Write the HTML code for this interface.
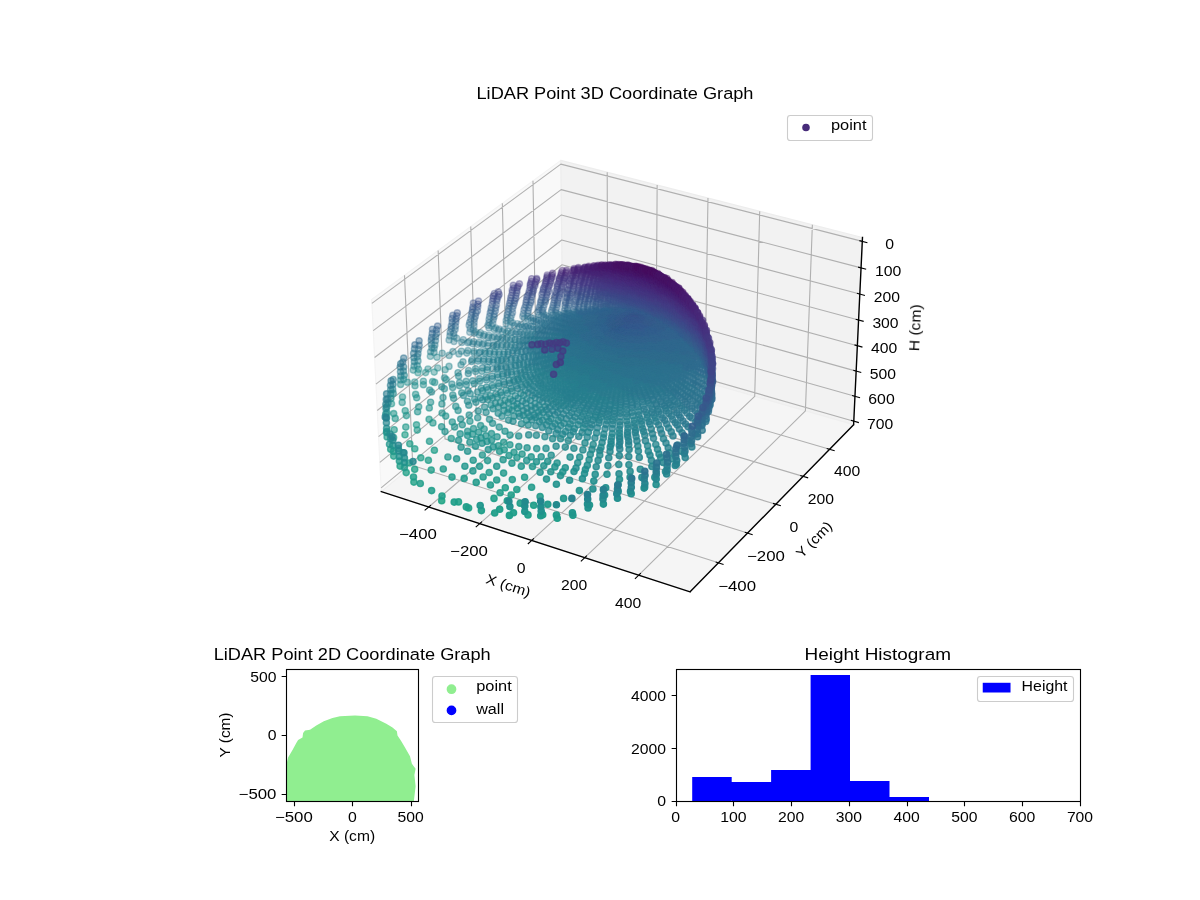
<!DOCTYPE html>
<html><head><meta charset="utf-8"><title>LiDAR Point Coordinate Graphs</title>
<style>html,body{margin:0;padding:0;background:#fff}svg{display:block}text{font-family:"Liberation Sans",sans-serif}</style></head>
<body>
<svg width="1200" height="900" viewBox="0 0 1200 900">
<rect width="1200" height="900" fill="#fff"/>
<g id="panes">
<polygon points="371.69,299.4 560.81,160.37 562.95,341.18 381.3,491.61" fill="#f9f9f9" stroke="#f4f4f4" stroke-width="1.2" stroke-linejoin="round"/>
<polygon points="560.81,160.37 862.49,237.5 853.61,424.77 562.95,341.18" fill="#f2f2f2" stroke="#ededed" stroke-width="1.2" stroke-linejoin="round"/>
<polygon points="381.3,491.61 690.11,591.86 853.61,424.77 562.95,341.18" fill="#f5f5f5" stroke="#efefef" stroke-width="1.2" stroke-linejoin="round"/>
</g>
<path d="M428.69 507L607.74 354.06L607.21 172.23M718.51 562.83L412.73 465.59L404.51 275.27M479.73 523.57L655.9 367.91L657.15 185M747.62 533.08L445 438.86L438.15 250.54M531.73 540.45L704.88 382L707.98 198M775.81 504.28L476.3 412.94L470.75 226.57M584.71 557.64L754.71 396.33L759.71 211.22M803.12 476.37L506.67 387.79L502.35 203.34M638.69 575.17L805.4 410.9L812.37 224.69M829.58 449.32L536.15 363.38L532.98 180.82M371.89 303.39L560.85 164.11L862.3 241.38M373.25 330.61L561.15 189.65L861.05 267.87M374.6 357.54L561.45 214.93L859.8 294.08M375.93 384.17L561.75 239.97L858.57 320.02M377.24 410.52L562.05 264.76L857.36 345.7M378.55 436.6L562.34 289.3L856.15 371.11M379.84 462.39L562.63 313.62L854.96 396.26M381.11 487.91L562.91 337.69L853.78 421.16" fill="none" stroke="#b0b0b0" stroke-width="1.11" stroke-linejoin="round"/>
<path d="M381.3 491.61L690.11 591.86M690.11 591.86L853.61 424.77M853.61 424.77L862.49 237.5" fill="none" stroke="#000" stroke-width="1.4" stroke-linecap="square"/>
<path d="M430.97 505.05L424.66 510.44M715.66 561.92L723.57 564.44M481.98 521.58L475.76 527.08M744.76 532.19L752.68 534.66M533.94 538.42L527.82 544.02M772.94 503.4L780.88 505.82M586.88 555.58L580.86 561.29M800.24 475.51L808.19 477.89M640.83 573.06L634.92 578.89M826.7 448.48L834.67 450.81M859.39 240.64L867.43 242.7M858.14 267.11L866.17 269.21M856.9 293.31L864.93 295.44M855.68 319.24L863.69 321.4M854.46 344.9L862.47 347.1M853.26 370.3L861.26 372.53M852.07 395.44L860.06 397.7M850.89 420.33L858.87 422.62" fill="none" stroke="#000" stroke-width="1.11"/>
<style>#sc circle{stroke-width:1.39px}.c2{fill:#470d60;stroke:#470d60}.c3{fill:#471365;stroke:#471365}.c4{fill:#48186a;stroke:#48186a}.c5{fill:#481d6f;stroke:#481d6f}.c6{fill:#482374;stroke:#482374}.c7{fill:#482878;stroke:#482878}.c8{fill:#472d7b;stroke:#472d7b}.c9{fill:#46327e;stroke:#46327e}.c10{fill:#453781;stroke:#453781}.c11{fill:#443b84;stroke:#443b84}.c12{fill:#424086;stroke:#424086}.c13{fill:#404588;stroke:#404588}.c14{fill:#3e4989;stroke:#3e4989}.c15{fill:#3d4e8a;stroke:#3d4e8a}.c16{fill:#3a538b;stroke:#3a538b}.c17{fill:#38588c;stroke:#38588c}.c18{fill:#365c8d;stroke:#365c8d}.c19{fill:#34608d;stroke:#34608d}.c20{fill:#32648e;stroke:#32648e}.c21{fill:#31688e;stroke:#31688e}.c22{fill:#2f6c8e;stroke:#2f6c8e}.c23{fill:#2d708e;stroke:#2d708e}.c24{fill:#2c738e;stroke:#2c738e}.c25{fill:#2a778e;stroke:#2a778e}.c26{fill:#297b8e;stroke:#297b8e}.c27{fill:#277f8e;stroke:#277f8e}.c28{fill:#26828e;stroke:#26828e}.c29{fill:#24868e;stroke:#24868e}.c30{fill:#238a8d;stroke:#238a8d}.c31{fill:#218e8d;stroke:#218e8d}.c32{fill:#20928c;stroke:#20928c}.c33{fill:#1f968b;stroke:#1f968b}.c34{fill:#1f9a8a;stroke:#1f9a8a}.c35{fill:#1f9e89;stroke:#1f9e89}.c36{fill:#1fa187;stroke:#1fa187}.c37{fill:#21a585;stroke:#21a585}.a0{fill-opacity:0.3;stroke-opacity:0.3}.a1{fill-opacity:0.33;stroke-opacity:0.33}.a2{fill-opacity:0.36;stroke-opacity:0.36}.a3{fill-opacity:0.39;stroke-opacity:0.39}.a4{fill-opacity:0.42;stroke-opacity:0.42}.a5{fill-opacity:0.45;stroke-opacity:0.45}.a6{fill-opacity:0.48;stroke-opacity:0.48}.a7{fill-opacity:0.51;stroke-opacity:0.51}.a8{fill-opacity:0.54;stroke-opacity:0.54}.a9{fill-opacity:0.57;stroke-opacity:0.57}.a10{fill-opacity:0.6;stroke-opacity:0.6}.a11{fill-opacity:0.63;stroke-opacity:0.63}.a12{fill-opacity:0.67;stroke-opacity:0.67}.a13{fill-opacity:0.7;stroke-opacity:0.7}.a14{fill-opacity:0.73;stroke-opacity:0.73}.a15{fill-opacity:0.76;stroke-opacity:0.76}.a16{fill-opacity:0.79;stroke-opacity:0.79}.a17{fill-opacity:0.82;stroke-opacity:0.82}.a18{fill-opacity:0.85;stroke-opacity:0.85}.a19{fill-opacity:0.88;stroke-opacity:0.88}.a20{fill-opacity:0.91;stroke-opacity:0.91}.a21{fill-opacity:0.94;stroke-opacity:0.94}.a22{fill-opacity:0.97;stroke-opacity:0.97}.a23{fill-opacity:1;stroke-opacity:1}</style>
<g id="sc">
<g class="a0">
<circle class="c22" cx="555.8" cy="312.5" r="3.1"/>
<circle class="c22" cx="551.5" cy="312.2" r="3.1"/>
<circle class="c23" cx="527.6" cy="316.2" r="3.1"/>
<circle class="c22" cx="563.9" cy="311.2" r="3.1"/>
<circle class="c22" cx="542.7" cy="312.1" r="3.1"/>
<circle class="c23" cx="543.5" cy="314.4" r="3.1"/>
<circle class="c23" cx="539.3" cy="314.8" r="3.1"/>
<circle class="c23" cx="522.8" cy="316.4" r="3.1"/>
<circle class="c23" cx="557.5" cy="313.7" r="3.1"/>
<circle class="c22" cx="537.7" cy="312.1" r="3.1"/>
<circle class="c22" cx="567.7" cy="310.3" r="3.1"/>
<circle class="c22" cx="551.7" cy="310.1" r="3.1"/>
<circle class="c23" cx="552.8" cy="314.8" r="3.1"/>
<circle class="c24" cx="524.4" cy="318.3" r="3.1"/>
<circle class="c21" cx="538.9" cy="309.8" r="3.1"/>
<circle class="c21" cx="555.8" cy="310" r="3.1"/>
<circle class="c21" cx="542.4" cy="310.1" r="3.1"/>
<circle class="c22" cx="564.3" cy="313.4" r="3.1"/>
<circle class="c23" cx="555.7" cy="315.4" r="3.1"/>
<circle class="c25" cx="506.1" cy="323.7" r="3.1"/>
<circle class="c22" cx="574.3" cy="311.7" r="3.1"/>
<circle class="c25" cx="510.6" cy="321.5" r="3.1"/>
<circle class="c23" cx="530.5" cy="317.5" r="3.1"/>
<circle class="c22" cx="527.9" cy="313" r="3.1"/>
<circle class="c21" cx="564.9" cy="308.2" r="3.1"/>
<circle class="c21" cx="567.7" cy="308.5" r="3.1"/>
<circle class="c21" cx="557.1" cy="307.4" r="3.1"/>
<circle class="c22" cx="523.4" cy="313.7" r="3.1"/>
<circle class="c22" cx="568" cy="312.9" r="3.1"/>
<circle class="c21" cx="552.8" cy="307.7" r="3.1"/>
<circle class="c21" cx="577.9" cy="309.7" r="3.1"/>
<circle class="c21" cx="573.9" cy="309.4" r="3.1"/>
<circle class="c23" cx="546.1" cy="315.4" r="3.1"/>
<circle class="c22" cx="565.8" cy="314.1" r="3.1"/>
<circle class="c23" cx="541.8" cy="315.8" r="3.1"/>
<circle class="c21" cx="528.2" cy="310.8" r="3.1"/>
<circle class="c20" cx="553.1" cy="305.4" r="3.1"/>
<circle class="c24" cx="510.6" cy="318.3" r="3.1"/>
<circle class="c21" cx="578.5" cy="310.9" r="3.1"/>
<circle class="c21" cx="543.4" cy="308" r="3.1"/>
<circle class="c23" cx="559.1" cy="314.9" r="3.1"/>
<circle class="c25" cx="512.6" cy="322.8" r="3.1"/>
<circle class="c24" cx="527.8" cy="319.3" r="3.1"/>
<circle class="c20" cx="539" cy="307.6" r="3.1"/>
<circle class="c22" cx="569.5" cy="313.1" r="3.1"/>
<circle class="c20" cx="557.1" cy="304.8" r="3.1"/>
<circle class="c24" cx="506.1" cy="320.6" r="3.1"/>
<circle class="c20" cx="574.8" cy="306.5" r="3.1"/>
<circle class="c20" cx="578.8" cy="307.4" r="3.1"/>
<circle class="c22" cx="583.6" cy="311.6" r="3.1"/>
<circle class="c22" cx="576.1" cy="312.6" r="3.1"/>
<circle class="c20" cx="544.1" cy="304.9" r="3.1"/>
<circle class="c23" cx="548.7" cy="316.5" r="3.1"/>
<circle class="c21" cx="523.9" cy="310.1" r="3.1"/>
<circle class="c20" cx="568.7" cy="305.3" r="3.1"/>
<circle class="c20" cx="564.9" cy="305.2" r="3.1"/>
<circle class="c23" cx="533.6" cy="318.2" r="3.1"/>
<circle class="c23" cx="543.8" cy="316.9" r="3.1"/>
<circle class="c21" cx="583.6" cy="308.7" r="3.1"/>
<circle class="c25" cx="510.1" cy="325.4" r="3.1"/>
<circle class="c20" cx="528.9" cy="307.7" r="3.1"/>
<circle class="c23" cx="507" cy="317.7" r="3.1"/>
<circle class="c23" cx="557.2" cy="316.5" r="3.1"/>
<circle class="c21" cx="587.6" cy="310.8" r="3.1"/>
<circle class="c22" cx="511.6" cy="315.3" r="3.1"/>
<circle class="c19" cx="565.7" cy="303.2" r="3.1"/>
<circle class="c22" cx="567.5" cy="314.2" r="3.1"/>
<circle class="c25" cx="517.3" cy="323.7" r="3.1"/>
<circle class="c20" cx="540.4" cy="305.1" r="3.1"/>
<circle class="c19" cx="575.2" cy="304.3" r="3.1"/>
<circle class="c20" cx="587.5" cy="308.5" r="3.1"/>
<circle class="c20" cx="529.6" cy="305.1" r="3.1"/>
<circle class="c21" cx="579.5" cy="311.9" r="3.1"/>
<circle class="c19" cx="557.7" cy="302.8" r="3.1"/>
<circle class="c25" cx="491.8" cy="326.1" r="3.1"/>
<circle class="c20" cx="524.7" cy="307.6" r="3.1"/>
<circle class="c19" cx="553.8" cy="303" r="3.1"/>
<circle class="c22" cx="562" cy="315.7" r="3.1"/>
<circle class="c19" cx="569.1" cy="303.1" r="3.1"/>
<circle class="c22" cx="572.1" cy="314" r="3.1"/>
<circle class="c24" cx="531.2" cy="320.7" r="3.1"/>
</g>
<g class="a1">
<circle class="c22" cx="577.2" cy="313.8" r="3.1"/>
<circle class="c20" cx="583.7" cy="306.3" r="3.1"/>
<circle class="c21" cx="512.5" cy="312.5" r="3.1"/>
<circle class="c22" cx="507.2" cy="314.8" r="3.1"/>
<circle class="c19" cx="545.3" cy="301.9" r="3.1"/>
<circle class="c19" cx="525.8" cy="305.1" r="3.1"/>
<circle class="c23" cx="546.1" cy="318.4" r="3.1"/>
<circle class="c26" cx="495.7" cy="328" r="3.1"/>
<circle class="c19" cx="540.6" cy="302.4" r="3.1"/>
<circle class="c19" cx="579.3" cy="304" r="3.1"/>
<circle class="c21" cx="584.4" cy="312.1" r="3.1"/>
<circle class="c21" cx="588.4" cy="311.4" r="3.1"/>
<circle class="c21" cx="592.3" cy="309.9" r="3.1"/>
<circle class="c18" cx="575.8" cy="302" r="3.1"/>
<circle class="c18" cx="557.9" cy="300.5" r="3.1"/>
<circle class="c21" cx="591.4" cy="309.5" r="3.1"/>
<circle class="c18" cx="569.3" cy="300.8" r="3.1"/>
<circle class="c21" cx="508.3" cy="311.8" r="3.1"/>
<circle class="c18" cx="565.5" cy="301.7" r="3.1"/>
<circle class="c20" cx="587.5" cy="306.8" r="3.1"/>
<circle class="c23" cx="550.7" cy="318" r="3.1"/>
<circle class="c18" cx="554.4" cy="300.3" r="3.1"/>
<circle class="c23" cx="536.1" cy="319.5" r="3.1"/>
<circle class="c25" cx="514.4" cy="325.7" r="3.1"/>
<circle class="c24" cx="492.8" cy="323.5" r="3.1"/>
<circle class="c22" cx="581.5" cy="313.4" r="3.1"/>
<circle class="c23" cx="548.8" cy="319.4" r="3.1"/>
<circle class="c19" cx="530.9" cy="302.6" r="3.1"/>
<circle class="c24" cx="521" cy="324.4" r="3.1"/>
<circle class="c23" cx="559.2" cy="317.4" r="3.1"/>
<circle class="c18" cx="545.4" cy="300.2" r="3.1"/>
<circle class="c20" cx="595.5" cy="308.4" r="3.1"/>
<circle class="c22" cx="569.8" cy="315.6" r="3.1"/>
<circle class="c17" cx="566.6" cy="298.1" r="3.1"/>
<circle class="c18" cx="541.1" cy="300.4" r="3.1"/>
<circle class="c22" cx="573" cy="314.5" r="3.1"/>
<circle class="c23" cx="538.6" cy="320.4" r="3.1"/>
<circle class="c19" cx="584.2" cy="304.2" r="3.1"/>
<circle class="c17" cx="559.5" cy="298.1" r="3.1"/>
<circle class="c24" cx="533.6" cy="321.1" r="3.1"/>
<circle class="c18" cx="579.4" cy="301.9" r="3.1"/>
<circle class="c22" cx="563.8" cy="316.9" r="3.1"/>
<circle class="c20" cx="599.4" cy="308.9" r="3.1"/>
<circle class="c21" cx="586.4" cy="312.8" r="3.1"/>
<circle class="c18" cx="575.8" cy="300.1" r="3.1"/>
<circle class="c20" cx="512.5" cy="308.8" r="3.1"/>
<circle class="c25" cx="489" cy="328" r="3.1"/>
<circle class="c25" cx="487.9" cy="325.3" r="3.1"/>
<circle class="c17" cx="569.8" cy="298.3" r="3.1"/>
<circle class="c23" cx="553.4" cy="319" r="3.1"/>
<circle class="c17" cx="554.3" cy="297.6" r="3.1"/>
<circle class="c21" cx="579" cy="313.6" r="3.1"/>
<circle class="c21" cx="596.1" cy="310.3" r="3.1"/>
<circle class="c21" cx="593.5" cy="310.9" r="3.1"/>
<circle class="c19" cx="587.4" cy="304.2" r="3.1"/>
<circle class="c19" cx="593.4" cy="306.1" r="3.1"/>
<circle class="c17" cx="546.1" cy="297.5" r="3.1"/>
<circle class="c19" cx="592.9" cy="303.6" r="3.1"/>
<circle class="c17" cx="542" cy="297.7" r="3.1"/>
<circle class="c18" cx="531.1" cy="300.6" r="3.1"/>
<circle class="c23" cx="493.3" cy="319.6" r="3.1"/>
<circle class="c20" cx="599.5" cy="310" r="3.1"/>
<circle class="c26" cx="494.2" cy="329.4" r="3.1"/>
<circle class="c16" cx="555" cy="295.6" r="3.1"/>
<circle class="c20" cx="603.6" cy="308.9" r="3.1"/>
<circle class="c18" cx="580.5" cy="300.3" r="3.1"/>
<circle class="c18" cx="585" cy="301.5" r="3.1"/>
<circle class="c23" cx="561.3" cy="318.2" r="3.1"/>
<circle class="c25" cx="518.8" cy="326.5" r="3.1"/>
<circle class="c18" cx="588.3" cy="301.2" r="3.1"/>
<circle class="c19" cx="513.3" cy="306" r="3.1"/>
<circle class="c22" cx="570.9" cy="316.2" r="3.1"/>
<circle class="c25" cx="499.1" cy="329" r="3.1"/>
<circle class="c24" cx="489" cy="322.7" r="3.1"/>
<circle class="c16" cx="559.3" cy="296" r="3.1"/>
<circle class="c19" cx="595.7" cy="306.2" r="3.1"/>
<circle class="c20" cx="508.4" cy="308.6" r="3.1"/>
<circle class="c18" cx="526" cy="302.3" r="3.1"/>
<circle class="c17" cx="570.7" cy="296.7" r="3.1"/>
<circle class="c25" cx="524.8" cy="325.9" r="3.1"/>
<circle class="c16" cx="567.1" cy="294.2" r="3.1"/>
<circle class="c17" cx="531.8" cy="296.9" r="3.1"/>
<circle class="c17" cx="526.6" cy="299.9" r="3.1"/>
<circle class="c22" cx="565.3" cy="317.5" r="3.1"/>
<circle class="c17" cx="580.7" cy="297.6" r="3.1"/>
<circle class="c17" cx="566.9" cy="296.8" r="3.1"/>
<circle class="c21" cx="586.9" cy="313.5" r="3.1"/>
<circle class="c19" cx="596.2" cy="304.1" r="3.1"/>
<circle class="c23" cx="536.3" cy="321.9" r="3.1"/>
<circle class="c21" cx="590" cy="312.5" r="3.1"/>
<circle class="c16" cx="547" cy="295.1" r="3.1"/>
<circle class="c22" cx="574.5" cy="315.8" r="3.1"/>
<circle class="c19" cx="600.3" cy="307.2" r="3.1"/>
<circle class="c19" cx="509.2" cy="305.8" r="3.1"/>
<circle class="c17" cx="577.2" cy="297.6" r="3.1"/>
<circle class="c21" cx="581.7" cy="313.6" r="3.1"/>
<circle class="c21" cx="593.3" cy="311.8" r="3.1"/>
<circle class="c17" cx="585.1" cy="299.2" r="3.1"/>
<circle class="c16" cx="541.9" cy="294.4" r="3.1"/>
<circle class="c23" cx="555.3" cy="319.7" r="3.1"/>
<circle class="c22" cx="563.6" cy="318.4" r="3.1"/>
<circle class="c20" cx="596.3" cy="311.2" r="3.1"/>
<circle class="c23" cx="551.6" cy="320.5" r="3.1"/>
<circle class="c17" cx="589.2" cy="299.5" r="3.1"/>
<circle class="c15" cx="556.2" cy="293.2" r="3.1"/>
<circle class="c23" cx="541.4" cy="322.1" r="3.1"/>
<circle class="c20" cx="599.7" cy="311.3" r="3.1"/>
<circle class="c25" cx="504.2" cy="329.5" r="3.1"/>
<circle class="c18" cx="514.2" cy="303.2" r="3.1"/>
<circle class="c19" cx="602.9" cy="306.6" r="3.1"/>
<circle class="c23" cx="489" cy="319.5" r="3.1"/>
<circle class="c21" cx="579.8" cy="314.9" r="3.1"/>
<circle class="c16" cx="560.2" cy="293.9" r="3.1"/>
<circle class="c16" cx="577.6" cy="295.5" r="3.1"/>
<circle class="c16" cx="570.4" cy="294.5" r="3.1"/>
<circle class="c20" cx="606.1" cy="309.4" r="3.1"/>
<circle class="c25" cx="522.3" cy="327.2" r="3.1"/>
<circle class="c16" cx="526.9" cy="297" r="3.1"/>
<circle class="c22" cx="494.1" cy="316.8" r="3.1"/>
<circle class="c22" cx="571.9" cy="317.7" r="3.1"/>
<circle class="c15" cx="547" cy="293.1" r="3.1"/>
<circle class="c24" cx="539.9" cy="323.4" r="3.1"/>
<circle class="c20" cx="603.4" cy="311.2" r="3.1"/>
<circle class="c15" cx="560.3" cy="291.8" r="3.1"/>
<circle class="c21" cx="583.6" cy="314.8" r="3.1"/>
<circle class="c21" cx="590.4" cy="313.6" r="3.1"/>
<circle class="c20" cx="596.6" cy="311.6" r="3.1"/>
<circle class="c18" cx="593.3" cy="301.7" r="3.1"/>
<circle class="c24" cx="544.3" cy="323.2" r="3.1"/>
<circle class="c23" cx="553.8" cy="320.8" r="3.1"/>
<circle class="c18" cx="596.4" cy="301.9" r="3.1"/>
<circle class="c16" cx="532.3" cy="294.5" r="3.1"/>
<circle class="c15" cx="555.3" cy="291.5" r="3.1"/>
<circle class="c25" cx="498.4" cy="330.3" r="3.1"/>
<circle class="c20" cx="609.8" cy="310.2" r="3.1"/>
<circle class="c21" cx="580.7" cy="315.7" r="3.1"/>
<circle class="c15" cx="542.9" cy="292.2" r="3.1"/>
<circle class="c15" cx="567" cy="292.4" r="3.1"/>
<circle class="c15" cx="572.1" cy="292.8" r="3.1"/>
<circle class="c22" cx="566.8" cy="318.4" r="3.1"/>
<circle class="c18" cx="600.3" cy="303.7" r="3.1"/>
<circle class="c16" cx="585.5" cy="297.3" r="3.1"/>
<circle class="c18" cx="509.7" cy="303.1" r="3.1"/>
<circle class="c19" cx="606.4" cy="306.9" r="3.1"/>
<circle class="c15" cx="548.4" cy="291.4" r="3.1"/>
<circle class="c16" cx="581.1" cy="296.2" r="3.1"/>
<circle class="c15" cx="577.3" cy="293.6" r="3.1"/>
<circle class="c20" cx="604" cy="311.7" r="3.1"/>
<circle class="c22" cx="576" cy="316.9" r="3.1"/>
<circle class="c24" cx="527.7" cy="326.1" r="3.1"/>
<circle class="c21" cx="595.3" cy="313" r="3.1"/>
<circle class="c23" cx="557.3" cy="321.2" r="3.1"/>
<circle class="c21" cx="588.6" cy="314.7" r="3.1"/>
<circle class="c22" cx="489.6" cy="316.4" r="3.1"/>
<circle class="c17" cx="593.1" cy="299.3" r="3.1"/>
<circle class="c16" cx="527.9" cy="295.5" r="3.1"/>
<circle class="c17" cx="589.2" cy="298.3" r="3.1"/>
<circle class="c15" cx="532.6" cy="292.3" r="3.1"/>
<circle class="c20" cx="606.4" cy="310.6" r="3.1"/>
<circle class="c21" cx="584.9" cy="316" r="3.1"/>
<circle class="c26" cx="508" cy="331.2" r="3.1"/>
<circle class="c17" cx="514.7" cy="300.7" r="3.1"/>
<circle class="c17" cx="597.6" cy="299.5" r="3.1"/>
<circle class="c16" cx="586.4" cy="294.8" r="3.1"/>
<circle class="c14" cx="543.3" cy="289.9" r="3.1"/>
<circle class="c16" cx="581.4" cy="294.3" r="3.1"/>
<circle class="c18" cx="603.4" cy="304.3" r="3.1"/>
<circle class="c15" cx="578.1" cy="292" r="3.1"/>
<circle class="c19" cx="606.4" cy="305.7" r="3.1"/>
<circle class="c21" cx="591.8" cy="314.6" r="3.1"/>
<circle class="c21" cx="494.2" cy="314.3" r="3.1"/>
<circle class="c16" cx="594.7" cy="297" r="3.1"/>
<circle class="c20" cx="600.7" cy="312.5" r="3.1"/>
<circle class="c19" cx="609.1" cy="308.1" r="3.1"/>
<circle class="c14" cx="567.7" cy="290.3" r="3.1"/>
<circle class="c14" cx="561.5" cy="289.6" r="3.1"/>
<circle class="c26" cx="502.3" cy="331.7" r="3.1"/>
<circle class="c18" cx="600.8" cy="302.1" r="3.1"/>
<circle class="c21" cx="589" cy="314.9" r="3.1"/>
<circle class="c20" cx="495.3" cy="311.1" r="3.1"/>
<circle class="c22" cx="568.7" cy="319.5" r="3.1"/>
<circle class="c23" cx="542.1" cy="323.6" r="3.1"/>
<circle class="c14" cx="548.2" cy="289.1" r="3.1"/>
<circle class="c21" cx="597.4" cy="313.4" r="3.1"/>
<circle class="c15" cx="572.9" cy="291" r="3.1"/>
<circle class="c14" cx="557.2" cy="289.2" r="3.1"/>
<circle class="c21" cx="595.5" cy="313.6" r="3.1"/>
<circle class="c22" cx="564.8" cy="319.9" r="3.1"/>
<circle class="c16" cx="589.6" cy="295.7" r="3.1"/>
<circle class="c23" cx="546.5" cy="323.3" r="3.1"/>
<circle class="c24" cx="525.9" cy="326.9" r="3.1"/>
<circle class="c15" cx="586.3" cy="294.2" r="3.1"/>
<circle class="c18" cx="603.8" cy="302.5" r="3.1"/>
<circle class="c19" cx="612.1" cy="309.4" r="3.1"/>
<circle class="c17" cx="510.6" cy="300.6" r="3.1"/>
<circle class="c23" cx="555.6" cy="321.3" r="3.1"/>
<circle class="c17" cx="600.3" cy="299.8" r="3.1"/>
<circle class="c14" cx="568.2" cy="289.3" r="3.1"/>
<circle class="c20" cx="611.8" cy="311" r="3.1"/>
<circle class="c22" cx="573.9" cy="318.1" r="3.1"/>
<circle class="c18" cx="609.9" cy="305.8" r="3.1"/>
<circle class="c15" cx="581.7" cy="292.3" r="3.1"/>
<circle class="c16" cx="515.8" cy="298.4" r="3.1"/>
<circle class="c15" cx="528.8" cy="293" r="3.1"/>
<circle class="c23" cx="559.2" cy="321" r="3.1"/>
<circle class="c25" cx="473.3" cy="329.7" r="3.1"/>
<circle class="c14" cx="543.5" cy="288.2" r="3.1"/>
<circle class="c13" cx="557.1" cy="286.8" r="3.1"/>
<circle class="c20" cx="615.6" cy="309.9" r="3.1"/>
<circle class="c24" cx="531.1" cy="326.5" r="3.1"/>
<circle class="c14" cx="533.5" cy="290.5" r="3.1"/>
<circle class="c26" cx="475.8" cy="332.1" r="3.1"/>
<circle class="c22" cx="578.2" cy="317.8" r="3.1"/>
<circle class="c20" cx="609.4" cy="310.4" r="3.1"/>
<circle class="c14" cx="582.2" cy="290.6" r="3.1"/>
<circle class="c14" cx="579.2" cy="290.4" r="3.1"/>
<circle class="c20" cx="606.6" cy="311.4" r="3.1"/>
<circle class="c20" cx="601.8" cy="312.9" r="3.1"/>
<circle class="c20" cx="604.3" cy="311.6" r="3.1"/>
<circle class="c16" cx="597" cy="298.2" r="3.1"/>
<circle class="c13" cx="548.8" cy="286.6" r="3.1"/>
<circle class="c13" cx="561.6" cy="287.4" r="3.1"/>
<circle class="c16" cx="595.1" cy="296.2" r="3.1"/>
<circle class="c20" cx="490.2" cy="312.9" r="3.1"/>
<circle class="c15" cx="590.3" cy="293.7" r="3.1"/>
<circle class="c19" cx="612.7" cy="307.3" r="3.1"/>
<circle class="c21" cx="598.9" cy="314.1" r="3.1"/>
<circle class="c16" cx="515.9" cy="295.6" r="3.1"/>
<circle class="c22" cx="576.7" cy="319" r="3.1"/>
<circle class="c21" cx="582.2" cy="317.3" r="3.1"/>
<circle class="c14" cx="529.4" cy="290.6" r="3.1"/>
<circle class="c18" cx="607.4" cy="303.2" r="3.1"/>
<circle class="c22" cx="566.8" cy="320.1" r="3.1"/>
<circle class="c26" cx="506.1" cy="333" r="3.1"/>
<circle class="c21" cx="585.2" cy="316.7" r="3.1"/>
<circle class="c16" cx="601" cy="297.6" r="3.1"/>
<circle class="c14" cx="586.9" cy="291.7" r="3.1"/>
<circle class="c25" cx="512.3" cy="331.9" r="3.1"/>
<circle class="c24" cx="544.9" cy="325.1" r="3.1"/>
<circle class="c13" cx="544.7" cy="286.4" r="3.1"/>
<circle class="c17" cx="603.9" cy="300.8" r="3.1"/>
<circle class="c19" cx="495.6" cy="307.9" r="3.1"/>
<circle class="c16" cx="510.7" cy="298.1" r="3.1"/>
<circle class="c22" cx="569.9" cy="320.3" r="3.1"/>
<circle class="c14" cx="533.3" cy="288.5" r="3.1"/>
<circle class="c21" cx="592.6" cy="315.6" r="3.1"/>
<circle class="c13" cx="573.5" cy="286.5" r="3.1"/>
<circle class="c21" cx="596.2" cy="314.8" r="3.1"/>
<circle class="c14" cx="572.9" cy="289" r="3.1"/>
<circle class="c22" cx="579.7" cy="318.6" r="3.1"/>
<circle class="c23" cx="548.8" cy="323.6" r="3.1"/>
<circle class="c13" cx="562.2" cy="285.7" r="3.1"/>
<circle class="c13" cx="557.5" cy="285.4" r="3.1"/>
<circle class="c23" cx="558.1" cy="322" r="3.1"/>
<circle class="c24" cx="533.8" cy="326.9" r="3.1"/>
<circle class="c13" cx="569.2" cy="286" r="3.1"/>
<circle class="c18" cx="609.6" cy="304.1" r="3.1"/>
<circle class="c22" cx="583.2" cy="318.1" r="3.1"/>
<circle class="c20" cx="491" cy="310.6" r="3.1"/>
<circle class="c19" cx="615.3" cy="307.5" r="3.1"/>
<circle class="c23" cx="561.5" cy="322.2" r="3.1"/>
<circle class="c24" cx="528.9" cy="328.3" r="3.1"/>
<circle class="c13" cx="530.1" cy="287.5" r="3.1"/>
<circle class="c14" cx="590.7" cy="292" r="3.1"/>
<circle class="c26" cx="480.5" cy="332.7" r="3.1"/>
<circle class="c13" cx="578.8" cy="288.5" r="3.1"/>
<circle class="c19" cx="615.1" cy="310.6" r="3.1"/>
<circle class="c21" cx="590" cy="316" r="3.1"/>
<circle class="c15" cx="511.5" cy="295.5" r="3.1"/>
<circle class="c15" cx="597.6" cy="295.8" r="3.1"/>
<circle class="c12" cx="569.2" cy="284.8" r="3.1"/>
<circle class="c20" cx="612.6" cy="311.3" r="3.1"/>
<circle class="c14" cx="587.5" cy="289.8" r="3.1"/>
<circle class="c20" cx="606.7" cy="312.3" r="3.1"/>
<circle class="c12" cx="549.6" cy="285" r="3.1"/>
<circle class="c25" cx="469.8" cy="332.2" r="3.1"/>
<circle class="c12" cx="545.2" cy="284.1" r="3.1"/>
<circle class="c25" cx="516.7" cy="332" r="3.1"/>
<circle class="c20" cx="609" cy="312" r="3.1"/>
<circle class="c26" cx="510.9" cy="333" r="3.1"/>
<circle class="c13" cx="534.9" cy="285.9" r="3.1"/>
<circle class="c19" cx="617.4" cy="310.2" r="3.1"/>
<circle class="c13" cx="583" cy="288.5" r="3.1"/>
<circle class="c21" cx="597.2" cy="315.8" r="3.1"/>
<circle class="c17" cx="607.8" cy="301.2" r="3.1"/>
<circle class="c20" cx="604.1" cy="312.9" r="3.1"/>
<circle class="c15" cx="598.1" cy="294.4" r="3.1"/>
<circle class="c12" cx="563.4" cy="283.3" r="3.1"/>
<circle class="c22" cx="577" cy="319.8" r="3.1"/>
<circle class="c18" cx="611.9" cy="304.8" r="3.1"/>
<circle class="c16" cx="603.9" cy="298.3" r="3.1"/>
<circle class="c26" cx="484.3" cy="334.5" r="3.1"/>
<circle class="c13" cx="579.2" cy="286.2" r="3.1"/>
<circle class="c15" cx="595" cy="293.9" r="3.1"/>
<circle class="c24" cx="547.3" cy="326.4" r="3.1"/>
<circle class="c19" cx="618" cy="308.6" r="3.1"/>
<circle class="c12" cx="557.8" cy="283.7" r="3.1"/>
<circle class="c18" cx="496.4" cy="305.1" r="3.1"/>
<circle class="c21" cx="587" cy="317.7" r="3.1"/>
<circle class="c21" cx="593" cy="315.9" r="3.1"/>
<circle class="c15" cx="516.7" cy="293.1" r="3.1"/>
<circle class="c20" cx="601.9" cy="313.7" r="3.1"/>
<circle class="c20" cx="599.4" cy="314.5" r="3.1"/>
<circle class="c17" cx="610.9" cy="301.9" r="3.1"/>
<circle class="c23" cx="474" cy="325.9" r="3.1"/>
<circle class="c22" cx="580.8" cy="319.4" r="3.1"/>
<circle class="c21" cx="590.8" cy="316.4" r="3.1"/>
<circle class="c13" cx="583.3" cy="286.9" r="3.1"/>
<circle class="c14" cx="595.2" cy="291.9" r="3.1"/>
<circle class="c16" cx="608.1" cy="298.7" r="3.1"/>
<circle class="c12" cx="530.2" cy="285.2" r="3.1"/>
<circle class="c19" cx="491.2" cy="307.8" r="3.1"/>
<circle class="c19" cx="620.2" cy="309.6" r="3.1"/>
<circle class="c12" cx="550.3" cy="282.7" r="3.1"/>
<circle class="c12" cx="573.5" cy="285.4" r="3.1"/>
<circle class="c25" cx="474.3" cy="333.3" r="3.1"/>
<circle class="c24" cx="532.6" cy="329.3" r="3.1"/>
<circle class="c22" cx="569" cy="321.1" r="3.1"/>
<circle class="c23" cx="563.2" cy="323.2" r="3.1"/>
<circle class="c18" cx="615.8" cy="305.2" r="3.1"/>
<circle class="c22" cx="572.3" cy="320.8" r="3.1"/>
<circle class="c19" cx="612.5" cy="311.3" r="3.1"/>
<circle class="c13" cx="587.2" cy="288.2" r="3.1"/>
<circle class="c14" cx="591" cy="291.4" r="3.1"/>
<circle class="c12" cx="534.8" cy="284.2" r="3.1"/>
<circle class="c12" cx="574.1" cy="283.5" r="3.1"/>
<circle class="c23" cx="560.2" cy="323" r="3.1"/>
<circle class="c23" cx="551.2" cy="324.8" r="3.1"/>
<circle class="c15" cx="601.4" cy="295.7" r="3.1"/>
<circle class="c17" cx="613.3" cy="301.9" r="3.1"/>
<circle class="c14" cx="516.9" cy="290.7" r="3.1"/>
<circle class="c24" cx="537.3" cy="328.7" r="3.1"/>
<circle class="c20" cx="602.9" cy="314.2" r="3.1"/>
<circle class="c20" cx="607.5" cy="312.8" r="3.1"/>
<circle class="c12" cx="570.6" cy="282.7" r="3.1"/>
<circle class="c12" cx="545.8" cy="282.6" r="3.1"/>
<circle class="c11" cx="559" cy="281.4" r="3.1"/>
<circle class="c21" cx="584.4" cy="318.3" r="3.1"/>
<circle class="c15" cx="601.4" cy="294.5" r="3.1"/>
<circle class="c12" cx="579.3" cy="284.8" r="3.1"/>
<circle class="c19" cx="617.3" cy="311.4" r="3.1"/>
<circle class="c14" cx="512.3" cy="292.4" r="3.1"/>
<circle class="c18" cx="617.8" cy="306.4" r="3.1"/>
<circle class="c22" cx="474.1" cy="322.5" r="3.1"/>
<circle class="c14" cx="599.2" cy="292.3" r="3.1"/>
<circle class="c16" cx="610.3" cy="300" r="3.1"/>
<circle class="c24" cx="470.2" cy="328.6" r="3.1"/>
<circle class="c11" cx="550.9" cy="281" r="3.1"/>
<circle class="c15" cx="604.5" cy="296.3" r="3.1"/>
<circle class="c25" cx="520.6" cy="332.2" r="3.1"/>
<circle class="c19" cx="620.4" cy="311.1" r="3.1"/>
<circle class="c14" cx="595.7" cy="290.5" r="3.1"/>
<circle class="c20" cx="604.8" cy="313.7" r="3.1"/>
<circle class="c11" cx="563.8" cy="281.7" r="3.1"/>
<circle class="c18" cx="621" cy="307.8" r="3.1"/>
<circle class="c17" cx="496.8" cy="301" r="3.1"/>
<circle class="c11" cx="569.8" cy="281" r="3.1"/>
<circle class="c21" cx="594.2" cy="316.7" r="3.1"/>
<circle class="c20" cx="599.2" cy="315.2" r="3.1"/>
<circle class="c11" cx="563.4" cy="280" r="3.1"/>
<circle class="c13" cx="591.3" cy="288.7" r="3.1"/>
<circle class="c19" cx="615" cy="311.3" r="3.1"/>
<circle class="c13" cx="587.6" cy="287.3" r="3.1"/>
<circle class="c15" cx="604.9" cy="294.9" r="3.1"/>
<circle class="c17" cx="616" cy="303.1" r="3.1"/>
<circle class="c12" cx="582.9" cy="284.6" r="3.1"/>
<circle class="c11" cx="574" cy="281.7" r="3.1"/>
<circle class="c26" cx="488.8" cy="335.4" r="3.1"/>
<circle class="c11" cx="535.6" cy="281.9" r="3.1"/>
<circle class="c22" cx="578.7" cy="320.1" r="3.1"/>
<circle class="c20" cx="609.5" cy="312.7" r="3.1"/>
<circle class="c25" cx="515.4" cy="333.8" r="3.1"/>
<circle class="c16" cx="613.5" cy="300.5" r="3.1"/>
<circle class="c12" cx="530.5" cy="283.6" r="3.1"/>
<circle class="c14" cx="601.9" cy="292.5" r="3.1"/>
<circle class="c16" cx="497.1" cy="298.9" r="3.1"/>
<circle class="c13" cx="512.2" cy="290.1" r="3.1"/>
<circle class="c23" cx="554.3" cy="325" r="3.1"/>
<circle class="c22" cx="570" cy="321.9" r="3.1"/>
<circle class="c19" cx="623.3" cy="308.6" r="3.1"/>
<circle class="c23" cx="469.1" cy="325.2" r="3.1"/>
<circle class="c23" cx="550.4" cy="326.4" r="3.1"/>
<circle class="c24" cx="536.2" cy="329.3" r="3.1"/>
<circle class="c17" cx="492.2" cy="304.4" r="3.1"/>
<circle class="c13" cx="592.1" cy="287.1" r="3.1"/>
<circle class="c18" cx="621.2" cy="305.3" r="3.1"/>
</g>
<g class="a2">
<circle class="c23" cx="562.1" cy="323.6" r="3.1"/>
<circle class="c19" cx="625.2" cy="309.9" r="3.1"/>
<circle class="c11" cx="559.3" cy="279.6" r="3.1"/>
<circle class="c13" cx="517.3" cy="287.9" r="3.1"/>
<circle class="c13" cx="598.8" cy="290.1" r="3.1"/>
<circle class="c10" cx="551.1" cy="278.8" r="3.1"/>
<circle class="c11" cx="546.1" cy="281" r="3.1"/>
<circle class="c15" cx="608.2" cy="297.3" r="3.1"/>
<circle class="c22" cx="573.9" cy="321.7" r="3.1"/>
<circle class="c20" cx="597.9" cy="315.8" r="3.1"/>
<circle class="c26" cx="479.4" cy="334.9" r="3.1"/>
<circle class="c24" cx="540.6" cy="328.5" r="3.1"/>
<circle class="c17" cx="618.8" cy="304.5" r="3.1"/>
<circle class="c16" cx="616.2" cy="301.2" r="3.1"/>
<circle class="c19" cx="622.2" cy="310.4" r="3.1"/>
<circle class="c11" cx="579.6" cy="282.6" r="3.1"/>
<circle class="c21" cx="588.1" cy="317.5" r="3.1"/>
<circle class="c20" cx="608.3" cy="314.4" r="3.1"/>
<circle class="c21" cx="474.4" cy="319.1" r="3.1"/>
<circle class="c13" cx="595.2" cy="288.7" r="3.1"/>
<circle class="c22" cx="582" cy="320" r="3.1"/>
<circle class="c21" cx="592.2" cy="318.1" r="3.1"/>
<circle class="c15" cx="608.4" cy="295.6" r="3.1"/>
<circle class="c16" cx="610.8" cy="298.2" r="3.1"/>
<circle class="c12" cx="518.1" cy="286.3" r="3.1"/>
<circle class="c20" cx="605.6" cy="314.6" r="3.1"/>
<circle class="c16" cx="492.6" cy="301.1" r="3.1"/>
<circle class="c26" cx="483.4" cy="336.1" r="3.1"/>
<circle class="c11" cx="531.3" cy="281.5" r="3.1"/>
<circle class="c19" cx="619.6" cy="311.1" r="3.1"/>
<circle class="c26" cx="494.2" cy="336.6" r="3.1"/>
<circle class="c21" cx="595.6" cy="317.8" r="3.1"/>
<circle class="c12" cx="588.7" cy="285.4" r="3.1"/>
<circle class="c11" cx="583.6" cy="283.3" r="3.1"/>
<circle class="c21" cx="585.2" cy="318.9" r="3.1"/>
<circle class="c20" cx="610.8" cy="312.9" r="3.1"/>
<circle class="c21" cx="589" cy="319.2" r="3.1"/>
<circle class="c19" cx="624.8" cy="311.3" r="3.1"/>
<circle class="c20" cx="612.5" cy="313" r="3.1"/>
<circle class="c17" cx="618.8" cy="302.1" r="3.1"/>
<circle class="c19" cx="614.7" cy="312.1" r="3.1"/>
<circle class="c10" cx="536.6" cy="279.7" r="3.1"/>
<circle class="c10" cx="564.2" cy="278.4" r="3.1"/>
<circle class="c15" cx="498.2" cy="296.6" r="3.1"/>
<circle class="c10" cx="546.6" cy="278.5" r="3.1"/>
<circle class="c12" cx="596.1" cy="286.6" r="3.1"/>
<circle class="c10" cx="552.1" cy="277.1" r="3.1"/>
<circle class="c22" cx="565.3" cy="323.3" r="3.1"/>
<circle class="c14" cx="605" cy="293.1" r="3.1"/>
<circle class="c23" cx="552.1" cy="326.7" r="3.1"/>
<circle class="c11" cx="574.6" cy="280.6" r="3.1"/>
<circle class="c10" cx="547.2" cy="276.8" r="3.1"/>
<circle class="c10" cx="570.5" cy="279" r="3.1"/>
<circle class="c11" cx="584.3" cy="282.3" r="3.1"/>
<circle class="c25" cx="524.6" cy="333.6" r="3.1"/>
<circle class="c20" cx="475.3" cy="316.4" r="3.1"/>
<circle class="c11" cx="581" cy="281.3" r="3.1"/>
<circle class="c14" cx="602.5" cy="291.3" r="3.1"/>
<circle class="c25" cx="519" cy="333.8" r="3.1"/>
<circle class="c22" cx="469.7" cy="322.3" r="3.1"/>
<circle class="c16" cx="613.8" cy="298.7" r="3.1"/>
<circle class="c13" cx="599.2" cy="289" r="3.1"/>
<circle class="c12" cx="591.9" cy="285.7" r="3.1"/>
<circle class="c13" cx="513.7" cy="288" r="3.1"/>
<circle class="c19" cx="617.4" cy="312.5" r="3.1"/>
<circle class="c22" cx="583.5" cy="321.3" r="3.1"/>
<circle class="c20" cx="603.1" cy="315.4" r="3.1"/>
<circle class="c20" cx="613.4" cy="313.6" r="3.1"/>
<circle class="c19" cx="622.7" cy="310.9" r="3.1"/>
<circle class="c22" cx="566.9" cy="323.4" r="3.1"/>
<circle class="c23" cx="556.7" cy="326.1" r="3.1"/>
<circle class="c10" cx="559.4" cy="278.2" r="3.1"/>
<circle class="c18" cx="623.9" cy="307" r="3.1"/>
<circle class="c23" cx="564.1" cy="324.5" r="3.1"/>
<circle class="c22" cx="572.1" cy="322.9" r="3.1"/>
<circle class="c20" cx="600.1" cy="316.4" r="3.1"/>
<circle class="c21" cx="587.1" cy="319.9" r="3.1"/>
<circle class="c15" cx="610.7" cy="295.8" r="3.1"/>
<circle class="c10" cx="571.2" cy="278.2" r="3.1"/>
<circle class="c22" cx="580.4" cy="321.4" r="3.1"/>
<circle class="c21" cx="592.7" cy="318.6" r="3.1"/>
<circle class="c13" cx="603.2" cy="289.1" r="3.1"/>
<circle class="c24" cx="542.7" cy="329.5" r="3.1"/>
<circle class="c12" cx="599.4" cy="287.5" r="3.1"/>
<circle class="c18" cx="625.9" cy="307.5" r="3.1"/>
<circle class="c11" cx="589.4" cy="283.6" r="3.1"/>
<circle class="c19" cx="615.2" cy="312.7" r="3.1"/>
<circle class="c10" cx="575.3" cy="278.2" r="3.1"/>
<circle class="c11" cx="519.4" cy="283.8" r="3.1"/>
<circle class="c22" cx="575.3" cy="321.9" r="3.1"/>
<circle class="c24" cx="538.7" cy="330.2" r="3.1"/>
<circle class="c15" cx="493.2" cy="298.6" r="3.1"/>
<circle class="c9" cx="560.4" cy="276.6" r="3.1"/>
<circle class="c20" cx="598.1" cy="317" r="3.1"/>
<circle class="c14" cx="608.5" cy="293.4" r="3.1"/>
<circle class="c26" cx="488.3" cy="337.4" r="3.1"/>
<circle class="c9" cx="572.2" cy="276.1" r="3.1"/>
<circle class="c26" cx="498.4" cy="337.3" r="3.1"/>
<circle class="c17" cx="621.5" cy="304.2" r="3.1"/>
<circle class="c10" cx="531.7" cy="278.7" r="3.1"/>
<circle class="c20" cx="607.4" cy="315.4" r="3.1"/>
<circle class="c20" cx="610.7" cy="313.7" r="3.1"/>
<circle class="c19" cx="622.5" cy="312.4" r="3.1"/>
<circle class="c12" cx="596.3" cy="285.9" r="3.1"/>
<circle class="c10" cx="581" cy="279.6" r="3.1"/>
<circle class="c18" cx="627.6" cy="309.7" r="3.1"/>
<circle class="c16" cx="616.4" cy="299.5" r="3.1"/>
<circle class="c10" cx="564.8" cy="277.6" r="3.1"/>
<circle class="c22" cx="581.1" cy="322.2" r="3.1"/>
<circle class="c9" cx="547.3" cy="275" r="3.1"/>
<circle class="c12" cx="513.3" cy="285.4" r="3.1"/>
<circle class="c14" cx="609" cy="291.9" r="3.1"/>
<circle class="c25" cx="527.6" cy="333.6" r="3.1"/>
<circle class="c19" cx="618.3" cy="312.7" r="3.1"/>
<circle class="c11" cx="593" cy="284" r="3.1"/>
<circle class="c21" cx="595.8" cy="318.9" r="3.1"/>
<circle class="c12" cx="599.4" cy="285.6" r="3.1"/>
<circle class="c20" cx="600.9" cy="316.9" r="3.1"/>
<circle class="c19" cx="629.4" cy="311.4" r="3.1"/>
<circle class="c10" cx="581.4" cy="277.9" r="3.1"/>
<circle class="c10" cx="536.7" cy="278.6" r="3.1"/>
<circle class="c10" cx="584.8" cy="280.3" r="3.1"/>
<circle class="c14" cx="499.1" cy="294.4" r="3.1"/>
<circle class="c20" cx="605.9" cy="314.6" r="3.1"/>
<circle class="c14" cx="605.8" cy="292.2" r="3.1"/>
<circle class="c15" cx="613.9" cy="296.7" r="3.1"/>
<circle class="c21" cx="589.9" cy="319.8" r="3.1"/>
<circle class="c23" cx="558.7" cy="326.7" r="3.1"/>
<circle class="c21" cx="588.3" cy="320.6" r="3.1"/>
<circle class="c19" cx="625" cy="312.3" r="3.1"/>
<circle class="c25" cx="523" cy="334.5" r="3.1"/>
<circle class="c24" cx="542.5" cy="330.2" r="3.1"/>
<circle class="c9" cx="551.9" cy="275.2" r="3.1"/>
<circle class="c16" cx="618.6" cy="300.7" r="3.1"/>
<circle class="c17" cx="625.7" cy="305.4" r="3.1"/>
<circle class="c9" cx="575.8" cy="276.1" r="3.1"/>
<circle class="c11" cx="596.3" cy="284.1" r="3.1"/>
<circle class="c19" cx="476" cy="313" r="3.1"/>
<circle class="c11" cx="593.1" cy="281.4" r="3.1"/>
<circle class="c8" cx="552.6" cy="273.4" r="3.1"/>
<circle class="c19" cx="620.7" cy="311.8" r="3.1"/>
<circle class="c21" cx="470.8" cy="318.9" r="3.1"/>
<circle class="c9" cx="561.1" cy="274.7" r="3.1"/>
<circle class="c9" cx="565.2" cy="275.5" r="3.1"/>
<circle class="c17" cx="623.7" cy="305.1" r="3.1"/>
<circle class="c14" cx="611.7" cy="294" r="3.1"/>
<circle class="c13" cx="605.3" cy="290.1" r="3.1"/>
<circle class="c12" cx="602.7" cy="287.8" r="3.1"/>
<circle class="c10" cx="585.4" cy="278.3" r="3.1"/>
<circle class="c22" cx="576.8" cy="323.2" r="3.1"/>
<circle class="c20" cx="603.4" cy="316.1" r="3.1"/>
<circle class="c22" cx="565.9" cy="324.7" r="3.1"/>
<circle class="c10" cx="589.5" cy="280.3" r="3.1"/>
<circle class="c16" cx="621.4" cy="301.3" r="3.1"/>
<circle class="c26" cx="492.1" cy="337.6" r="3.1"/>
<circle class="c22" cx="573.4" cy="323.4" r="3.1"/>
<circle class="c14" cx="611.8" cy="292.8" r="3.1"/>
<circle class="c15" cx="617" cy="297.3" r="3.1"/>
<circle class="c19" cx="616.2" cy="313.6" r="3.1"/>
<circle class="c11" cx="589" cy="282.3" r="3.1"/>
<circle class="c21" cx="593.9" cy="319.2" r="3.1"/>
<circle class="c23" cx="554.5" cy="327.9" r="3.1"/>
<circle class="c21" cx="585" cy="321.4" r="3.1"/>
<circle class="c20" cx="606.3" cy="315" r="3.1"/>
<circle class="c14" cx="614.6" cy="295" r="3.1"/>
<circle class="c19" cx="613" cy="314.2" r="3.1"/>
<circle class="c20" cx="610.3" cy="314.6" r="3.1"/>
<circle class="c22" cx="575.5" cy="324.2" r="3.1"/>
<circle class="c19" cx="627.4" cy="311.4" r="3.1"/>
<circle class="c8" cx="561.3" cy="272.8" r="3.1"/>
<circle class="c22" cx="582.7" cy="322.2" r="3.1"/>
<circle class="c11" cx="600.3" cy="284.5" r="3.1"/>
<circle class="c19" cx="477.4" cy="310.7" r="3.1"/>
<circle class="c20" cx="604.8" cy="316.7" r="3.1"/>
<circle class="c13" cx="498.3" cy="291.9" r="3.1"/>
<circle class="c9" cx="575.8" cy="274.9" r="3.1"/>
<circle class="c21" cx="598.5" cy="318.4" r="3.1"/>
<circle class="c12" cx="603.5" cy="286.6" r="3.1"/>
<circle class="c23" cx="569.3" cy="325.4" r="3.1"/>
<circle class="c14" cx="493.3" cy="296" r="3.1"/>
<circle class="c26" cx="502.4" cy="337.8" r="3.1"/>
<circle class="c20" cx="608.1" cy="315.7" r="3.1"/>
<circle class="c18" cx="627.9" cy="307.3" r="3.1"/>
<circle class="c8" cx="566" cy="273.2" r="3.1"/>
<circle class="c10" cx="593.6" cy="280.7" r="3.1"/>
<circle class="c23" cx="557" cy="327.7" r="3.1"/>
<circle class="c16" cx="623.9" cy="302.5" r="3.1"/>
<circle class="c9" cx="572.6" cy="275.3" r="3.1"/>
<circle class="c25" cx="527.3" cy="335.2" r="3.1"/>
<circle class="c24" cx="545.7" cy="329.5" r="3.1"/>
<circle class="c19" cx="617.2" cy="313.6" r="3.1"/>
<circle class="c9" cx="585.5" cy="276.9" r="3.1"/>
<circle class="c8" cx="573.5" cy="272.7" r="3.1"/>
<circle class="c14" cx="616.8" cy="295.3" r="3.1"/>
<circle class="c22" cx="578.2" cy="323" r="3.1"/>
<circle class="c26" cx="497.3" cy="338.8" r="3.1"/>
<circle class="c19" cx="619.2" cy="313.8" r="3.1"/>
<circle class="c21" cx="591.5" cy="319.9" r="3.1"/>
<circle class="c9" cx="581.7" cy="276.3" r="3.1"/>
<circle class="c15" cx="618.9" cy="296.8" r="3.1"/>
<circle class="c21" cx="596.3" cy="318.9" r="3.1"/>
<circle class="c15" cx="619.3" cy="298.9" r="3.1"/>
<circle class="c20" cx="471.5" cy="315.4" r="3.1"/>
<circle class="c12" cx="606.4" cy="287.8" r="3.1"/>
<circle class="c21" cx="594.4" cy="319.4" r="3.1"/>
<circle class="c18" cx="630.6" cy="309.1" r="3.1"/>
<circle class="c20" cx="609.9" cy="316.3" r="3.1"/>
<circle class="c25" cx="454" cy="336.5" r="3.1"/>
<circle class="c23" cx="560.4" cy="327.1" r="3.1"/>
<circle class="c8" cx="566.4" cy="272" r="3.1"/>
<circle class="c23" cx="567.2" cy="326.2" r="3.1"/>
<circle class="c15" cx="621.6" cy="299.2" r="3.1"/>
<circle class="c10" cx="590.1" cy="278.5" r="3.1"/>
<circle class="c24" cx="548.5" cy="330" r="3.1"/>
<circle class="c21" cx="585.7" cy="321.7" r="3.1"/>
<circle class="c19" cx="629.4" cy="312" r="3.1"/>
<circle class="c12" cx="606.6" cy="286.8" r="3.1"/>
<circle class="c8" cx="576.9" cy="273.7" r="3.1"/>
<circle class="c17" cx="626.4" cy="304.1" r="3.1"/>
<circle class="c14" cx="613.9" cy="293.3" r="3.1"/>
<circle class="c19" cx="626.9" cy="312.3" r="3.1"/>
<circle class="c24" cx="544.7" cy="330.9" r="3.1"/>
<circle class="c20" cx="599.4" cy="318.5" r="3.1"/>
<circle class="c13" cx="608.9" cy="290.2" r="3.1"/>
<circle class="c19" cx="621.8" cy="313.1" r="3.1"/>
<circle class="c13" cx="614.2" cy="291.4" r="3.1"/>
<circle class="c20" cx="601.4" cy="317.8" r="3.1"/>
<circle class="c25" cx="531.4" cy="334.3" r="3.1"/>
<circle class="c21" cx="590.1" cy="321.7" r="3.1"/>
<circle class="c12" cx="609.6" cy="288.9" r="3.1"/>
<circle class="c10" cx="593.7" cy="279.2" r="3.1"/>
<circle class="c9" cx="581.6" cy="275.4" r="3.1"/>
<circle class="c11" cx="598" cy="282.5" r="3.1"/>
<circle class="c13" cx="612" cy="291.4" r="3.1"/>
<circle class="c19" cx="624.4" cy="312.6" r="3.1"/>
<circle class="c26" cx="507.2" cy="337.7" r="3.1"/>
<circle class="c18" cx="629.5" cy="311.4" r="3.1"/>
<circle class="c19" cx="631.7" cy="311.7" r="3.1"/>
<circle class="c19" cx="615.5" cy="314.5" r="3.1"/>
<circle class="c19" cx="617.3" cy="314.3" r="3.1"/>
<circle class="c19" cx="613" cy="314.9" r="3.1"/>
<circle class="c22" cx="570.5" cy="324.8" r="3.1"/>
<circle class="c11" cx="600.6" cy="283.1" r="3.1"/>
<circle class="c14" cx="616.6" cy="293.8" r="3.1"/>
<circle class="c11" cx="603.7" cy="285.5" r="3.1"/>
<circle class="c23" cx="559.6" cy="328.7" r="3.1"/>
<circle class="c9" cx="590.8" cy="277.1" r="3.1"/>
<circle class="c22" cx="576.8" cy="324.8" r="3.1"/>
<circle class="c7" cx="562.3" cy="270.6" r="3.1"/>
<circle class="c26" cx="500.9" cy="339.3" r="3.1"/>
<circle class="c16" cx="623.8" cy="301" r="3.1"/>
<circle class="c9" cx="585.6" cy="275.9" r="3.1"/>
<circle class="c17" cx="477.7" cy="306.7" r="3.1"/>
<circle class="c17" cx="630.3" cy="306.5" r="3.1"/>
<circle class="c18" cx="632.1" cy="308.5" r="3.1"/>
<circle class="c14" cx="494.4" cy="293.5" r="3.1"/>
<circle class="c17" cx="628.5" cy="305.2" r="3.1"/>
<circle class="c21" cx="597.1" cy="319.3" r="3.1"/>
<circle class="c16" cx="626.4" cy="301.6" r="3.1"/>
<circle class="c20" cx="611" cy="315.5" r="3.1"/>
<circle class="c19" cx="619.7" cy="314" r="3.1"/>
<circle class="c10" cx="597" cy="281.4" r="3.1"/>
<circle class="c19" cx="622.5" cy="313.4" r="3.1"/>
<circle class="c7" cx="566.6" cy="270.4" r="3.1"/>
<circle class="c13" cx="617.6" cy="292.7" r="3.1"/>
<circle class="c20" cx="604.6" cy="316.8" r="3.1"/>
<circle class="c21" cx="584.1" cy="322.8" r="3.1"/>
<circle class="c22" cx="569.6" cy="326.3" r="3.1"/>
<circle class="c8" cx="586.7" cy="274.3" r="3.1"/>
<circle class="c13" cx="611.9" cy="289.9" r="3.1"/>
<circle class="c7" cx="572.9" cy="271.1" r="3.1"/>
<circle class="c21" cx="587.9" cy="322.7" r="3.1"/>
<circle class="c15" cx="621.3" cy="297.8" r="3.1"/>
<circle class="c19" cx="472" cy="312.2" r="3.1"/>
<circle class="c20" cx="602.3" cy="318.6" r="3.1"/>
<circle class="c15" cx="624.3" cy="299" r="3.1"/>
<circle class="c22" cx="580.6" cy="325" r="3.1"/>
<circle class="c16" cx="628.2" cy="303.2" r="3.1"/>
<circle class="c11" cx="606.6" cy="285.7" r="3.1"/>
<circle class="c10" cx="600.4" cy="281" r="3.1"/>
<circle class="c25" cx="530.4" cy="335.7" r="3.1"/>
<circle class="c21" cx="592.5" cy="321.2" r="3.1"/>
<circle class="c21" cx="590.8" cy="321.6" r="3.1"/>
<circle class="c14" cx="619.8" cy="295.4" r="3.1"/>
<circle class="c12" cx="610" cy="287.9" r="3.1"/>
<circle class="c18" cx="634.7" cy="310.1" r="3.1"/>
<circle class="c20" cx="600.4" cy="318.8" r="3.1"/>
<circle class="c26" cx="456.6" cy="338.2" r="3.1"/>
<circle class="c7" cx="574" cy="269.9" r="3.1"/>
<circle class="c9" cx="593.7" cy="278" r="3.1"/>
<circle class="c20" cx="606.4" cy="316.3" r="3.1"/>
<circle class="c19" cx="617.7" cy="314.8" r="3.1"/>
<circle class="c12" cx="614.1" cy="290.1" r="3.1"/>
<circle class="c23" cx="552" cy="330.1" r="3.1"/>
<circle class="c10" cx="598" cy="279.2" r="3.1"/>
<circle class="c8" cx="576.8" cy="272.5" r="3.1"/>
<circle class="c19" cx="631.8" cy="312.9" r="3.1"/>
<circle class="c8" cx="591.2" cy="274.6" r="3.1"/>
<circle class="c16" cx="630.7" cy="304.9" r="3.1"/>
<circle class="c25" cx="535" cy="334.3" r="3.1"/>
<circle class="c20" cx="611.6" cy="315.9" r="3.1"/>
<circle class="c22" cx="585.1" cy="323.4" r="3.1"/>
<circle class="c7" cx="577.9" cy="270.3" r="3.1"/>
<circle class="c11" cx="604.2" cy="283.1" r="3.1"/>
<circle class="c14" cx="622.2" cy="296.1" r="3.1"/>
<circle class="c7" cx="578.5" cy="270.5" r="3.1"/>
<circle class="c19" cx="626.5" cy="312.9" r="3.1"/>
<circle class="c23" cx="563" cy="327.5" r="3.1"/>
<circle class="c22" cx="571.9" cy="325.6" r="3.1"/>
<circle class="c9" cx="598.2" cy="278.8" r="3.1"/>
<circle class="c19" cx="615.7" cy="315" r="3.1"/>
<circle class="c19" cx="624.4" cy="313.1" r="3.1"/>
<circle class="c21" cx="596.1" cy="320" r="3.1"/>
<circle class="c11" cx="606.6" cy="283.3" r="3.1"/>
<circle class="c8" cx="582.8" cy="273.5" r="3.1"/>
<circle class="c20" cx="608.9" cy="316.8" r="3.1"/>
<circle class="c17" cx="634.4" cy="308.1" r="3.1"/>
<circle class="c17" cx="633.2" cy="306.2" r="3.1"/>
<circle class="c15" cx="626.2" cy="300" r="3.1"/>
<circle class="c23" cx="564.8" cy="328.7" r="3.1"/>
<circle class="c9" cx="594.2" cy="276" r="3.1"/>
<circle class="c7" cx="583.4" cy="271.6" r="3.1"/>
<circle class="c26" cx="511.8" cy="338.5" r="3.1"/>
<circle class="c13" cx="620" cy="294" r="3.1"/>
<circle class="c23" cx="547.4" cy="330.8" r="3.1"/>
<circle class="c8" cx="591.2" cy="275.6" r="3.1"/>
<circle class="c22" cx="579" cy="325.6" r="3.1"/>
<circle class="c15" cx="626.5" cy="298.4" r="3.1"/>
<circle class="c24" cx="453.7" cy="333.2" r="3.1"/>
<circle class="c26" cx="449.1" cy="340" r="3.1"/>
<circle class="c12" cx="613.2" cy="288" r="3.1"/>
<circle class="c18" cx="636.1" cy="310.4" r="3.1"/>
<circle class="c16" cx="477.8" cy="304.2" r="3.1"/>
<circle class="c7" cx="574.5" cy="270.4" r="3.1"/>
<circle class="c8" cx="583.5" cy="272.2" r="3.1"/>
<circle class="c24" cx="538.6" cy="334.2" r="3.1"/>
<circle class="c21" cx="598.1" cy="320.9" r="3.1"/>
<circle class="c26" cx="505.9" cy="339.6" r="3.1"/>
<circle class="c19" cx="613.6" cy="315.9" r="3.1"/>
<circle class="c19" cx="619.7" cy="314" r="3.1"/>
<circle class="c13" cx="617.1" cy="290.7" r="3.1"/>
<circle class="c21" cx="594" cy="321.1" r="3.1"/>
<circle class="c8" cx="587" cy="273.6" r="3.1"/>
<circle class="c10" cx="604.5" cy="281.5" r="3.1"/>
<circle class="c18" cx="628.4" cy="312.7" r="3.1"/>
<circle class="c14" cx="622.6" cy="294.9" r="3.1"/>
<circle class="c26" cx="463.3" cy="339.7" r="3.1"/>
<circle class="c22" cx="574.8" cy="325.6" r="3.1"/>
<circle class="c26" cx="469.2" cy="341.7" r="3.1"/>
<circle class="c20" cx="607.1" cy="317.1" r="3.1"/>
<circle class="c10" cx="607" cy="282.9" r="3.1"/>
<circle class="c22" cx="571.7" cy="326.6" r="3.1"/>
<circle class="c14" cx="624.4" cy="297.9" r="3.1"/>
<circle class="c22" cx="580.7" cy="325.2" r="3.1"/>
<circle class="c20" cx="604.8" cy="318.1" r="3.1"/>
<circle class="c11" cx="610.5" cy="285.8" r="3.1"/>
<circle class="c18" cx="632.5" cy="312.2" r="3.1"/>
<circle class="c19" cx="624" cy="313.8" r="3.1"/>
<circle class="c25" cx="534.3" cy="336" r="3.1"/>
<circle class="c18" cx="472.6" cy="309.3" r="3.1"/>
<circle class="c10" cx="601.4" cy="279.9" r="3.1"/>
<circle class="c6" cx="574.1" cy="268.6" r="3.1"/>
<circle class="c7" cx="587.5" cy="271.1" r="3.1"/>
<circle class="c20" cx="612" cy="316.8" r="3.1"/>
<circle class="c21" cx="587.6" cy="323.6" r="3.1"/>
<circle class="c11" cx="612.8" cy="286.6" r="3.1"/>
<circle class="c8" cx="594.5" cy="274.6" r="3.1"/>
<circle class="c19" cx="617.3" cy="315.2" r="3.1"/>
<circle class="c6" cx="578.3" cy="268.6" r="3.1"/>
<circle class="c18" cx="630.2" cy="312.6" r="3.1"/>
<circle class="c7" cx="583.7" cy="270.2" r="3.1"/>
<circle class="c21" cx="594.7" cy="321.9" r="3.1"/>
<circle class="c22" cx="579.9" cy="326.4" r="3.1"/>
<circle class="c21" cx="596.5" cy="320.7" r="3.1"/>
<circle class="c7" cx="578.2" cy="269.4" r="3.1"/>
<circle class="c23" cx="553.6" cy="331.3" r="3.1"/>
<circle class="c23" cx="455.1" cy="329.5" r="3.1"/>
<circle class="c14" cx="624.8" cy="296.1" r="3.1"/>
<circle class="c23" cx="561.6" cy="328.9" r="3.1"/>
<circle class="c21" cx="592.6" cy="321.9" r="3.1"/>
<circle class="c19" cx="615.5" cy="315.2" r="3.1"/>
<circle class="c7" cx="590.8" cy="272.5" r="3.1"/>
<circle class="c9" cx="598.8" cy="276.7" r="3.1"/>
<circle class="c20" cx="601.1" cy="320" r="3.1"/>
<circle class="c10" cx="604.6" cy="280.3" r="3.1"/>
<circle class="c23" cx="550.5" cy="331.5" r="3.1"/>
<circle class="c26" cx="515.4" cy="339.5" r="3.1"/>
<circle class="c22" cx="582.7" cy="325.2" r="3.1"/>
<circle class="c20" cx="609.4" cy="317" r="3.1"/>
<circle class="c26" cx="454" cy="341.5" r="3.1"/>
<circle class="c9" cx="601.6" cy="279" r="3.1"/>
<circle class="c12" cx="615" cy="288.6" r="3.1"/>
<circle class="c13" cx="620" cy="292" r="3.1"/>
<circle class="c11" cx="611" cy="284.3" r="3.1"/>
<circle class="c15" cx="478.5" cy="301.1" r="3.1"/>
<circle class="c15" cx="628.9" cy="301.6" r="3.1"/>
<circle class="c16" cx="630.4" cy="302.2" r="3.1"/>
<circle class="c21" cx="586.8" cy="324.1" r="3.1"/>
<circle class="c17" cx="636" cy="307.8" r="3.1"/>
<circle class="c20" cx="602.8" cy="319.5" r="3.1"/>
<circle class="c17" cx="634.4" cy="307" r="3.1"/>
<circle class="c19" cx="625.4" cy="313.8" r="3.1"/>
<circle class="c8" cx="598.5" cy="275.8" r="3.1"/>
<circle class="c20" cx="607.1" cy="318.2" r="3.1"/>
<circle class="c12" cx="615.8" cy="287.7" r="3.1"/>
<circle class="c19" cx="635.5" cy="313.5" r="3.1"/>
<circle class="c7" cx="587.3" cy="270.3" r="3.1"/>
<circle class="c22" cx="573.2" cy="327" r="3.1"/>
<circle class="c9" cx="601.1" cy="277.1" r="3.1"/>
<circle class="c26" cx="473.7" cy="341.7" r="3.1"/>
<circle class="c13" cx="622.5" cy="292.8" r="3.1"/>
<circle class="c18" cx="637.7" cy="312.6" r="3.1"/>
<circle class="c6" cx="584.5" cy="269.2" r="3.1"/>
<circle class="c8" cx="595.1" cy="273.7" r="3.1"/>
<circle class="c19" cx="627.9" cy="314" r="3.1"/>
<circle class="c22" cx="575.9" cy="326.9" r="3.1"/>
<circle class="c12" cx="617.9" cy="289.9" r="3.1"/>
<circle class="c23" cx="563.2" cy="329.6" r="3.1"/>
<circle class="c16" cx="633" cy="304.2" r="3.1"/>
<circle class="c21" cx="589.3" cy="323.9" r="3.1"/>
<circle class="c10" cx="607.4" cy="281.4" r="3.1"/>
<circle class="c19" cx="621.1" cy="314.4" r="3.1"/>
<circle class="c15" cx="628.9" cy="299.9" r="3.1"/>
<circle class="c23" cx="566.5" cy="328.6" r="3.1"/>
<circle class="c26" cx="510" cy="340.3" r="3.1"/>
<circle class="c19" cx="619.3" cy="315.4" r="3.1"/>
<circle class="c24" cx="541.1" cy="334.6" r="3.1"/>
<circle class="c17" cx="638.3" cy="309.7" r="3.1"/>
<circle class="c7" cx="588" cy="270" r="3.1"/>
<circle class="c11" cx="616.4" cy="286" r="3.1"/>
<circle class="c19" cx="632.7" cy="313.6" r="3.1"/>
<circle class="c11" cx="612.9" cy="286.2" r="3.1"/>
<circle class="c24" cx="553.4" cy="332.5" r="3.1"/>
<circle class="c19" cx="613.9" cy="315.8" r="3.1"/>
<circle class="c26" cx="479.1" cy="342.4" r="3.1"/>
<circle class="c19" cx="623.9" cy="314.1" r="3.1"/>
<circle class="c21" cx="596.6" cy="321.3" r="3.1"/>
<circle class="c20" cx="605.8" cy="318.6" r="3.1"/>
<circle class="c17" cx="472.9" cy="307" r="3.1"/>
<circle class="c23" cx="566" cy="329.9" r="3.1"/>
<circle class="c6" cx="583.7" cy="269.4" r="3.1"/>
<circle class="c22" cx="574.4" cy="328.4" r="3.1"/>
<circle class="c15" cx="631.6" cy="301.5" r="3.1"/>
<circle class="c20" cx="599.6" cy="320.5" r="3.1"/>
<circle class="c12" cx="622.5" cy="291.4" r="3.1"/>
<circle class="c12" cx="617.5" cy="288.2" r="3.1"/>
<circle class="c19" cx="616.4" cy="316.2" r="3.1"/>
<circle class="c6" cx="578.4" cy="267.5" r="3.1"/>
<circle class="c25" cx="449.9" cy="335.9" r="3.1"/>
<circle class="c6" cx="587.8" cy="269.3" r="3.1"/>
<circle class="c18" cx="630.2" cy="313.2" r="3.1"/>
<circle class="c8" cx="602.2" cy="276.4" r="3.1"/>
<circle class="c18" cx="640.2" cy="312.4" r="3.1"/>
<circle class="c10" cx="610.6" cy="281.7" r="3.1"/>
<circle class="c16" cx="473.4" cy="303.1" r="3.1"/>
<circle class="c21" cx="592.4" cy="322.8" r="3.1"/>
<circle class="c12" cx="620.6" cy="289.7" r="3.1"/>
<circle class="c10" cx="610.9" cy="283.9" r="3.1"/>
<circle class="c14" cx="626.9" cy="296.5" r="3.1"/>
<circle class="c12" cx="620" cy="290.5" r="3.1"/>
<circle class="c23" cx="568.6" cy="329.2" r="3.1"/>
<circle class="c18" cx="634.2" cy="313.7" r="3.1"/>
<circle class="c7" cx="595.7" cy="272.6" r="3.1"/>
<circle class="c9" cx="605.2" cy="279.3" r="3.1"/>
<circle class="c20" cx="603.8" cy="319.7" r="3.1"/>
<circle class="c9" cx="605.9" cy="278.8" r="3.1"/>
<circle class="c7" cx="592.6" cy="271.5" r="3.1"/>
<circle class="c7" cx="591.9" cy="270.9" r="3.1"/>
<circle class="c23" cx="556.4" cy="331.9" r="3.1"/>
<circle class="c10" cx="613.9" cy="283.7" r="3.1"/>
<circle class="c7" cx="592.3" cy="271.6" r="3.1"/>
<circle class="c17" cx="636.5" cy="306.7" r="3.1"/>
<circle class="c20" cx="608.2" cy="319.5" r="3.1"/>
<circle class="c9" cx="608.2" cy="280" r="3.1"/>
<circle class="c24" cx="536.9" cy="335.6" r="3.1"/>
<circle class="c16" cx="635" cy="304.5" r="3.1"/>
<circle class="c15" cx="632.6" cy="302.6" r="3.1"/>
<circle class="c21" cx="595.1" cy="322" r="3.1"/>
<circle class="c22" cx="581.3" cy="325.6" r="3.1"/>
<circle class="c20" cx="602.1" cy="320.4" r="3.1"/>
<circle class="c6" cx="583.5" cy="268.5" r="3.1"/>
<circle class="c7" cx="593.2" cy="270.3" r="3.1"/>
<circle class="c8" cx="599.5" cy="274.2" r="3.1"/>
<circle class="c17" cx="641.1" cy="310.3" r="3.1"/>
<circle class="c26" cx="514.8" cy="340" r="3.1"/>
<circle class="c6" cx="585" cy="267.5" r="3.1"/>
<circle class="c17" cx="638.1" cy="308.4" r="3.1"/>
<circle class="c19" cx="627.8" cy="314.2" r="3.1"/>
<circle class="c19" cx="617.2" cy="316.3" r="3.1"/>
<circle class="c26" cx="461.8" cy="342.4" r="3.1"/>
<circle class="c6" cx="588.4" cy="269.2" r="3.1"/>
<circle class="c11" cx="617.6" cy="286.4" r="3.1"/>
<circle class="c14" cx="628.5" cy="297.8" r="3.1"/>
<circle class="c15" cx="631.4" cy="299.7" r="3.1"/>
<circle class="c21" cx="587.8" cy="324.5" r="3.1"/>
<circle class="c25" cx="519.7" cy="339.3" r="3.1"/>
<circle class="c19" cx="625.5" cy="314.8" r="3.1"/>
<circle class="c22" cx="455.4" cy="326.2" r="3.1"/>
<circle class="c7" cx="594.6" cy="272" r="3.1"/>
<circle class="c13" cx="624.8" cy="294.1" r="3.1"/>
<circle class="c19" cx="611.9" cy="317.8" r="3.1"/>
<circle class="c20" cx="607.2" cy="319.3" r="3.1"/>
<circle class="c19" cx="613.5" cy="317.3" r="3.1"/>
<circle class="c18" cx="637" cy="313.9" r="3.1"/>
<circle class="c22" cx="584" cy="325.3" r="3.1"/>
<circle class="c22" cx="577.5" cy="327.5" r="3.1"/>
<circle class="c9" cx="610.8" cy="280.9" r="3.1"/>
<circle class="c13" cx="626.9" cy="295" r="3.1"/>
<circle class="c10" cx="616.6" cy="284" r="3.1"/>
<circle class="c6" cx="584.8" cy="267.3" r="3.1"/>
<circle class="c12" cx="622.6" cy="289.8" r="3.1"/>
<circle class="c8" cx="603" cy="274.6" r="3.1"/>
<circle class="c12" cx="625.3" cy="292.1" r="3.1"/>
<circle class="c24" cx="544.7" cy="335.1" r="3.1"/>
<circle class="c21" cx="590.7" cy="323.7" r="3.1"/>
<circle class="c18" cx="629.7" cy="314.2" r="3.1"/>
<circle class="c20" cx="599.9" cy="321" r="3.1"/>
<circle class="c11" cx="620.5" cy="288.1" r="3.1"/>
<circle class="c20" cx="598.9" cy="321.3" r="3.1"/>
<circle class="c23" cx="558.8" cy="331.9" r="3.1"/>
<circle class="c10" cx="613.1" cy="282.8" r="3.1"/>
<circle class="c26" cx="483.9" cy="343.5" r="3.1"/>
<circle class="c20" cx="604.3" cy="319.6" r="3.1"/>
<circle class="c7" cx="595.9" cy="271.4" r="3.1"/>
<circle class="c14" cx="629" cy="296.4" r="3.1"/>
<circle class="c21" cx="593.5" cy="323.7" r="3.1"/>
<circle class="c6" cx="588" cy="267.5" r="3.1"/>
<circle class="c26" cx="468" cy="342.8" r="3.1"/>
<circle class="c19" cx="610.1" cy="317.4" r="3.1"/>
<circle class="c18" cx="631.7" cy="314.2" r="3.1"/>
<circle class="c19" cx="619.6" cy="315.3" r="3.1"/>
<circle class="c24" cx="540.2" cy="335.8" r="3.1"/>
<circle class="c8" cx="605.6" cy="276.7" r="3.1"/>
<circle class="c19" cx="621.1" cy="315.1" r="3.1"/>
<circle class="c23" cx="450.2" cy="332.2" r="3.1"/>
<circle class="c18" cx="641.2" cy="314.1" r="3.1"/>
<circle class="c22" cx="583.1" cy="325.9" r="3.1"/>
<circle class="c26" cx="519.2" cy="341.1" r="3.1"/>
<circle class="c7" cx="598.8" cy="272.8" r="3.1"/>
<circle class="c7" cx="599.1" cy="273" r="3.1"/>
<circle class="c6" cx="588.5" cy="267.4" r="3.1"/>
<circle class="c23" cx="555.5" cy="332.3" r="3.1"/>
<circle class="c7" cx="596.4" cy="270.9" r="3.1"/>
<circle class="c6" cx="592.8" cy="268.7" r="3.1"/>
<circle class="c6" cx="593.3" cy="268.8" r="3.1"/>
<circle class="c19" cx="625.9" cy="314.7" r="3.1"/>
<circle class="c6" cx="588.2" cy="268.1" r="3.1"/>
<circle class="c23" cx="570.4" cy="330.1" r="3.1"/>
<circle class="c18" cx="641.7" cy="312.8" r="3.1"/>
<circle class="c19" cx="620.8" cy="314.7" r="3.1"/>
<circle class="c10" cx="616.4" cy="283.8" r="3.1"/>
<circle class="c7" cx="599.9" cy="271.7" r="3.1"/>
<circle class="c20" cx="607" cy="320.1" r="3.1"/>
<circle class="c18" cx="638.9" cy="314.4" r="3.1"/>
<circle class="c10" cx="618" cy="285.1" r="3.1"/>
<circle class="c23" cx="567.9" cy="330.1" r="3.1"/>
<circle class="c19" cx="623.3" cy="314.8" r="3.1"/>
<circle class="c6" cx="596.3" cy="269.9" r="3.1"/>
<circle class="c23" cx="560.8" cy="332.4" r="3.1"/>
<circle class="c6" cx="596.6" cy="269.8" r="3.1"/>
<circle class="c19" cx="611.7" cy="318.4" r="3.1"/>
<circle class="c19" cx="619.8" cy="316.4" r="3.1"/>
<circle class="c7" cx="602.4" cy="273.7" r="3.1"/>
<circle class="c15" cx="632.7" cy="300.6" r="3.1"/>
<circle class="c15" cx="634.7" cy="302.4" r="3.1"/>
<circle class="c14" cx="631.2" cy="297.8" r="3.1"/>
<circle class="c13" cx="627" cy="293.4" r="3.1"/>
<circle class="c17" cx="640.5" cy="309.6" r="3.1"/>
<circle class="c19" cx="614" cy="317" r="3.1"/>
<circle class="c6" cx="593.5" cy="268.1" r="3.1"/>
<circle class="c20" cx="602.8" cy="320.8" r="3.1"/>
<circle class="c26" cx="472.9" cy="343.8" r="3.1"/>
<circle class="c23" cx="557.6" cy="333" r="3.1"/>
<circle class="c25" cx="523.2" cy="339.8" r="3.1"/>
<circle class="c21" cx="589.6" cy="324.6" r="3.1"/>
<circle class="c22" cx="585.1" cy="326.4" r="3.1"/>
<circle class="c8" cx="608.4" cy="277.5" r="3.1"/>
<circle class="c8" cx="606.1" cy="275.3" r="3.1"/>
<circle class="c5" cx="588.7" cy="266.3" r="3.1"/>
<circle class="c22" cx="577.4" cy="327.7" r="3.1"/>
<circle class="c16" cx="637.3" cy="304.2" r="3.1"/>
<circle class="c20" cx="608.7" cy="319.4" r="3.1"/>
<circle class="c16" cx="638.8" cy="306.1" r="3.1"/>
<circle class="c18" cx="627.5" cy="314.4" r="3.1"/>
<circle class="c26" cx="488.1" cy="343" r="3.1"/>
<circle class="c22" cx="451.2" cy="328.8" r="3.1"/>
<circle class="c18" cx="636.1" cy="313.5" r="3.1"/>
<circle class="c19" cx="610" cy="318.6" r="3.1"/>
<circle class="c7" cx="602.8" cy="272.2" r="3.1"/>
<circle class="c22" cx="579.3" cy="328.1" r="3.1"/>
<circle class="c6" cx="593.9" cy="267.8" r="3.1"/>
<circle class="c19" cx="615.8" cy="316.7" r="3.1"/>
<circle class="c20" cx="455.8" cy="322.3" r="3.1"/>
<circle class="c9" cx="613.9" cy="280.4" r="3.1"/>
<circle class="c24" cx="543.4" cy="336" r="3.1"/>
<circle class="c18" cx="643.6" cy="313.5" r="3.1"/>
<circle class="c15" cx="635.2" cy="300.7" r="3.1"/>
<circle class="c19" cx="614" cy="318.2" r="3.1"/>
<circle class="c17" cx="642.5" cy="311" r="3.1"/>
<circle class="c21" cx="599.3" cy="322.6" r="3.1"/>
<circle class="c18" cx="633.8" cy="313.5" r="3.1"/>
<circle class="c9" cx="608.1" cy="278.9" r="3.1"/>
<circle class="c24" cx="546.8" cy="335.2" r="3.1"/>
<circle class="c9" cx="611" cy="278.8" r="3.1"/>
<circle class="c12" cx="627.5" cy="291.5" r="3.1"/>
<circle class="c13" cx="629.6" cy="295.2" r="3.1"/>
<circle class="c12" cx="625" cy="291.4" r="3.1"/>
<circle class="c19" cx="617.5" cy="316.4" r="3.1"/>
<circle class="c18" cx="632.9" cy="314.8" r="3.1"/>
<circle class="c7" cx="603.7" cy="272.4" r="3.1"/>
<circle class="c21" cx="596.4" cy="323.4" r="3.1"/>
<circle class="c19" cx="623.2" cy="315.9" r="3.1"/>
<circle class="c8" cx="609" cy="276.2" r="3.1"/>
<circle class="c7" cx="600.4" cy="271.7" r="3.1"/>
<circle class="c9" cx="613.4" cy="281.4" r="3.1"/>
<circle class="c6" cx="596.1" cy="268.5" r="3.1"/>
<circle class="c13" cx="631.1" cy="295.9" r="3.1"/>
<circle class="c21" cx="591.4" cy="325" r="3.1"/>
<circle class="c6" cx="600.3" cy="269.8" r="3.1"/>
<circle class="c11" cx="623.7" cy="287.9" r="3.1"/>
<circle class="c15" cx="637.4" cy="302.3" r="3.1"/>
<circle class="c11" cx="623.5" cy="287" r="3.1"/>
<circle class="c10" cx="618.9" cy="284.8" r="3.1"/>
<circle class="c14" cx="633.2" cy="299.7" r="3.1"/>
<circle class="c25" cx="526.8" cy="340.1" r="3.1"/>
<circle class="c23" cx="572.6" cy="330.8" r="3.1"/>
<circle class="c26" cx="493.8" cy="344.8" r="3.1"/>
<circle class="c19" cx="617.8" cy="317.1" r="3.1"/>
<circle class="c9" cx="611.6" cy="278.7" r="3.1"/>
<circle class="c7" cx="603.4" cy="271.9" r="3.1"/>
<circle class="c20" cx="600.2" cy="321" r="3.1"/>
<circle class="c12" cx="625.6" cy="289.7" r="3.1"/>
<circle class="c5" cx="593.3" cy="267.3" r="3.1"/>
<circle class="c18" cx="640.7" cy="313.8" r="3.1"/>
<circle class="c14" cx="633.5" cy="297.4" r="3.1"/>
<circle class="c8" cx="609.2" cy="275.1" r="3.1"/>
<circle class="c18" cx="631.4" cy="314.3" r="3.1"/>
<circle class="c20" cx="602.9" cy="321.2" r="3.1"/>
<circle class="c6" cx="600.9" cy="269.4" r="3.1"/>
<circle class="c5" cx="594.2" cy="266.5" r="3.1"/>
<circle class="c22" cx="578.3" cy="328.6" r="3.1"/>
<circle class="c22" cx="584.8" cy="327.2" r="3.1"/>
<circle class="c20" cx="604.6" cy="320.6" r="3.1"/>
<circle class="c11" cx="621.2" cy="286.2" r="3.1"/>
<circle class="c19" cx="612.3" cy="318.5" r="3.1"/>
<circle class="c6" cx="596.6" cy="267.9" r="3.1"/>
<circle class="c22" cx="581" cy="327.9" r="3.1"/>
<circle class="c15" cx="638.7" cy="304.3" r="3.1"/>
<circle class="c23" cx="569.4" cy="331.1" r="3.1"/>
<circle class="c12" cx="629.9" cy="293.2" r="3.1"/>
<circle class="c26" cx="477.6" cy="344.3" r="3.1"/>
<circle class="c25" cx="522.6" cy="340.7" r="3.1"/>
<circle class="c16" cx="640.7" cy="306.7" r="3.1"/>
<circle class="c18" cx="629.1" cy="314.9" r="3.1"/>
<circle class="c24" cx="546.5" cy="336.3" r="3.1"/>
<circle class="c6" cx="600.1" cy="270.8" r="3.1"/>
</g>
<g class="a3">
<circle class="c21" cx="594.8" cy="323.7" r="3.1"/>
<circle class="c21" cx="601.1" cy="323.1" r="3.1"/>
<circle class="c5" cx="597.2" cy="266.7" r="3.1"/>
<circle class="c23" cx="560.4" cy="332.9" r="3.1"/>
<circle class="c23" cx="563.1" cy="333.1" r="3.1"/>
<circle class="c8" cx="611.4" cy="276.4" r="3.1"/>
<circle class="c7" cx="606.3" cy="274.1" r="3.1"/>
<circle class="c21" cx="597.5" cy="323.7" r="3.1"/>
<circle class="c21" cx="590.2" cy="326.2" r="3.1"/>
<circle class="c5" cx="597.2" cy="267.5" r="3.1"/>
<circle class="c18" cx="637.5" cy="315" r="3.1"/>
<circle class="c18" cx="624.5" cy="315" r="3.1"/>
<circle class="c6" cx="600.9" cy="269.3" r="3.1"/>
<circle class="c7" cx="605.7" cy="273.7" r="3.1"/>
<circle class="c7" cx="606.7" cy="273.3" r="3.1"/>
<circle class="c10" cx="618.8" cy="283" r="3.1"/>
<circle class="c10" cx="621.4" cy="285" r="3.1"/>
<circle class="c19" cx="608.2" cy="319.4" r="3.1"/>
<circle class="c19" cx="610.8" cy="319.3" r="3.1"/>
<circle class="c9" cx="616.3" cy="282.1" r="3.1"/>
<circle class="c19" cx="615.6" cy="318" r="3.1"/>
<circle class="c19" cx="456" cy="319.2" r="3.1"/>
<circle class="c18" cx="635.5" cy="314.7" r="3.1"/>
<circle class="c11" cx="625.3" cy="288.1" r="3.1"/>
<circle class="c5" cx="597.1" cy="266.8" r="3.1"/>
<circle class="c21" cx="586.9" cy="326.4" r="3.1"/>
<circle class="c18" cx="630.9" cy="314.8" r="3.1"/>
<circle class="c9" cx="616.9" cy="280.8" r="3.1"/>
<circle class="c17" cx="642.1" cy="308.7" r="3.1"/>
<circle class="c26" cx="482.3" cy="344.5" r="3.1"/>
<circle class="c17" cx="644.5" cy="310.9" r="3.1"/>
<circle class="c18" cx="640.3" cy="314.6" r="3.1"/>
<circle class="c25" cx="530.8" cy="339.9" r="3.1"/>
<circle class="c6" cx="603.7" cy="271.5" r="3.1"/>
<circle class="c24" cx="549.3" cy="336.4" r="3.1"/>
<circle class="c10" cx="621" cy="283.4" r="3.1"/>
<circle class="c12" cx="629.4" cy="291.5" r="3.1"/>
<circle class="c9" cx="614.7" cy="279.4" r="3.1"/>
<circle class="c14" cx="635.8" cy="298.6" r="3.1"/>
<circle class="c7" cx="607.2" cy="271.9" r="3.1"/>
<circle class="c19" cx="619.1" cy="316.8" r="3.1"/>
<circle class="c20" cx="601.2" cy="322.7" r="3.1"/>
<circle class="c20" cx="607.2" cy="320" r="3.1"/>
<circle class="c18" cx="627.1" cy="315" r="3.1"/>
<circle class="c21" cx="585.7" cy="327.1" r="3.1"/>
<circle class="c5" cx="593.8" cy="265.7" r="3.1"/>
<circle class="c23" cx="565.3" cy="333.5" r="3.1"/>
<circle class="c22" cx="579.2" cy="329.3" r="3.1"/>
<circle class="c26" cx="497.3" cy="344.8" r="3.1"/>
<circle class="c21" cx="592.5" cy="325.9" r="3.1"/>
<circle class="c20" cx="604.3" cy="321.8" r="3.1"/>
<circle class="c12" cx="627.3" cy="291" r="3.1"/>
<circle class="c12" cx="632" cy="293.2" r="3.1"/>
<circle class="c13" cx="631.6" cy="294.9" r="3.1"/>
<circle class="c10" cx="624.3" cy="286" r="3.1"/>
<circle class="c8" cx="614.8" cy="278.4" r="3.1"/>
<circle class="c22" cx="574" cy="330.8" r="3.1"/>
<circle class="c6" cx="603.2" cy="271.2" r="3.1"/>
<circle class="c25" cx="526.3" cy="340.8" r="3.1"/>
<circle class="c9" cx="619.9" cy="281.9" r="3.1"/>
<circle class="c7" cx="609.9" cy="274.2" r="3.1"/>
<circle class="c7" cx="606.9" cy="272.8" r="3.1"/>
<circle class="c8" cx="612.3" cy="275.8" r="3.1"/>
<circle class="c5" cx="601.6" cy="268" r="3.1"/>
<circle class="c21" cx="596.2" cy="325" r="3.1"/>
<circle class="c19" cx="623" cy="316.2" r="3.1"/>
<circle class="c19" cx="620.9" cy="316.2" r="3.1"/>
<circle class="c24" cx="549.2" cy="337" r="3.1"/>
<circle class="c17" cx="646.2" cy="311.8" r="3.1"/>
<circle class="c18" cx="643.2" cy="314.9" r="3.1"/>
<circle class="c23" cx="571.6" cy="331.1" r="3.1"/>
<circle class="c17" cx="644.9" cy="309.5" r="3.1"/>
<circle class="c22" cx="582.2" cy="328.6" r="3.1"/>
<circle class="c19" cx="624.3" cy="316.7" r="3.1"/>
<circle class="c23" cx="561.8" cy="334" r="3.1"/>
<circle class="c15" cx="641.2" cy="304.4" r="3.1"/>
<circle class="c18" cx="632.9" cy="314.9" r="3.1"/>
<circle class="c15" cx="638.9" cy="302.5" r="3.1"/>
<circle class="c19" cx="617.7" cy="317.7" r="3.1"/>
<circle class="c7" cx="609.5" cy="274.1" r="3.1"/>
<circle class="c8" cx="617.3" cy="279.2" r="3.1"/>
<circle class="c19" cx="616.1" cy="317.9" r="3.1"/>
<circle class="c5" cx="597.3" cy="266" r="3.1"/>
<circle class="c14" cx="637.5" cy="300.9" r="3.1"/>
<circle class="c13" cx="633.4" cy="295.8" r="3.1"/>
<circle class="c6" cx="603.6" cy="270.6" r="3.1"/>
<circle class="c20" cx="605.5" cy="321.6" r="3.1"/>
<circle class="c6" cx="604" cy="269.7" r="3.1"/>
<circle class="c12" cx="629.7" cy="290.7" r="3.1"/>
<circle class="c13" cx="635.5" cy="297.1" r="3.1"/>
<circle class="c21" cx="588.4" cy="327.1" r="3.1"/>
<circle class="c19" cx="619.4" cy="317.3" r="3.1"/>
<circle class="c24" cx="552.2" cy="336" r="3.1"/>
<circle class="c18" cx="637.5" cy="314.9" r="3.1"/>
<circle class="c18" cx="648.6" cy="314.7" r="3.1"/>
<circle class="c9" cx="621.7" cy="282.1" r="3.1"/>
<circle class="c5" cx="601.1" cy="267.5" r="3.1"/>
<circle class="c19" cx="611.2" cy="319.1" r="3.1"/>
<circle class="c21" cx="592" cy="325.7" r="3.1"/>
<circle class="c6" cx="607.2" cy="271" r="3.1"/>
<circle class="c26" cx="487.9" cy="345.9" r="3.1"/>
<circle class="c18" cx="628.6" cy="315.9" r="3.1"/>
<circle class="c24" cx="554.9" cy="335.9" r="3.1"/>
<circle class="c19" cx="614.6" cy="318.6" r="3.1"/>
<circle class="c21" cx="587.3" cy="327.4" r="3.1"/>
<circle class="c10" cx="622.9" cy="285.4" r="3.1"/>
<circle class="c16" cx="642.3" cy="306" r="3.1"/>
<circle class="c20" cx="607.2" cy="321.2" r="3.1"/>
<circle class="c18" cx="626.8" cy="315.9" r="3.1"/>
<circle class="c14" cx="637.7" cy="298.7" r="3.1"/>
<circle class="c18" cx="630.5" cy="314.9" r="3.1"/>
<circle class="c5" cx="600.4" cy="267.7" r="3.1"/>
<circle class="c21" cx="451.3" cy="326.1" r="3.1"/>
<circle class="c18" cx="647.6" cy="315.4" r="3.1"/>
<circle class="c14" cx="639.1" cy="301.3" r="3.1"/>
<circle class="c21" cx="598" cy="324.4" r="3.1"/>
<circle class="c23" cx="566.8" cy="333.6" r="3.1"/>
<circle class="c18" cx="634.8" cy="315.7" r="3.1"/>
<circle class="c26" cx="502.2" cy="344.9" r="3.1"/>
<circle class="c22" cx="583.7" cy="329" r="3.1"/>
<circle class="c18" cx="644.2" cy="315.5" r="3.1"/>
<circle class="c18" cx="641.6" cy="315.4" r="3.1"/>
<circle class="c21" cx="596.9" cy="324.7" r="3.1"/>
<circle class="c8" cx="614.8" cy="276.2" r="3.1"/>
<circle class="c19" cx="621.1" cy="317.4" r="3.1"/>
<circle class="c7" cx="609.3" cy="273.1" r="3.1"/>
<circle class="c20" cx="609.1" cy="320.5" r="3.1"/>
<circle class="c18" cx="628" cy="316.6" r="3.1"/>
<circle class="c11" cx="627.9" cy="289.6" r="3.1"/>
<circle class="c7" cx="612" cy="274.5" r="3.1"/>
<circle class="c23" cx="564.4" cy="333.7" r="3.1"/>
<circle class="c18" cx="636.3" cy="314.7" r="3.1"/>
<circle class="c12" cx="633.9" cy="294.2" r="3.1"/>
<circle class="c12" cx="632.4" cy="291" r="3.1"/>
<circle class="c20" cx="606.2" cy="322" r="3.1"/>
<circle class="c5" cx="604.1" cy="268.6" r="3.1"/>
<circle class="c10" cx="625.9" cy="286.9" r="3.1"/>
<circle class="c23" cx="573.3" cy="331.9" r="3.1"/>
<circle class="c16" cx="644.7" cy="307.5" r="3.1"/>
<circle class="c11" cx="627.1" cy="288.4" r="3.1"/>
<circle class="c20" cx="602.5" cy="322.1" r="3.1"/>
<circle class="c5" cx="598.2" cy="265.2" r="3.1"/>
<circle class="c22" cx="576.7" cy="331" r="3.1"/>
<circle class="c19" cx="612.2" cy="318.6" r="3.1"/>
<circle class="c5" cx="601.4" cy="266.9" r="3.1"/>
<circle class="c7" cx="613" cy="274" r="3.1"/>
<circle class="c19" cx="623.2" cy="317.1" r="3.1"/>
<circle class="c18" cx="639.1" cy="315.3" r="3.1"/>
<circle class="c6" cx="607.1" cy="271.1" r="3.1"/>
<circle class="c20" cx="605" cy="322.4" r="3.1"/>
<circle class="c8" cx="617.9" cy="278.5" r="3.1"/>
<circle class="c6" cx="607.2" cy="269.9" r="3.1"/>
<circle class="c6" cx="603.4" cy="269.4" r="3.1"/>
<circle class="c25" cx="529.8" cy="340.5" r="3.1"/>
<circle class="c7" cx="612.8" cy="273.6" r="3.1"/>
<circle class="c10" cx="625.8" cy="285.3" r="3.1"/>
<circle class="c7" cx="615" cy="275.7" r="3.1"/>
<circle class="c18" cx="456.7" cy="315.9" r="3.1"/>
<circle class="c9" cx="619.4" cy="280.4" r="3.1"/>
<circle class="c15" cx="643" cy="305.3" r="3.1"/>
<circle class="c19" cx="616.2" cy="318.9" r="3.1"/>
<circle class="c19" cx="614.3" cy="319.5" r="3.1"/>
<circle class="c9" cx="624.1" cy="283.3" r="3.1"/>
<circle class="c20" cx="601" cy="323.7" r="3.1"/>
<circle class="c18" cx="629.8" cy="315.7" r="3.1"/>
<circle class="c18" cx="640.6" cy="315.5" r="3.1"/>
<circle class="c18" cx="624.2" cy="316.7" r="3.1"/>
<circle class="c13" cx="635.1" cy="295.7" r="3.1"/>
<circle class="c25" cx="534.2" cy="339.7" r="3.1"/>
<circle class="c7" cx="610.2" cy="272.8" r="3.1"/>
<circle class="c22" cx="581.2" cy="330" r="3.1"/>
<circle class="c18" cx="646.1" cy="316.1" r="3.1"/>
<circle class="c21" cx="589.8" cy="326.7" r="3.1"/>
<circle class="c22" cx="577.4" cy="331.2" r="3.1"/>
<circle class="c23" cx="568.9" cy="333.3" r="3.1"/>
<circle class="c21" cx="594.1" cy="325" r="3.1"/>
<circle class="c18" cx="632.1" cy="315.5" r="3.1"/>
<circle class="c26" cx="496.6" cy="346.4" r="3.1"/>
<circle class="c5" cx="601.3" cy="266.5" r="3.1"/>
<circle class="c17" cx="646.7" cy="309.9" r="3.1"/>
<circle class="c6" cx="610.1" cy="271.3" r="3.1"/>
<circle class="c15" cx="640.7" cy="303.6" r="3.1"/>
<circle class="c18" cx="643.1" cy="315.4" r="3.1"/>
<circle class="c5" cx="604.6" cy="268" r="3.1"/>
<circle class="c8" cx="619.9" cy="279.4" r="3.1"/>
<circle class="c21" cx="593.2" cy="327.2" r="3.1"/>
<circle class="c26" cx="493.1" cy="345.9" r="3.1"/>
<circle class="c17" cx="647.9" cy="312" r="3.1"/>
<circle class="c19" cx="612.9" cy="319.4" r="3.1"/>
<circle class="c9" cx="621.7" cy="281.5" r="3.1"/>
<circle class="c9" cx="624.1" cy="282.7" r="3.1"/>
<circle class="c24" cx="551.6" cy="336.8" r="3.1"/>
<circle class="c4" cx="601.7" cy="265.4" r="3.1"/>
<circle class="c10" cx="627.5" cy="287.4" r="3.1"/>
<circle class="c20" cx="608.1" cy="321.3" r="3.1"/>
<circle class="c6" cx="608.1" cy="270.3" r="3.1"/>
<circle class="c7" cx="615.7" cy="275" r="3.1"/>
<circle class="c19" cx="618" cy="318.4" r="3.1"/>
<circle class="c6" cx="609.9" cy="272.1" r="3.1"/>
<circle class="c18" cx="645.1" cy="316.9" r="3.1"/>
<circle class="c25" cx="533.8" cy="341.1" r="3.1"/>
<circle class="c14" cx="640.2" cy="299.6" r="3.1"/>
<circle class="c5" cx="603.9" cy="267.3" r="3.1"/>
<circle class="c20" cx="599.6" cy="324.5" r="3.1"/>
<circle class="c20" cx="452.1" cy="322.2" r="3.1"/>
<circle class="c28" cx="434.1" cy="352.5" r="3.1"/>
<circle class="c19" cx="610.1" cy="320.3" r="3.1"/>
<circle class="c5" cx="604.8" cy="266.6" r="3.1"/>
<circle class="c22" cx="582.9" cy="330" r="3.1"/>
<circle class="c23" cx="566.5" cy="334.2" r="3.1"/>
<circle class="c4" cx="601.7" cy="265" r="3.1"/>
<circle class="c13" cx="638.1" cy="298.1" r="3.1"/>
<circle class="c19" cx="611.8" cy="319.9" r="3.1"/>
<circle class="c20" cx="603.6" cy="323.1" r="3.1"/>
<circle class="c11" cx="630" cy="289.2" r="3.1"/>
<circle class="c8" cx="622.2" cy="280.1" r="3.1"/>
<circle class="c8" cx="617.3" cy="277.3" r="3.1"/>
<circle class="c12" cx="634" cy="292.9" r="3.1"/>
<circle class="c21" cx="594.3" cy="327" r="3.1"/>
<circle class="c19" cx="619.8" cy="318" r="3.1"/>
<circle class="c5" cx="604.9" cy="267" r="3.1"/>
<circle class="c26" cx="506.9" cy="344.7" r="3.1"/>
<circle class="c5" cx="608" cy="267.9" r="3.1"/>
<circle class="c22" cx="574.5" cy="332.1" r="3.1"/>
<circle class="c18" cx="629.4" cy="316" r="3.1"/>
<circle class="c18" cx="633.8" cy="315.8" r="3.1"/>
<circle class="c22" cx="588.3" cy="328.6" r="3.1"/>
<circle class="c14" cx="640.9" cy="300.9" r="3.1"/>
<circle class="c18" cx="624.5" cy="316.5" r="3.1"/>
<circle class="c6" cx="607.5" cy="269.6" r="3.1"/>
<circle class="c10" cx="627" cy="284.5" r="3.1"/>
<circle class="c11" cx="629.4" cy="288.1" r="3.1"/>
<circle class="c11" cx="631.6" cy="290.4" r="3.1"/>
<circle class="c21" cx="598.4" cy="325.1" r="3.1"/>
<circle class="c18" cx="638.1" cy="315.2" r="3.1"/>
<circle class="c28" cx="442.2" cy="353.2" r="3.1"/>
<circle class="c7" cx="618" cy="276.1" r="3.1"/>
<circle class="c6" cx="610.2" cy="270.2" r="3.1"/>
<circle class="c6" cx="613" cy="273.1" r="3.1"/>
<circle class="c12" cx="635.9" cy="294.7" r="3.1"/>
<circle class="c5" cx="607.5" cy="268.9" r="3.1"/>
<circle class="c15" cx="643.2" cy="303.7" r="3.1"/>
<circle class="c17" cx="457.3" cy="312.9" r="3.1"/>
<circle class="c18" cx="622.8" cy="317.5" r="3.1"/>
<circle class="c18" cx="620.9" cy="316.9" r="3.1"/>
<circle class="c22" cx="579.2" cy="331.3" r="3.1"/>
<circle class="c19" cx="616.3" cy="319.7" r="3.1"/>
<circle class="c21" cx="595.1" cy="326.3" r="3.1"/>
<circle class="c22" cx="585.6" cy="329.5" r="3.1"/>
<circle class="c24" cx="554.6" cy="337.3" r="3.1"/>
<circle class="c18" cx="648.2" cy="316.5" r="3.1"/>
<circle class="c18" cx="628" cy="316.8" r="3.1"/>
<circle class="c20" cx="602.3" cy="324.1" r="3.1"/>
<circle class="c6" cx="613.7" cy="272" r="3.1"/>
<circle class="c18" cx="626.3" cy="316.9" r="3.1"/>
<circle class="c6" cx="613.3" cy="270.7" r="3.1"/>
<circle class="c13" cx="639.4" cy="297.9" r="3.1"/>
<circle class="c10" cx="628.3" cy="285.8" r="3.1"/>
<circle class="c18" cx="631.7" cy="316.4" r="3.1"/>
<circle class="c8" cx="620.4" cy="277.9" r="3.1"/>
<circle class="c20" cx="606.5" cy="322.3" r="3.1"/>
<circle class="c25" cx="540.6" cy="340.2" r="3.1"/>
<circle class="c17" cx="649.7" cy="313.5" r="3.1"/>
<circle class="c11" cx="633.9" cy="291.9" r="3.1"/>
<circle class="c5" cx="608" cy="267.8" r="3.1"/>
<circle class="c7" cx="615" cy="274.6" r="3.1"/>
<circle class="c21" cx="590.7" cy="327.9" r="3.1"/>
<circle class="c18" cx="633.8" cy="316.3" r="3.1"/>
<circle class="c19" cx="614.9" cy="319.8" r="3.1"/>
<circle class="c11" cx="631.7" cy="288.7" r="3.1"/>
<circle class="c6" cx="613.2" cy="272" r="3.1"/>
<circle class="c24" cx="557.3" cy="336.6" r="3.1"/>
<circle class="c25" cx="538.1" cy="340.2" r="3.1"/>
<circle class="c18" cx="651.7" cy="316.1" r="3.1"/>
<circle class="c13" cx="637.3" cy="295.9" r="3.1"/>
<circle class="c26" cx="501.3" cy="346.3" r="3.1"/>
<circle class="c20" cx="606.1" cy="322.2" r="3.1"/>
<circle class="c10" cx="628.6" cy="284.8" r="3.1"/>
<circle class="c20" cx="601.1" cy="325" r="3.1"/>
<circle class="c18" cx="651.2" cy="317" r="3.1"/>
<circle class="c16" cx="646.9" cy="308.1" r="3.1"/>
<circle class="c9" cx="625" cy="281.1" r="3.1"/>
<circle class="c24" cx="556.1" cy="338" r="3.1"/>
<circle class="c19" cx="612.6" cy="321" r="3.1"/>
<circle class="c5" cx="604.2" cy="266.4" r="3.1"/>
<circle class="c22" cx="584.5" cy="330.7" r="3.1"/>
<circle class="c5" cx="610.6" cy="269.6" r="3.1"/>
<circle class="c6" cx="615.4" cy="272.9" r="3.1"/>
<circle class="c23" cx="571" cy="334.6" r="3.1"/>
<circle class="c5" cx="610.2" cy="268.8" r="3.1"/>
<circle class="c6" cx="612.6" cy="271.3" r="3.1"/>
<circle class="c19" cx="452.1" cy="318.6" r="3.1"/>
<circle class="c8" cx="622.4" cy="279" r="3.1"/>
<circle class="c18" cx="642.4" cy="316.7" r="3.1"/>
<circle class="c9" cx="626.8" cy="283.4" r="3.1"/>
<circle class="c15" cx="645.3" cy="305.7" r="3.1"/>
<circle class="c4" cx="605" cy="265.3" r="3.1"/>
<circle class="c21" cx="596.4" cy="325.9" r="3.1"/>
<circle class="c7" cx="617.5" cy="276.3" r="3.1"/>
<circle class="c7" cx="617.8" cy="275.3" r="3.1"/>
<circle class="c6" cx="616.1" cy="272.4" r="3.1"/>
<circle class="c22" cx="577" cy="332.8" r="3.1"/>
<circle class="c18" cx="639.8" cy="315.9" r="3.1"/>
<circle class="c12" cx="635.9" cy="293.3" r="3.1"/>
<circle class="c25" cx="537" cy="340.8" r="3.1"/>
<circle class="c19" cx="621.3" cy="318.1" r="3.1"/>
<circle class="c18" cx="626.2" cy="316.6" r="3.1"/>
<circle class="c16" cx="649.1" cy="309.8" r="3.1"/>
<circle class="c20" cx="608.6" cy="321.9" r="3.1"/>
<circle class="c18" cx="631.2" cy="316.3" r="3.1"/>
<circle class="c10" cx="629.9" cy="286" r="3.1"/>
<circle class="c10" cx="630.3" cy="286.8" r="3.1"/>
<circle class="c8" cx="622.4" cy="278.1" r="3.1"/>
<circle class="c13" cx="640.4" cy="296.5" r="3.1"/>
<circle class="c26" cx="511.4" cy="344.8" r="3.1"/>
<circle class="c19" cx="619.7" cy="318.4" r="3.1"/>
<circle class="c15" cx="647.4" cy="306.1" r="3.1"/>
<circle class="c21" cx="599.9" cy="325.6" r="3.1"/>
<circle class="c24" cx="559.4" cy="336.9" r="3.1"/>
<circle class="c18" cx="635.7" cy="315.8" r="3.1"/>
<circle class="c5" cx="611.5" cy="268.6" r="3.1"/>
<circle class="c8" cx="625.2" cy="279.5" r="3.1"/>
<circle class="c18" cx="649.9" cy="317.7" r="3.1"/>
<circle class="c9" cx="626.8" cy="282.8" r="3.1"/>
<circle class="c6" cx="615.2" cy="273.4" r="3.1"/>
<circle class="c23" cx="578.2" cy="333" r="3.1"/>
<circle class="c18" cx="637.2" cy="316.5" r="3.1"/>
<circle class="c18" cx="627.3" cy="317" r="3.1"/>
<circle class="c18" cx="634.8" cy="316.4" r="3.1"/>
<circle class="c6" cx="611" cy="270.7" r="3.1"/>
<circle class="c21" cx="589.9" cy="328.8" r="3.1"/>
<circle class="c23" cx="567.9" cy="334.5" r="3.1"/>
<circle class="c7" cx="619.7" cy="277.2" r="3.1"/>
<circle class="c7" cx="618.5" cy="274.2" r="3.1"/>
<circle class="c22" cx="587.4" cy="330.1" r="3.1"/>
<circle class="c20" cx="607.3" cy="322.5" r="3.1"/>
<circle class="c19" cx="610.3" cy="321.8" r="3.1"/>
<circle class="c20" cx="604.2" cy="324.3" r="3.1"/>
<circle class="c18" cx="622.3" cy="318.2" r="3.1"/>
<circle class="c20" cx="602.8" cy="324" r="3.1"/>
<circle class="c6" cx="614.3" cy="271.1" r="3.1"/>
<circle class="c5" cx="608.7" cy="266.9" r="3.1"/>
<circle class="c6" cx="615.2" cy="273.1" r="3.1"/>
<circle class="c21" cx="595" cy="326.9" r="3.1"/>
<circle class="c4" cx="605.4" cy="265.3" r="3.1"/>
<circle class="c13" cx="641.6" cy="299.1" r="3.1"/>
<circle class="c5" cx="608.3" cy="266.7" r="3.1"/>
<circle class="c18" cx="647.1" cy="316.8" r="3.1"/>
<circle class="c18" cx="644" cy="316.8" r="3.1"/>
<circle class="c6" cx="615.4" cy="271.8" r="3.1"/>
<circle class="c12" cx="638.3" cy="294.2" r="3.1"/>
<circle class="c21" cx="591.7" cy="329.4" r="3.1"/>
<circle class="c20" cx="606" cy="322.8" r="3.1"/>
<circle class="c24" cx="544" cy="340.3" r="3.1"/>
<circle class="c19" cx="617.8" cy="319" r="3.1"/>
<circle class="c9" cx="625.8" cy="281.6" r="3.1"/>
<circle class="c4" cx="608.3" cy="266" r="3.1"/>
<circle class="c11" cx="634.5" cy="290.4" r="3.1"/>
<circle class="c6" cx="618.2" cy="273.9" r="3.1"/>
<circle class="c24" cx="559" cy="337.7" r="3.1"/>
<circle class="c17" cx="650.8" cy="311.7" r="3.1"/>
<circle class="c21" cx="592.1" cy="327.9" r="3.1"/>
<circle class="c18" cx="652.2" cy="318.4" r="3.1"/>
<circle class="c19" cx="613.5" cy="320.6" r="3.1"/>
<circle class="c5" cx="611" cy="268.1" r="3.1"/>
<circle class="c19" cx="616.3" cy="319.5" r="3.1"/>
<circle class="c17" cx="651.5" cy="314.8" r="3.1"/>
<circle class="c18" cx="641.3" cy="316.2" r="3.1"/>
<circle class="c21" cx="601.2" cy="326" r="3.1"/>
<circle class="c7" cx="619.9" cy="276.3" r="3.1"/>
<circle class="c5" cx="611.3" cy="267.7" r="3.1"/>
<circle class="c12" cx="638.8" cy="293.1" r="3.1"/>
<circle class="c10" cx="632.6" cy="287.3" r="3.1"/>
<circle class="c22" cx="581" cy="332.5" r="3.1"/>
<circle class="c13" cx="641.9" cy="297.7" r="3.1"/>
<circle class="c18" cx="452.8" cy="315.3" r="3.1"/>
<circle class="c23" cx="572.7" cy="333.9" r="3.1"/>
<circle class="c19" cx="611.2" cy="322" r="3.1"/>
<circle class="c18" cx="623.4" cy="317.2" r="3.1"/>
<circle class="c19" cx="617.8" cy="319.3" r="3.1"/>
<circle class="c16" cx="647.7" cy="308.9" r="3.1"/>
<circle class="c23" cx="570.8" cy="334.5" r="3.1"/>
<circle class="c26" cx="434.1" cy="348.2" r="3.1"/>
<circle class="c6" cx="616.1" cy="271" r="3.1"/>
<circle class="c11" cx="634.2" cy="289.2" r="3.1"/>
<circle class="c14" cx="643.7" cy="302.1" r="3.1"/>
<circle class="c7" cx="617.8" cy="274.8" r="3.1"/>
<circle class="c5" cx="614" cy="270" r="3.1"/>
<circle class="c4" cx="608.4" cy="266" r="3.1"/>
<circle class="c15" cx="645" cy="304" r="3.1"/>
<circle class="c9" cx="628.7" cy="283.2" r="3.1"/>
<circle class="c23" cx="561.8" cy="336.6" r="3.1"/>
<circle class="c6" cx="618.6" cy="272.6" r="3.1"/>
<circle class="c21" cx="598.2" cy="326.5" r="3.1"/>
<circle class="c25" cx="539.8" cy="341.1" r="3.1"/>
<circle class="c12" cx="640.1" cy="295.8" r="3.1"/>
<circle class="c22" cx="583.3" cy="332.7" r="3.1"/>
<circle class="c5" cx="614" cy="269.8" r="3.1"/>
<circle class="c6" cx="620.5" cy="274.4" r="3.1"/>
<circle class="c15" cx="648.8" cy="306.9" r="3.1"/>
<circle class="c5" cx="616.4" cy="270.5" r="3.1"/>
<circle class="c26" cx="506.3" cy="346.4" r="3.1"/>
<circle class="c19" cx="612.4" cy="321.1" r="3.1"/>
<circle class="c18" cx="638.3" cy="316.3" r="3.1"/>
<circle class="c18" cx="628.2" cy="317" r="3.1"/>
<circle class="c8" cx="625.3" cy="278.4" r="3.1"/>
<circle class="c24" cx="546.9" cy="340.4" r="3.1"/>
<circle class="c26" cx="515.6" cy="345.1" r="3.1"/>
<circle class="c18" cx="645.7" cy="317.6" r="3.1"/>
<circle class="c7" cx="620.7" cy="275.4" r="3.1"/>
<circle class="c23" cx="564.7" cy="337.1" r="3.1"/>
<circle class="c11" cx="637" cy="290.3" r="3.1"/>
<circle class="c7" cx="620.4" cy="275.4" r="3.1"/>
<circle class="c11" cx="636.5" cy="291.4" r="3.1"/>
<circle class="c20" cx="603.8" cy="325" r="3.1"/>
<circle class="c5" cx="614.3" cy="268.3" r="3.1"/>
<circle class="c7" cx="622.9" cy="276.4" r="3.1"/>
<circle class="c14" cx="643.2" cy="300.8" r="3.1"/>
<circle class="c19" cx="615" cy="320" r="3.1"/>
<circle class="c4" cx="608.3" cy="265.5" r="3.1"/>
<circle class="c14" cx="644.8" cy="302.4" r="3.1"/>
<circle class="c24" cx="561.1" cy="337.7" r="3.1"/>
<circle class="c22" cx="586.7" cy="331" r="3.1"/>
<circle class="c18" cx="632.6" cy="316.5" r="3.1"/>
<circle class="c7" cx="623.4" cy="276.5" r="3.1"/>
<circle class="c4" cx="611.2" cy="265.5" r="3.1"/>
<circle class="c18" cx="654.1" cy="315.4" r="3.1"/>
<circle class="c18" cx="625.3" cy="316.9" r="3.1"/>
<circle class="c9" cx="630.8" cy="284.3" r="3.1"/>
<circle class="c20" cx="604.7" cy="324.1" r="3.1"/>
<circle class="c26" cx="520.1" cy="345" r="3.1"/>
<circle class="c4" cx="609.2" cy="264.7" r="3.1"/>
<circle class="c15" cx="647.2" cy="304.4" r="3.1"/>
<circle class="c5" cx="613.8" cy="269.1" r="3.1"/>
<circle class="c29" cx="430.4" cy="356.3" r="3.1"/>
<circle class="c6" cx="618.8" cy="273" r="3.1"/>
<circle class="c5" cx="611.1" cy="267.5" r="3.1"/>
<circle class="c20" cx="607.9" cy="323.2" r="3.1"/>
<circle class="c18" cx="636.1" cy="316.1" r="3.1"/>
<circle class="c19" cx="609.6" cy="322.5" r="3.1"/>
<circle class="c26" cx="434.9" cy="345.1" r="3.1"/>
<circle class="c9" cx="632.9" cy="285.7" r="3.1"/>
<circle class="c25" cx="543.6" cy="341.8" r="3.1"/>
<circle class="c10" cx="631.8" cy="286.2" r="3.1"/>
<circle class="c27" cx="452.9" cy="351.6" r="3.1"/>
<circle class="c18" cx="651.3" cy="318.6" r="3.1"/>
<circle class="c4" cx="611.5" cy="265.8" r="3.1"/>
<circle class="c22" cx="588.5" cy="330.2" r="3.1"/>
<circle class="c21" cx="590.2" cy="329.7" r="3.1"/>
<circle class="c16" cx="650.7" cy="309.1" r="3.1"/>
<circle class="c18" cx="626.8" cy="316.7" r="3.1"/>
<circle class="c6" cx="618.9" cy="272.5" r="3.1"/>
<circle class="c17" cx="651.7" cy="312.9" r="3.1"/>
<circle class="c26" cx="510.5" cy="347.3" r="3.1"/>
<circle class="c5" cx="616.5" cy="269.8" r="3.1"/>
<circle class="c5" cx="618.7" cy="271" r="3.1"/>
<circle class="c8" cx="626.9" cy="280.2" r="3.1"/>
<circle class="c19" cx="619.3" cy="319.3" r="3.1"/>
<circle class="c8" cx="628.8" cy="281.9" r="3.1"/>
<circle class="c24" cx="563.2" cy="338" r="3.1"/>
<circle class="c23" cx="572" cy="334.9" r="3.1"/>
<circle class="c20" cx="600.3" cy="326" r="3.1"/>
<circle class="c18" cx="621.4" cy="318.8" r="3.1"/>
<circle class="c22" cx="581" cy="332.7" r="3.1"/>
<circle class="c4" cx="614.4" cy="267" r="3.1"/>
<circle class="c13" cx="642" cy="297.2" r="3.1"/>
<circle class="c21" cx="592.7" cy="330.1" r="3.1"/>
<circle class="c11" cx="637.6" cy="290" r="3.1"/>
<circle class="c11" cx="640.1" cy="293.4" r="3.1"/>
<circle class="c4" cx="611.8" cy="266.1" r="3.1"/>
<circle class="c18" cx="648.3" cy="318.1" r="3.1"/>
<circle class="c21" cx="596.8" cy="327.8" r="3.1"/>
<circle class="c7" cx="622.4" cy="275.6" r="3.1"/>
<circle class="c6" cx="620.7" cy="273.2" r="3.1"/>
<circle class="c21" cx="593.4" cy="328.2" r="3.1"/>
<circle class="c23" cx="575.2" cy="334.9" r="3.1"/>
<circle class="c7" cx="623" cy="275.9" r="3.1"/>
<circle class="c18" cx="653.6" cy="318.8" r="3.1"/>
<circle class="c18" cx="630.7" cy="316.6" r="3.1"/>
<circle class="c13" cx="643.4" cy="299.3" r="3.1"/>
<circle class="c18" cx="623.7" cy="318.4" r="3.1"/>
<circle class="c6" cx="621" cy="274.2" r="3.1"/>
<circle class="c22" cx="582.1" cy="333.4" r="3.1"/>
<circle class="c8" cx="627.5" cy="279.5" r="3.1"/>
<circle class="c14" cx="647.6" cy="302.6" r="3.1"/>
<circle class="c10" cx="634.2" cy="288.5" r="3.1"/>
<circle class="c11" cx="638.5" cy="292" r="3.1"/>
<circle class="c19" cx="617" cy="320.2" r="3.1"/>
<circle class="c7" cx="625.2" cy="278.1" r="3.1"/>
<circle class="c18" cx="625.5" cy="318.1" r="3.1"/>
<circle class="c29" cx="437" cy="357.2" r="3.1"/>
<circle class="c18" cx="643.2" cy="316.2" r="3.1"/>
<circle class="c7" cx="625.5" cy="278.5" r="3.1"/>
<circle class="c18" cx="647.1" cy="318.3" r="3.1"/>
<circle class="c22" cx="587.3" cy="330.7" r="3.1"/>
<circle class="c19" cx="618.2" cy="319.6" r="3.1"/>
<circle class="c26" cx="514.8" cy="347.4" r="3.1"/>
<circle class="c19" cx="613" cy="321.3" r="3.1"/>
<circle class="c22" cx="584.9" cy="333.1" r="3.1"/>
<circle class="c5" cx="616.4" cy="269.4" r="3.1"/>
<circle class="c23" cx="566" cy="337.6" r="3.1"/>
<circle class="c18" cx="621.9" cy="317.8" r="3.1"/>
<circle class="c5" cx="616.9" cy="268.4" r="3.1"/>
<circle class="c18" cx="639.8" cy="317.2" r="3.1"/>
<circle class="c27" cx="430.6" cy="351.8" r="3.1"/>
<circle class="c13" cx="644.9" cy="300.6" r="3.1"/>
<circle class="c18" cx="619.1" cy="318.9" r="3.1"/>
<circle class="c5" cx="617.4" cy="269.8" r="3.1"/>
<circle class="c22" cx="588.6" cy="331.6" r="3.1"/>
<circle class="c18" cx="638.4" cy="316.2" r="3.1"/>
<circle class="c18" cx="655.2" cy="316.7" r="3.1"/>
<circle class="c20" cx="598.1" cy="326.6" r="3.1"/>
<circle class="c15" cx="649.4" cy="305.3" r="3.1"/>
<circle class="c24" cx="549.1" cy="340.4" r="3.1"/>
<circle class="c20" cx="606.5" cy="324.2" r="3.1"/>
<circle class="c21" cx="595" cy="329.1" r="3.1"/>
<circle class="c19" cx="612" cy="322.1" r="3.1"/>
<circle class="c4" cx="611.7" cy="265.1" r="3.1"/>
<circle class="c24" cx="546" cy="341.5" r="3.1"/>
<circle class="c23" cx="573.8" cy="334.9" r="3.1"/>
<circle class="c5" cx="618.7" cy="270.6" r="3.1"/>
<circle class="c11" cx="638.7" cy="291" r="3.1"/>
<circle class="c9" cx="632.7" cy="284.9" r="3.1"/>
<circle class="c18" cx="634" cy="316.3" r="3.1"/>
<circle class="c6" cx="621.3" cy="273.1" r="3.1"/>
<circle class="c6" cx="623.7" cy="275" r="3.1"/>
<circle class="c9" cx="630.6" cy="283.1" r="3.1"/>
<circle class="c20" cx="604.6" cy="325.1" r="3.1"/>
<circle class="c7" cx="627.5" cy="277.6" r="3.1"/>
<circle class="c19" cx="608.5" cy="323" r="3.1"/>
<circle class="c16" cx="651.9" cy="310.8" r="3.1"/>
<circle class="c6" cx="621.4" cy="272.5" r="3.1"/>
<circle class="c21" cx="597.7" cy="328.1" r="3.1"/>
<circle class="c18" cx="621.9" cy="318.3" r="3.1"/>
<circle class="c8" cx="629" cy="279.9" r="3.1"/>
<circle class="c18" cx="629.8" cy="317.1" r="3.1"/>
<circle class="c4" cx="614.7" cy="267.3" r="3.1"/>
<circle class="c4" cx="611.9" cy="265.5" r="3.1"/>
<circle class="c21" cx="594.4" cy="329.2" r="3.1"/>
<circle class="c6" cx="619.3" cy="272.1" r="3.1"/>
<circle class="c4" cx="614.5" cy="266.8" r="3.1"/>
<circle class="c19" cx="613.9" cy="320.7" r="3.1"/>
<circle class="c20" cx="605.5" cy="324.6" r="3.1"/>
<circle class="c19" cx="609.9" cy="322.8" r="3.1"/>
<circle class="c20" cx="601.6" cy="326.9" r="3.1"/>
<circle class="c9" cx="634.7" cy="285.8" r="3.1"/>
<circle class="c18" cx="628.9" cy="317.3" r="3.1"/>
<circle class="c6" cx="623.6" cy="274.9" r="3.1"/>
<circle class="c7" cx="625.5" cy="276.5" r="3.1"/>
<circle class="c22" cx="584" cy="332.7" r="3.1"/>
<circle class="c8" cx="630.7" cy="282.4" r="3.1"/>
<circle class="c7" cx="625.5" cy="276.4" r="3.1"/>
<circle class="c20" cx="602.7" cy="324.8" r="3.1"/>
<circle class="c17" cx="635.9" cy="315.8" r="3.1"/>
<circle class="c18" cx="650" cy="318.4" r="3.1"/>
<circle class="c19" cx="615.3" cy="321.4" r="3.1"/>
<circle class="c12" cx="641.8" cy="294.7" r="3.1"/>
<circle class="c17" cx="654.1" cy="313.7" r="3.1"/>
<circle class="c18" cx="626.7" cy="317" r="3.1"/>
<circle class="c6" cx="621.1" cy="272.5" r="3.1"/>
<circle class="c15" cx="649.9" cy="308.2" r="3.1"/>
<circle class="c18" cx="620.7" cy="319.1" r="3.1"/>
<circle class="c5" cx="616.9" cy="269.1" r="3.1"/>
<circle class="c8" cx="629.4" cy="280.6" r="3.1"/>
<circle class="c13" cx="645.3" cy="299.1" r="3.1"/>
<circle class="c18" cx="624.2" cy="317.9" r="3.1"/>
<circle class="c11" cx="640.5" cy="292" r="3.1"/>
<circle class="c18" cx="633.8" cy="316.7" r="3.1"/>
<circle class="c18" cx="652.3" cy="319.1" r="3.1"/>
<circle class="c18" cx="646.1" cy="318.8" r="3.1"/>
<circle class="c24" cx="552.3" cy="341.4" r="3.1"/>
<circle class="c5" cx="621.8" cy="271.2" r="3.1"/>
<circle class="c4" cx="615" cy="266.9" r="3.1"/>
<circle class="c27" cx="461.4" cy="351.2" r="3.1"/>
<circle class="c4" cx="616.8" cy="268" r="3.1"/>
<circle class="c25" cx="524.8" cy="345.6" r="3.1"/>
<circle class="c20" cx="608.2" cy="324.3" r="3.1"/>
<circle class="c13" cx="647" cy="300.7" r="3.1"/>
<circle class="c19" cx="612.9" cy="322.3" r="3.1"/>
<circle class="c19" cx="616.8" cy="320.7" r="3.1"/>
<circle class="c18" cx="637.8" cy="316.7" r="3.1"/>
<circle class="c22" cx="576.4" cy="334" r="3.1"/>
<circle class="c23" cx="576.7" cy="335.6" r="3.1"/>
<circle class="c4" cx="615" cy="266.2" r="3.1"/>
<circle class="c22" cx="586" cy="332.5" r="3.1"/>
<circle class="c24" cx="549.3" cy="341.1" r="3.1"/>
<circle class="c18" cx="644.3" cy="318.2" r="3.1"/>
<circle class="c15" cx="652.2" cy="308.3" r="3.1"/>
<circle class="c5" cx="619.1" cy="269.8" r="3.1"/>
<circle class="c6" cx="625.8" cy="275.4" r="3.1"/>
<circle class="c17" cx="656" cy="315.4" r="3.1"/>
<circle class="c19" cx="611.7" cy="322.6" r="3.1"/>
<circle class="c6" cx="623.9" cy="274" r="3.1"/>
<circle class="c6" cx="623.9" cy="272.8" r="3.1"/>
<circle class="c10" cx="636.4" cy="288.4" r="3.1"/>
<circle class="c24" cx="435.5" cy="340.8" r="3.1"/>
<circle class="c6" cx="625.8" cy="275.3" r="3.1"/>
<circle class="c18" cx="648.3" cy="318.3" r="3.1"/>
<circle class="c19" cx="615.4" cy="321.6" r="3.1"/>
<circle class="c18" cx="657.9" cy="318.4" r="3.1"/>
<circle class="c18" cx="655.9" cy="320" r="3.1"/>
<circle class="c23" cx="565.8" cy="338" r="3.1"/>
<circle class="c12" cx="643.4" cy="297.4" r="3.1"/>
<circle class="c4" cx="615.1" cy="264.8" r="3.1"/>
<circle class="c18" cx="642.6" cy="316.5" r="3.1"/>
<circle class="c5" cx="619" cy="269.9" r="3.1"/>
<circle class="c18" cx="639.6" cy="316.6" r="3.1"/>
<circle class="c4" cx="615" cy="266.1" r="3.1"/>
<circle class="c21" cx="596.3" cy="329.1" r="3.1"/>
<circle class="c27" cx="467.9" cy="350.6" r="3.1"/>
<circle class="c19" cx="618.1" cy="320.4" r="3.1"/>
<circle class="c24" cx="551.2" cy="341.3" r="3.1"/>
<circle class="c13" cx="645.4" cy="298.2" r="3.1"/>
<circle class="c21" cx="590.9" cy="331.1" r="3.1"/>
<circle class="c4" cx="617.1" cy="267.4" r="3.1"/>
<circle class="c21" cx="591.3" cy="330.6" r="3.1"/>
<circle class="c11" cx="642.1" cy="293.7" r="3.1"/>
<circle class="c7" cx="630" cy="278.3" r="3.1"/>
<circle class="c24" cx="554.2" cy="340.5" r="3.1"/>
<circle class="c18" cx="631.6" cy="317.6" r="3.1"/>
<circle class="c20" cx="603" cy="325.5" r="3.1"/>
<circle class="c18" cx="621.5" cy="319.5" r="3.1"/>
<circle class="c18" cx="638.4" cy="317.3" r="3.1"/>
<circle class="c21" cx="595.8" cy="329.5" r="3.1"/>
<circle class="c10" cx="638.3" cy="289.8" r="3.1"/>
<circle class="c23" cx="568.5" cy="337.9" r="3.1"/>
<circle class="c4" cx="617.3" cy="266.5" r="3.1"/>
<circle class="c18" cx="626.8" cy="318.7" r="3.1"/>
<circle class="c9" cx="634.8" cy="285.5" r="3.1"/>
<circle class="c16" cx="653.9" cy="312.1" r="3.1"/>
<circle class="c21" cx="599.5" cy="327.7" r="3.1"/>
<circle class="c6" cx="627.6" cy="275.9" r="3.1"/>
<circle class="c6" cx="623.8" cy="272.4" r="3.1"/>
<circle class="c11" cx="639.9" cy="291.6" r="3.1"/>
<circle class="c8" cx="632.7" cy="282.8" r="3.1"/>
<circle class="c6" cx="623.6" cy="273.4" r="3.1"/>
<circle class="c5" cx="619.3" cy="269.3" r="3.1"/>
<circle class="c19" cx="610.6" cy="323.4" r="3.1"/>
<circle class="c7" cx="627.6" cy="277.7" r="3.1"/>
<circle class="c4" cx="619.4" cy="268.5" r="3.1"/>
<circle class="c18" cx="640" cy="318.3" r="3.1"/>
<circle class="c9" cx="635.8" cy="286.8" r="3.1"/>
<circle class="c19" cx="613.8" cy="321.1" r="3.1"/>
<circle class="c18" cx="619.7" cy="320.1" r="3.1"/>
<circle class="c5" cx="621.5" cy="271.3" r="3.1"/>
<circle class="c9" cx="635.2" cy="284.3" r="3.1"/>
<circle class="c14" cx="649.2" cy="303.6" r="3.1"/>
<circle class="c7" cx="627.4" cy="277.2" r="3.1"/>
<circle class="c19" cx="613.9" cy="323.1" r="3.1"/>
<circle class="c18" cx="651.2" cy="319.7" r="3.1"/>
<circle class="c22" cx="578.2" cy="334.6" r="3.1"/>
<circle class="c15" cx="650.5" cy="305.9" r="3.1"/>
<circle class="c18" cx="627.6" cy="318.2" r="3.1"/>
<circle class="c7" cx="631.9" cy="279.3" r="3.1"/>
<circle class="c18" cx="618" cy="320.4" r="3.1"/>
<circle class="c18" cx="634.9" cy="317.1" r="3.1"/>
<circle class="c25" cx="522.9" cy="346.3" r="3.1"/>
<circle class="c25" cx="528.1" cy="344.7" r="3.1"/>
<circle class="c20" cx="605.5" cy="325.6" r="3.1"/>
<circle class="c25" cx="519" cy="346.3" r="3.1"/>
<circle class="c8" cx="631.3" cy="281.1" r="3.1"/>
<circle class="c17" cx="658.4" cy="316.4" r="3.1"/>
<circle class="c7" cx="629.1" cy="277.7" r="3.1"/>
<circle class="c22" cx="580.5" cy="335.1" r="3.1"/>
<circle class="c8" cx="633.2" cy="282.5" r="3.1"/>
<circle class="c28" cx="449.1" cy="355.4" r="3.1"/>
<circle class="c4" cx="617.6" cy="266.7" r="3.1"/>
<circle class="c11" cx="642.4" cy="293.1" r="3.1"/>
<circle class="c18" cx="629.8" cy="317.6" r="3.1"/>
<circle class="c6" cx="625.6" cy="274.5" r="3.1"/>
<circle class="c4" cx="620.3" cy="267.9" r="3.1"/>
<circle class="c20" cx="606.3" cy="324.9" r="3.1"/>
<circle class="c4" cx="617.1" cy="266" r="3.1"/>
<circle class="c7" cx="629.9" cy="278" r="3.1"/>
<circle class="c21" cx="599" cy="328" r="3.1"/>
<circle class="c18" cx="654.5" cy="320.4" r="3.1"/>
<circle class="c7" cx="627.8" cy="276.5" r="3.1"/>
<circle class="c19" cx="615.6" cy="322.1" r="3.1"/>
<circle class="c18" cx="643.3" cy="318.2" r="3.1"/>
<circle class="c5" cx="622" cy="269.7" r="3.1"/>
<circle class="c6" cx="626.1" cy="273.5" r="3.1"/>
<circle class="c12" cx="643.6" cy="295.3" r="3.1"/>
<circle class="c10" cx="638.5" cy="288.6" r="3.1"/>
<circle class="c18" cx="624.9" cy="318.3" r="3.1"/>
<circle class="c23" cx="578.2" cy="336.3" r="3.1"/>
<circle class="c5" cx="622.2" cy="270" r="3.1"/>
<circle class="c18" cx="630.6" cy="317.3" r="3.1"/>
<circle class="c13" cx="647.7" cy="299.4" r="3.1"/>
<circle class="c18" cx="660.4" cy="320.1" r="3.1"/>
<circle class="c18" cx="624.4" cy="318.9" r="3.1"/>
<circle class="c25" cx="532.2" cy="345.3" r="3.1"/>
<circle class="c27" cx="474" cy="351.3" r="3.1"/>
<circle class="c18" cx="621.7" cy="319.7" r="3.1"/>
<circle class="c7" cx="630.3" cy="277.1" r="3.1"/>
<circle class="c20" cx="603" cy="326.5" r="3.1"/>
<circle class="c4" cx="620.1" cy="268.7" r="3.1"/>
<circle class="c5" cx="624.2" cy="271.1" r="3.1"/>
<circle class="c5" cx="624.3" cy="272.1" r="3.1"/>
<circle class="c8" cx="635.2" cy="283.2" r="3.1"/>
<circle class="c20" cx="608.3" cy="324.9" r="3.1"/>
<circle class="c17" cx="632.5" cy="316.5" r="3.1"/>
<circle class="c18" cx="636.4" cy="317.4" r="3.1"/>
<circle class="c24" cx="554.6" cy="341.8" r="3.1"/>
<circle class="c18" cx="647" cy="319.3" r="3.1"/>
<circle class="c4" cx="621.8" cy="268.8" r="3.1"/>
<circle class="c5" cx="622.3" cy="270.7" r="3.1"/>
<circle class="c14" cx="650.5" cy="304.3" r="3.1"/>
<circle class="c19" cx="609.6" cy="324.2" r="3.1"/>
<circle class="c12" cx="645.6" cy="296" r="3.1"/>
<circle class="c6" cx="626.5" cy="274.1" r="3.1"/>
<circle class="c13" cx="649.3" cy="302" r="3.1"/>
<circle class="c26" cx="431.9" cy="347.9" r="3.1"/>
<circle class="c18" cx="621" cy="320.3" r="3.1"/>
<circle class="c6" cx="628" cy="275.7" r="3.1"/>
<circle class="c23" cx="568.1" cy="339" r="3.1"/>
<circle class="c22" cx="585.1" cy="333.5" r="3.1"/>
<circle class="c3" cx="615.7" cy="264.2" r="3.1"/>
<circle class="c21" cx="593.1" cy="330.7" r="3.1"/>
<circle class="c7" cx="631.5" cy="278.6" r="3.1"/>
<circle class="c22" cx="587.9" cy="332.7" r="3.1"/>
<circle class="c20" cx="604.2" cy="326.4" r="3.1"/>
<circle class="c21" cx="592.4" cy="331.1" r="3.1"/>
<circle class="c19" cx="657.7" cy="321" r="3.1"/>
<circle class="c7" cx="631.8" cy="278.5" r="3.1"/>
<circle class="c6" cx="626.4" cy="272.9" r="3.1"/>
<circle class="c24" cx="556.9" cy="340.8" r="3.1"/>
<circle class="c19" cx="610.4" cy="324.5" r="3.1"/>
<circle class="c18" cx="628.2" cy="317.8" r="3.1"/>
<circle class="c18" cx="642.6" cy="317.9" r="3.1"/>
<circle class="c18" cx="644.8" cy="318.5" r="3.1"/>
<circle class="c18" cx="619" cy="320.8" r="3.1"/>
<circle class="c23" cx="582.1" cy="335.7" r="3.1"/>
<circle class="c7" cx="629.9" cy="276.6" r="3.1"/>
<circle class="c19" cx="617.8" cy="321.4" r="3.1"/>
<circle class="c15" cx="654.1" cy="309.7" r="3.1"/>
<circle class="c10" cx="640.4" cy="290.7" r="3.1"/>
<circle class="c20" cx="607.1" cy="324.9" r="3.1"/>
<circle class="c20" cx="602.4" cy="326.1" r="3.1"/>
<circle class="c23" cx="570.8" cy="337.4" r="3.1"/>
<circle class="c16" cx="655.8" cy="313.4" r="3.1"/>
<circle class="c23" cx="570.3" cy="338.6" r="3.1"/>
<circle class="c19" cx="656" cy="321.2" r="3.1"/>
<circle class="c11" cx="644.6" cy="292.7" r="3.1"/>
<circle class="c19" cx="612.7" cy="323.2" r="3.1"/>
<circle class="c3" cx="617.1" cy="265.3" r="3.1"/>
<circle class="c25" cx="527.5" cy="346.1" r="3.1"/>
<circle class="c21" cx="597.7" cy="329.2" r="3.1"/>
<circle class="c18" cx="639.5" cy="317.9" r="3.1"/>
<circle class="c8" cx="633.6" cy="280.9" r="3.1"/>
<circle class="c18" cx="625.3" cy="318.8" r="3.1"/>
<circle class="c4" cx="621" cy="266.8" r="3.1"/>
<circle class="c18" cx="633.8" cy="317.8" r="3.1"/>
<circle class="c9" cx="637.2" cy="285.5" r="3.1"/>
<circle class="c20" cx="599.6" cy="327.7" r="3.1"/>
<circle class="c21" cx="594.7" cy="331.2" r="3.1"/>
<circle class="c5" cx="623.8" cy="270.5" r="3.1"/>
<circle class="c15" cx="653.1" cy="307.3" r="3.1"/>
<circle class="c18" cx="660.1" cy="317.7" r="3.1"/>
<circle class="c9" cx="639.1" cy="287.1" r="3.1"/>
<circle class="c19" cx="614.7" cy="322.6" r="3.1"/>
<circle class="c11" cx="643.7" cy="294.9" r="3.1"/>
<circle class="c18" cx="649.8" cy="319.9" r="3.1"/>
<circle class="c21" cx="596.9" cy="329.6" r="3.1"/>
<circle class="c12" cx="647.5" cy="297.8" r="3.1"/>
<circle class="c23" cx="575" cy="337.4" r="3.1"/>
<circle class="c6" cx="630.3" cy="276.7" r="3.1"/>
<circle class="c23" cx="572.9" cy="338.1" r="3.1"/>
<circle class="c23" cx="435.7" cy="336.8" r="3.1"/>
<circle class="c24" cx="559.1" cy="341.5" r="3.1"/>
<circle class="c5" cx="625.8" cy="272.5" r="3.1"/>
<circle class="c27" cx="480.4" cy="351.7" r="3.1"/>
<circle class="c10" cx="642.2" cy="291.4" r="3.1"/>
<circle class="c25" cx="535.3" cy="344.6" r="3.1"/>
<circle class="c18" cx="626.5" cy="318.2" r="3.1"/>
<circle class="c5" cx="626.2" cy="272.1" r="3.1"/>
<circle class="c20" cx="606.4" cy="326.3" r="3.1"/>
<circle class="c3" cx="618.7" cy="264.5" r="3.1"/>
<circle class="c22" cx="584.3" cy="334.6" r="3.1"/>
<circle class="c20" cx="601" cy="327.8" r="3.1"/>
<circle class="c24" cx="556.6" cy="341.6" r="3.1"/>
<circle class="c6" cx="628.1" cy="274.2" r="3.1"/>
<circle class="c22" cx="580.1" cy="335.6" r="3.1"/>
<circle class="c21" cx="599.1" cy="328.9" r="3.1"/>
<circle class="c19" cx="611.4" cy="324" r="3.1"/>
<circle class="c9" cx="637.1" cy="285" r="3.1"/>
<circle class="c22" cx="589.3" cy="332.9" r="3.1"/>
<circle class="c18" cx="627.1" cy="318.9" r="3.1"/>
<circle class="c20" cx="601.8" cy="328" r="3.1"/>
<circle class="c22" cx="587.1" cy="333.5" r="3.1"/>
<circle class="c5" cx="624.4" cy="271.3" r="3.1"/>
<circle class="c3" cx="617.5" cy="265" r="3.1"/>
<circle class="c27" cx="458.9" cy="354" r="3.1"/>
<circle class="c3" cx="619.8" cy="265.6" r="3.1"/>
<circle class="c16" cx="655.6" cy="311.3" r="3.1"/>
<circle class="c8" cx="635.4" cy="282.9" r="3.1"/>
<circle class="c18" cx="628.6" cy="318" r="3.1"/>
<circle class="c5" cx="626.5" cy="271.1" r="3.1"/>
<circle class="c10" cx="641" cy="288.5" r="3.1"/>
<circle class="c24" cx="562.1" cy="341.5" r="3.1"/>
<circle class="c6" cx="629.7" cy="275.7" r="3.1"/>
<circle class="c6" cx="630" cy="275.2" r="3.1"/>
<circle class="c23" cx="573.1" cy="338.1" r="3.1"/>
<circle class="c19" cx="660.1" cy="322.6" r="3.1"/>
<circle class="c18" cx="637.2" cy="318.2" r="3.1"/>
<circle class="c18" cx="622.4" cy="319.4" r="3.1"/>
<circle class="c16" cx="658.4" cy="314" r="3.1"/>
<circle class="c19" cx="609.1" cy="324.9" r="3.1"/>
<circle class="c6" cx="628.7" cy="273.9" r="3.1"/>
<circle class="c5" cx="624.2" cy="271.4" r="3.1"/>
<circle class="c5" cx="625.9" cy="272.2" r="3.1"/>
<circle class="c20" cx="604.1" cy="326.9" r="3.1"/>
<circle class="c18" cx="652.8" cy="321" r="3.1"/>
<circle class="c4" cx="622.4" cy="268.2" r="3.1"/>
<circle class="c13" cx="649.1" cy="299.9" r="3.1"/>
<circle class="c4" cx="622.7" cy="267.6" r="3.1"/>
<circle class="c5" cx="628.4" cy="273.2" r="3.1"/>
<circle class="c11" cx="645.7" cy="295" r="3.1"/>
<circle class="c25" cx="538.2" cy="344" r="3.1"/>
<circle class="c17" cx="635.1" cy="317.5" r="3.1"/>
<circle class="c4" cx="620.3" cy="266.5" r="3.1"/>
<circle class="c18" cx="646" cy="319.3" r="3.1"/>
<circle class="c4" cx="620.1" cy="267.5" r="3.1"/>
<circle class="c18" cx="624.3" cy="319.8" r="3.1"/>
<circle class="c6" cx="628.3" cy="275.7" r="3.1"/>
<circle class="c7" cx="636" cy="280.7" r="3.1"/>
<circle class="c5" cx="626.2" cy="271.1" r="3.1"/>
<circle class="c7" cx="631.5" cy="278.1" r="3.1"/>
<circle class="c18" cx="641.3" cy="318.1" r="3.1"/>
<circle class="c18" cx="650.8" cy="320.9" r="3.1"/>
<circle class="c3" cx="620.8" cy="265.6" r="3.1"/>
<circle class="c25" cx="531.7" cy="346.3" r="3.1"/>
<circle class="c4" cx="621.8" cy="269" r="3.1"/>
<circle class="c15" cx="654.9" cy="308.4" r="3.1"/>
<circle class="c7" cx="634.4" cy="279.6" r="3.1"/>
<circle class="c17" cx="631.5" cy="317" r="3.1"/>
<circle class="c18" cx="617.8" cy="321.4" r="3.1"/>
<circle class="c19" cx="614.7" cy="323.2" r="3.1"/>
<circle class="c4" cx="624.3" cy="269.7" r="3.1"/>
<circle class="c19" cx="612.6" cy="324.2" r="3.1"/>
<circle class="c27" cx="485" cy="351.5" r="3.1"/>
<circle class="c18" cx="648.1" cy="319.8" r="3.1"/>
<circle class="c20" cx="605.6" cy="327" r="3.1"/>
<circle class="c3" cx="620.3" cy="265.1" r="3.1"/>
<circle class="c19" cx="618.4" cy="321.7" r="3.1"/>
<circle class="c8" cx="637.7" cy="283.3" r="3.1"/>
<circle class="c7" cx="633.5" cy="279" r="3.1"/>
<circle class="c25" cx="431.4" cy="344.4" r="3.1"/>
<circle class="c18" cx="644.8" cy="319.7" r="3.1"/>
<circle class="c6" cx="630.7" cy="274.8" r="3.1"/>
<circle class="c18" cx="647.8" cy="320.7" r="3.1"/>
<circle class="c6" cx="632" cy="277" r="3.1"/>
<circle class="c19" cx="613.3" cy="322.6" r="3.1"/>
<circle class="c9" cx="641.1" cy="287.2" r="3.1"/>
<circle class="c7" cx="633.3" cy="280.3" r="3.1"/>
<circle class="c7" cx="633.8" cy="278.3" r="3.1"/>
<circle class="c22" cx="588.5" cy="333.5" r="3.1"/>
<circle class="c21" cx="593.4" cy="331.9" r="3.1"/>
<circle class="c10" cx="642.7" cy="290" r="3.1"/>
<circle class="c13" cx="650.9" cy="302.5" r="3.1"/>
<circle class="c14" cx="652.4" cy="305.4" r="3.1"/>
<circle class="c24" cx="559.5" cy="341.6" r="3.1"/>
<circle class="c18" cx="661.7" cy="320" r="3.1"/>
<circle class="c19" cx="607.5" cy="325.2" r="3.1"/>
<circle class="c11" cx="647.7" cy="295.5" r="3.1"/>
<circle class="c4" cx="622.8" cy="267.3" r="3.1"/>
<circle class="c19" cx="615.8" cy="322.3" r="3.1"/>
<circle class="c27" cx="489.9" cy="351.5" r="3.1"/>
<circle class="c17" cx="638.5" cy="317.6" r="3.1"/>
<circle class="c20" cx="601.6" cy="328.2" r="3.1"/>
<circle class="c19" cx="610.7" cy="324.7" r="3.1"/>
<circle class="c21" cx="598.3" cy="330.1" r="3.1"/>
<circle class="c22" cx="583.8" cy="335.6" r="3.1"/>
<circle class="c12" cx="649.5" cy="299.2" r="3.1"/>
<circle class="c19" cx="612.6" cy="323.8" r="3.1"/>
<circle class="c22" cx="581.8" cy="335.4" r="3.1"/>
<circle class="c8" cx="639.4" cy="284.7" r="3.1"/>
<circle class="c18" cx="630.2" cy="318.3" r="3.1"/>
<circle class="c18" cx="628.5" cy="318.3" r="3.1"/>
<circle class="c5" cx="628.3" cy="272.6" r="3.1"/>
<circle class="c17" cx="631.2" cy="318" r="3.1"/>
<circle class="c21" cx="594.8" cy="331.6" r="3.1"/>
<circle class="c18" cx="643.8" cy="318.5" r="3.1"/>
<circle class="c18" cx="619.4" cy="320.9" r="3.1"/>
<circle class="c12" cx="647.1" cy="297.1" r="3.1"/>
<circle class="c25" cx="534.4" cy="345.8" r="3.1"/>
<circle class="c20" cx="606.3" cy="326.9" r="3.1"/>
<circle class="c11" cx="645.8" cy="293.4" r="3.1"/>
<circle class="c4" cx="622.4" cy="267.4" r="3.1"/>
<circle class="c10" cx="644" cy="292" r="3.1"/>
<circle class="c8" cx="637.8" cy="281.9" r="3.1"/>
<circle class="c17" cx="659.7" cy="316.1" r="3.1"/>
<circle class="c6" cx="630.1" cy="274" r="3.1"/>
<circle class="c18" cx="624.3" cy="319.3" r="3.1"/>
<circle class="c9" cx="639.1" cy="286.2" r="3.1"/>
<circle class="c20" cx="602.7" cy="328" r="3.1"/>
<circle class="c22" cx="590.6" cy="333.1" r="3.1"/>
<circle class="c23" cx="573.3" cy="338.3" r="3.1"/>
<circle class="c22" cx="586" cy="334.6" r="3.1"/>
<circle class="c6" cx="630.6" cy="274.8" r="3.1"/>
<circle class="c5" cx="628.6" cy="272.7" r="3.1"/>
<circle class="c18" cx="624.4" cy="319.3" r="3.1"/>
<circle class="c21" cx="600.1" cy="329.6" r="3.1"/>
<circle class="c25" cx="537.5" cy="345.7" r="3.1"/>
<circle class="c7" cx="633.5" cy="277.9" r="3.1"/>
<circle class="c5" cx="630.3" cy="273.5" r="3.1"/>
<circle class="c21" cx="594.9" cy="330.8" r="3.1"/>
<circle class="c16" cx="658.1" cy="312.6" r="3.1"/>
<circle class="c18" cx="621.2" cy="320.6" r="3.1"/>
<circle class="c18" cx="653.9" cy="322" r="3.1"/>
<circle class="c18" cx="619.8" cy="321.9" r="3.1"/>
<circle class="c20" cx="607.1" cy="326.3" r="3.1"/>
<circle class="c27" cx="466.8" cy="353.1" r="3.1"/>
<circle class="c5" cx="630.9" cy="273" r="3.1"/>
<circle class="c17" cx="633.2" cy="317.5" r="3.1"/>
<circle class="c6" cx="631.9" cy="276.9" r="3.1"/>
<circle class="c18" cx="626" cy="319.5" r="3.1"/>
<circle class="c19" cx="617.5" cy="322.4" r="3.1"/>
<circle class="c3" cx="622.5" cy="266.4" r="3.1"/>
<circle class="c3" cx="621" cy="264.7" r="3.1"/>
<circle class="c13" cx="651" cy="301.7" r="3.1"/>
<circle class="c5" cx="626.9" cy="270.7" r="3.1"/>
<circle class="c11" cx="648.5" cy="294.3" r="3.1"/>
<circle class="c4" cx="624.4" cy="268.7" r="3.1"/>
<circle class="c18" cx="650.7" cy="320.8" r="3.1"/>
<circle class="c24" cx="564.7" cy="340.8" r="3.1"/>
<circle class="c24" cx="561.3" cy="342.3" r="3.1"/>
<circle class="c9" cx="642.4" cy="287.2" r="3.1"/>
<circle class="c15" cx="656.4" cy="309.9" r="3.1"/>
<circle class="c19" cx="659.1" cy="323" r="3.1"/>
<circle class="c4" cx="627.5" cy="269.7" r="3.1"/>
<circle class="c14" cx="654.9" cy="307" r="3.1"/>
<circle class="c21" cx="592.2" cy="333" r="3.1"/>
<circle class="c17" cx="632.4" cy="317.8" r="3.1"/>
<circle class="c14" cx="652.6" cy="303.9" r="3.1"/>
<circle class="c22" cx="436.5" cy="333.4" r="3.1"/>
<circle class="c8" cx="639.3" cy="284.2" r="3.1"/>
<circle class="c19" cx="656.9" cy="322.8" r="3.1"/>
<circle class="c19" cx="608.8" cy="325.8" r="3.1"/>
<circle class="c23" cx="576.1" cy="338.4" r="3.1"/>
<circle class="c6" cx="632.1" cy="277.1" r="3.1"/>
<circle class="c18" cx="627" cy="319" r="3.1"/>
<circle class="c20" cx="610.3" cy="326.1" r="3.1"/>
<circle class="c20" cx="602.4" cy="329.2" r="3.1"/>
<circle class="c18" cx="622.3" cy="320" r="3.1"/>
<circle class="c18" cx="642.8" cy="319.5" r="3.1"/>
<circle class="c9" cx="640.5" cy="286.8" r="3.1"/>
<circle class="c27" cx="494.7" cy="352.1" r="3.1"/>
<circle class="c10" cx="642.3" cy="289.4" r="3.1"/>
<circle class="c5" cx="627.2" cy="270.5" r="3.1"/>
<circle class="c7" cx="634.3" cy="278.5" r="3.1"/>
<circle class="c18" cx="629" cy="318.6" r="3.1"/>
<circle class="c8" cx="637.5" cy="281.9" r="3.1"/>
<circle class="c5" cx="629" cy="272.5" r="3.1"/>
<circle class="c17" cx="640.5" cy="318.6" r="3.1"/>
<circle class="c18" cx="621.5" cy="321" r="3.1"/>
<circle class="c23" cx="577" cy="337.7" r="3.1"/>
<circle class="c18" cx="623.9" cy="320.1" r="3.1"/>
<circle class="c3" cx="622.4" cy="265.1" r="3.1"/>
<circle class="c19" cx="613.2" cy="324" r="3.1"/>
<circle class="c18" cx="653.3" cy="321.8" r="3.1"/>
<circle class="c4" cx="624.6" cy="268.2" r="3.1"/>
<circle class="c19" cx="616.6" cy="323.2" r="3.1"/>
<circle class="c7" cx="635.9" cy="279.4" r="3.1"/>
<circle class="c19" cx="612.8" cy="324.1" r="3.1"/>
<circle class="c25" cx="542.1" cy="344.9" r="3.1"/>
<circle class="c19" cx="655.9" cy="322.7" r="3.1"/>
<circle class="c24" cx="567" cy="340.8" r="3.1"/>
<circle class="c10" cx="646.2" cy="292.2" r="3.1"/>
<circle class="c18" cx="663.5" cy="322" r="3.1"/>
<circle class="c20" cx="607.4" cy="326.5" r="3.1"/>
<circle class="c6" cx="632.3" cy="276.4" r="3.1"/>
<circle class="c27" cx="474" cy="353.1" r="3.1"/>
<circle class="c4" cx="626.7" cy="269.6" r="3.1"/>
<circle class="c4" cx="624.8" cy="267.9" r="3.1"/>
<circle class="c3" cx="622.9" cy="266.4" r="3.1"/>
<circle class="c23" cx="578.7" cy="337.8" r="3.1"/>
<circle class="c21" cx="597.1" cy="330.7" r="3.1"/>
<circle class="c25" cx="541.3" cy="346.3" r="3.1"/>
<circle class="c19" cx="662" cy="324" r="3.1"/>
<circle class="c5" cx="628" cy="271.9" r="3.1"/>
<circle class="c25" cx="544.2" cy="345.1" r="3.1"/>
<circle class="c17" cx="637.9" cy="318.5" r="3.1"/>
<circle class="c18" cx="618.9" cy="322" r="3.1"/>
<circle class="c22" cx="590.1" cy="334.2" r="3.1"/>
<circle class="c27" cx="498.9" cy="352.3" r="3.1"/>
<circle class="c20" cx="607.3" cy="327" r="3.1"/>
<circle class="c8" cx="641.5" cy="285.4" r="3.1"/>
<circle class="c4" cx="627.4" cy="268.9" r="3.1"/>
<circle class="c19" cx="615.8" cy="323.6" r="3.1"/>
<circle class="c7" cx="635.9" cy="280" r="3.1"/>
<circle class="c24" cx="563.5" cy="341.6" r="3.1"/>
<circle class="c12" cx="651.3" cy="299.7" r="3.1"/>
<circle class="c7" cx="636" cy="278.9" r="3.1"/>
<circle class="c19" cx="616.3" cy="323.4" r="3.1"/>
<circle class="c5" cx="629.3" cy="271.2" r="3.1"/>
<circle class="c3" cx="622.6" cy="266" r="3.1"/>
<circle class="c6" cx="634.5" cy="277" r="3.1"/>
<circle class="c18" cx="648.7" cy="321.3" r="3.1"/>
<circle class="c6" cx="632.5" cy="275.3" r="3.1"/>
<circle class="c12" cx="649.5" cy="297.9" r="3.1"/>
<circle class="c7" cx="637.5" cy="281.1" r="3.1"/>
<circle class="c10" cx="644.4" cy="289.5" r="3.1"/>
<circle class="c10" cx="644.8" cy="290.5" r="3.1"/>
<circle class="c6" cx="632.2" cy="276.2" r="3.1"/>
<circle class="c18" cx="626.1" cy="319.5" r="3.1"/>
<circle class="c4" cx="627.6" cy="268.3" r="3.1"/>
<circle class="c5" cx="629.3" cy="271" r="3.1"/>
<circle class="c19" cx="659.2" cy="324.3" r="3.1"/>
<circle class="c22" cx="587.3" cy="335.1" r="3.1"/>
<circle class="c20" cx="604.3" cy="328.7" r="3.1"/>
<circle class="c18" cx="625.5" cy="319.6" r="3.1"/>
<circle class="c16" cx="659.8" cy="314.5" r="3.1"/>
<circle class="c23" cx="578.3" cy="338.3" r="3.1"/>
<circle class="c19" cx="610.6" cy="325.7" r="3.1"/>
<circle class="c6" cx="634.9" cy="276.9" r="3.1"/>
<circle class="c18" cx="641.5" cy="319.5" r="3.1"/>
<circle class="c24" cx="546.9" cy="344.7" r="3.1"/>
<circle class="c23" cx="580.4" cy="338" r="3.1"/>
<circle class="c17" cx="636.1" cy="317.8" r="3.1"/>
<circle class="c27" cx="504.4" cy="352.2" r="3.1"/>
<circle class="c6" cx="631.8" cy="275.3" r="3.1"/>
</g>
<g class="a4">
<circle class="c19" cx="611.2" cy="325.4" r="3.1"/>
<circle class="c3" cx="625" cy="266.8" r="3.1"/>
<circle class="c6" cx="634.8" cy="276.6" r="3.1"/>
<circle class="c24" cx="566.5" cy="341.4" r="3.1"/>
<circle class="c6" cx="636.4" cy="278.1" r="3.1"/>
<circle class="c19" cx="614.5" cy="324.1" r="3.1"/>
<circle class="c18" cx="643.7" cy="319.7" r="3.1"/>
<circle class="c23" cx="431.3" cy="340.3" r="3.1"/>
<circle class="c3" cx="625.4" cy="266.6" r="3.1"/>
<circle class="c18" cx="622.6" cy="320.9" r="3.1"/>
<circle class="c20" cx="604.9" cy="327.3" r="3.1"/>
<circle class="c13" cx="652.7" cy="302.4" r="3.1"/>
<circle class="c20" cx="436.5" cy="329.8" r="3.1"/>
<circle class="c7" cx="636.2" cy="278.5" r="3.1"/>
<circle class="c9" cx="642.8" cy="287.1" r="3.1"/>
<circle class="c20" cx="603.4" cy="328.8" r="3.1"/>
<circle class="c11" cx="649.7" cy="296.6" r="3.1"/>
<circle class="c5" cx="630.8" cy="273.2" r="3.1"/>
<circle class="c4" cx="628.9" cy="270.3" r="3.1"/>
<circle class="c19" cx="617.7" cy="323" r="3.1"/>
<circle class="c22" cx="585.7" cy="336.4" r="3.1"/>
<circle class="c8" cx="639.2" cy="283.1" r="3.1"/>
<circle class="c3" cx="622.9" cy="264.7" r="3.1"/>
<circle class="c5" cx="632.8" cy="274.3" r="3.1"/>
<circle class="c21" cx="596.6" cy="331.1" r="3.1"/>
<circle class="c22" cx="592.1" cy="333.9" r="3.1"/>
<circle class="c18" cx="651.2" cy="321.8" r="3.1"/>
<circle class="c5" cx="632.5" cy="273.4" r="3.1"/>
<circle class="c17" cx="630.8" cy="318.4" r="3.1"/>
<circle class="c18" cx="619.4" cy="322.6" r="3.1"/>
<circle class="c4" cx="629" cy="270" r="3.1"/>
<circle class="c21" cx="599.1" cy="330.9" r="3.1"/>
<circle class="c19" cx="615.7" cy="323.8" r="3.1"/>
<circle class="c17" cx="636.7" cy="318.1" r="3.1"/>
<circle class="c6" cx="634.5" cy="275.6" r="3.1"/>
<circle class="c21" cx="600.5" cy="330.5" r="3.1"/>
<circle class="c7" cx="637.6" cy="279.6" r="3.1"/>
<circle class="c19" cx="658.5" cy="324.4" r="3.1"/>
<circle class="c17" cx="662" cy="318.1" r="3.1"/>
<circle class="c21" cx="598.5" cy="331.5" r="3.1"/>
<circle class="c14" cx="655.5" cy="307.9" r="3.1"/>
<circle class="c18" cx="621.6" cy="322.2" r="3.1"/>
<circle class="c6" cx="633.9" cy="275.7" r="3.1"/>
<circle class="c8" cx="641.1" cy="284.6" r="3.1"/>
<circle class="c9" cx="645" cy="288.6" r="3.1"/>
<circle class="c25" cx="552.7" cy="345.2" r="3.1"/>
<circle class="c15" cx="657.6" cy="310.9" r="3.1"/>
<circle class="c21" cx="593.7" cy="333" r="3.1"/>
<circle class="c12" cx="650.4" cy="298.7" r="3.1"/>
<circle class="c17" cx="627.7" cy="318.7" r="3.1"/>
<circle class="c17" cx="639" cy="318.4" r="3.1"/>
<circle class="c24" cx="550.8" cy="344.5" r="3.1"/>
<circle class="c5" cx="631.1" cy="272.3" r="3.1"/>
<circle class="c20" cx="601.3" cy="329.9" r="3.1"/>
<circle class="c23" cx="568.7" cy="341.3" r="3.1"/>
<circle class="c4" cx="626.9" cy="268.1" r="3.1"/>
<circle class="c19" cx="614.2" cy="324.7" r="3.1"/>
<circle class="c18" cx="645.8" cy="320.4" r="3.1"/>
<circle class="c4" cx="629.5" cy="269.3" r="3.1"/>
<circle class="c18" cx="640.4" cy="319.4" r="3.1"/>
<circle class="c10" cx="646.4" cy="291" r="3.1"/>
<circle class="c19" cx="608.2" cy="326.5" r="3.1"/>
<circle class="c18" cx="619.7" cy="322.2" r="3.1"/>
<circle class="c4" cx="625" cy="267.5" r="3.1"/>
<circle class="c17" cx="635.2" cy="318.2" r="3.1"/>
<circle class="c14" cx="654.5" cy="305.8" r="3.1"/>
<circle class="c27" cx="485.1" cy="353.2" r="3.1"/>
<circle class="c26" cx="508.2" cy="352" r="3.1"/>
<circle class="c22" cx="586.6" cy="335.6" r="3.1"/>
<circle class="c19" cx="611.4" cy="326.2" r="3.1"/>
<circle class="c4" cx="627.5" cy="267.8" r="3.1"/>
<circle class="c20" cx="607.1" cy="327.7" r="3.1"/>
<circle class="c23" cx="570.7" cy="340.7" r="3.1"/>
<circle class="c19" cx="666.2" cy="324.5" r="3.1"/>
<circle class="c13" cx="655.4" cy="303.4" r="3.1"/>
<circle class="c7" cx="638" cy="279.4" r="3.1"/>
<circle class="c19" cx="437.6" cy="326.1" r="3.1"/>
<circle class="c21" cx="593.5" cy="333.2" r="3.1"/>
<circle class="c19" cx="613" cy="325" r="3.1"/>
<circle class="c8" cx="643.5" cy="285.8" r="3.1"/>
<circle class="c18" cx="653.3" cy="322.6" r="3.1"/>
<circle class="c20" cx="605.2" cy="328.8" r="3.1"/>
<circle class="c6" cx="636.6" cy="277.2" r="3.1"/>
<circle class="c3" cx="625.7" cy="266" r="3.1"/>
<circle class="c17" cx="631.3" cy="318.1" r="3.1"/>
<circle class="c27" cx="489.4" cy="353.6" r="3.1"/>
<circle class="c27" cx="494.2" cy="354.1" r="3.1"/>
<circle class="c5" cx="632.5" cy="273.3" r="3.1"/>
<circle class="c20" cx="605.9" cy="328" r="3.1"/>
<circle class="c13" cx="653.2" cy="301.3" r="3.1"/>
<circle class="c18" cx="663.7" cy="320.3" r="3.1"/>
<circle class="c21" cx="597.9" cy="331.3" r="3.1"/>
<circle class="c18" cx="645.5" cy="320.5" r="3.1"/>
<circle class="c25" cx="544.5" cy="345.9" r="3.1"/>
<circle class="c23" cx="579.9" cy="338.7" r="3.1"/>
<circle class="c18" cx="649.6" cy="321.6" r="3.1"/>
<circle class="c19" cx="656" cy="324.2" r="3.1"/>
<circle class="c17" cx="630" cy="318.6" r="3.1"/>
<circle class="c7" cx="639.8" cy="282" r="3.1"/>
<circle class="c18" cx="621" cy="321" r="3.1"/>
<circle class="c6" cx="635.6" cy="276.9" r="3.1"/>
<circle class="c7" cx="638" cy="279.4" r="3.1"/>
<circle class="c18" cx="623.8" cy="321" r="3.1"/>
<circle class="c15" cx="657.7" cy="309.7" r="3.1"/>
<circle class="c8" cx="641.6" cy="283.8" r="3.1"/>
<circle class="c17" cx="629.1" cy="318.9" r="3.1"/>
<circle class="c5" cx="634.9" cy="274.1" r="3.1"/>
<circle class="c6" cx="636.6" cy="277" r="3.1"/>
<circle class="c3" cx="627.5" cy="267.4" r="3.1"/>
<circle class="c5" cx="634.9" cy="274.6" r="3.1"/>
<circle class="c5" cx="631.2" cy="271.6" r="3.1"/>
<circle class="c26" cx="479.4" cy="352.8" r="3.1"/>
<circle class="c24" cx="568.1" cy="342.5" r="3.1"/>
<circle class="c18" cx="647.7" cy="321.1" r="3.1"/>
<circle class="c17" cx="661.8" cy="316.1" r="3.1"/>
<circle class="c19" cx="611.8" cy="325.9" r="3.1"/>
<circle class="c5" cx="631" cy="272" r="3.1"/>
<circle class="c9" cx="646.7" cy="289.8" r="3.1"/>
<circle class="c17" cx="628.4" cy="319.4" r="3.1"/>
<circle class="c11" cx="649.4" cy="294.9" r="3.1"/>
<circle class="c19" cx="609.5" cy="326.9" r="3.1"/>
<circle class="c4" cx="629.7" cy="268.8" r="3.1"/>
<circle class="c7" cx="638.3" cy="279.4" r="3.1"/>
<circle class="c22" cx="584.4" cy="337.9" r="3.1"/>
<circle class="c20" cx="602.5" cy="330.5" r="3.1"/>
<circle class="c20" cx="607.7" cy="327.2" r="3.1"/>
<circle class="c4" cx="631" cy="270" r="3.1"/>
<circle class="c18" cx="624.6" cy="320" r="3.1"/>
<circle class="c22" cx="588.5" cy="335.4" r="3.1"/>
<circle class="c14" cx="656.4" cy="306.1" r="3.1"/>
<circle class="c23" cx="573.3" cy="340.8" r="3.1"/>
<circle class="c9" cx="644.2" cy="287.4" r="3.1"/>
<circle class="c18" cx="665.9" cy="322.6" r="3.1"/>
<circle class="c18" cx="642.5" cy="319.7" r="3.1"/>
<circle class="c16" cx="659.6" cy="312.7" r="3.1"/>
<circle class="c13" cx="655.1" cy="302.4" r="3.1"/>
<circle class="c21" cx="599.4" cy="331.3" r="3.1"/>
<circle class="c19" cx="667.6" cy="327.1" r="3.1"/>
<circle class="c21" cx="595" cy="333.6" r="3.1"/>
<circle class="c27" cx="499.2" cy="354.4" r="3.1"/>
<circle class="c19" cx="614.2" cy="324.3" r="3.1"/>
<circle class="c8" cx="643.6" cy="285.3" r="3.1"/>
<circle class="c3" cx="625.3" cy="265.7" r="3.1"/>
<circle class="c22" cx="582.5" cy="337.3" r="3.1"/>
<circle class="c3" cx="627.8" cy="266.4" r="3.1"/>
<circle class="c22" cx="431.6" cy="337.4" r="3.1"/>
<circle class="c4" cx="629.3" cy="269.6" r="3.1"/>
<circle class="c17" cx="633.7" cy="318.2" r="3.1"/>
<circle class="c17" cx="628.4" cy="319.1" r="3.1"/>
<circle class="c5" cx="632.8" cy="272.5" r="3.1"/>
<circle class="c18" cx="621.1" cy="322.6" r="3.1"/>
<circle class="c18" cx="616.8" cy="323.2" r="3.1"/>
<circle class="c5" cx="634.5" cy="274.8" r="3.1"/>
<circle class="c4" cx="631" cy="270.6" r="3.1"/>
<circle class="c17" cx="639.4" cy="318.8" r="3.1"/>
<circle class="c4" cx="629.7" cy="268.1" r="3.1"/>
<circle class="c19" cx="662.7" cy="324.7" r="3.1"/>
<circle class="c7" cx="639.6" cy="281.4" r="3.1"/>
<circle class="c22" cx="590.1" cy="335.5" r="3.1"/>
<circle class="c18" cx="618.6" cy="322.9" r="3.1"/>
<circle class="c11" cx="650.8" cy="297.4" r="3.1"/>
<circle class="c22" cx="589" cy="336.1" r="3.1"/>
<circle class="c20" cx="605.9" cy="329.2" r="3.1"/>
<circle class="c17" cx="633.1" cy="317.9" r="3.1"/>
<circle class="c3" cx="625.7" cy="265.2" r="3.1"/>
<circle class="c21" cx="595.1" cy="332.3" r="3.1"/>
<circle class="c24" cx="554.9" cy="345.7" r="3.1"/>
<circle class="c19" cx="615.3" cy="323.8" r="3.1"/>
<circle class="c10" cx="648.4" cy="291.9" r="3.1"/>
<circle class="c20" cx="601.4" cy="330.5" r="3.1"/>
<circle class="c18" cx="623" cy="321.5" r="3.1"/>
<circle class="c10" cx="648.2" cy="293" r="3.1"/>
<circle class="c20" cx="604.1" cy="329.5" r="3.1"/>
<circle class="c22" cx="590.2" cy="335.1" r="3.1"/>
<circle class="c5" cx="632.7" cy="272.9" r="3.1"/>
<circle class="c3" cx="627.6" cy="266.9" r="3.1"/>
<circle class="c26" cx="517.4" cy="350.9" r="3.1"/>
<circle class="c25" cx="546.7" cy="346" r="3.1"/>
<circle class="c12" cx="653.1" cy="300" r="3.1"/>
<circle class="c25" cx="549.4" cy="346.2" r="3.1"/>
<circle class="c19" cx="610.4" cy="327.1" r="3.1"/>
<circle class="c10" cx="649.6" cy="293.9" r="3.1"/>
<circle class="c3" cx="629" cy="268.1" r="3.1"/>
<circle class="c19" cx="611.4" cy="326.3" r="3.1"/>
<circle class="c22" cx="582.3" cy="338" r="3.1"/>
<circle class="c19" cx="615.2" cy="324.5" r="3.1"/>
<circle class="c27" cx="503.6" cy="354.2" r="3.1"/>
<circle class="c18" cx="648.5" cy="321.9" r="3.1"/>
<circle class="c16" cx="662.4" cy="315.2" r="3.1"/>
<circle class="c6" cx="636.2" cy="277" r="3.1"/>
<circle class="c6" cx="638.5" cy="278.4" r="3.1"/>
<circle class="c19" cx="655.4" cy="323.9" r="3.1"/>
<circle class="c18" cx="645.7" cy="321.3" r="3.1"/>
<circle class="c27" cx="507.9" cy="354.4" r="3.1"/>
<circle class="c19" cx="614.3" cy="325.3" r="3.1"/>
<circle class="c19" cx="612.7" cy="325.3" r="3.1"/>
<circle class="c6" cx="638.4" cy="277.8" r="3.1"/>
<circle class="c4" cx="631.8" cy="269.8" r="3.1"/>
<circle class="c7" cx="639.8" cy="280.8" r="3.1"/>
<circle class="c6" cx="636.2" cy="275.9" r="3.1"/>
<circle class="c6" cx="640.2" cy="279.2" r="3.1"/>
<circle class="c5" cx="633.1" cy="272.1" r="3.1"/>
<circle class="c17" cx="625.6" cy="320.1" r="3.1"/>
<circle class="c24" cx="551.9" cy="345.3" r="3.1"/>
<circle class="c7" cx="641.6" cy="282.2" r="3.1"/>
<circle class="c18" cx="623.6" cy="320.9" r="3.1"/>
<circle class="c19" cx="614.4" cy="325.4" r="3.1"/>
<circle class="c17" cx="643.8" cy="319.9" r="3.1"/>
<circle class="c18" cx="653.3" cy="323.5" r="3.1"/>
<circle class="c7" cx="639.9" cy="280.2" r="3.1"/>
<circle class="c21" cx="599.6" cy="332" r="3.1"/>
<circle class="c4" cx="632.3" cy="270" r="3.1"/>
<circle class="c18" cx="619.8" cy="322.7" r="3.1"/>
<circle class="c19" cx="661.4" cy="325.4" r="3.1"/>
<circle class="c3" cx="629.7" cy="267.7" r="3.1"/>
<circle class="c6" cx="638.3" cy="276.9" r="3.1"/>
<circle class="c17" cx="633.6" cy="318.4" r="3.1"/>
<circle class="c19" cx="614.3" cy="325.8" r="3.1"/>
<circle class="c17" cx="627.3" cy="319.9" r="3.1"/>
<circle class="c20" cx="608.3" cy="328.2" r="3.1"/>
<circle class="c17" cx="631.4" cy="318.3" r="3.1"/>
<circle class="c5" cx="635.3" cy="273.7" r="3.1"/>
<circle class="c3" cx="627.3" cy="265.7" r="3.1"/>
<circle class="c22" cx="584" cy="337.9" r="3.1"/>
<circle class="c18" cx="617.1" cy="323.6" r="3.1"/>
<circle class="c14" cx="658.4" cy="308.2" r="3.1"/>
<circle class="c17" cx="664.1" cy="318" r="3.1"/>
<circle class="c17" cx="637.1" cy="318.6" r="3.1"/>
<circle class="c18" cx="617.9" cy="322.8" r="3.1"/>
<circle class="c23" cx="570.5" cy="341.8" r="3.1"/>
<circle class="c26" cx="513.1" cy="350.8" r="3.1"/>
<circle class="c21" cx="595.7" cy="334.1" r="3.1"/>
<circle class="c17" cx="638.3" cy="318.5" r="3.1"/>
<circle class="c20" cx="603.9" cy="330.5" r="3.1"/>
<circle class="c23" cx="572.1" cy="341.4" r="3.1"/>
<circle class="c18" cx="626.2" cy="320.7" r="3.1"/>
<circle class="c11" cx="651.5" cy="296" r="3.1"/>
<circle class="c19" cx="616.1" cy="324.9" r="3.1"/>
<circle class="c4" cx="631.4" cy="268.9" r="3.1"/>
<circle class="c17" cx="632.1" cy="318.3" r="3.1"/>
<circle class="c8" cx="643.3" cy="283.8" r="3.1"/>
<circle class="c3" cx="628" cy="265.4" r="3.1"/>
<circle class="c13" cx="657.1" cy="304.4" r="3.1"/>
<circle class="c17" cx="641.6" cy="319.1" r="3.1"/>
<circle class="c24" cx="557.4" cy="344.9" r="3.1"/>
<circle class="c24" cx="560.4" cy="345.1" r="3.1"/>
<circle class="c21" cx="600.6" cy="332.4" r="3.1"/>
<circle class="c4" cx="633.1" cy="271.6" r="3.1"/>
<circle class="c9" cx="646" cy="288.8" r="3.1"/>
<circle class="c21" cx="600.1" cy="331.9" r="3.1"/>
<circle class="c8" cx="645.2" cy="285.2" r="3.1"/>
<circle class="c17" cx="636.3" cy="318.3" r="3.1"/>
<circle class="c19" cx="659.5" cy="324.9" r="3.1"/>
<circle class="c18" cx="650.9" cy="323" r="3.1"/>
<circle class="c22" cx="585.9" cy="338.1" r="3.1"/>
<circle class="c15" cx="660" cy="310.8" r="3.1"/>
<circle class="c19" cx="609" cy="327.7" r="3.1"/>
<circle class="c5" cx="634.9" cy="273.9" r="3.1"/>
<circle class="c12" cx="654.9" cy="301.1" r="3.1"/>
<circle class="c18" cx="626.5" cy="320.5" r="3.1"/>
<circle class="c3" cx="629.5" cy="267" r="3.1"/>
<circle class="c23" cx="576.4" cy="341" r="3.1"/>
<circle class="c4" cx="633.6" cy="270.6" r="3.1"/>
<circle class="c7" cx="641.8" cy="282.1" r="3.1"/>
<circle class="c6" cx="640.7" cy="278.8" r="3.1"/>
<circle class="c11" cx="653.1" cy="298.1" r="3.1"/>
<circle class="c4" cx="633.2" cy="271.2" r="3.1"/>
<circle class="c17" cx="630.2" cy="318.8" r="3.1"/>
<circle class="c5" cx="637" cy="275" r="3.1"/>
<circle class="c20" cx="603" cy="330.4" r="3.1"/>
<circle class="c21" cx="596.7" cy="333.5" r="3.1"/>
<circle class="c4" cx="631.8" cy="269.4" r="3.1"/>
<circle class="c19" cx="665.1" cy="327.1" r="3.1"/>
<circle class="c10" cx="648.7" cy="291.4" r="3.1"/>
<circle class="c7" cx="642" cy="280.3" r="3.1"/>
<circle class="c5" cx="637" cy="275.5" r="3.1"/>
<circle class="c20" cx="605.3" cy="329.3" r="3.1"/>
<circle class="c19" cx="653.7" cy="324.5" r="3.1"/>
<circle class="c9" cx="646.9" cy="287.8" r="3.1"/>
<circle class="c18" cx="618.1" cy="323.7" r="3.1"/>
<circle class="c23" cx="575.1" cy="340.4" r="3.1"/>
<circle class="c3" cx="630.1" cy="266.9" r="3.1"/>
<circle class="c9" cx="648.4" cy="289.5" r="3.1"/>
<circle class="c5" cx="634.8" cy="273" r="3.1"/>
<circle class="c18" cx="616.5" cy="324" r="3.1"/>
<circle class="c6" cx="638.6" cy="276.9" r="3.1"/>
<circle class="c5" cx="635.3" cy="273.2" r="3.1"/>
<circle class="c18" cx="624" cy="321.1" r="3.1"/>
<circle class="c16" cx="663.9" cy="316.5" r="3.1"/>
<circle class="c9" cx="646.6" cy="287.6" r="3.1"/>
<circle class="c10" cx="650" cy="292.8" r="3.1"/>
<circle class="c17" cx="642.1" cy="320.1" r="3.1"/>
<circle class="c18" cx="621.4" cy="322.7" r="3.1"/>
<circle class="c8" cx="645.1" cy="286.4" r="3.1"/>
<circle class="c18" cx="624" cy="321.2" r="3.1"/>
<circle class="c19" cx="657.5" cy="325.4" r="3.1"/>
<circle class="c24" cx="557.5" cy="345.5" r="3.1"/>
<circle class="c18" cx="620" cy="323.4" r="3.1"/>
<circle class="c20" cx="606.9" cy="329.2" r="3.1"/>
<circle class="c3" cx="631.5" cy="267.7" r="3.1"/>
<circle class="c21" cx="594.1" cy="335" r="3.1"/>
<circle class="c18" cx="646.8" cy="322.9" r="3.1"/>
<circle class="c21" cx="598" cy="334" r="3.1"/>
<circle class="c6" cx="638.8" cy="276.6" r="3.1"/>
<circle class="c4" cx="634.1" cy="270" r="3.1"/>
<circle class="c7" cx="643.6" cy="283.2" r="3.1"/>
<circle class="c21" cx="592.5" cy="335" r="3.1"/>
<circle class="c24" cx="555.1" cy="345.8" r="3.1"/>
<circle class="c19" cx="663.4" cy="326.9" r="3.1"/>
<circle class="c21" cx="432.2" cy="333.4" r="3.1"/>
<circle class="c3" cx="630.3" cy="266.3" r="3.1"/>
<circle class="c19" cx="611.3" cy="326.9" r="3.1"/>
<circle class="c7" cx="642.2" cy="280.4" r="3.1"/>
<circle class="c5" cx="637.6" cy="274" r="3.1"/>
<circle class="c23" cx="578.9" cy="340.3" r="3.1"/>
<circle class="c24" cx="562.9" cy="345.2" r="3.1"/>
<circle class="c18" cx="622.9" cy="321.4" r="3.1"/>
<circle class="c6" cx="640" cy="278.1" r="3.1"/>
<circle class="c18" cx="622.6" cy="322.4" r="3.1"/>
<circle class="c20" cx="609.3" cy="328.5" r="3.1"/>
<circle class="c8" cx="645" cy="284.3" r="3.1"/>
<circle class="c19" cx="615.3" cy="325.3" r="3.1"/>
<circle class="c19" cx="668.1" cy="325" r="3.1"/>
<circle class="c18" cx="622.3" cy="322.7" r="3.1"/>
<circle class="c17" cx="628.6" cy="319.5" r="3.1"/>
<circle class="c19" cx="610.5" cy="327" r="3.1"/>
<circle class="c3" cx="628.1" cy="265.3" r="3.1"/>
<circle class="c18" cx="649.4" cy="323.6" r="3.1"/>
<circle class="c17" cx="630.8" cy="318.6" r="3.1"/>
<circle class="c17" cx="629.5" cy="319.7" r="3.1"/>
<circle class="c5" cx="638.8" cy="276.1" r="3.1"/>
<circle class="c21" cx="597.1" cy="333.8" r="3.1"/>
<circle class="c13" cx="657.1" cy="303.1" r="3.1"/>
<circle class="c3" cx="631.1" cy="266.2" r="3.1"/>
<circle class="c23" cx="575.1" cy="340.9" r="3.1"/>
<circle class="c10" cx="651" cy="291.5" r="3.1"/>
<circle class="c5" cx="636.9" cy="274.3" r="3.1"/>
<circle class="c17" cx="635.1" cy="318.7" r="3.1"/>
<circle class="c20" cx="604.1" cy="330.3" r="3.1"/>
<circle class="c14" cx="660.1" cy="309.3" r="3.1"/>
<circle class="c12" cx="655.9" cy="299.6" r="3.1"/>
<circle class="c20" cx="605.3" cy="330.3" r="3.1"/>
<circle class="c17" cx="640.1" cy="319.5" r="3.1"/>
<circle class="c17" cx="625.4" cy="320.7" r="3.1"/>
<circle class="c12" cx="656.8" cy="302" r="3.1"/>
<circle class="c19" cx="611.9" cy="327.6" r="3.1"/>
<circle class="c22" cx="587.5" cy="337.7" r="3.1"/>
<circle class="c4" cx="635.8" cy="272.2" r="3.1"/>
<circle class="c19" cx="656.1" cy="326.2" r="3.1"/>
<circle class="c11" cx="653.4" cy="296.9" r="3.1"/>
<circle class="c26" cx="522.3" cy="351.5" r="3.1"/>
<circle class="c10" cx="652" cy="294.9" r="3.1"/>
<circle class="c22" cx="592" cy="335.9" r="3.1"/>
<circle class="c18" cx="617.9" cy="323" r="3.1"/>
<circle class="c22" cx="585.8" cy="338.6" r="3.1"/>
<circle class="c24" cx="566.9" cy="344.6" r="3.1"/>
<circle class="c20" cx="609.1" cy="328.5" r="3.1"/>
<circle class="c23" cx="577.5" cy="341.4" r="3.1"/>
<circle class="c19" cx="617.2" cy="324.6" r="3.1"/>
<circle class="c6" cx="640.2" cy="276.9" r="3.1"/>
<circle class="c18" cx="652.2" cy="324.2" r="3.1"/>
<circle class="c18" cx="645.5" cy="321.9" r="3.1"/>
<circle class="c31" cx="418.6" cy="369.2" r="3.1"/>
<circle class="c6" cx="640.4" cy="278.6" r="3.1"/>
<circle class="c22" cx="589.4" cy="337.3" r="3.1"/>
<circle class="c20" cx="606.3" cy="329.6" r="3.1"/>
<circle class="c10" cx="651.8" cy="293.7" r="3.1"/>
<circle class="c14" cx="659.3" cy="306.2" r="3.1"/>
<circle class="c20" cx="602" cy="331.8" r="3.1"/>
<circle class="c19" cx="613.2" cy="326.8" r="3.1"/>
<circle class="c18" cx="644.6" cy="321.7" r="3.1"/>
<circle class="c23" cx="580.8" cy="340.2" r="3.1"/>
<circle class="c19" cx="610.9" cy="327.9" r="3.1"/>
<circle class="c21" cx="601" cy="332.2" r="3.1"/>
<circle class="c8" cx="647" cy="286.4" r="3.1"/>
<circle class="c17" cx="628" cy="320.4" r="3.1"/>
<circle class="c7" cx="642" cy="280.3" r="3.1"/>
<circle class="c25" cx="526.4" cy="350.5" r="3.1"/>
<circle class="c17" cx="666.1" cy="320.9" r="3.1"/>
<circle class="c3" cx="634" cy="269" r="3.1"/>
<circle class="c18" cx="643.7" cy="321.1" r="3.1"/>
<circle class="c19" cx="660.3" cy="326.1" r="3.1"/>
<circle class="c6" cx="640.2" cy="277.6" r="3.1"/>
<circle class="c4" cx="635.5" cy="271.9" r="3.1"/>
<circle class="c19" cx="662" cy="327.1" r="3.1"/>
<circle class="c22" cx="588" cy="337.4" r="3.1"/>
<circle class="c4" cx="635.4" cy="271.1" r="3.1"/>
<circle class="c15" cx="662.7" cy="313" r="3.1"/>
<circle class="c5" cx="638.9" cy="275.1" r="3.1"/>
<circle class="c19" cx="617.2" cy="325.3" r="3.1"/>
<circle class="c3" cx="631.7" cy="267" r="3.1"/>
<circle class="c17" cx="631.8" cy="318.7" r="3.1"/>
<circle class="c20" cx="604" cy="330.5" r="3.1"/>
<circle class="c18" cx="623.3" cy="321.8" r="3.1"/>
<circle class="c26" cx="512.5" cy="353.4" r="3.1"/>
<circle class="c20" cx="607.9" cy="329.6" r="3.1"/>
<circle class="c9" cx="648.3" cy="288.5" r="3.1"/>
<circle class="c17" cx="633.1" cy="318.4" r="3.1"/>
<circle class="c3" cx="632.4" cy="267.6" r="3.1"/>
<circle class="c18" cx="648.5" cy="323.5" r="3.1"/>
<circle class="c5" cx="638.9" cy="275.4" r="3.1"/>
<circle class="c24" cx="560" cy="345.3" r="3.1"/>
<circle class="c18" cx="624.9" cy="321.8" r="3.1"/>
<circle class="c21" cx="598.9" cy="332.5" r="3.1"/>
<circle class="c19" cx="614.7" cy="326.4" r="3.1"/>
<circle class="c5" cx="638.4" cy="274.8" r="3.1"/>
<circle class="c23" cx="579.3" cy="341.1" r="3.1"/>
<circle class="c4" cx="637.3" cy="272.9" r="3.1"/>
<circle class="c18" cx="618.7" cy="324" r="3.1"/>
<circle class="c17" cx="634.1" cy="318.4" r="3.1"/>
<circle class="c22" cx="589.3" cy="337.9" r="3.1"/>
<circle class="c18" cx="619.8" cy="324" r="3.1"/>
<circle class="c12" cx="656.9" cy="299.8" r="3.1"/>
<circle class="c18" cx="622" cy="323.2" r="3.1"/>
<circle class="c17" cx="641.2" cy="320.1" r="3.1"/>
<circle class="c21" cx="594" cy="335.1" r="3.1"/>
<circle class="c7" cx="643.8" cy="281.3" r="3.1"/>
<circle class="c26" cx="517.2" cy="352.8" r="3.1"/>
<circle class="c17" cx="636.3" cy="319.1" r="3.1"/>
<circle class="c17" cx="627" cy="321" r="3.1"/>
<circle class="c24" cx="562.3" cy="345.8" r="3.1"/>
<circle class="c19" cx="616.2" cy="325.7" r="3.1"/>
<circle class="c6" cx="640.5" cy="277.1" r="3.1"/>
<circle class="c24" cx="569.3" cy="344.6" r="3.1"/>
<circle class="c3" cx="632.7" cy="267.2" r="3.1"/>
<circle class="c3" cx="631.7" cy="267" r="3.1"/>
<circle class="c19" cx="615.7" cy="325.9" r="3.1"/>
<circle class="c9" cx="649.6" cy="290.3" r="3.1"/>
<circle class="c3" cx="629.8" cy="266" r="3.1"/>
<circle class="c19" cx="609.9" cy="328.4" r="3.1"/>
<circle class="c18" cx="622.7" cy="323.1" r="3.1"/>
<circle class="c19" cx="654.5" cy="325.5" r="3.1"/>
<circle class="c19" cx="613.1" cy="327.1" r="3.1"/>
<circle class="c19" cx="612.7" cy="327.9" r="3.1"/>
<circle class="c8" cx="646.9" cy="285.1" r="3.1"/>
<circle class="c21" cx="595.2" cy="334.6" r="3.1"/>
<circle class="c20" cx="605.1" cy="331.2" r="3.1"/>
<circle class="c4" cx="633.7" cy="269.6" r="3.1"/>
<circle class="c17" cx="626.4" cy="321.3" r="3.1"/>
<circle class="c17" cx="638.4" cy="319.2" r="3.1"/>
<circle class="c25" cx="530.3" cy="350.2" r="3.1"/>
<circle class="c4" cx="635.5" cy="271.5" r="3.1"/>
<circle class="c3" cx="634.4" cy="268.2" r="3.1"/>
<circle class="c7" cx="644" cy="280.8" r="3.1"/>
<circle class="c19" cx="613" cy="327.3" r="3.1"/>
<circle class="c4" cx="632.6" cy="269.9" r="3.1"/>
<circle class="c11" cx="653.5" cy="296.1" r="3.1"/>
<circle class="c17" cx="629.7" cy="319.3" r="3.1"/>
<circle class="c17" cx="666.2" cy="319" r="3.1"/>
<circle class="c19" cx="666.7" cy="327.9" r="3.1"/>
<circle class="c3" cx="634.5" cy="268.2" r="3.1"/>
<circle class="c19" cx="670.1" cy="328.1" r="3.1"/>
<circle class="c4" cx="637" cy="273" r="3.1"/>
<circle class="c4" cx="635.7" cy="270.6" r="3.1"/>
<circle class="c11" cx="654.9" cy="298.3" r="3.1"/>
<circle class="c7" cx="643.4" cy="281.5" r="3.1"/>
<circle class="c20" cx="608" cy="329.5" r="3.1"/>
<circle class="c19" cx="617.9" cy="325.4" r="3.1"/>
<circle class="c15" cx="662.4" cy="310.9" r="3.1"/>
<circle class="c13" cx="659.6" cy="305.1" r="3.1"/>
<circle class="c19" cx="617.1" cy="325.7" r="3.1"/>
<circle class="c21" cx="599.6" cy="333.4" r="3.1"/>
<circle class="c18" cx="620.2" cy="323.7" r="3.1"/>
<circle class="c6" cx="642.1" cy="280" r="3.1"/>
<circle class="c18" cx="619" cy="325.2" r="3.1"/>
<circle class="c18" cx="624.8" cy="322.2" r="3.1"/>
<circle class="c19" cx="658.9" cy="327.2" r="3.1"/>
<circle class="c20" cx="603" cy="331.7" r="3.1"/>
<circle class="c4" cx="635.8" cy="270" r="3.1"/>
<circle class="c17" cx="628.4" cy="319.9" r="3.1"/>
<circle class="c14" cx="660.7" cy="307.5" r="3.1"/>
<circle class="c21" cx="595.9" cy="334.7" r="3.1"/>
<circle class="c17" cx="639.5" cy="319.4" r="3.1"/>
<circle class="c24" cx="564.6" cy="344.3" r="3.1"/>
<circle class="c19" cx="613.7" cy="326.8" r="3.1"/>
<circle class="c19" cx="612.1" cy="327.9" r="3.1"/>
<circle class="c19" cx="614.2" cy="327.6" r="3.1"/>
<circle class="c20" cx="608.8" cy="329.6" r="3.1"/>
<circle class="c17" cx="630.2" cy="319" r="3.1"/>
<circle class="c8" cx="649.5" cy="287.4" r="3.1"/>
<circle class="c18" cx="644.3" cy="322.1" r="3.1"/>
<circle class="c11" cx="656" cy="296.5" r="3.1"/>
<circle class="c5" cx="640.8" cy="276.3" r="3.1"/>
<circle class="c18" cx="620.3" cy="324.1" r="3.1"/>
<circle class="c18" cx="650.6" cy="324.2" r="3.1"/>
<circle class="c21" cx="596.9" cy="334.8" r="3.1"/>
<circle class="c4" cx="637.3" cy="272.4" r="3.1"/>
<circle class="c3" cx="632.6" cy="267" r="3.1"/>
<circle class="c7" cx="644.9" cy="281.7" r="3.1"/>
<circle class="c18" cx="667.8" cy="323.2" r="3.1"/>
<circle class="c26" cx="521" cy="352.2" r="3.1"/>
<circle class="c18" cx="623.4" cy="322.6" r="3.1"/>
<circle class="c17" cx="632.5" cy="318.5" r="3.1"/>
<circle class="c6" cx="640.7" cy="277.2" r="3.1"/>
<circle class="c25" cx="533.4" cy="349.1" r="3.1"/>
<circle class="c19" cx="616.1" cy="326.7" r="3.1"/>
<circle class="c21" cx="599.9" cy="333.3" r="3.1"/>
<circle class="c17" cx="631.6" cy="318.7" r="3.1"/>
<circle class="c20" cx="432.5" cy="329.2" r="3.1"/>
<circle class="c17" cx="633.2" cy="318.8" r="3.1"/>
<circle class="c5" cx="639.5" cy="273.6" r="3.1"/>
<circle class="c25" cx="525.8" cy="351.3" r="3.1"/>
<circle class="c3" cx="632.5" cy="266.6" r="3.1"/>
<circle class="c25" cx="540.4" cy="349.4" r="3.1"/>
<circle class="c20" cx="608.3" cy="330.1" r="3.1"/>
<circle class="c5" cx="639.6" cy="274.9" r="3.1"/>
<circle class="c19" cx="664.9" cy="327.5" r="3.1"/>
<circle class="c17" cx="626.3" cy="321.6" r="3.1"/>
<circle class="c3" cx="634.6" cy="267.9" r="3.1"/>
<circle class="c17" cx="636.7" cy="318.6" r="3.1"/>
<circle class="c6" cx="642.4" cy="278.1" r="3.1"/>
<circle class="c18" cx="647.1" cy="323.3" r="3.1"/>
<circle class="c10" cx="652" cy="292.5" r="3.1"/>
<circle class="c5" cx="640.9" cy="276" r="3.1"/>
<circle class="c19" cx="670.1" cy="326.3" r="3.1"/>
<circle class="c24" cx="564.9" cy="345.6" r="3.1"/>
<circle class="c22" cx="585" cy="339.5" r="3.1"/>
<circle class="c18" cx="621.3" cy="323.7" r="3.1"/>
<circle class="c7" cx="643.8" cy="281.3" r="3.1"/>
<circle class="c19" cx="615.2" cy="327" r="3.1"/>
<circle class="c6" cx="642.2" cy="279.1" r="3.1"/>
<circle class="c4" cx="639.5" cy="273.3" r="3.1"/>
<circle class="c24" cx="567" cy="345.5" r="3.1"/>
<circle class="c4" cx="637.7" cy="271.2" r="3.1"/>
<circle class="c23" cx="580.3" cy="340.7" r="3.1"/>
<circle class="c21" cx="600" cy="333.3" r="3.1"/>
<circle class="c19" cx="616.3" cy="326.7" r="3.1"/>
<circle class="c12" cx="658.4" cy="302.9" r="3.1"/>
<circle class="c18" cx="620" cy="325" r="3.1"/>
<circle class="c22" cx="583" cy="340.2" r="3.1"/>
<circle class="c10" cx="653.2" cy="294.7" r="3.1"/>
<circle class="c17" cx="640.3" cy="320.6" r="3.1"/>
<circle class="c7" cx="645.6" cy="282.4" r="3.1"/>
<circle class="c30" cx="428" cy="369" r="3.1"/>
<circle class="c7" cx="645" cy="283.5" r="3.1"/>
<circle class="c22" cx="582.8" cy="340.1" r="3.1"/>
<circle class="c19" cx="656.8" cy="327" r="3.1"/>
<circle class="c22" cx="591.2" cy="337.6" r="3.1"/>
<circle class="c17" cx="631.7" cy="318.9" r="3.1"/>
<circle class="c15" cx="664.6" cy="313.3" r="3.1"/>
<circle class="c20" cx="605.2" cy="332" r="3.1"/>
<circle class="c17" cx="642.7" cy="321.2" r="3.1"/>
<circle class="c5" cx="641.9" cy="277.2" r="3.1"/>
<circle class="c5" cx="642.5" cy="276.5" r="3.1"/>
<circle class="c20" cx="606.1" cy="331.3" r="3.1"/>
<circle class="c18" cx="622.3" cy="323.2" r="3.1"/>
<circle class="c14" cx="661.9" cy="309" r="3.1"/>
<circle class="c19" cx="614.9" cy="327.3" r="3.1"/>
<circle class="c4" cx="637.7" cy="271.9" r="3.1"/>
<circle class="c20" cx="603.6" cy="332.3" r="3.1"/>
<circle class="c24" cx="569" cy="344.6" r="3.1"/>
<circle class="c9" cx="650.7" cy="288.5" r="3.1"/>
<circle class="c11" cx="657.6" cy="298.6" r="3.1"/>
<circle class="c18" cx="643.6" cy="322.6" r="3.1"/>
<circle class="c20" cx="607.2" cy="330.4" r="3.1"/>
<circle class="c19" cx="611.2" cy="328.7" r="3.1"/>
<circle class="c30" cx="437.7" cy="368" r="3.1"/>
<circle class="c16" cx="664.8" cy="314.7" r="3.1"/>
<circle class="c21" cx="597.9" cy="335.1" r="3.1"/>
<circle class="c3" cx="635.1" cy="266.4" r="3.1"/>
<circle class="c23" cx="572.2" cy="344.2" r="3.1"/>
<circle class="c20" cx="604.3" cy="332.3" r="3.1"/>
<circle class="c18" cx="622.3" cy="323.4" r="3.1"/>
<circle class="c20" cx="604.7" cy="331.7" r="3.1"/>
<circle class="c17" cx="625.7" cy="321.5" r="3.1"/>
<circle class="c6" cx="642.4" cy="277.6" r="3.1"/>
<circle class="c19" cx="618" cy="326.4" r="3.1"/>
<circle class="c17" cx="637" cy="319.3" r="3.1"/>
<circle class="c22" cx="592.9" cy="337.2" r="3.1"/>
<circle class="c17" cx="628.3" cy="320" r="3.1"/>
<circle class="c4" cx="638.2" cy="270.7" r="3.1"/>
<circle class="c3" cx="634.6" cy="266.9" r="3.1"/>
<circle class="c3" cx="634.2" cy="267.3" r="3.1"/>
<circle class="c21" cx="596.8" cy="334.9" r="3.1"/>
<circle class="c22" cx="594.8" cy="337.1" r="3.1"/>
<circle class="c25" cx="536.9" cy="349.9" r="3.1"/>
<circle class="c16" cx="666" cy="317.5" r="3.1"/>
<circle class="c20" cx="601.4" cy="333" r="3.1"/>
<circle class="c22" cx="592.8" cy="337.8" r="3.1"/>
<circle class="c18" cx="624.2" cy="323.4" r="3.1"/>
<circle class="c17" cx="626.5" cy="321.8" r="3.1"/>
<circle class="c8" cx="651.2" cy="288.2" r="3.1"/>
<circle class="c8" cx="648.7" cy="285.5" r="3.1"/>
<circle class="c5" cx="642.6" cy="276.2" r="3.1"/>
<circle class="c19" cx="616.6" cy="327.4" r="3.1"/>
<circle class="c18" cx="622.1" cy="323.4" r="3.1"/>
<circle class="c22" cx="590.4" cy="338.3" r="3.1"/>
<circle class="c7" cx="647" cy="283.1" r="3.1"/>
<circle class="c9" cx="651.7" cy="290.9" r="3.1"/>
<circle class="c3" cx="635.9" cy="269.2" r="3.1"/>
<circle class="c7" cx="647.9" cy="283.7" r="3.1"/>
<circle class="c5" cx="643" cy="277" r="3.1"/>
<circle class="c8" cx="649.2" cy="286.8" r="3.1"/>
<circle class="c18" cx="653.7" cy="324.6" r="3.1"/>
<circle class="c3" cx="636" cy="269.2" r="3.1"/>
<circle class="c19" cx="613.5" cy="328.4" r="3.1"/>
<circle class="c18" cx="647.9" cy="324.4" r="3.1"/>
<circle class="c5" cx="640.8" cy="275.2" r="3.1"/>
<circle class="c25" cx="529.7" cy="351.3" r="3.1"/>
<circle class="c9" cx="651.9" cy="290.4" r="3.1"/>
<circle class="c17" cx="624.8" cy="321.7" r="3.1"/>
<circle class="c4" cx="639.9" cy="273.3" r="3.1"/>
<circle class="c17" cx="635.1" cy="318.9" r="3.1"/>
<circle class="c13" cx="659.9" cy="306.7" r="3.1"/>
<circle class="c6" cx="643.6" cy="280.3" r="3.1"/>
<circle class="c10" cx="655.7" cy="295.7" r="3.1"/>
<circle class="c19" cx="616.9" cy="326.5" r="3.1"/>
<circle class="c5" cx="641.3" cy="275.1" r="3.1"/>
<circle class="c18" cx="620.5" cy="325.2" r="3.1"/>
<circle class="c3" cx="634.2" cy="267.2" r="3.1"/>
<circle class="c5" cx="641.7" cy="274.4" r="3.1"/>
<circle class="c6" cx="644.1" cy="277.8" r="3.1"/>
<circle class="c22" cx="585.1" cy="340.2" r="3.1"/>
<circle class="c17" cx="638.3" cy="320.1" r="3.1"/>
<circle class="c25" cx="545.9" cy="349.7" r="3.1"/>
<circle class="c25" cx="542.9" cy="349.6" r="3.1"/>
<circle class="c18" cx="649" cy="324" r="3.1"/>
<circle class="c19" cx="669.9" cy="329.5" r="3.1"/>
<circle class="c17" cx="668.3" cy="321" r="3.1"/>
<circle class="c6" cx="644.5" cy="278.9" r="3.1"/>
<circle class="c19" cx="613.8" cy="328.4" r="3.1"/>
<circle class="c6" cx="644.3" cy="279.2" r="3.1"/>
<circle class="c17" cx="628.9" cy="320.6" r="3.1"/>
<circle class="c23" cx="574.1" cy="343.5" r="3.1"/>
<circle class="c19" cx="618.1" cy="326" r="3.1"/>
<circle class="c25" cx="548.2" cy="349.1" r="3.1"/>
<circle class="c19" cx="660.8" cy="327.6" r="3.1"/>
<circle class="c18" cx="619.1" cy="325.4" r="3.1"/>
<circle class="c21" cx="601.7" cy="333.7" r="3.1"/>
<circle class="c18" cx="652.1" cy="325.5" r="3.1"/>
<circle class="c25" cx="533.1" cy="350.9" r="3.1"/>
<circle class="c19" cx="656.1" cy="326.9" r="3.1"/>
<circle class="c17" cx="641.4" cy="321.2" r="3.1"/>
<circle class="c6" cx="644.3" cy="279.6" r="3.1"/>
<circle class="c25" cx="554.2" cy="348.6" r="3.1"/>
<circle class="c3" cx="638.1" cy="270" r="3.1"/>
<circle class="c17" cx="630.6" cy="319.9" r="3.1"/>
<circle class="c17" cx="626.6" cy="321.5" r="3.1"/>
<circle class="c6" cx="644.2" cy="278" r="3.1"/>
<circle class="c18" cx="622.9" cy="324.3" r="3.1"/>
<circle class="c4" cx="639.4" cy="271.5" r="3.1"/>
<circle class="c22" cx="587.1" cy="339.3" r="3.1"/>
<circle class="c17" cx="639.3" cy="320.7" r="3.1"/>
<circle class="c7" cx="647.8" cy="282.9" r="3.1"/>
<circle class="c21" cx="599.8" cy="335.4" r="3.1"/>
<circle class="c18" cx="621.4" cy="324.6" r="3.1"/>
<circle class="c20" cx="609.7" cy="330.4" r="3.1"/>
<circle class="c4" cx="639.1" cy="272.8" r="3.1"/>
<circle class="c19" cx="663.8" cy="327.8" r="3.1"/>
<circle class="c29" cx="417.2" cy="365.6" r="3.1"/>
<circle class="c18" cx="650.1" cy="325.6" r="3.1"/>
<circle class="c21" cx="597.1" cy="336.2" r="3.1"/>
<circle class="c19" cx="615.9" cy="327.5" r="3.1"/>
<circle class="c20" cx="607.7" cy="330.7" r="3.1"/>
<circle class="c19" cx="609.9" cy="329.5" r="3.1"/>
<circle class="c20" cx="607.1" cy="331.1" r="3.1"/>
<circle class="c13" cx="660.4" cy="304.3" r="3.1"/>
<circle class="c19" cx="615.5" cy="327.7" r="3.1"/>
<circle class="c19" cx="615" cy="328" r="3.1"/>
<circle class="c20" cx="603.4" cy="333.4" r="3.1"/>
<circle class="c3" cx="638.1" cy="269.9" r="3.1"/>
<circle class="c19" cx="611.9" cy="329.5" r="3.1"/>
<circle class="c23" cx="573.8" cy="344.5" r="3.1"/>
<circle class="c18" cx="645.6" cy="322.9" r="3.1"/>
<circle class="c18" cx="619.5" cy="325.5" r="3.1"/>
<circle class="c19" cx="671.7" cy="329.8" r="3.1"/>
<circle class="c22" cx="589" cy="339.6" r="3.1"/>
<circle class="c7" cx="645.7" cy="281.6" r="3.1"/>
<circle class="c29" cx="449" cy="366.4" r="3.1"/>
<circle class="c3" cx="636.2" cy="267.3" r="3.1"/>
<circle class="c4" cx="639.3" cy="272.3" r="3.1"/>
<circle class="c19" cx="661" cy="327.5" r="3.1"/>
<circle class="c17" cx="628.2" cy="321.2" r="3.1"/>
<circle class="c12" cx="659" cy="302" r="3.1"/>
<circle class="c6" cx="646.1" cy="280.5" r="3.1"/>
<circle class="c19" cx="610.7" cy="329" r="3.1"/>
<circle class="c17" cx="637.3" cy="319.6" r="3.1"/>
<circle class="c19" cx="654.4" cy="326.9" r="3.1"/>
<circle class="c19" cx="658.7" cy="327.7" r="3.1"/>
<circle class="c5" cx="644" cy="276.9" r="3.1"/>
<circle class="c19" cx="672.1" cy="328.5" r="3.1"/>
<circle class="c18" cx="625.1" cy="322.9" r="3.1"/>
<circle class="c23" cx="571.5" cy="344.4" r="3.1"/>
<circle class="c11" cx="657.6" cy="298.1" r="3.1"/>
<circle class="c20" cx="606.9" cy="332" r="3.1"/>
<circle class="c16" cx="634.6" cy="318.5" r="3.1"/>
<circle class="c23" cx="576.2" cy="343.8" r="3.1"/>
<circle class="c22" cx="586.5" cy="339.7" r="3.1"/>
<circle class="c18" cx="646.2" cy="324.3" r="3.1"/>
<circle class="c18" cx="644.1" cy="323.5" r="3.1"/>
<circle class="c19" cx="614.2" cy="328.7" r="3.1"/>
<circle class="c19" cx="612.1" cy="329.7" r="3.1"/>
<circle class="c4" cx="641.4" cy="273.4" r="3.1"/>
<circle class="c18" cx="622.2" cy="324.3" r="3.1"/>
<circle class="c3" cx="636.2" cy="267" r="3.1"/>
<circle class="c17" cx="626.9" cy="322.2" r="3.1"/>
<circle class="c18" cx="642.2" cy="322.8" r="3.1"/>
<circle class="c25" cx="542.9" cy="350.6" r="3.1"/>
<circle class="c8" cx="652.1" cy="289" r="3.1"/>
<circle class="c10" cx="653.8" cy="293.7" r="3.1"/>
<circle class="c25" cx="540.5" cy="350.9" r="3.1"/>
<circle class="c23" cx="579.2" cy="342.7" r="3.1"/>
<circle class="c14" cx="662.4" cy="308" r="3.1"/>
<circle class="c4" cx="640.3" cy="272" r="3.1"/>
<circle class="c25" cx="536.6" cy="350.9" r="3.1"/>
<circle class="c20" cx="602.6" cy="333.4" r="3.1"/>
<circle class="c20" cx="608.6" cy="330.8" r="3.1"/>
<circle class="c6" cx="645.9" cy="279.8" r="3.1"/>
<circle class="c8" cx="650.8" cy="287.7" r="3.1"/>
<circle class="c20" cx="667.3" cy="330.3" r="3.1"/>
<circle class="c10" cx="657.8" cy="296.3" r="3.1"/>
<circle class="c18" cx="623.6" cy="323.9" r="3.1"/>
<circle class="c6" cx="647.5" cy="281.6" r="3.1"/>
<circle class="c17" cx="626.2" cy="322.4" r="3.1"/>
<circle class="c17" cx="633.2" cy="319.3" r="3.1"/>
<circle class="c19" cx="617.8" cy="326.7" r="3.1"/>
<circle class="c21" cx="598.5" cy="335.4" r="3.1"/>
<circle class="c4" cx="641" cy="273.8" r="3.1"/>
<circle class="c17" cx="628" cy="320.9" r="3.1"/>
<circle class="c19" cx="652" cy="326.7" r="3.1"/>
<circle class="c17" cx="625.8" cy="322.4" r="3.1"/>
<circle class="c4" cx="641.7" cy="274.3" r="3.1"/>
<circle class="c18" cx="619.9" cy="325" r="3.1"/>
<circle class="c22" cx="592.4" cy="338.9" r="3.1"/>
<circle class="c3" cx="636.5" cy="268.4" r="3.1"/>
<circle class="c7" cx="649.4" cy="285.1" r="3.1"/>
<circle class="c18" cx="622.6" cy="323.4" r="3.1"/>
<circle class="c20" cx="606.7" cy="332.1" r="3.1"/>
<circle class="c21" cx="594.1" cy="337.2" r="3.1"/>
<circle class="c17" cx="631.3" cy="319.1" r="3.1"/>
<circle class="c3" cx="638.3" cy="270.2" r="3.1"/>
<circle class="c21" cx="601.3" cy="335.4" r="3.1"/>
<circle class="c22" cx="589.7" cy="339.1" r="3.1"/>
<circle class="c21" cx="595.7" cy="337.6" r="3.1"/>
<circle class="c22" cx="588.5" cy="340.1" r="3.1"/>
<circle class="c5" cx="643" cy="275.5" r="3.1"/>
<circle class="c10" cx="656.1" cy="294.6" r="3.1"/>
<circle class="c17" cx="630.6" cy="320.4" r="3.1"/>
<circle class="c6" cx="648.2" cy="281.9" r="3.1"/>
<circle class="c4" cx="640.8" cy="273.1" r="3.1"/>
<circle class="c18" cx="622.4" cy="325" r="3.1"/>
<circle class="c5" cx="644.8" cy="276.8" r="3.1"/>
<circle class="c25" cx="545.5" cy="350.9" r="3.1"/>
<circle class="c4" cx="639.6" cy="271.4" r="3.1"/>
<circle class="c17" cx="629.7" cy="320.2" r="3.1"/>
<circle class="c20" cx="609.3" cy="331.3" r="3.1"/>
<circle class="c9" cx="653.5" cy="291.9" r="3.1"/>
<circle class="c3" cx="637.7" cy="269.2" r="3.1"/>
<circle class="c18" cx="649" cy="325.2" r="3.1"/>
<circle class="c17" cx="632" cy="319.6" r="3.1"/>
<circle class="c17" cx="668.6" cy="319.1" r="3.1"/>
<circle class="c6" cx="645.7" cy="280.3" r="3.1"/>
<circle class="c16" cx="632.6" cy="318.8" r="3.1"/>
<circle class="c20" cx="605.4" cy="332.6" r="3.1"/>
<circle class="c19" cx="665.4" cy="329.6" r="3.1"/>
<circle class="c14" cx="664.7" cy="311.3" r="3.1"/>
<circle class="c18" cx="670.1" cy="324" r="3.1"/>
<circle class="c11" cx="659.7" cy="300" r="3.1"/>
<circle class="c17" cx="627.2" cy="322.2" r="3.1"/>
<circle class="c19" cx="614.4" cy="328.6" r="3.1"/>
<circle class="c19" cx="610.9" cy="330.1" r="3.1"/>
<circle class="c20" cx="611.4" cy="330.4" r="3.1"/>
<circle class="c24" cx="551.7" cy="348.6" r="3.1"/>
<circle class="c7" cx="648.8" cy="283.3" r="3.1"/>
<circle class="c23" cx="576.2" cy="344.3" r="3.1"/>
<circle class="c25" cx="559" cy="349" r="3.1"/>
<circle class="c18" cx="622.1" cy="325.3" r="3.1"/>
<circle class="c12" cx="660.8" cy="303.1" r="3.1"/>
<circle class="c17" cx="628.4" cy="321.4" r="3.1"/>
<circle class="c18" cx="645.3" cy="324.7" r="3.1"/>
<circle class="c19" cx="616.2" cy="327.7" r="3.1"/>
<circle class="c4" cx="642.9" cy="274.1" r="3.1"/>
<circle class="c20" cx="605" cy="333.3" r="3.1"/>
<circle class="c21" cx="599.7" cy="334.9" r="3.1"/>
<circle class="c12" cx="657.9" cy="301" r="3.1"/>
<circle class="c18" cx="620.1" cy="325.4" r="3.1"/>
<circle class="c3" cx="638.7" cy="268.6" r="3.1"/>
<circle class="c4" cx="641.8" cy="272.4" r="3.1"/>
<circle class="c4" cx="642.9" cy="274.3" r="3.1"/>
<circle class="c23" cx="579.7" cy="343" r="3.1"/>
<circle class="c19" cx="662.2" cy="329.7" r="3.1"/>
<circle class="c19" cx="611.2" cy="330.4" r="3.1"/>
<circle class="c5" cx="643.1" cy="275.3" r="3.1"/>
<circle class="c19" cx="613.5" cy="329.5" r="3.1"/>
<circle class="c18" cx="672.5" cy="326.5" r="3.1"/>
<circle class="c25" cx="550.8" cy="350" r="3.1"/>
<circle class="c23" cx="583.3" cy="342.9" r="3.1"/>
<circle class="c19" cx="664.3" cy="329.2" r="3.1"/>
<circle class="c18" cx="622.7" cy="325.3" r="3.1"/>
<circle class="c17" cx="637.7" cy="320.5" r="3.1"/>
<circle class="c13" cx="662.3" cy="306.6" r="3.1"/>
<circle class="c8" cx="651.3" cy="286.3" r="3.1"/>
<circle class="c6" cx="647.6" cy="280.2" r="3.1"/>
<circle class="c14" cx="664.3" cy="310.2" r="3.1"/>
<circle class="c20" cx="611.7" cy="330.4" r="3.1"/>
<circle class="c3" cx="639.3" cy="270" r="3.1"/>
<circle class="c3" cx="638.2" cy="269.2" r="3.1"/>
<circle class="c17" cx="632.9" cy="320.1" r="3.1"/>
<circle class="c17" cx="636.1" cy="319.6" r="3.1"/>
<circle class="c19" cx="661" cy="330" r="3.1"/>
<circle class="c15" cx="666.8" cy="314.8" r="3.1"/>
<circle class="c7" cx="649.6" cy="283.3" r="3.1"/>
<circle class="c19" cx="656.9" cy="327.4" r="3.1"/>
<circle class="c6" cx="645.8" cy="278.7" r="3.1"/>
<circle class="c19" cx="615.9" cy="328.3" r="3.1"/>
<circle class="c22" cx="589.6" cy="339.8" r="3.1"/>
<circle class="c18" cx="643.1" cy="323.4" r="3.1"/>
<circle class="c18" cx="646.1" cy="325.1" r="3.1"/>
<circle class="c16" cx="634.7" cy="319.2" r="3.1"/>
<circle class="c21" cx="597.4" cy="336.4" r="3.1"/>
<circle class="c19" cx="614.4" cy="329.4" r="3.1"/>
<circle class="c18" cx="620.8" cy="325.4" r="3.1"/>
<circle class="c3" cx="639.7" cy="270.4" r="3.1"/>
<circle class="c19" cx="655.3" cy="327.8" r="3.1"/>
<circle class="c18" cx="624.7" cy="323.8" r="3.1"/>
<circle class="c6" cx="647.1" cy="279.1" r="3.1"/>
<circle class="c17" cx="640.8" cy="322.9" r="3.1"/>
<circle class="c21" cx="602.9" cy="334.9" r="3.1"/>
<circle class="c2" cx="636.8" cy="266.6" r="3.1"/>
<circle class="c19" cx="617.7" cy="327.4" r="3.1"/>
<circle class="c28" cx="418" cy="360.9" r="3.1"/>
<circle class="c20" cx="608.1" cy="331.8" r="3.1"/>
<circle class="c19" cx="615.4" cy="328" r="3.1"/>
<circle class="c25" cx="548.9" cy="350.6" r="3.1"/>
<circle class="c18" cx="647.8" cy="325.1" r="3.1"/>
<circle class="c21" cx="600.9" cy="335.1" r="3.1"/>
<circle class="c23" cx="578.7" cy="344.5" r="3.1"/>
<circle class="c7" cx="649.2" cy="283.9" r="3.1"/>
<circle class="c3" cx="638.3" cy="268.1" r="3.1"/>
<circle class="c23" cx="582.6" cy="342.6" r="3.1"/>
<circle class="c24" cx="556.4" cy="348.7" r="3.1"/>
<circle class="c17" cx="639.1" cy="321.1" r="3.1"/>
<circle class="c17" cx="670.6" cy="322.5" r="3.1"/>
<circle class="c19" cx="613" cy="329.9" r="3.1"/>
<circle class="c25" cx="554" cy="349.7" r="3.1"/>
<circle class="c10" cx="657.7" cy="295" r="3.1"/>
<circle class="c19" cx="653.7" cy="328" r="3.1"/>
<circle class="c17" cx="642" cy="322.7" r="3.1"/>
<circle class="c20" cx="606" cy="332.9" r="3.1"/>
<circle class="c4" cx="643.3" cy="273.9" r="3.1"/>
<circle class="c20" cx="607.4" cy="331.8" r="3.1"/>
<circle class="c23" cx="580.9" cy="342.1" r="3.1"/>
<circle class="c18" cx="618.1" cy="326.6" r="3.1"/>
<circle class="c18" cx="619.2" cy="326.2" r="3.1"/>
<circle class="c10" cx="655.5" cy="293.8" r="3.1"/>
<circle class="c5" cx="645.1" cy="276.3" r="3.1"/>
<circle class="c4" cx="643.1" cy="273.3" r="3.1"/>
<circle class="c24" cx="561.6" cy="348.7" r="3.1"/>
<circle class="c18" cx="619.9" cy="326.5" r="3.1"/>
<circle class="c5" cx="644.7" cy="276.8" r="3.1"/>
<circle class="c18" cx="643.5" cy="324" r="3.1"/>
<circle class="c6" cx="648.3" cy="280.8" r="3.1"/>
<circle class="c5" cx="646.1" cy="277.7" r="3.1"/>
<circle class="c21" cx="597.5" cy="336.9" r="3.1"/>
<circle class="c17" cx="627.8" cy="322.4" r="3.1"/>
<circle class="c5" cx="646.1" cy="278.1" r="3.1"/>
<circle class="c22" cx="593.6" cy="338.5" r="3.1"/>
<circle class="c6" cx="647.6" cy="279.6" r="3.1"/>
<circle class="c18" cx="651" cy="326.4" r="3.1"/>
<circle class="c19" cx="615.4" cy="328.8" r="3.1"/>
<circle class="c17" cx="626.4" cy="323.2" r="3.1"/>
<circle class="c17" cx="637.1" cy="320.9" r="3.1"/>
<circle class="c8" cx="653" cy="288" r="3.1"/>
<circle class="c7" cx="651.1" cy="285.5" r="3.1"/>
<circle class="c18" cx="624" cy="324.6" r="3.1"/>
<circle class="c31" cx="434.2" cy="372.1" r="3.1"/>
<circle class="c17" cx="639.6" cy="322.3" r="3.1"/>
<circle class="c12" cx="660.7" cy="301.4" r="3.1"/>
<circle class="c19" cx="617.3" cy="327.9" r="3.1"/>
<circle class="c6" cx="648.1" cy="280.3" r="3.1"/>
<circle class="c20" cx="610.9" cy="331.2" r="3.1"/>
<circle class="c3" cx="640.8" cy="269.6" r="3.1"/>
<circle class="c18" cx="621.8" cy="325.8" r="3.1"/>
<circle class="c9" cx="653.6" cy="291.4" r="3.1"/>
<circle class="c18" cx="624.3" cy="324.7" r="3.1"/>
<circle class="c17" cx="631.9" cy="320.7" r="3.1"/>
<circle class="c20" cx="610.2" cy="331.2" r="3.1"/>
<circle class="c20" cx="602.5" cy="334.4" r="3.1"/>
<circle class="c18" cx="624.1" cy="324.7" r="3.1"/>
<circle class="c17" cx="625" cy="323.4" r="3.1"/>
<circle class="c17" cx="634" cy="319.9" r="3.1"/>
<circle class="c17" cx="631.2" cy="320.4" r="3.1"/>
<circle class="c16" cx="668.9" cy="317.3" r="3.1"/>
<circle class="c20" cx="671.5" cy="331.8" r="3.1"/>
<circle class="c18" cx="642.6" cy="324.3" r="3.1"/>
<circle class="c15" cx="667.2" cy="313.7" r="3.1"/>
<circle class="c12" cx="661.5" cy="301.9" r="3.1"/>
<circle class="c3" cx="639.7" cy="270.3" r="3.1"/>
<circle class="c20" cx="609.3" cy="332" r="3.1"/>
<circle class="c20" cx="674.1" cy="332.3" r="3.1"/>
<circle class="c20" cx="609.9" cy="331.6" r="3.1"/>
<circle class="c19" cx="617.6" cy="328" r="3.1"/>
<circle class="c18" cx="620.7" cy="326" r="3.1"/>
<circle class="c19" cx="616.2" cy="328.5" r="3.1"/>
<circle class="c17" cx="625" cy="323.3" r="3.1"/>
<circle class="c18" cx="622" cy="325.3" r="3.1"/>
<circle class="c2" cx="636.6" cy="267.3" r="3.1"/>
<circle class="c17" cx="638" cy="321.7" r="3.1"/>
<circle class="c21" cx="598.8" cy="336.5" r="3.1"/>
<circle class="c25" cx="559.1" cy="349.7" r="3.1"/>
<circle class="c8" cx="653.9" cy="289.4" r="3.1"/>
<circle class="c24" cx="563.7" cy="348.4" r="3.1"/>
<circle class="c22" cx="591.8" cy="339" r="3.1"/>
<circle class="c20" cx="609" cy="332.5" r="3.1"/>
<circle class="c17" cx="640.7" cy="322.2" r="3.1"/>
<circle class="c5" cx="646" cy="277.6" r="3.1"/>
<circle class="c16" cx="635.2" cy="319.4" r="3.1"/>
<circle class="c17" cx="629.4" cy="320.9" r="3.1"/>
<circle class="c4" cx="643.5" cy="273.6" r="3.1"/>
<circle class="c9" cx="655.9" cy="291.9" r="3.1"/>
<circle class="c24" cx="566.7" cy="348.2" r="3.1"/>
<circle class="c21" cx="599.3" cy="336.1" r="3.1"/>
<circle class="c20" cx="607.2" cy="333.4" r="3.1"/>
<circle class="c5" cx="644.8" cy="276.3" r="3.1"/>
<circle class="c22" cx="593.4" cy="338.7" r="3.1"/>
<circle class="c18" cx="620" cy="326.2" r="3.1"/>
<circle class="c20" cx="603.9" cy="334" r="3.1"/>
<circle class="c31" cx="425.6" cy="372.6" r="3.1"/>
<circle class="c5" cx="644.9" cy="275.5" r="3.1"/>
<circle class="c18" cx="621" cy="327.2" r="3.1"/>
<circle class="c20" cx="610.6" cy="331.3" r="3.1"/>
<circle class="c4" cx="641.3" cy="272.3" r="3.1"/>
<circle class="c8" cx="653.3" cy="286.6" r="3.1"/>
<circle class="c25" cx="556" cy="349.9" r="3.1"/>
<circle class="c17" cx="630.4" cy="321" r="3.1"/>
<circle class="c11" cx="659.1" cy="298.5" r="3.1"/>
<circle class="c31" cx="418" cy="372.7" r="3.1"/>
<circle class="c18" cx="624.3" cy="325.5" r="3.1"/>
<circle class="c19" cx="614.5" cy="330" r="3.1"/>
<circle class="c19" cx="670.6" cy="331" r="3.1"/>
<circle class="c19" cx="615.8" cy="329.6" r="3.1"/>
<circle class="c7" cx="651" cy="283.6" r="3.1"/>
<circle class="c19" cx="613.3" cy="330.3" r="3.1"/>
<circle class="c19" cx="613.3" cy="330.1" r="3.1"/>
<circle class="c18" cx="625.1" cy="324.3" r="3.1"/>
<circle class="c18" cx="623" cy="325.5" r="3.1"/>
<circle class="c2" cx="638.5" cy="267.3" r="3.1"/>
<circle class="c12" cx="662" cy="304.4" r="3.1"/>
<circle class="c18" cx="644.5" cy="325.1" r="3.1"/>
<circle class="c6" cx="649" cy="281.6" r="3.1"/>
<circle class="c7" cx="651.2" cy="284.8" r="3.1"/>
<circle class="c4" cx="644.7" cy="274.5" r="3.1"/>
<circle class="c17" cx="639.1" cy="322.9" r="3.1"/>
<circle class="c20" cx="668.4" cy="331.3" r="3.1"/>
<circle class="c6" cx="648.1" cy="280.4" r="3.1"/>
<circle class="c20" cx="604.7" cy="334.5" r="3.1"/>
<circle class="c3" cx="640.2" cy="269.7" r="3.1"/>
<circle class="c21" cx="600.5" cy="335.8" r="3.1"/>
<circle class="c20" cx="607.3" cy="333.7" r="3.1"/>
<circle class="c17" cx="628.5" cy="322.3" r="3.1"/>
<circle class="c21" cx="594.9" cy="338.4" r="3.1"/>
<circle class="c18" cx="620" cy="327.1" r="3.1"/>
<circle class="c8" cx="654.6" cy="290" r="3.1"/>
<circle class="c18" cx="618.2" cy="327.1" r="3.1"/>
<circle class="c15" cx="668.6" cy="316.1" r="3.1"/>
<circle class="c17" cx="633.8" cy="320.2" r="3.1"/>
<circle class="c19" cx="618.1" cy="327.8" r="3.1"/>
<circle class="c23" cx="581.9" cy="343.5" r="3.1"/>
<circle class="c21" cx="595.3" cy="337.9" r="3.1"/>
<circle class="c20" cx="609.9" cy="333" r="3.1"/>
<circle class="c3" cx="640.1" cy="268.2" r="3.1"/>
<circle class="c17" cx="627.6" cy="322.6" r="3.1"/>
<circle class="c20" cx="605.2" cy="334.5" r="3.1"/>
<circle class="c28" cx="463" cy="361.8" r="3.1"/>
<circle class="c5" cx="645.7" cy="276.6" r="3.1"/>
<circle class="c2" cx="638.6" cy="267" r="3.1"/>
<circle class="c13" cx="665.3" cy="308.4" r="3.1"/>
<circle class="c18" cx="648.7" cy="326.2" r="3.1"/>
<circle class="c20" cx="610" cy="332.5" r="3.1"/>
<circle class="c19" cx="615.9" cy="328.8" r="3.1"/>
<circle class="c19" cx="617.5" cy="328.4" r="3.1"/>
<circle class="c19" cx="674.8" cy="329.8" r="3.1"/>
<circle class="c4" cx="642.6" cy="274" r="3.1"/>
<circle class="c20" cx="612" cy="331.6" r="3.1"/>
<circle class="c20" cx="666.7" cy="331.3" r="3.1"/>
<circle class="c21" cx="600.6" cy="336.2" r="3.1"/>
<circle class="c19" cx="657.2" cy="328.8" r="3.1"/>
<circle class="c18" cx="649.7" cy="326.5" r="3.1"/>
<circle class="c23" cx="584" cy="342.5" r="3.1"/>
<circle class="c22" cx="585.8" cy="341.9" r="3.1"/>
<circle class="c21" cx="596.8" cy="337.5" r="3.1"/>
<circle class="c17" cx="631.7" cy="321.4" r="3.1"/>
<circle class="c18" cx="623.3" cy="325.5" r="3.1"/>
<circle class="c19" cx="619.2" cy="327.7" r="3.1"/>
<circle class="c3" cx="641.7" cy="271.5" r="3.1"/>
<circle class="c18" cx="620.7" cy="325.8" r="3.1"/>
<circle class="c3" cx="642.2" cy="270.2" r="3.1"/>
<circle class="c17" cx="670.5" cy="320.3" r="3.1"/>
<circle class="c6" cx="649.1" cy="281.9" r="3.1"/>
<circle class="c8" cx="652.7" cy="288.1" r="3.1"/>
<circle class="c21" cx="603.2" cy="335.3" r="3.1"/>
<circle class="c19" cx="658.6" cy="329.3" r="3.1"/>
<circle class="c20" cx="605.5" cy="334" r="3.1"/>
<circle class="c17" cx="635.3" cy="321.2" r="3.1"/>
<circle class="c24" cx="562" cy="349.6" r="3.1"/>
<circle class="c24" cx="564.1" cy="349.1" r="3.1"/>
<circle class="c17" cx="627" cy="323.6" r="3.1"/>
<circle class="c17" cx="636.8" cy="321.3" r="3.1"/>
<circle class="c19" cx="613.6" cy="331.1" r="3.1"/>
<circle class="c6" cx="649.9" cy="281.1" r="3.1"/>
<circle class="c3" cx="640.4" cy="269.2" r="3.1"/>
<circle class="c18" cx="622.7" cy="326" r="3.1"/>
<circle class="c19" cx="615.7" cy="329.4" r="3.1"/>
<circle class="c19" cx="655.6" cy="329.3" r="3.1"/>
<circle class="c19" cx="618.4" cy="328" r="3.1"/>
<circle class="c19" cx="615.2" cy="330.1" r="3.1"/>
<circle class="c21" cx="602" cy="336" r="3.1"/>
<circle class="c6" cx="648.2" cy="279.6" r="3.1"/>
<circle class="c4" cx="644.7" cy="274.6" r="3.1"/>
<circle class="c17" cx="634.6" cy="321.2" r="3.1"/>
<circle class="c20" cx="610.1" cy="332.8" r="3.1"/>
<circle class="c19" cx="617.1" cy="329.2" r="3.1"/>
<circle class="c2" cx="640.4" cy="268.2" r="3.1"/>
<circle class="c6" cx="649" cy="282" r="3.1"/>
<circle class="c18" cx="622.2" cy="326.8" r="3.1"/>
<circle class="c17" cx="629.5" cy="322.5" r="3.1"/>
<circle class="c3" cx="642.2" cy="270.6" r="3.1"/>
<circle class="c9" cx="656.2" cy="291.8" r="3.1"/>
<circle class="c18" cx="650.4" cy="327.6" r="3.1"/>
<circle class="c24" cx="569" cy="347.3" r="3.1"/>
<circle class="c10" cx="658" cy="294.4" r="3.1"/>
<circle class="c22" cx="585.2" cy="342.4" r="3.1"/>
<circle class="c7" cx="651.3" cy="283.2" r="3.1"/>
<circle class="c19" cx="619.4" cy="328.2" r="3.1"/>
<circle class="c22" cx="589.6" cy="341.6" r="3.1"/>
<circle class="c17" cx="629.4" cy="323.4" r="3.1"/>
<circle class="c21" cx="601.4" cy="335.8" r="3.1"/>
<circle class="c22" cx="591.7" cy="341.6" r="3.1"/>
<circle class="c23" cx="577.8" cy="345.6" r="3.1"/>
<circle class="c26" cx="417.4" cy="356.7" r="3.1"/>
<circle class="c18" cx="641.7" cy="324.3" r="3.1"/>
<circle class="c5" cx="646.8" cy="276.3" r="3.1"/>
<circle class="c3" cx="641.8" cy="269.7" r="3.1"/>
<circle class="c19" cx="651.5" cy="327.9" r="3.1"/>
<circle class="c18" cx="623.4" cy="325.6" r="3.1"/>
<circle class="c6" cx="650" cy="281.6" r="3.1"/>
<circle class="c19" cx="652.5" cy="329.1" r="3.1"/>
<circle class="c17" cx="636" cy="321.6" r="3.1"/>
<circle class="c4" cx="643.5" cy="272.1" r="3.1"/>
<circle class="c18" cx="646.8" cy="325.6" r="3.1"/>
<circle class="c23" cx="575.8" cy="346.3" r="3.1"/>
<circle class="c19" cx="616.3" cy="329.8" r="3.1"/>
<circle class="c18" cx="625.6" cy="324.7" r="3.1"/>
<circle class="c6" cx="649.2" cy="280.2" r="3.1"/>
<circle class="c18" cx="672.7" cy="325.5" r="3.1"/>
<circle class="c14" cx="666.8" cy="312" r="3.1"/>
<circle class="c19" cx="616.5" cy="329.6" r="3.1"/>
<circle class="c5" cx="648.8" cy="278.6" r="3.1"/>
<circle class="c24" cx="569" cy="348.3" r="3.1"/>
<circle class="c3" cx="643.1" cy="272.1" r="3.1"/>
<circle class="c20" cx="676.5" cy="334" r="3.1"/>
<circle class="c13" cx="665.7" cy="307.5" r="3.1"/>
<circle class="c17" cx="637.4" cy="322.4" r="3.1"/>
<circle class="c30" cx="413.2" cy="370.1" r="3.1"/>
<circle class="c18" cx="644" cy="324.9" r="3.1"/>
<circle class="c24" cx="573.1" cy="347.1" r="3.1"/>
<circle class="c20" cx="611.9" cy="332" r="3.1"/>
<circle class="c22" cx="587.7" cy="341" r="3.1"/>
<circle class="c22" cx="589.5" cy="341.3" r="3.1"/>
<circle class="c20" cx="607.9" cy="333" r="3.1"/>
<circle class="c18" cx="626.2" cy="324.4" r="3.1"/>
<circle class="c17" cx="637" cy="321.6" r="3.1"/>
<circle class="c22" cx="587.8" cy="341.7" r="3.1"/>
<circle class="c4" cx="645.1" cy="273.5" r="3.1"/>
<circle class="c17" cx="638.6" cy="323.5" r="3.1"/>
<circle class="c21" cx="598.7" cy="338" r="3.1"/>
<circle class="c17" cx="634.2" cy="321.8" r="3.1"/>
<circle class="c18" cx="642.7" cy="324.8" r="3.1"/>
<circle class="c4" cx="644.9" cy="273.9" r="3.1"/>
<circle class="c20" cx="608.3" cy="333.6" r="3.1"/>
<circle class="c19" cx="620" cy="328" r="3.1"/>
<circle class="c4" cx="646.2" cy="274.8" r="3.1"/>
<circle class="c24" cx="570.7" cy="347.2" r="3.1"/>
<circle class="c5" cx="646.5" cy="276" r="3.1"/>
<circle class="c17" cx="630.7" cy="322.4" r="3.1"/>
<circle class="c5" cx="647.6" cy="278" r="3.1"/>
<circle class="c3" cx="643.8" cy="272.1" r="3.1"/>
<circle class="c4" cx="645.2" cy="273.6" r="3.1"/>
<circle class="c10" cx="659.2" cy="296.7" r="3.1"/>
<circle class="c17" cx="639.4" cy="323.5" r="3.1"/>
<circle class="c19" cx="664.2" cy="331.3" r="3.1"/>
<circle class="c30" cx="445.1" cy="369.7" r="3.1"/>
<circle class="c5" cx="646.6" cy="276.6" r="3.1"/>
<circle class="c19" cx="614.5" cy="330.7" r="3.1"/>
<circle class="c24" cx="566.6" cy="348.9" r="3.1"/>
<circle class="c12" cx="663" cy="303.3" r="3.1"/>
<circle class="c17" cx="626.5" cy="324.1" r="3.1"/>
<circle class="c19" cx="614.7" cy="330.1" r="3.1"/>
<circle class="c3" cx="641.9" cy="269.8" r="3.1"/>
<circle class="c5" cx="648.7" cy="277.2" r="3.1"/>
<circle class="c17" cx="640.3" cy="324.3" r="3.1"/>
<circle class="c17" cx="633.5" cy="320.8" r="3.1"/>
<circle class="c19" cx="662.4" cy="331.5" r="3.1"/>
<circle class="c18" cx="624" cy="325.7" r="3.1"/>
<circle class="c7" cx="650.4" cy="283.4" r="3.1"/>
<circle class="c19" cx="661.6" cy="331.6" r="3.1"/>
<circle class="c21" cx="597.2" cy="339.1" r="3.1"/>
<circle class="c7" cx="653.5" cy="284.9" r="3.1"/>
<circle class="c18" cx="623.2" cy="326.6" r="3.1"/>
<circle class="c2" cx="640.9" cy="267.2" r="3.1"/>
<circle class="c17" cx="632" cy="321" r="3.1"/>
<circle class="c8" cx="654.5" cy="287.8" r="3.1"/>
<circle class="c18" cx="620.7" cy="327.7" r="3.1"/>
<circle class="c15" cx="668.8" cy="314.5" r="3.1"/>
<circle class="c17" cx="630.6" cy="322.1" r="3.1"/>
<circle class="c17" cx="630" cy="323.2" r="3.1"/>
<circle class="c19" cx="655" cy="328.2" r="3.1"/>
<circle class="c14" cx="666.8" cy="310.3" r="3.1"/>
<circle class="c17" cx="626.5" cy="323.9" r="3.1"/>
<circle class="c4" cx="644.9" cy="273" r="3.1"/>
<circle class="c18" cx="625.6" cy="325.8" r="3.1"/>
<circle class="c18" cx="618.6" cy="327.9" r="3.1"/>
<circle class="c6" cx="650.1" cy="280.2" r="3.1"/>
<circle class="c20" cx="611.3" cy="332.7" r="3.1"/>
<circle class="c3" cx="642.5" cy="268.9" r="3.1"/>
<circle class="c6" cx="651.9" cy="282.5" r="3.1"/>
<circle class="c18" cx="648.7" cy="326.9" r="3.1"/>
<circle class="c17" cx="628.8" cy="323.4" r="3.1"/>
<circle class="c4" cx="646.5" cy="274.7" r="3.1"/>
<circle class="c27" cx="488.9" cy="359.3" r="3.1"/>
<circle class="c19" cx="613.1" cy="331.6" r="3.1"/>
<circle class="c17" cx="630.8" cy="322.8" r="3.1"/>
<circle class="c20" cx="605.9" cy="334.9" r="3.1"/>
<circle class="c18" cx="620.6" cy="327.6" r="3.1"/>
<circle class="c27" cx="478.3" cy="358.9" r="3.1"/>
<circle class="c21" cx="598.6" cy="337.7" r="3.1"/>
<circle class="c27" cx="483.8" cy="359.2" r="3.1"/>
<circle class="c18" cx="625" cy="326" r="3.1"/>
<circle class="c19" cx="658.2" cy="330.3" r="3.1"/>
<circle class="c27" cx="493.4" cy="360" r="3.1"/>
<circle class="c12" cx="662.7" cy="302.5" r="3.1"/>
<circle class="c7" cx="653.2" cy="285" r="3.1"/>
<circle class="c9" cx="658" cy="293.3" r="3.1"/>
<circle class="c7" cx="652.4" cy="285.1" r="3.1"/>
<circle class="c17" cx="631.6" cy="322.5" r="3.1"/>
<circle class="c19" cx="620.4" cy="328.4" r="3.1"/>
<circle class="c17" cx="635.4" cy="321.9" r="3.1"/>
<circle class="c19" cx="675.2" cy="328.5" r="3.1"/>
<circle class="c5" cx="648.4" cy="276.9" r="3.1"/>
<circle class="c17" cx="637.6" cy="322.3" r="3.1"/>
<circle class="c11" cx="661.5" cy="298.9" r="3.1"/>
<circle class="c24" cx="571.1" cy="347.6" r="3.1"/>
<circle class="c27" cx="498" cy="359.8" r="3.1"/>
<circle class="c18" cx="621.8" cy="326.8" r="3.1"/>
<circle class="c17" cx="633.6" cy="322.4" r="3.1"/>
<circle class="c20" cx="666.1" cy="332.9" r="3.1"/>
<circle class="c21" cx="603.2" cy="336.1" r="3.1"/>
<circle class="c17" cx="672.3" cy="323" r="3.1"/>
<circle class="c22" cx="593.5" cy="341.1" r="3.1"/>
<circle class="c3" cx="643.4" cy="270.9" r="3.1"/>
<circle class="c19" cx="618.5" cy="328.8" r="3.1"/>
<circle class="c6" cx="652.9" cy="283.2" r="3.1"/>
<circle class="c18" cx="620.8" cy="328" r="3.1"/>
<circle class="c19" cx="618.1" cy="328.8" r="3.1"/>
<circle class="c18" cx="624.6" cy="325.7" r="3.1"/>
<circle class="c19" cx="612.8" cy="331.8" r="3.1"/>
<circle class="c19" cx="617.2" cy="329.7" r="3.1"/>
<circle class="c18" cx="626.4" cy="325.7" r="3.1"/>
<circle class="c20" cx="609.5" cy="333.2" r="3.1"/>
<circle class="c13" cx="667.4" cy="308.5" r="3.1"/>
<circle class="c18" cx="623.3" cy="327" r="3.1"/>
<circle class="c8" cx="656.3" cy="290.6" r="3.1"/>
<circle class="c27" cx="472" cy="359.7" r="3.1"/>
<circle class="c18" cx="644.3" cy="326.6" r="3.1"/>
<circle class="c27" cx="502" cy="359.5" r="3.1"/>
<circle class="c2" cx="642.2" cy="268.5" r="3.1"/>
<circle class="c18" cx="627.1" cy="325.3" r="3.1"/>
<circle class="c19" cx="615.5" cy="330.4" r="3.1"/>
<circle class="c23" cx="579.7" cy="345.5" r="3.1"/>
<circle class="c22" cx="591.9" cy="341.1" r="3.1"/>
<circle class="c19" cx="651.1" cy="328.8" r="3.1"/>
<circle class="c5" cx="648.1" cy="278.4" r="3.1"/>
<circle class="c3" cx="644" cy="270.6" r="3.1"/>
<circle class="c18" cx="641.5" cy="325.1" r="3.1"/>
<circle class="c19" cx="613.7" cy="331.1" r="3.1"/>
<circle class="c18" cx="645.8" cy="326.3" r="3.1"/>
<circle class="c20" cx="674.7" cy="333.2" r="3.1"/>
<circle class="c18" cx="621.7" cy="327.2" r="3.1"/>
<circle class="c22" cx="594.4" cy="340.4" r="3.1"/>
<circle class="c9" cx="658.4" cy="291.8" r="3.1"/>
<circle class="c2" cx="643.1" cy="268.2" r="3.1"/>
<circle class="c7" cx="654.3" cy="286.2" r="3.1"/>
<circle class="c19" cx="615" cy="330.9" r="3.1"/>
<circle class="c17" cx="629" cy="324.3" r="3.1"/>
<circle class="c3" cx="642" cy="269.3" r="3.1"/>
<circle class="c6" cx="652.1" cy="281.5" r="3.1"/>
<circle class="c19" cx="660.1" cy="330.4" r="3.1"/>
<circle class="c24" cx="573.1" cy="348.2" r="3.1"/>
<circle class="c20" cx="669" cy="333.5" r="3.1"/>
<circle class="c5" cx="648.3" cy="276.7" r="3.1"/>
<circle class="c18" cx="623.6" cy="326.4" r="3.1"/>
<circle class="c17" cx="632.9" cy="322" r="3.1"/>
<circle class="c10" cx="659.4" cy="295.8" r="3.1"/>
<circle class="c23" cx="579.8" cy="345.8" r="3.1"/>
<circle class="c6" cx="651.4" cy="281.8" r="3.1"/>
<circle class="c18" cx="642.8" cy="326.5" r="3.1"/>
<circle class="c17" cx="630.6" cy="323" r="3.1"/>
<circle class="c17" cx="631.5" cy="323.1" r="3.1"/>
<circle class="c27" cx="506.2" cy="359.3" r="3.1"/>
<circle class="c20" cx="606.8" cy="335.2" r="3.1"/>
<circle class="c20" cx="604.7" cy="335.4" r="3.1"/>
<circle class="c18" cx="622.2" cy="327.1" r="3.1"/>
<circle class="c20" cx="667.8" cy="333" r="3.1"/>
<circle class="c4" cx="645.3" cy="272.8" r="3.1"/>
<circle class="c17" cx="628.4" cy="323.9" r="3.1"/>
<circle class="c5" cx="650" cy="278" r="3.1"/>
<circle class="c12" cx="665" cy="305.6" r="3.1"/>
<circle class="c18" cx="624.7" cy="326.6" r="3.1"/>
<circle class="c18" cx="624.2" cy="326.7" r="3.1"/>
<circle class="c20" cx="607.6" cy="334.3" r="3.1"/>
<circle class="c20" cx="606.6" cy="334.2" r="3.1"/>
<circle class="c20" cx="612.5" cy="332.4" r="3.1"/>
<circle class="c20" cx="611.1" cy="333.4" r="3.1"/>
<circle class="c23" cx="583.7" cy="344.4" r="3.1"/>
<circle class="c17" cx="632.8" cy="323.4" r="3.1"/>
<circle class="c21" cx="601.4" cy="337.6" r="3.1"/>
<circle class="c18" cx="622.6" cy="327.2" r="3.1"/>
<circle class="c7" cx="654.5" cy="287" r="3.1"/>
<circle class="c18" cx="625.1" cy="326.7" r="3.1"/>
<circle class="c20" cx="611" cy="333.2" r="3.1"/>
<circle class="c19" cx="615.9" cy="331" r="3.1"/>
<circle class="c18" cx="620.8" cy="328.5" r="3.1"/>
<circle class="c6" cx="651.7" cy="281.3" r="3.1"/>
<circle class="c19" cx="617.6" cy="329.3" r="3.1"/>
<circle class="c26" cx="515.3" cy="358" r="3.1"/>
<circle class="c17" cx="636.9" cy="323.2" r="3.1"/>
<circle class="c17" cx="633.6" cy="322.8" r="3.1"/>
<circle class="c17" cx="631.8" cy="323.2" r="3.1"/>
<circle class="c20" cx="672.7" cy="334.1" r="3.1"/>
<circle class="c23" cx="578.1" cy="346.7" r="3.1"/>
<circle class="c8" cx="656.3" cy="288.4" r="3.1"/>
<circle class="c20" cx="605.9" cy="335.2" r="3.1"/>
<circle class="c23" cx="581.1" cy="344.8" r="3.1"/>
<circle class="c19" cx="656.7" cy="330.4" r="3.1"/>
<circle class="c18" cx="648" cy="328.2" r="3.1"/>
<circle class="c21" cx="600.6" cy="337.8" r="3.1"/>
<circle class="c18" cx="649.6" cy="328" r="3.1"/>
<circle class="c5" cx="649.9" cy="279.1" r="3.1"/>
<circle class="c16" cx="671" cy="318.6" r="3.1"/>
<circle class="c18" cx="648.2" cy="327.4" r="3.1"/>
<circle class="c14" cx="669.6" cy="312.7" r="3.1"/>
<circle class="c19" cx="613.8" cy="331.9" r="3.1"/>
<circle class="c15" cx="670.8" cy="317.2" r="3.1"/>
<circle class="c19" cx="614.9" cy="331.4" r="3.1"/>
<circle class="c18" cx="626.6" cy="326.1" r="3.1"/>
<circle class="c18" cx="622.4" cy="328" r="3.1"/>
<circle class="c4" cx="646.8" cy="274.7" r="3.1"/>
<circle class="c10" cx="660.8" cy="298.6" r="3.1"/>
<circle class="c23" cx="575.5" cy="347" r="3.1"/>
<circle class="c19" cx="618.7" cy="328.9" r="3.1"/>
<circle class="c11" cx="663.8" cy="301.3" r="3.1"/>
<circle class="c17" cx="638.4" cy="324.4" r="3.1"/>
<circle class="c22" cx="593.1" cy="341.5" r="3.1"/>
<circle class="c21" cx="602.2" cy="337.6" r="3.1"/>
<circle class="c17" cx="629.6" cy="324.8" r="3.1"/>
<circle class="c3" cx="644.1" cy="269.9" r="3.1"/>
<circle class="c18" cx="621.8" cy="328.3" r="3.1"/>
<circle class="c18" cx="646.5" cy="327.4" r="3.1"/>
<circle class="c19" cx="618.9" cy="329.5" r="3.1"/>
<circle class="c5" cx="650" cy="278.9" r="3.1"/>
<circle class="c19" cx="611.7" cy="332.1" r="3.1"/>
<circle class="c18" cx="622.9" cy="328.1" r="3.1"/>
<circle class="c3" cx="645.3" cy="270.8" r="3.1"/>
<circle class="c26" cx="520.8" cy="357.5" r="3.1"/>
<circle class="c22" cx="595" cy="341.2" r="3.1"/>
<circle class="c3" cx="645.7" cy="271.4" r="3.1"/>
<circle class="c19" cx="617" cy="329.8" r="3.1"/>
<circle class="c22" cx="596.4" cy="340" r="3.1"/>
<circle class="c17" cx="635.6" cy="323.5" r="3.1"/>
<circle class="c18" cx="628.7" cy="325.2" r="3.1"/>
<circle class="c6" cx="651" cy="281.2" r="3.1"/>
<circle class="c26" cx="511.4" cy="358.5" r="3.1"/>
<circle class="c18" cx="619.6" cy="328.6" r="3.1"/>
<circle class="c21" cx="600.3" cy="337.7" r="3.1"/>
<circle class="c5" cx="648.8" cy="276.9" r="3.1"/>
<circle class="c19" cx="620.2" cy="329" r="3.1"/>
<circle class="c19" cx="616.9" cy="330.5" r="3.1"/>
<circle class="c2" cx="644.7" cy="269.3" r="3.1"/>
<circle class="c19" cx="616.9" cy="330.6" r="3.1"/>
<circle class="c3" cx="645.4" cy="272.1" r="3.1"/>
<circle class="c8" cx="655.7" cy="288.8" r="3.1"/>
<circle class="c17" cx="631.2" cy="324.3" r="3.1"/>
<circle class="c19" cx="654.6" cy="329.9" r="3.1"/>
<circle class="c18" cx="622.9" cy="327.5" r="3.1"/>
<circle class="c4" cx="647.6" cy="273.7" r="3.1"/>
<circle class="c19" cx="617.7" cy="330.3" r="3.1"/>
<circle class="c12" cx="665.7" cy="305" r="3.1"/>
<circle class="c19" cx="677.5" cy="331.5" r="3.1"/>
<circle class="c20" cx="606.7" cy="335.1" r="3.1"/>
<circle class="c18" cx="641.3" cy="326.4" r="3.1"/>
<circle class="c25" cx="542.2" cy="354.3" r="3.1"/>
<circle class="c19" cx="620.9" cy="329" r="3.1"/>
<circle class="c20" cx="612.3" cy="333.1" r="3.1"/>
<circle class="c18" cx="626.1" cy="326.7" r="3.1"/>
<circle class="c20" cx="671.6" cy="333.8" r="3.1"/>
<circle class="c17" cx="631.3" cy="324.7" r="3.1"/>
<circle class="c19" cx="618.5" cy="329.8" r="3.1"/>
<circle class="c18" cx="639.5" cy="325.4" r="3.1"/>
<circle class="c20" cx="614.3" cy="332.7" r="3.1"/>
<circle class="c17" cx="636.1" cy="322.5" r="3.1"/>
<circle class="c19" cx="650.2" cy="329.3" r="3.1"/>
<circle class="c2" cx="643.8" cy="269.4" r="3.1"/>
<circle class="c5" cx="651.2" cy="280.4" r="3.1"/>
<circle class="c19" cx="615.4" cy="331.9" r="3.1"/>
<circle class="c19" cx="619.9" cy="329.2" r="3.1"/>
<circle class="c23" cx="581.5" cy="345.4" r="3.1"/>
<circle class="c20" cx="610.7" cy="333.6" r="3.1"/>
<circle class="c21" cx="602.4" cy="336.9" r="3.1"/>
<circle class="c17" cx="639.2" cy="324.4" r="3.1"/>
<circle class="c3" cx="646.6" cy="273.1" r="3.1"/>
<circle class="c4" cx="646.6" cy="274.2" r="3.1"/>
<circle class="c9" cx="660.5" cy="295.4" r="3.1"/>
<circle class="c19" cx="615.3" cy="332" r="3.1"/>
<circle class="c17" cx="633.7" cy="323.9" r="3.1"/>
<circle class="c20" cx="610.7" cy="333.8" r="3.1"/>
<circle class="c26" cx="528.4" cy="355.9" r="3.1"/>
<circle class="c17" cx="634.3" cy="324" r="3.1"/>
<circle class="c21" cx="599.4" cy="338.6" r="3.1"/>
<circle class="c20" cx="663.7" cy="333" r="3.1"/>
<circle class="c28" cx="414" cy="366.1" r="3.1"/>
<circle class="c18" cx="627.9" cy="325.6" r="3.1"/>
<circle class="c17" cx="631.9" cy="323.6" r="3.1"/>
<circle class="c20" cx="609.1" cy="333.9" r="3.1"/>
<circle class="c19" cx="618.8" cy="330.3" r="3.1"/>
<circle class="c6" cx="652.9" cy="283" r="3.1"/>
<circle class="c11" cx="663.7" cy="299.6" r="3.1"/>
<circle class="c28" cx="461" cy="364.8" r="3.1"/>
<circle class="c6" cx="654.6" cy="284.2" r="3.1"/>
<circle class="c19" cx="620.7" cy="329.4" r="3.1"/>
<circle class="c6" cx="653.9" cy="284.1" r="3.1"/>
<circle class="c19" cx="621.5" cy="329.2" r="3.1"/>
<circle class="c3" cx="645.4" cy="271.1" r="3.1"/>
<circle class="c17" cx="632.8" cy="323.7" r="3.1"/>
<circle class="c19" cx="653.2" cy="330" r="3.1"/>
<circle class="c5" cx="650.5" cy="277.7" r="3.1"/>
<circle class="c8" cx="657.7" cy="290.6" r="3.1"/>
<circle class="c17" cx="629.9" cy="325" r="3.1"/>
<circle class="c19" cx="662.4" cy="332.6" r="3.1"/>
<circle class="c22" cx="589.6" cy="343" r="3.1"/>
<circle class="c19" cx="617.8" cy="330.6" r="3.1"/>
<circle class="c20" cx="606.9" cy="335.4" r="3.1"/>
<circle class="c2" cx="644.6" cy="269" r="3.1"/>
<circle class="c22" cx="597" cy="340.2" r="3.1"/>
<circle class="c18" cx="640.1" cy="326.2" r="3.1"/>
<circle class="c23" cx="585.3" cy="344" r="3.1"/>
<circle class="c19" cx="619.4" cy="330" r="3.1"/>
<circle class="c3" cx="643.9" cy="270.4" r="3.1"/>
<circle class="c18" cx="675.3" cy="326.8" r="3.1"/>
<circle class="c18" cx="625.4" cy="327.2" r="3.1"/>
<circle class="c19" cx="615.7" cy="331.5" r="3.1"/>
<circle class="c26" cx="532.9" cy="355.4" r="3.1"/>
<circle class="c20" cx="608.6" cy="334.7" r="3.1"/>
<circle class="c22" cx="591.4" cy="342.5" r="3.1"/>
<circle class="c18" cx="623.6" cy="327.6" r="3.1"/>
<circle class="c18" cx="643.7" cy="326.7" r="3.1"/>
<circle class="c19" cx="614.1" cy="332.6" r="3.1"/>
<circle class="c18" cx="625.1" cy="326.5" r="3.1"/>
<circle class="c8" cx="658" cy="291.4" r="3.1"/>
<circle class="c4" cx="648.8" cy="275.7" r="3.1"/>
<circle class="c17" cx="628.6" cy="325.1" r="3.1"/>
<circle class="c21" cx="604.4" cy="336.9" r="3.1"/>
<circle class="c17" cx="636.9" cy="324.3" r="3.1"/>
<circle class="c16" cx="673.3" cy="321.2" r="3.1"/>
<circle class="c7" cx="654.7" cy="284.9" r="3.1"/>
<circle class="c6" cx="653.3" cy="282.8" r="3.1"/>
<circle class="c18" cx="646" cy="329.1" r="3.1"/>
<circle class="c13" cx="667.2" cy="308.1" r="3.1"/>
<circle class="c22" cx="587.5" cy="343.7" r="3.1"/>
<circle class="c4" cx="648.7" cy="274.6" r="3.1"/>
<circle class="c20" cx="605.7" cy="336.3" r="3.1"/>
<circle class="c17" cx="635.8" cy="324.6" r="3.1"/>
<circle class="c17" cx="632.7" cy="324.3" r="3.1"/>
<circle class="c3" cx="646.1" cy="270.3" r="3.1"/>
<circle class="c18" cx="621.6" cy="329.1" r="3.1"/>
<circle class="c21" cx="598.5" cy="339.9" r="3.1"/>
<circle class="c5" cx="650.5" cy="277.8" r="3.1"/>
<circle class="c18" cx="645.3" cy="327.4" r="3.1"/>
<circle class="c26" cx="524.3" cy="357.1" r="3.1"/>
<circle class="c19" cx="613.6" cy="332.5" r="3.1"/>
<circle class="c19" cx="619.3" cy="329.6" r="3.1"/>
<circle class="c25" cx="418" cy="353.8" r="3.1"/>
<circle class="c9" cx="659.3" cy="294.1" r="3.1"/>
<circle class="c23" cx="583.9" cy="345" r="3.1"/>
<circle class="c25" cx="536.3" cy="355" r="3.1"/>
<circle class="c10" cx="662.1" cy="297.1" r="3.1"/>
<circle class="c18" cx="629.3" cy="325.7" r="3.1"/>
<circle class="c19" cx="660.3" cy="332.1" r="3.1"/>
<circle class="c23" cx="587.4" cy="345.1" r="3.1"/>
<circle class="c6" cx="654.3" cy="284.3" r="3.1"/>
<circle class="c6" cx="653.6" cy="282.3" r="3.1"/>
<circle class="c19" cx="618.9" cy="329.8" r="3.1"/>
<circle class="c18" cx="627.4" cy="325.9" r="3.1"/>
<circle class="c21" cx="601.2" cy="338.5" r="3.1"/>
<circle class="c18" cx="627.9" cy="326.7" r="3.1"/>
<circle class="c21" cx="601.3" cy="339.1" r="3.1"/>
<circle class="c4" cx="649" cy="274.6" r="3.1"/>
<circle class="c22" cx="589.8" cy="343.9" r="3.1"/>
<circle class="c5" cx="652.3" cy="280.2" r="3.1"/>
<circle class="c23" cx="585.4" cy="344.5" r="3.1"/>
<circle class="c17" cx="638.8" cy="324.8" r="3.1"/>
<circle class="c3" cx="647.4" cy="272" r="3.1"/>
<circle class="c17" cx="630.3" cy="324.7" r="3.1"/>
<circle class="c19" cx="616.9" cy="331.5" r="3.1"/>
<circle class="c17" cx="634.8" cy="323.3" r="3.1"/>
<circle class="c18" cx="642.4" cy="327.9" r="3.1"/>
<circle class="c18" cx="627.5" cy="326.6" r="3.1"/>
<circle class="c19" cx="616.6" cy="330.6" r="3.1"/>
<circle class="c19" cx="621" cy="329.5" r="3.1"/>
<circle class="c5" cx="650" cy="277.4" r="3.1"/>
<circle class="c27" cx="497.7" cy="360.9" r="3.1"/>
<circle class="c20" cx="605.4" cy="336.4" r="3.1"/>
<circle class="c18" cx="639.5" cy="326" r="3.1"/>
<circle class="c21" cx="604.6" cy="336.9" r="3.1"/>
<circle class="c20" cx="612.1" cy="333.8" r="3.1"/>
<circle class="c17" cx="630.3" cy="325.4" r="3.1"/>
<circle class="c20" cx="610.8" cy="334.3" r="3.1"/>
<circle class="c7" cx="654.4" cy="285.8" r="3.1"/>
<circle class="c18" cx="625.1" cy="327.9" r="3.1"/>
<circle class="c18" cx="644.1" cy="328.1" r="3.1"/>
<circle class="c20" cx="607.2" cy="335.9" r="3.1"/>
<circle class="c19" cx="619.3" cy="330.4" r="3.1"/>
<circle class="c19" cx="618" cy="331.4" r="3.1"/>
<circle class="c20" cx="610.6" cy="335" r="3.1"/>
<circle class="c10" cx="661.5" cy="296.1" r="3.1"/>
<circle class="c18" cx="622.4" cy="328.8" r="3.1"/>
<circle class="c21" cx="598.3" cy="340.2" r="3.1"/>
<circle class="c4" cx="649" cy="275" r="3.1"/>
<circle class="c3" cx="647.1" cy="272.2" r="3.1"/>
<circle class="c18" cx="625.5" cy="327.7" r="3.1"/>
<circle class="c18" cx="623.5" cy="328.4" r="3.1"/>
<circle class="c3" cx="647" cy="272.6" r="3.1"/>
<circle class="c17" cx="629.1" cy="325.6" r="3.1"/>
<circle class="c19" cx="614.7" cy="332.6" r="3.1"/>
<circle class="c20" cx="611.8" cy="334.1" r="3.1"/>
<circle class="c5" cx="651.1" cy="279.5" r="3.1"/>
<circle class="c18" cx="624.6" cy="327.7" r="3.1"/>
<circle class="c17" cx="632.8" cy="325.6" r="3.1"/>
<circle class="c17" cx="631.5" cy="324.6" r="3.1"/>
<circle class="c18" cx="628.8" cy="326.7" r="3.1"/>
<circle class="c17" cx="632" cy="325.3" r="3.1"/>
<circle class="c24" cx="418.5" cy="349.5" r="3.1"/>
<circle class="c17" cx="633.4" cy="325.4" r="3.1"/>
<circle class="c18" cx="633.2" cy="326.6" r="3.1"/>
<circle class="c18" cx="626.8" cy="326.8" r="3.1"/>
<circle class="c19" cx="618.2" cy="331.1" r="3.1"/>
<circle class="c20" cx="611.8" cy="334.5" r="3.1"/>
<circle class="c19" cx="651.2" cy="329.6" r="3.1"/>
<circle class="c27" cx="501.7" cy="361.1" r="3.1"/>
<circle class="c19" cx="621.7" cy="329.7" r="3.1"/>
<circle class="c19" cx="611.8" cy="333.1" r="3.1"/>
<circle class="c19" cx="658" cy="332.2" r="3.1"/>
<circle class="c18" cx="641.7" cy="327.5" r="3.1"/>
<circle class="c19" cx="614.3" cy="332.6" r="3.1"/>
<circle class="c21" cx="602.9" cy="337.6" r="3.1"/>
<circle class="c18" cx="630" cy="326.4" r="3.1"/>
<circle class="c21" cx="605.5" cy="337.6" r="3.1"/>
<circle class="c18" cx="630.8" cy="326.1" r="3.1"/>
<circle class="c27" cx="478" cy="361.1" r="3.1"/>
<circle class="c19" cx="618.8" cy="330.7" r="3.1"/>
<circle class="c20" cx="613.7" cy="333.5" r="3.1"/>
<circle class="c22" cx="591.7" cy="343.5" r="3.1"/>
<circle class="c10" cx="663.3" cy="298.6" r="3.1"/>
<circle class="c8" cx="659.8" cy="292" r="3.1"/>
<circle class="c11" cx="665.1" cy="303" r="3.1"/>
<circle class="c3" cx="646.2" cy="270.2" r="3.1"/>
<circle class="c25" cx="545.8" cy="354.2" r="3.1"/>
<circle class="c12" cx="667.3" cy="306.3" r="3.1"/>
<circle class="c19" cx="648.6" cy="329.8" r="3.1"/>
<circle class="c14" cx="669.7" cy="311.9" r="3.1"/>
<circle class="c19" cx="614.7" cy="332.9" r="3.1"/>
<circle class="c7" cx="654.8" cy="285.4" r="3.1"/>
<circle class="c27" cx="493" cy="362.1" r="3.1"/>
<circle class="c19" cx="617.3" cy="331.6" r="3.1"/>
<circle class="c18" cx="625.3" cy="327.7" r="3.1"/>
<circle class="c18" cx="622.9" cy="329.1" r="3.1"/>
<circle class="c2" cx="645.9" cy="269" r="3.1"/>
<circle class="c18" cx="628.8" cy="326.2" r="3.1"/>
<circle class="c19" cx="619.8" cy="330.6" r="3.1"/>
<circle class="c18" cx="640.7" cy="327.1" r="3.1"/>
<circle class="c20" cx="612.8" cy="334.3" r="3.1"/>
<circle class="c27" cx="506.2" cy="361" r="3.1"/>
<circle class="c16" cx="673.7" cy="318.7" r="3.1"/>
<circle class="c17" cx="636.3" cy="325.4" r="3.1"/>
<circle class="c20" cx="613.1" cy="333.8" r="3.1"/>
<circle class="c20" cx="667.8" cy="334.5" r="3.1"/>
<circle class="c20" cx="608.7" cy="335.5" r="3.1"/>
<circle class="c19" cx="617.9" cy="331.2" r="3.1"/>
<circle class="c19" cx="621.1" cy="330.1" r="3.1"/>
<circle class="c19" cx="657.3" cy="331.7" r="3.1"/>
<circle class="c18" cx="627.4" cy="326.9" r="3.1"/>
<circle class="c3" cx="647.8" cy="271.6" r="3.1"/>
<circle class="c21" cx="604.6" cy="338.1" r="3.1"/>
<circle class="c27" cx="511" cy="360.2" r="3.1"/>
<circle class="c5" cx="651.8" cy="279.2" r="3.1"/>
<circle class="c18" cx="622.1" cy="329" r="3.1"/>
<circle class="c13" cx="669.1" cy="309.9" r="3.1"/>
</g>
<g class="a5">
<circle class="c3" cx="648" cy="271.3" r="3.1"/>
<circle class="c22" cx="593.3" cy="342.1" r="3.1"/>
<circle class="c7" cx="656.7" cy="285.6" r="3.1"/>
<circle class="c25" cx="556.2" cy="352.3" r="3.1"/>
<circle class="c18" cx="625.6" cy="327.3" r="3.1"/>
<circle class="c5" cx="651.7" cy="278.7" r="3.1"/>
<circle class="c20" cx="679.6" cy="335.5" r="3.1"/>
<circle class="c27" cx="515.6" cy="359.9" r="3.1"/>
<circle class="c18" cx="645.3" cy="328.1" r="3.1"/>
<circle class="c19" cx="620.9" cy="330.2" r="3.1"/>
<circle class="c17" cx="630.9" cy="325.5" r="3.1"/>
<circle class="c19" cx="617.6" cy="331.3" r="3.1"/>
<circle class="c18" cx="624.6" cy="328.6" r="3.1"/>
<circle class="c7" cx="656.8" cy="285.9" r="3.1"/>
<circle class="c15" cx="671.6" cy="315.1" r="3.1"/>
<circle class="c19" cx="615.4" cy="332.8" r="3.1"/>
<circle class="c3" cx="648.3" cy="271.1" r="3.1"/>
<circle class="c20" cx="666.2" cy="334.1" r="3.1"/>
<circle class="c7" cx="656.3" cy="286.7" r="3.1"/>
<circle class="c21" cx="599.5" cy="339" r="3.1"/>
<circle class="c19" cx="652.1" cy="331.3" r="3.1"/>
<circle class="c7" cx="656.9" cy="287.1" r="3.1"/>
<circle class="c18" cx="625.6" cy="327.7" r="3.1"/>
<circle class="c20" cx="669.7" cy="334.7" r="3.1"/>
<circle class="c4" cx="650.6" cy="276.8" r="3.1"/>
<circle class="c25" cx="547.7" cy="354.3" r="3.1"/>
<circle class="c20" cx="675.2" cy="335.3" r="3.1"/>
<circle class="c22" cx="594.7" cy="341.7" r="3.1"/>
<circle class="c27" cx="489" cy="361.5" r="3.1"/>
<circle class="c19" cx="654.6" cy="332" r="3.1"/>
<circle class="c20" cx="607.6" cy="336.4" r="3.1"/>
<circle class="c21" cx="603" cy="338.9" r="3.1"/>
<circle class="c25" cx="554.1" cy="353.9" r="3.1"/>
<circle class="c24" cx="578.2" cy="348.8" r="3.1"/>
<circle class="c3" cx="648.2" cy="270.7" r="3.1"/>
<circle class="c27" cx="483.4" cy="361.1" r="3.1"/>
<circle class="c4" cx="649" cy="274.2" r="3.1"/>
<circle class="c18" cx="638.3" cy="327" r="3.1"/>
<circle class="c19" cx="620.4" cy="330" r="3.1"/>
<circle class="c19" cx="615.6" cy="332.7" r="3.1"/>
<circle class="c18" cx="643.6" cy="329.7" r="3.1"/>
<circle class="c18" cx="631.3" cy="326.2" r="3.1"/>
<circle class="c25" cx="539.6" cy="355.1" r="3.1"/>
<circle class="c4" cx="650.3" cy="276.5" r="3.1"/>
<circle class="c20" cx="661" cy="333.7" r="3.1"/>
<circle class="c20" cx="610.9" cy="335.4" r="3.1"/>
<circle class="c3" cx="648.8" cy="274" r="3.1"/>
<circle class="c20" cx="608.2" cy="335.8" r="3.1"/>
<circle class="c2" cx="645.8" cy="270.2" r="3.1"/>
<circle class="c27" cx="414.3" cy="361.7" r="3.1"/>
<circle class="c25" cx="559.6" cy="352.7" r="3.1"/>
<circle class="c18" cx="646" cy="329.5" r="3.1"/>
<circle class="c25" cx="551.1" cy="353.5" r="3.1"/>
<circle class="c6" cx="655.2" cy="283.4" r="3.1"/>
<circle class="c17" cx="675.6" cy="324.4" r="3.1"/>
<circle class="c20" cx="673.9" cy="335.2" r="3.1"/>
<circle class="c19" cx="617" cy="332.7" r="3.1"/>
<circle class="c19" cx="620.1" cy="330.7" r="3.1"/>
<circle class="c17" cx="636.2" cy="325.7" r="3.1"/>
<circle class="c27" cx="471.6" cy="361.5" r="3.1"/>
<circle class="c19" cx="614.2" cy="333.2" r="3.1"/>
<circle class="c18" cx="623.9" cy="329.2" r="3.1"/>
<circle class="c8" cx="660.1" cy="291.6" r="3.1"/>
<circle class="c20" cx="671.8" cy="334.9" r="3.1"/>
<circle class="c18" cx="637.6" cy="327.2" r="3.1"/>
<circle class="c11" cx="664.9" cy="301.3" r="3.1"/>
<circle class="c26" cx="519.9" cy="359.2" r="3.1"/>
<circle class="c3" cx="649.1" cy="272.7" r="3.1"/>
<circle class="c5" cx="653.4" cy="280.7" r="3.1"/>
<circle class="c4" cx="651.2" cy="276.2" r="3.1"/>
<circle class="c25" cx="561.6" cy="352.6" r="3.1"/>
<circle class="c18" cx="626.9" cy="327.7" r="3.1"/>
<circle class="c21" cx="597.9" cy="340.6" r="3.1"/>
<circle class="c18" cx="633.7" cy="326.2" r="3.1"/>
<circle class="c22" cx="595.7" cy="341.4" r="3.1"/>
<circle class="c24" cx="570.6" cy="350.1" r="3.1"/>
<circle class="c18" cx="627.5" cy="327.6" r="3.1"/>
<circle class="c9" cx="661.6" cy="294.7" r="3.1"/>
<circle class="c18" cx="624.6" cy="329.4" r="3.1"/>
<circle class="c5" cx="653.8" cy="281" r="3.1"/>
<circle class="c19" cx="650.7" cy="330.9" r="3.1"/>
<circle class="c20" cx="677.9" cy="335.8" r="3.1"/>
<circle class="c7" cx="658.1" cy="288.3" r="3.1"/>
<circle class="c19" cx="615.6" cy="332.7" r="3.1"/>
<circle class="c8" cx="658.2" cy="289.2" r="3.1"/>
<circle class="c19" cx="620.1" cy="330.6" r="3.1"/>
<circle class="c24" cx="566.5" cy="351.1" r="3.1"/>
<circle class="c19" cx="621.4" cy="330" r="3.1"/>
<circle class="c18" cx="647.5" cy="329.5" r="3.1"/>
<circle class="c18" cx="643" cy="329.2" r="3.1"/>
<circle class="c7" cx="656.7" cy="286.6" r="3.1"/>
<circle class="c18" cx="623.7" cy="329.1" r="3.1"/>
<circle class="c18" cx="630.1" cy="327.6" r="3.1"/>
<circle class="c20" cx="679.5" cy="333.9" r="3.1"/>
<circle class="c4" cx="651" cy="275.3" r="3.1"/>
<circle class="c19" cx="649.4" cy="330.5" r="3.1"/>
<circle class="c25" cx="563.7" cy="352.3" r="3.1"/>
<circle class="c26" cx="536.1" cy="356.8" r="3.1"/>
<circle class="c20" cx="609.9" cy="335.2" r="3.1"/>
<circle class="c3" cx="648.8" cy="273.4" r="3.1"/>
<circle class="c18" cx="626.6" cy="327.4" r="3.1"/>
<circle class="c19" cx="618.7" cy="331.7" r="3.1"/>
<circle class="c18" cx="634.2" cy="326.5" r="3.1"/>
<circle class="c24" cx="573.5" cy="350.5" r="3.1"/>
<circle class="c17" cx="638.1" cy="326" r="3.1"/>
<circle class="c19" cx="621" cy="330.1" r="3.1"/>
<circle class="c19" cx="616.2" cy="332.5" r="3.1"/>
<circle class="c4" cx="652" cy="277" r="3.1"/>
<circle class="c19" cx="653.8" cy="331.5" r="3.1"/>
<circle class="c18" cx="624.7" cy="329.7" r="3.1"/>
<circle class="c18" cx="622.8" cy="329.3" r="3.1"/>
<circle class="c19" cx="614.3" cy="333.6" r="3.1"/>
<circle class="c21" cx="603.7" cy="338.3" r="3.1"/>
<circle class="c21" cx="600" cy="340.5" r="3.1"/>
<circle class="c18" cx="637.2" cy="327" r="3.1"/>
<circle class="c19" cx="677.1" cy="330.1" r="3.1"/>
<circle class="c21" cx="598.1" cy="340.5" r="3.1"/>
<circle class="c20" cx="607" cy="336.9" r="3.1"/>
<circle class="c26" cx="524.5" cy="357.4" r="3.1"/>
<circle class="c6" cx="655" cy="283.8" r="3.1"/>
<circle class="c18" cx="623.7" cy="329.2" r="3.1"/>
<circle class="c14" cx="670.5" cy="313.8" r="3.1"/>
<circle class="c24" cx="569" cy="350.4" r="3.1"/>
<circle class="c18" cx="622.1" cy="329.8" r="3.1"/>
<circle class="c26" cx="532.8" cy="357.1" r="3.1"/>
<circle class="c18" cx="629" cy="327" r="3.1"/>
<circle class="c18" cx="627.1" cy="328.8" r="3.1"/>
<circle class="c20" cx="664" cy="334.8" r="3.1"/>
<circle class="c18" cx="626.5" cy="328.4" r="3.1"/>
<circle class="c17" cx="630.4" cy="326.2" r="3.1"/>
<circle class="c10" cx="663.9" cy="297.5" r="3.1"/>
<circle class="c15" cx="673.6" cy="317.6" r="3.1"/>
<circle class="c18" cx="627.8" cy="328" r="3.1"/>
<circle class="c20" cx="606.9" cy="337.3" r="3.1"/>
<circle class="c19" cx="647.7" cy="330.3" r="3.1"/>
<circle class="c18" cx="623.4" cy="329.8" r="3.1"/>
<circle class="c20" cx="608.3" cy="336.8" r="3.1"/>
<circle class="c19" cx="621.4" cy="330.8" r="3.1"/>
<circle class="c26" cx="528.7" cy="357.6" r="3.1"/>
<circle class="c20" cx="661.7" cy="334.3" r="3.1"/>
<circle class="c20" cx="608.4" cy="336.4" r="3.1"/>
<circle class="c25" cx="557.8" cy="353.2" r="3.1"/>
<circle class="c8" cx="659.6" cy="290.6" r="3.1"/>
<circle class="c19" cx="618.8" cy="332.1" r="3.1"/>
<circle class="c18" cx="632.2" cy="326.9" r="3.1"/>
<circle class="c16" cx="674.9" cy="322.4" r="3.1"/>
<circle class="c18" cx="640" cy="326.6" r="3.1"/>
<circle class="c18" cx="626.1" cy="328.4" r="3.1"/>
<circle class="c24" cx="573" cy="349" r="3.1"/>
<circle class="c18" cx="635.8" cy="326.7" r="3.1"/>
<circle class="c3" cx="649.1" cy="272" r="3.1"/>
<circle class="c25" cx="538.9" cy="356" r="3.1"/>
<circle class="c18" cx="632.2" cy="327.1" r="3.1"/>
<circle class="c5" cx="652.2" cy="278.2" r="3.1"/>
<circle class="c18" cx="641" cy="328.1" r="3.1"/>
<circle class="c18" cx="627.5" cy="328.3" r="3.1"/>
<circle class="c18" cx="628.2" cy="328.2" r="3.1"/>
<circle class="c18" cx="624.6" cy="329.8" r="3.1"/>
<circle class="c20" cx="609.9" cy="336.4" r="3.1"/>
<circle class="c3" cx="649.2" cy="272.5" r="3.1"/>
<circle class="c21" cx="600.8" cy="340.2" r="3.1"/>
<circle class="c6" cx="655" cy="282" r="3.1"/>
<circle class="c19" cx="655.7" cy="332.8" r="3.1"/>
<circle class="c25" cx="548" cy="355" r="3.1"/>
<circle class="c19" cx="658.8" cy="333.5" r="3.1"/>
<circle class="c17" cx="631.8" cy="326.4" r="3.1"/>
<circle class="c20" cx="614.1" cy="334.1" r="3.1"/>
<circle class="c19" cx="616.7" cy="332.8" r="3.1"/>
<circle class="c18" cx="634.4" cy="327.5" r="3.1"/>
<circle class="c22" cx="596.6" cy="342.3" r="3.1"/>
<circle class="c4" cx="651.9" cy="277.5" r="3.1"/>
<circle class="c25" cx="550.8" cy="354.7" r="3.1"/>
<circle class="c18" cx="640.2" cy="328.4" r="3.1"/>
<circle class="c23" cx="584.3" cy="346.8" r="3.1"/>
<circle class="c19" cx="620.7" cy="331.4" r="3.1"/>
<circle class="c23" cx="588.1" cy="345.3" r="3.1"/>
<circle class="c18" cx="623" cy="329.4" r="3.1"/>
<circle class="c19" cx="614.9" cy="333.2" r="3.1"/>
<circle class="c4" cx="650.9" cy="274.9" r="3.1"/>
<circle class="c18" cx="639.8" cy="328.9" r="3.1"/>
<circle class="c4" cx="651.2" cy="274.9" r="3.1"/>
<circle class="c19" cx="619.7" cy="331.6" r="3.1"/>
<circle class="c24" cx="568.5" cy="351.4" r="3.1"/>
<circle class="c21" cx="599.6" cy="340.5" r="3.1"/>
<circle class="c22" cx="593.6" cy="342.7" r="3.1"/>
<circle class="c25" cx="541.4" cy="355.6" r="3.1"/>
<circle class="c25" cx="545.1" cy="354.7" r="3.1"/>
<circle class="c18" cx="622.4" cy="330.2" r="3.1"/>
<circle class="c7" cx="658.8" cy="287.8" r="3.1"/>
<circle class="c18" cx="629.8" cy="328.1" r="3.1"/>
<circle class="c23" cx="582.3" cy="347.7" r="3.1"/>
<circle class="c9" cx="661.9" cy="294.3" r="3.1"/>
<circle class="c3" cx="650.5" cy="273.7" r="3.1"/>
<circle class="c18" cx="622.7" cy="329.8" r="3.1"/>
<circle class="c19" cx="614.1" cy="334" r="3.1"/>
<circle class="c23" cx="581.6" cy="348.4" r="3.1"/>
<circle class="c24" cx="567.3" cy="352.3" r="3.1"/>
<circle class="c18" cx="625.8" cy="329.2" r="3.1"/>
<circle class="c19" cx="618" cy="332.1" r="3.1"/>
<circle class="c4" cx="652.4" cy="276.4" r="3.1"/>
<circle class="c18" cx="630.5" cy="328.1" r="3.1"/>
<circle class="c13" cx="669.4" cy="308.5" r="3.1"/>
<circle class="c21" cx="601.2" cy="340.3" r="3.1"/>
<circle class="c25" cx="556.1" cy="352.9" r="3.1"/>
<circle class="c18" cx="635.3" cy="327.6" r="3.1"/>
<circle class="c5" cx="653.2" cy="280.2" r="3.1"/>
<circle class="c18" cx="639" cy="328.2" r="3.1"/>
<circle class="c20" cx="612.4" cy="335.3" r="3.1"/>
<circle class="c6" cx="655.6" cy="283" r="3.1"/>
<circle class="c19" cx="617.8" cy="332.1" r="3.1"/>
<circle class="c21" cx="605.9" cy="339" r="3.1"/>
<circle class="c19" cx="616.8" cy="333.3" r="3.1"/>
<circle class="c23" cx="588.9" cy="345.8" r="3.1"/>
<circle class="c18" cx="642.2" cy="328.7" r="3.1"/>
<circle class="c21" cx="604.2" cy="340" r="3.1"/>
<circle class="c7" cx="658.9" cy="287.1" r="3.1"/>
<circle class="c23" cx="585.7" cy="346.7" r="3.1"/>
<circle class="c18" cx="631.2" cy="327.4" r="3.1"/>
<circle class="c19" cx="618" cy="333.1" r="3.1"/>
<circle class="c19" cx="616.1" cy="333.9" r="3.1"/>
<circle class="c23" cx="579.8" cy="347.9" r="3.1"/>
<circle class="c20" cx="612.7" cy="334.9" r="3.1"/>
<circle class="c10" cx="665.5" cy="300.2" r="3.1"/>
<circle class="c19" cx="620.6" cy="331.5" r="3.1"/>
<circle class="c21" cx="605.7" cy="338.6" r="3.1"/>
<circle class="c18" cx="644.9" cy="330.4" r="3.1"/>
<circle class="c19" cx="613.1" cy="334.1" r="3.1"/>
<circle class="c7" cx="659.9" cy="289.2" r="3.1"/>
<circle class="c19" cx="657.3" cy="333.3" r="3.1"/>
<circle class="c7" cx="659" cy="287.3" r="3.1"/>
<circle class="c23" cx="587.9" cy="346.6" r="3.1"/>
<circle class="c18" cx="626.5" cy="329.2" r="3.1"/>
<circle class="c6" cx="657.1" cy="285.2" r="3.1"/>
<circle class="c19" cx="622.4" cy="330.9" r="3.1"/>
<circle class="c19" cx="623.8" cy="330.6" r="3.1"/>
<circle class="c14" cx="670.7" cy="312.4" r="3.1"/>
<circle class="c22" cx="594.3" cy="342.6" r="3.1"/>
<circle class="c25" cx="561.8" cy="353" r="3.1"/>
<circle class="c19" cx="619.5" cy="331.5" r="3.1"/>
<circle class="c18" cx="629.4" cy="328.8" r="3.1"/>
<circle class="c19" cx="623.7" cy="330.6" r="3.1"/>
<circle class="c20" cx="611.1" cy="335.8" r="3.1"/>
<circle class="c20" cx="611.6" cy="336" r="3.1"/>
<circle class="c18" cx="627.1" cy="328.9" r="3.1"/>
<circle class="c24" cx="563.9" cy="352" r="3.1"/>
<circle class="c24" cx="577.2" cy="349.4" r="3.1"/>
<circle class="c23" cx="575.4" cy="349" r="3.1"/>
<circle class="c9" cx="663.9" cy="296.3" r="3.1"/>
<circle class="c19" cx="614.5" cy="333.8" r="3.1"/>
<circle class="c18" cx="636.1" cy="327.1" r="3.1"/>
<circle class="c19" cx="616.1" cy="333.5" r="3.1"/>
<circle class="c5" cx="653.7" cy="278.9" r="3.1"/>
<circle class="c12" cx="667.8" cy="305.1" r="3.1"/>
<circle class="c19" cx="623.6" cy="330.6" r="3.1"/>
<circle class="c18" cx="633.4" cy="327.9" r="3.1"/>
<circle class="c21" cx="603.4" cy="340.3" r="3.1"/>
<circle class="c11" cx="667.4" cy="304.1" r="3.1"/>
<circle class="c20" cx="609.9" cy="336.5" r="3.1"/>
<circle class="c10" cx="665.7" cy="299.4" r="3.1"/>
<circle class="c18" cx="638.2" cy="327.8" r="3.1"/>
<circle class="c19" cx="621.8" cy="331.1" r="3.1"/>
<circle class="c19" cx="649.4" cy="332.3" r="3.1"/>
<circle class="c22" cx="596.3" cy="343" r="3.1"/>
<circle class="c4" cx="652.2" cy="276.4" r="3.1"/>
<circle class="c19" cx="617.6" cy="333.3" r="3.1"/>
<circle class="c18" cx="629.3" cy="328.6" r="3.1"/>
<circle class="c18" cx="642.4" cy="330.3" r="3.1"/>
<circle class="c20" cx="611.9" cy="335.6" r="3.1"/>
<circle class="c18" cx="678" cy="327.7" r="3.1"/>
<circle class="c25" cx="552.9" cy="354" r="3.1"/>
<circle class="c18" cx="632.8" cy="328.2" r="3.1"/>
<circle class="c18" cx="624.9" cy="330.3" r="3.1"/>
<circle class="c19" cx="619.3" cy="332.1" r="3.1"/>
<circle class="c24" cx="575.9" cy="349.7" r="3.1"/>
<circle class="c23" cx="579.7" cy="348.8" r="3.1"/>
<circle class="c6" cx="656.8" cy="284.9" r="3.1"/>
<circle class="c18" cx="627.2" cy="329.7" r="3.1"/>
<circle class="c18" cx="636.4" cy="328.2" r="3.1"/>
<circle class="c23" cx="586" cy="346.8" r="3.1"/>
<circle class="c18" cx="643.8" cy="330.1" r="3.1"/>
<circle class="c3" cx="648.9" cy="271.2" r="3.1"/>
<circle class="c18" cx="639.4" cy="328.6" r="3.1"/>
<circle class="c21" cx="602.9" cy="339.9" r="3.1"/>
<circle class="c19" cx="617.8" cy="333.3" r="3.1"/>
<circle class="c19" cx="648.4" cy="332.2" r="3.1"/>
<circle class="c19" cx="619.6" cy="332.8" r="3.1"/>
<circle class="c19" cx="619.9" cy="332.4" r="3.1"/>
<circle class="c18" cx="625.6" cy="330.1" r="3.1"/>
<circle class="c20" cx="614.1" cy="335.6" r="3.1"/>
<circle class="c19" cx="620.6" cy="331.5" r="3.1"/>
<circle class="c20" cx="611.6" cy="336" r="3.1"/>
<circle class="c6" cx="657.3" cy="284.8" r="3.1"/>
<circle class="c22" cx="592.8" cy="344.4" r="3.1"/>
<circle class="c18" cx="637.9" cy="329" r="3.1"/>
<circle class="c18" cx="645.9" cy="330.4" r="3.1"/>
<circle class="c20" cx="658.6" cy="334.9" r="3.1"/>
<circle class="c2" cx="650.1" cy="270.7" r="3.1"/>
<circle class="c20" cx="613.1" cy="334.7" r="3.1"/>
<circle class="c19" cx="615.3" cy="334.4" r="3.1"/>
<circle class="c18" cx="640.9" cy="330.3" r="3.1"/>
<circle class="c19" cx="621.6" cy="331.5" r="3.1"/>
<circle class="c18" cx="635.8" cy="329.3" r="3.1"/>
<circle class="c3" cx="650.7" cy="274.3" r="3.1"/>
<circle class="c20" cx="612.7" cy="336.2" r="3.1"/>
<circle class="c3" cx="649.3" cy="271.7" r="3.1"/>
<circle class="c19" cx="653.8" cy="333.2" r="3.1"/>
<circle class="c21" cx="604.3" cy="339.3" r="3.1"/>
<circle class="c19" cx="645.8" cy="331.1" r="3.1"/>
<circle class="c20" cx="608.2" cy="337.8" r="3.1"/>
<circle class="c20" cx="613.9" cy="335.1" r="3.1"/>
<circle class="c2" cx="647.7" cy="269.6" r="3.1"/>
<circle class="c19" cx="622.1" cy="331.6" r="3.1"/>
<circle class="c18" cx="624.5" cy="330.8" r="3.1"/>
<circle class="c4" cx="653.9" cy="278.6" r="3.1"/>
<circle class="c4" cx="652" cy="276" r="3.1"/>
<circle class="c18" cx="625.2" cy="330.6" r="3.1"/>
<circle class="c19" cx="619.6" cy="332.3" r="3.1"/>
<circle class="c15" cx="673.3" cy="316.2" r="3.1"/>
<circle class="c18" cx="628.3" cy="329.6" r="3.1"/>
<circle class="c22" cx="591" cy="345.4" r="3.1"/>
<circle class="c19" cx="621.7" cy="331.7" r="3.1"/>
<circle class="c26" cx="413.9" cy="357.8" r="3.1"/>
<circle class="c19" cx="651.5" cy="331.8" r="3.1"/>
<circle class="c19" cx="622.6" cy="331" r="3.1"/>
<circle class="c20" cx="668.3" cy="336.2" r="3.1"/>
<circle class="c20" cx="609.6" cy="337.6" r="3.1"/>
<circle class="c21" cx="607.3" cy="339" r="3.1"/>
<circle class="c20" cx="609.5" cy="337.1" r="3.1"/>
<circle class="c18" cx="630.1" cy="328.5" r="3.1"/>
<circle class="c16" cx="675.3" cy="321.5" r="3.1"/>
<circle class="c18" cx="635.9" cy="329.1" r="3.1"/>
<circle class="c19" cx="622" cy="331.4" r="3.1"/>
<circle class="c18" cx="625.7" cy="329.6" r="3.1"/>
<circle class="c5" cx="655.3" cy="280.6" r="3.1"/>
<circle class="c21" cx="607.2" cy="338.4" r="3.1"/>
<circle class="c23" cx="584.2" cy="347.1" r="3.1"/>
<circle class="c5" cx="655.6" cy="281.4" r="3.1"/>
<circle class="c20" cx="671.9" cy="337.3" r="3.1"/>
<circle class="c2" cx="647.9" cy="271.1" r="3.1"/>
<circle class="c20" cx="613.4" cy="335.7" r="3.1"/>
<circle class="c5" cx="653.6" cy="279.2" r="3.1"/>
<circle class="c6" cx="657.3" cy="284" r="3.1"/>
<circle class="c22" cx="419.2" cy="345.3" r="3.1"/>
<circle class="c19" cx="616.2" cy="334.4" r="3.1"/>
<circle class="c19" cx="618.1" cy="333.8" r="3.1"/>
<circle class="c5" cx="654.5" cy="278.9" r="3.1"/>
<circle class="c19" cx="619.3" cy="332.9" r="3.1"/>
<circle class="c20" cx="660.7" cy="335.3" r="3.1"/>
<circle class="c9" cx="664.1" cy="295.2" r="3.1"/>
<circle class="c19" cx="618.4" cy="333.4" r="3.1"/>
<circle class="c20" cx="615.1" cy="335.2" r="3.1"/>
<circle class="c7" cx="660" cy="288.6" r="3.1"/>
<circle class="c18" cx="636.8" cy="329.4" r="3.1"/>
<circle class="c24" cx="571.9" cy="351" r="3.1"/>
<circle class="c22" cx="591.7" cy="344.2" r="3.1"/>
<circle class="c21" cx="601.3" cy="341.2" r="3.1"/>
<circle class="c19" cx="652.5" cy="332.3" r="3.1"/>
<circle class="c5" cx="655.6" cy="281.4" r="3.1"/>
<circle class="c18" cx="633.1" cy="329.1" r="3.1"/>
<circle class="c20" cx="609.3" cy="337.6" r="3.1"/>
<circle class="c20" cx="663.8" cy="336" r="3.1"/>
<circle class="c20" cx="676.3" cy="336.8" r="3.1"/>
<circle class="c18" cx="634.9" cy="329.4" r="3.1"/>
<circle class="c19" cx="646.4" cy="331.3" r="3.1"/>
<circle class="c3" cx="652.6" cy="274.7" r="3.1"/>
<circle class="c2" cx="649.4" cy="270.6" r="3.1"/>
<circle class="c22" cx="589.3" cy="345.5" r="3.1"/>
<circle class="c19" cx="619.7" cy="332.7" r="3.1"/>
<circle class="c7" cx="660" cy="287.8" r="3.1"/>
<circle class="c22" cx="598.4" cy="342.3" r="3.1"/>
<circle class="c18" cx="630.1" cy="329.1" r="3.1"/>
<circle class="c20" cx="662.8" cy="336" r="3.1"/>
<circle class="c18" cx="625.7" cy="330.5" r="3.1"/>
<circle class="c20" cx="665.9" cy="336.1" r="3.1"/>
<circle class="c20" cx="611" cy="337.3" r="3.1"/>
<circle class="c19" cx="617.1" cy="334.6" r="3.1"/>
<circle class="c19" cx="621.8" cy="331.2" r="3.1"/>
<circle class="c3" cx="651.1" cy="274" r="3.1"/>
<circle class="c20" cx="612.7" cy="336.2" r="3.1"/>
<circle class="c19" cx="620.6" cy="331.5" r="3.1"/>
<circle class="c22" cx="594.3" cy="343.2" r="3.1"/>
<circle class="c18" cx="624.5" cy="329.9" r="3.1"/>
<circle class="c18" cx="625.5" cy="330.6" r="3.1"/>
<circle class="c21" cx="603.4" cy="340.5" r="3.1"/>
<circle class="c3" cx="651.3" cy="272.6" r="3.1"/>
<circle class="c21" cx="601.4" cy="341" r="3.1"/>
<circle class="c5" cx="655.8" cy="280.9" r="3.1"/>
<circle class="c18" cx="630.7" cy="328.8" r="3.1"/>
<circle class="c6" cx="658.4" cy="285.1" r="3.1"/>
<circle class="c20" cx="610.2" cy="338.1" r="3.1"/>
<circle class="c20" cx="670.1" cy="336.6" r="3.1"/>
<circle class="c21" cx="605.7" cy="339.4" r="3.1"/>
<circle class="c13" cx="671.1" cy="310.6" r="3.1"/>
<circle class="c17" cx="676.9" cy="325.8" r="3.1"/>
<circle class="c12" cx="669" cy="307.2" r="3.1"/>
<circle class="c20" cx="678.2" cy="337.7" r="3.1"/>
<circle class="c20" cx="614.5" cy="335.6" r="3.1"/>
<circle class="c19" cx="623.8" cy="331.2" r="3.1"/>
<circle class="c8" cx="661.7" cy="292.1" r="3.1"/>
<circle class="c18" cx="626.3" cy="330.4" r="3.1"/>
<circle class="c12" cx="669.7" cy="305.3" r="3.1"/>
<circle class="c19" cx="624.1" cy="331.6" r="3.1"/>
<circle class="c18" cx="627.1" cy="329.6" r="3.1"/>
<circle class="c19" cx="620.2" cy="332.8" r="3.1"/>
<circle class="c19" cx="619" cy="334" r="3.1"/>
<circle class="c19" cx="620" cy="332.7" r="3.1"/>
<circle class="c20" cx="617.1" cy="335" r="3.1"/>
<circle class="c7" cx="660.7" cy="288" r="3.1"/>
<circle class="c20" cx="609.3" cy="337.6" r="3.1"/>
<circle class="c8" cx="661.7" cy="291.8" r="3.1"/>
<circle class="c18" cx="637.8" cy="329" r="3.1"/>
<circle class="c19" cx="623.9" cy="331.3" r="3.1"/>
<circle class="c19" cx="620.8" cy="332.2" r="3.1"/>
<circle class="c15" cx="675.6" cy="319.2" r="3.1"/>
<circle class="c18" cx="633.9" cy="329" r="3.1"/>
<circle class="c20" cx="614.8" cy="335.6" r="3.1"/>
<circle class="c19" cx="621.9" cy="332.2" r="3.1"/>
<circle class="c21" cx="604.1" cy="340.1" r="3.1"/>
<circle class="c19" cx="657.7" cy="334.3" r="3.1"/>
<circle class="c21" cx="606.3" cy="340" r="3.1"/>
<circle class="c11" cx="667.7" cy="303.1" r="3.1"/>
<circle class="c19" cx="623.5" cy="331.2" r="3.1"/>
<circle class="c5" cx="656.8" cy="281.4" r="3.1"/>
<circle class="c8" cx="662" cy="293.1" r="3.1"/>
<circle class="c19" cx="622.2" cy="331.8" r="3.1"/>
<circle class="c19" cx="618.8" cy="333.5" r="3.1"/>
<circle class="c22" cx="593.4" cy="344.4" r="3.1"/>
<circle class="c18" cx="634.5" cy="329.2" r="3.1"/>
<circle class="c19" cx="614.6" cy="334.9" r="3.1"/>
<circle class="c18" cx="630.7" cy="329.2" r="3.1"/>
<circle class="c10" cx="665.5" cy="298" r="3.1"/>
<circle class="c19" cx="619" cy="333.9" r="3.1"/>
<circle class="c20" cx="679.8" cy="338.1" r="3.1"/>
<circle class="c9" cx="663.9" cy="294.2" r="3.1"/>
<circle class="c21" cx="599.8" cy="341.6" r="3.1"/>
<circle class="c18" cx="638.4" cy="329.3" r="3.1"/>
<circle class="c19" cx="624" cy="331.2" r="3.1"/>
<circle class="c20" cx="674.5" cy="336.6" r="3.1"/>
<circle class="c19" cx="654.8" cy="334.2" r="3.1"/>
<circle class="c2" cx="650" cy="270.8" r="3.1"/>
<circle class="c19" cx="619.9" cy="333" r="3.1"/>
<circle class="c21" cx="602.7" cy="341.4" r="3.1"/>
<circle class="c5" cx="656.1" cy="280.2" r="3.1"/>
<circle class="c20" cx="611.2" cy="337.3" r="3.1"/>
<circle class="c19" cx="621.5" cy="332.2" r="3.1"/>
<circle class="c20" cx="608.1" cy="338.4" r="3.1"/>
<circle class="c20" cx="614.4" cy="336.5" r="3.1"/>
<circle class="c6" cx="658.6" cy="285.9" r="3.1"/>
<circle class="c19" cx="643.3" cy="331.6" r="3.1"/>
<circle class="c18" cx="631" cy="328.7" r="3.1"/>
<circle class="c18" cx="630.4" cy="329.3" r="3.1"/>
<circle class="c6" cx="658.8" cy="286.3" r="3.1"/>
<circle class="c22" cx="597.8" cy="343.2" r="3.1"/>
<circle class="c19" cx="621" cy="332.2" r="3.1"/>
<circle class="c22" cx="596.7" cy="343.8" r="3.1"/>
<circle class="c18" cx="625.7" cy="331" r="3.1"/>
<circle class="c18" cx="635.9" cy="330.2" r="3.1"/>
<circle class="c18" cx="643" cy="330.2" r="3.1"/>
<circle class="c18" cx="639.7" cy="329.9" r="3.1"/>
<circle class="c19" cx="652.7" cy="333.2" r="3.1"/>
<circle class="c20" cx="615.1" cy="336.1" r="3.1"/>
<circle class="c19" cx="624.5" cy="331.7" r="3.1"/>
<circle class="c4" cx="654.5" cy="278" r="3.1"/>
<circle class="c18" cx="628.1" cy="330.5" r="3.1"/>
<circle class="c20" cx="615.2" cy="336" r="3.1"/>
<circle class="c18" cx="629.5" cy="328.8" r="3.1"/>
<circle class="c21" cx="599.8" cy="342.2" r="3.1"/>
<circle class="c22" cx="594.8" cy="344" r="3.1"/>
<circle class="c19" cx="655.1" cy="334.3" r="3.1"/>
<circle class="c3" cx="651.4" cy="272.3" r="3.1"/>
<circle class="c18" cx="630.3" cy="330.3" r="3.1"/>
<circle class="c21" cx="604.4" cy="340.4" r="3.1"/>
<circle class="c3" cx="652.5" cy="275.4" r="3.1"/>
<circle class="c4" cx="654.9" cy="278.1" r="3.1"/>
<circle class="c19" cx="646.4" cy="332.9" r="3.1"/>
<circle class="c18" cx="629.5" cy="329.8" r="3.1"/>
<circle class="c6" cx="658.5" cy="284.6" r="3.1"/>
<circle class="c20" cx="681.3" cy="337.8" r="3.1"/>
<circle class="c18" cx="625.2" cy="331.4" r="3.1"/>
<circle class="c20" cx="607.6" cy="338.8" r="3.1"/>
<circle class="c19" cx="617.8" cy="334.7" r="3.1"/>
<circle class="c18" cx="623.8" cy="331.1" r="3.1"/>
<circle class="c19" cx="620.4" cy="333.3" r="3.1"/>
<circle class="c20" cx="614.4" cy="335.8" r="3.1"/>
<circle class="c3" cx="653" cy="274" r="3.1"/>
<circle class="c4" cx="654.1" cy="276.4" r="3.1"/>
<circle class="c5" cx="657.4" cy="281.5" r="3.1"/>
<circle class="c21" cx="608.8" cy="339" r="3.1"/>
<circle class="c3" cx="652.3" cy="275.2" r="3.1"/>
<circle class="c18" cx="626.7" cy="330.9" r="3.1"/>
<circle class="c14" cx="673.6" cy="315.4" r="3.1"/>
<circle class="c18" cx="634.3" cy="330.2" r="3.1"/>
<circle class="c18" cx="627.2" cy="330.7" r="3.1"/>
<circle class="c5" cx="656.9" cy="280.7" r="3.1"/>
<circle class="c3" cx="651" cy="273.1" r="3.1"/>
<circle class="c19" cx="621.8" cy="332.5" r="3.1"/>
<circle class="c19" cx="651.4" cy="333.9" r="3.1"/>
<circle class="c20" cx="611.9" cy="336.9" r="3.1"/>
<circle class="c9" cx="665.2" cy="297.5" r="3.1"/>
<circle class="c19" cx="620.2" cy="333.2" r="3.1"/>
<circle class="c19" cx="620.1" cy="334.1" r="3.1"/>
<circle class="c18" cx="632.9" cy="330.4" r="3.1"/>
<circle class="c19" cx="649.4" cy="333.6" r="3.1"/>
<circle class="c18" cx="639.6" cy="330.4" r="3.1"/>
<circle class="c19" cx="644.8" cy="331.7" r="3.1"/>
<circle class="c10" cx="667.5" cy="301.1" r="3.1"/>
<circle class="c4" cx="653.9" cy="276.5" r="3.1"/>
<circle class="c20" cx="657.3" cy="335.5" r="3.1"/>
<circle class="c19" cx="679.9" cy="331.8" r="3.1"/>
<circle class="c3" cx="651.4" cy="272.1" r="3.1"/>
<circle class="c20" cx="612" cy="337.7" r="3.1"/>
<circle class="c5" cx="655.7" cy="280" r="3.1"/>
<circle class="c21" cx="419.1" cy="340.8" r="3.1"/>
<circle class="c21" cx="604" cy="342" r="3.1"/>
<circle class="c7" cx="659.9" cy="286.9" r="3.1"/>
<circle class="c22" cx="595.4" cy="345.1" r="3.1"/>
<circle class="c19" cx="625.8" cy="331.6" r="3.1"/>
<circle class="c2" cx="651.9" cy="270.6" r="3.1"/>
<circle class="c19" cx="642.1" cy="332.1" r="3.1"/>
<circle class="c19" cx="621.4" cy="332.9" r="3.1"/>
<circle class="c19" cx="644.3" cy="331.9" r="3.1"/>
<circle class="c20" cx="613.7" cy="336.9" r="3.1"/>
<circle class="c19" cx="621.6" cy="332.7" r="3.1"/>
<circle class="c19" cx="618.7" cy="334.1" r="3.1"/>
<circle class="c17" cx="677.5" cy="324.3" r="3.1"/>
<circle class="c5" cx="656.1" cy="279.9" r="3.1"/>
<circle class="c19" cx="620.3" cy="333.9" r="3.1"/>
<circle class="c5" cx="657.7" cy="283.2" r="3.1"/>
<circle class="c20" cx="613.8" cy="336.7" r="3.1"/>
<circle class="c3" cx="653.1" cy="274.7" r="3.1"/>
<circle class="c8" cx="664" cy="293.9" r="3.1"/>
<circle class="c18" cx="679.7" cy="329.4" r="3.1"/>
<circle class="c20" cx="652.8" cy="335.5" r="3.1"/>
<circle class="c19" cx="622.4" cy="332.5" r="3.1"/>
<circle class="c3" cx="653" cy="273.5" r="3.1"/>
<circle class="c19" cx="621.9" cy="332.4" r="3.1"/>
<circle class="c6" cx="658.7" cy="284.6" r="3.1"/>
<circle class="c19" cx="648.9" cy="333" r="3.1"/>
<circle class="c20" cx="613.2" cy="337.5" r="3.1"/>
<circle class="c6" cx="659.5" cy="284.3" r="3.1"/>
<circle class="c19" cx="617.4" cy="335.1" r="3.1"/>
<circle class="c18" cx="631.3" cy="330.3" r="3.1"/>
<circle class="c19" cx="649.5" cy="334.1" r="3.1"/>
<circle class="c4" cx="656" cy="278.4" r="3.1"/>
<circle class="c19" cx="624.5" cy="332.7" r="3.1"/>
<circle class="c18" cx="629.7" cy="330.6" r="3.1"/>
<circle class="c4" cx="654.9" cy="276.4" r="3.1"/>
<circle class="c3" cx="652.9" cy="272.4" r="3.1"/>
<circle class="c18" cx="625.7" cy="331.3" r="3.1"/>
<circle class="c18" cx="629.2" cy="330.7" r="3.1"/>
<circle class="c18" cx="630.4" cy="330.9" r="3.1"/>
<circle class="c22" cx="599.1" cy="343.9" r="3.1"/>
<circle class="c18" cx="631.3" cy="330.7" r="3.1"/>
<circle class="c23" cx="584.2" cy="348.9" r="3.1"/>
<circle class="c18" cx="634.4" cy="330.2" r="3.1"/>
<circle class="c19" cx="621.6" cy="332.6" r="3.1"/>
<circle class="c20" cx="610.1" cy="338.7" r="3.1"/>
<circle class="c21" cx="604.8" cy="341.5" r="3.1"/>
<circle class="c18" cx="632.8" cy="331.3" r="3.1"/>
<circle class="c19" cx="622.8" cy="332.7" r="3.1"/>
<circle class="c18" cx="636.3" cy="331" r="3.1"/>
<circle class="c19" cx="623" cy="332.4" r="3.1"/>
<circle class="c18" cx="636.8" cy="330.2" r="3.1"/>
<circle class="c18" cx="630.1" cy="331.3" r="3.1"/>
<circle class="c18" cx="635.7" cy="330.9" r="3.1"/>
<circle class="c19" cx="618.2" cy="335.1" r="3.1"/>
<circle class="c14" cx="673.3" cy="313.2" r="3.1"/>
<circle class="c23" cx="588.1" cy="347.1" r="3.1"/>
<circle class="c19" cx="623.4" cy="332.5" r="3.1"/>
<circle class="c19" cx="623.3" cy="332" r="3.1"/>
<circle class="c4" cx="655.8" cy="279.2" r="3.1"/>
<circle class="c19" cx="622.2" cy="332.1" r="3.1"/>
<circle class="c22" cx="592.9" cy="346.2" r="3.1"/>
<circle class="c18" cx="627.8" cy="331.5" r="3.1"/>
<circle class="c19" cx="621.5" cy="333.3" r="3.1"/>
<circle class="c12" cx="671.4" cy="309.4" r="3.1"/>
<circle class="c19" cx="621.4" cy="333.2" r="3.1"/>
<circle class="c18" cx="633.6" cy="330.6" r="3.1"/>
<circle class="c19" cx="624" cy="332.7" r="3.1"/>
<circle class="c4" cx="654.4" cy="276.1" r="3.1"/>
<circle class="c22" cx="596.8" cy="343.7" r="3.1"/>
<circle class="c23" cx="590" cy="347.4" r="3.1"/>
<circle class="c18" cx="635.7" cy="331.1" r="3.1"/>
<circle class="c24" cx="569.6" cy="353.6" r="3.1"/>
<circle class="c18" cx="641" cy="331.5" r="3.1"/>
<circle class="c6" cx="660.6" cy="286.8" r="3.1"/>
<circle class="c3" cx="652.9" cy="272.9" r="3.1"/>
<circle class="c3" cx="654.5" cy="274.8" r="3.1"/>
<circle class="c18" cx="640.3" cy="331.6" r="3.1"/>
<circle class="c18" cx="641" cy="330.3" r="3.1"/>
<circle class="c20" cx="612.8" cy="337.1" r="3.1"/>
<circle class="c20" cx="611.5" cy="338.5" r="3.1"/>
<circle class="c8" cx="664.5" cy="293.1" r="3.1"/>
<circle class="c20" cx="665.9" cy="337.7" r="3.1"/>
<circle class="c21" cx="604.5" cy="341.2" r="3.1"/>
<circle class="c19" cx="618.9" cy="335.2" r="3.1"/>
<circle class="c18" cx="632.7" cy="331.6" r="3.1"/>
<circle class="c18" cx="629.4" cy="330.7" r="3.1"/>
<circle class="c20" cx="661.2" cy="336.5" r="3.1"/>
<circle class="c5" cx="657.6" cy="280.7" r="3.1"/>
<circle class="c23" cx="580.9" cy="350.2" r="3.1"/>
<circle class="c15" cx="675.3" cy="317.9" r="3.1"/>
<circle class="c23" cx="586.4" cy="349" r="3.1"/>
<circle class="c20" cx="611.7" cy="338.3" r="3.1"/>
<circle class="c20" cx="673.9" cy="339.3" r="3.1"/>
<circle class="c18" cx="626.7" cy="331.8" r="3.1"/>
<circle class="c21" cx="602.1" cy="342.6" r="3.1"/>
<circle class="c22" cx="597.7" cy="343.4" r="3.1"/>
<circle class="c19" cx="620.5" cy="334.4" r="3.1"/>
<circle class="c19" cx="622.3" cy="332.9" r="3.1"/>
<circle class="c19" cx="622.5" cy="333.5" r="3.1"/>
<circle class="c6" cx="661" cy="284.6" r="3.1"/>
<circle class="c19" cx="616.8" cy="335.2" r="3.1"/>
<circle class="c19" cx="622.7" cy="333.3" r="3.1"/>
<circle class="c20" cx="659.4" cy="336.8" r="3.1"/>
<circle class="c3" cx="654.5" cy="274.8" r="3.1"/>
<circle class="c19" cx="622" cy="333.8" r="3.1"/>
<circle class="c21" cx="606.1" cy="340.6" r="3.1"/>
<circle class="c18" cx="627.9" cy="331.2" r="3.1"/>
<circle class="c19" cx="617.5" cy="334.8" r="3.1"/>
<circle class="c19" cx="625.3" cy="332.7" r="3.1"/>
<circle class="c20" cx="610" cy="338.9" r="3.1"/>
<circle class="c22" cx="591.7" cy="346.4" r="3.1"/>
<circle class="c6" cx="661.4" cy="286.3" r="3.1"/>
<circle class="c21" cx="601.7" cy="342.8" r="3.1"/>
<circle class="c2" cx="651.5" cy="271.9" r="3.1"/>
<circle class="c11" cx="670" cy="305.5" r="3.1"/>
<circle class="c12" cx="671.4" cy="308.4" r="3.1"/>
<circle class="c7" cx="661.6" cy="290.2" r="3.1"/>
<circle class="c19" cx="682.4" cy="335.3" r="3.1"/>
<circle class="c20" cx="657.9" cy="335.9" r="3.1"/>
<circle class="c20" cx="617" cy="336.2" r="3.1"/>
<circle class="c20" cx="612" cy="338.7" r="3.1"/>
<circle class="c25" cx="566.7" cy="354.4" r="3.1"/>
<circle class="c22" cx="600" cy="344.3" r="3.1"/>
<circle class="c3" cx="655" cy="275.6" r="3.1"/>
<circle class="c7" cx="662.3" cy="289.8" r="3.1"/>
<circle class="c19" cx="652" cy="334.3" r="3.1"/>
<circle class="c18" cx="628.3" cy="331.6" r="3.1"/>
<circle class="c6" cx="658.3" cy="284" r="3.1"/>
<circle class="c19" cx="641.6" cy="332.5" r="3.1"/>
<circle class="c18" cx="636.7" cy="331.4" r="3.1"/>
<circle class="c19" cx="622.4" cy="333.3" r="3.1"/>
<circle class="c4" cx="655.9" cy="278" r="3.1"/>
<circle class="c10" cx="667.7" cy="300.3" r="3.1"/>
<circle class="c19" cx="627.1" cy="332.3" r="3.1"/>
<circle class="c24" cx="575.5" cy="352.6" r="3.1"/>
<circle class="c24" cx="578.3" cy="351.7" r="3.1"/>
<circle class="c20" cx="613.6" cy="337.1" r="3.1"/>
<circle class="c5" cx="657.4" cy="281.2" r="3.1"/>
<circle class="c19" cx="645.9" cy="333.7" r="3.1"/>
<circle class="c19" cx="623" cy="332.9" r="3.1"/>
<circle class="c19" cx="618" cy="335.6" r="3.1"/>
<circle class="c21" cx="606.2" cy="340.7" r="3.1"/>
<circle class="c22" cx="597.1" cy="344.2" r="3.1"/>
<circle class="c18" cx="629.4" cy="331.8" r="3.1"/>
<circle class="c19" cx="617.9" cy="335.3" r="3.1"/>
<circle class="c21" cx="607.2" cy="339.8" r="3.1"/>
<circle class="c4" cx="658.4" cy="279.8" r="3.1"/>
<circle class="c21" cx="608.4" cy="339.7" r="3.1"/>
<circle class="c18" cx="638.7" cy="331.9" r="3.1"/>
<circle class="c20" cx="668.3" cy="337.8" r="3.1"/>
<circle class="c19" cx="630.3" cy="332.1" r="3.1"/>
<circle class="c19" cx="624.4" cy="333.7" r="3.1"/>
<circle class="c20" cx="654.2" cy="336.1" r="3.1"/>
<circle class="c20" cx="613.2" cy="337.7" r="3.1"/>
<circle class="c19" cx="621.1" cy="333.8" r="3.1"/>
<circle class="c22" cx="594.7" cy="345.7" r="3.1"/>
<circle class="c4" cx="656.3" cy="277.3" r="3.1"/>
<circle class="c21" cx="603.4" cy="342.2" r="3.1"/>
<circle class="c20" cx="615.6" cy="336.2" r="3.1"/>
<circle class="c19" cx="623.8" cy="333.2" r="3.1"/>
<circle class="c19" cx="623.8" cy="333.5" r="3.1"/>
<circle class="c22" cx="600.3" cy="343.5" r="3.1"/>
<circle class="c21" cx="609.2" cy="340.3" r="3.1"/>
<circle class="c23" cx="582.8" cy="350" r="3.1"/>
<circle class="c4" cx="656.2" cy="277.5" r="3.1"/>
<circle class="c20" cx="617.1" cy="336" r="3.1"/>
<circle class="c13" cx="673.6" cy="312.1" r="3.1"/>
<circle class="c19" cx="626.7" cy="332.8" r="3.1"/>
<circle class="c20" cx="613.8" cy="337.7" r="3.1"/>
<circle class="c19" cx="620.5" cy="334.5" r="3.1"/>
<circle class="c19" cx="625.4" cy="333.6" r="3.1"/>
<circle class="c19" cx="643.3" cy="332.7" r="3.1"/>
<circle class="c19" cx="629.4" cy="332.3" r="3.1"/>
<circle class="c22" cx="593.3" cy="346" r="3.1"/>
<circle class="c19" cx="632.1" cy="332.2" r="3.1"/>
<circle class="c18" cx="632.1" cy="331.7" r="3.1"/>
<circle class="c19" cx="623.7" cy="333.7" r="3.1"/>
<circle class="c19" cx="639.7" cy="332.5" r="3.1"/>
<circle class="c20" cx="612.3" cy="339" r="3.1"/>
<circle class="c20" cx="664.9" cy="337.9" r="3.1"/>
<circle class="c6" cx="661.3" cy="285.3" r="3.1"/>
<circle class="c19" cx="646.2" cy="334.2" r="3.1"/>
<circle class="c2" cx="653.8" cy="272.4" r="3.1"/>
<circle class="c20" cx="617.5" cy="336.7" r="3.1"/>
<circle class="c24" cx="571.8" cy="352.5" r="3.1"/>
<circle class="c23" cx="582.6" cy="350.3" r="3.1"/>
<circle class="c21" cx="611.1" cy="339.8" r="3.1"/>
<circle class="c7" cx="661.9" cy="289.4" r="3.1"/>
<circle class="c19" cx="626.1" cy="333.5" r="3.1"/>
<circle class="c19" cx="620" cy="335.2" r="3.1"/>
<circle class="c16" cx="678.3" cy="323.4" r="3.1"/>
<circle class="c21" cx="607.4" cy="340.5" r="3.1"/>
<circle class="c19" cx="621.1" cy="334.3" r="3.1"/>
<circle class="c19" cx="626.8" cy="332.6" r="3.1"/>
<circle class="c19" cx="620.3" cy="334.1" r="3.1"/>
<circle class="c19" cx="625.1" cy="333.1" r="3.1"/>
<circle class="c19" cx="618.8" cy="336" r="3.1"/>
<circle class="c19" cx="625.8" cy="333.7" r="3.1"/>
<circle class="c18" cx="637.6" cy="332.2" r="3.1"/>
<circle class="c18" cx="635.9" cy="331.9" r="3.1"/>
<circle class="c18" cx="631.7" cy="331.5" r="3.1"/>
<circle class="c19" cx="623" cy="334.2" r="3.1"/>
<circle class="c20" cx="615.6" cy="337.5" r="3.1"/>
<circle class="c19" cx="640.4" cy="333.4" r="3.1"/>
<circle class="c20" cx="670.3" cy="338.6" r="3.1"/>
<circle class="c20" cx="663.2" cy="337.2" r="3.1"/>
<circle class="c19" cx="648.3" cy="334" r="3.1"/>
<circle class="c9" cx="666" cy="295.8" r="3.1"/>
<circle class="c24" cx="413.6" cy="353.4" r="3.1"/>
<circle class="c11" cx="669.8" cy="303.2" r="3.1"/>
<circle class="c25" cx="559.3" cy="355.8" r="3.1"/>
<circle class="c3" cx="654.8" cy="274.2" r="3.1"/>
<circle class="c20" cx="615.9" cy="336.5" r="3.1"/>
<circle class="c9" cx="665.8" cy="295.1" r="3.1"/>
<circle class="c19" cx="628" cy="333" r="3.1"/>
<circle class="c23" cx="586.3" cy="348.7" r="3.1"/>
<circle class="c19" cx="629.1" cy="333.6" r="3.1"/>
<circle class="c20" cx="611.2" cy="339.3" r="3.1"/>
<circle class="c20" cx="613.4" cy="339" r="3.1"/>
<circle class="c20" cx="672.3" cy="339.1" r="3.1"/>
<circle class="c25" cx="561.6" cy="356.1" r="3.1"/>
<circle class="c19" cx="634" cy="332.7" r="3.1"/>
<circle class="c19" cx="621" cy="334.2" r="3.1"/>
<circle class="c19" cx="631.8" cy="332.6" r="3.1"/>
<circle class="c20" cx="608.5" cy="339.8" r="3.1"/>
<circle class="c10" cx="670" cy="301.8" r="3.1"/>
<circle class="c5" cx="659.9" cy="283.1" r="3.1"/>
<circle class="c19" cx="619.8" cy="335" r="3.1"/>
<circle class="c19" cx="622.6" cy="334.2" r="3.1"/>
<circle class="c19" cx="637.1" cy="332.6" r="3.1"/>
<circle class="c2" cx="653.1" cy="271.9" r="3.1"/>
<circle class="c19" cx="653" cy="335.9" r="3.1"/>
<circle class="c3" cx="655.5" cy="273.7" r="3.1"/>
<circle class="c3" cx="654.6" cy="273.7" r="3.1"/>
<circle class="c23" cx="588" cy="348.6" r="3.1"/>
<circle class="c19" cx="621" cy="334.5" r="3.1"/>
<circle class="c19" cx="621.7" cy="334.4" r="3.1"/>
<circle class="c20" cx="617.1" cy="337.1" r="3.1"/>
<circle class="c20" cx="618.6" cy="336.4" r="3.1"/>
<circle class="c18" cx="633.7" cy="331.9" r="3.1"/>
<circle class="c23" cx="579.8" cy="350.9" r="3.1"/>
<circle class="c19" cx="622.8" cy="334.7" r="3.1"/>
<circle class="c3" cx="655.1" cy="273.4" r="3.1"/>
<circle class="c5" cx="659.4" cy="281.5" r="3.1"/>
<circle class="c23" cx="590" cy="348.1" r="3.1"/>
<circle class="c18" cx="636.9" cy="332.1" r="3.1"/>
<circle class="c24" cx="572.9" cy="353.5" r="3.1"/>
<circle class="c5" cx="659.5" cy="282.9" r="3.1"/>
<circle class="c19" cx="634.9" cy="332.7" r="3.1"/>
<circle class="c19" cx="643.6" cy="333.1" r="3.1"/>
<circle class="c20" cx="651.7" cy="336.9" r="3.1"/>
<circle class="c19" cx="624.5" cy="334.3" r="3.1"/>
<circle class="c7" cx="662.4" cy="288.5" r="3.1"/>
<circle class="c21" cx="606.2" cy="341.1" r="3.1"/>
<circle class="c19" cx="620.3" cy="335.9" r="3.1"/>
<circle class="c5" cx="659.1" cy="282.4" r="3.1"/>
<circle class="c7" cx="662.5" cy="288.8" r="3.1"/>
<circle class="c20" cx="614.2" cy="338.2" r="3.1"/>
<circle class="c20" cx="615.9" cy="337.4" r="3.1"/>
<circle class="c19" cx="626.3" cy="333.7" r="3.1"/>
<circle class="c19" cx="625.4" cy="334.1" r="3.1"/>
<circle class="c20" cx="678.7" cy="339.3" r="3.1"/>
<circle class="c4" cx="658.2" cy="280.1" r="3.1"/>
<circle class="c20" cx="676.5" cy="339.3" r="3.1"/>
<circle class="c25" cx="551.2" cy="357.6" r="3.1"/>
<circle class="c19" cx="622.1" cy="335" r="3.1"/>
<circle class="c3" cx="656.6" cy="276.6" r="3.1"/>
<circle class="c19" cx="618.5" cy="335.9" r="3.1"/>
<circle class="c24" cx="571.8" cy="353.8" r="3.1"/>
<circle class="c9" cx="668.1" cy="298.6" r="3.1"/>
<circle class="c21" cx="606.4" cy="341.2" r="3.1"/>
<circle class="c23" cx="584.4" cy="349.2" r="3.1"/>
<circle class="c19" cx="622.2" cy="334" r="3.1"/>
<circle class="c19" cx="626" cy="334" r="3.1"/>
<circle class="c19" cx="640.6" cy="334.4" r="3.1"/>
<circle class="c19" cx="645.6" cy="334.3" r="3.1"/>
<circle class="c6" cx="661.2" cy="286.2" r="3.1"/>
<circle class="c25" cx="564" cy="355" r="3.1"/>
<circle class="c14" cx="675.4" cy="316.7" r="3.1"/>
<circle class="c19" cx="625.5" cy="334.5" r="3.1"/>
<circle class="c4" cx="657.6" cy="279.4" r="3.1"/>
<circle class="c20" cx="616.7" cy="337.4" r="3.1"/>
<circle class="c21" cx="608.3" cy="341.3" r="3.1"/>
<circle class="c18" cx="627.6" cy="332.6" r="3.1"/>
<circle class="c21" cx="604.3" cy="343.1" r="3.1"/>
<circle class="c21" cx="602" cy="343.3" r="3.1"/>
<circle class="c6" cx="662.4" cy="287.8" r="3.1"/>
<circle class="c22" cx="591.8" cy="347.4" r="3.1"/>
<circle class="c19" cx="636.2" cy="333.3" r="3.1"/>
<circle class="c19" cx="621.1" cy="336.1" r="3.1"/>
<circle class="c20" cx="614.7" cy="338.1" r="3.1"/>
<circle class="c20" cx="618.3" cy="336.9" r="3.1"/>
<circle class="c19" cx="643.8" cy="334" r="3.1"/>
<circle class="c19" cx="646.4" cy="335.4" r="3.1"/>
<circle class="c19" cx="682.5" cy="334" r="3.1"/>
<circle class="c19" cx="631.7" cy="332.8" r="3.1"/>
<circle class="c19" cx="648.9" cy="335.8" r="3.1"/>
<circle class="c20" cx="618.1" cy="337.2" r="3.1"/>
<circle class="c19" cx="621.9" cy="335.6" r="3.1"/>
<circle class="c18" cx="630" cy="332.7" r="3.1"/>
<circle class="c19" cx="649.9" cy="336.1" r="3.1"/>
<circle class="c6" cx="662.3" cy="288" r="3.1"/>
<circle class="c20" cx="616.9" cy="337.4" r="3.1"/>
<circle class="c19" cx="626.5" cy="333.8" r="3.1"/>
<circle class="c19" cx="642.6" cy="333.7" r="3.1"/>
<circle class="c12" cx="671.7" cy="306.9" r="3.1"/>
<circle class="c20" cx="619.7" cy="336.5" r="3.1"/>
<circle class="c25" cx="556.4" cy="356.3" r="3.1"/>
<circle class="c21" cx="605.1" cy="341.9" r="3.1"/>
<circle class="c22" cx="601.2" cy="344.3" r="3.1"/>
<circle class="c7" cx="664.4" cy="291" r="3.1"/>
<circle class="c6" cx="662.9" cy="286.6" r="3.1"/>
<circle class="c19" cx="621.9" cy="335.5" r="3.1"/>
<circle class="c4" cx="658" cy="278.2" r="3.1"/>
<circle class="c25" cx="566.5" cy="355.6" r="3.1"/>
<circle class="c21" cx="607.4" cy="341.7" r="3.1"/>
<circle class="c19" cx="625.1" cy="334.8" r="3.1"/>
<circle class="c21" cx="605.2" cy="342.3" r="3.1"/>
<circle class="c19" cx="629.1" cy="332.9" r="3.1"/>
<circle class="c19" cx="638.2" cy="333.8" r="3.1"/>
<circle class="c24" cx="578.3" cy="352.3" r="3.1"/>
<circle class="c19" cx="624" cy="335.2" r="3.1"/>
<circle class="c20" cx="610.7" cy="340" r="3.1"/>
<circle class="c5" cx="661.1" cy="284" r="3.1"/>
<circle class="c19" cx="639" cy="332.8" r="3.1"/>
<circle class="c19" cx="620.8" cy="335.6" r="3.1"/>
<circle class="c21" cx="608.4" cy="341.6" r="3.1"/>
<circle class="c5" cx="661.6" cy="284.2" r="3.1"/>
<circle class="c3" cx="656.5" cy="276.9" r="3.1"/>
<circle class="c20" cx="663.5" cy="339.6" r="3.1"/>
<circle class="c20" cx="615.5" cy="338" r="3.1"/>
<circle class="c8" cx="666.9" cy="293.8" r="3.1"/>
<circle class="c17" cx="680.2" cy="328.1" r="3.1"/>
<circle class="c20" cx="661.4" cy="338.9" r="3.1"/>
<circle class="c19" cx="620" cy="336.6" r="3.1"/>
<circle class="c9" cx="668.1" cy="298.3" r="3.1"/>
<circle class="c20" cx="612.1" cy="339.3" r="3.1"/>
<circle class="c19" cx="634.2" cy="333.1" r="3.1"/>
<circle class="c26" cx="535.5" cy="361.2" r="3.1"/>
<circle class="c19" cx="621.7" cy="336.1" r="3.1"/>
<circle class="c22" cx="598.9" cy="344.8" r="3.1"/>
<circle class="c23" cx="414.5" cy="348.8" r="3.1"/>
<circle class="c19" cx="624.3" cy="335.5" r="3.1"/>
<circle class="c20" cx="650.2" cy="336.7" r="3.1"/>
<circle class="c19" cx="636.1" cy="333.7" r="3.1"/>
<circle class="c7" cx="663.7" cy="290.8" r="3.1"/>
<circle class="c20" cx="618.5" cy="337.1" r="3.1"/>
<circle class="c18" cx="634.4" cy="332.6" r="3.1"/>
<circle class="c21" cx="608.9" cy="342" r="3.1"/>
<circle class="c20" cx="615.2" cy="338.4" r="3.1"/>
<circle class="c3" cx="656" cy="276.3" r="3.1"/>
<circle class="c24" cx="569.6" cy="354.6" r="3.1"/>
<circle class="c20" cx="617.3" cy="337.4" r="3.1"/>
<circle class="c19" cx="621.9" cy="335.7" r="3.1"/>
<circle class="c20" cx="666.5" cy="339.7" r="3.1"/>
<circle class="c20" cx="665.4" cy="339.9" r="3.1"/>
<circle class="c11" cx="671.2" cy="305.6" r="3.1"/>
<circle class="c19" cx="624.2" cy="335.1" r="3.1"/>
<circle class="c19" cx="621.3" cy="335.8" r="3.1"/>
<circle class="c19" cx="623.6" cy="335.1" r="3.1"/>
<circle class="c19" cx="629.2" cy="333.7" r="3.1"/>
<circle class="c20" cx="659" cy="338" r="3.1"/>
<circle class="c20" cx="617.4" cy="337.9" r="3.1"/>
<circle class="c19" cx="632.8" cy="333.2" r="3.1"/>
<circle class="c22" cx="597.5" cy="346.5" r="3.1"/>
<circle class="c25" cx="553.9" cy="357.4" r="3.1"/>
<circle class="c13" cx="673.9" cy="310.8" r="3.1"/>
<circle class="c5" cx="659.6" cy="281.4" r="3.1"/>
<circle class="c19" cx="625.8" cy="334.6" r="3.1"/>
<circle class="c4" cx="657.7" cy="278.5" r="3.1"/>
<circle class="c26" cx="539" cy="360.3" r="3.1"/>
<circle class="c20" cx="618.3" cy="337" r="3.1"/>
<circle class="c2" cx="654.6" cy="272.9" r="3.1"/>
<circle class="c25" cx="547.9" cy="359" r="3.1"/>
<circle class="c3" cx="656.2" cy="275.8" r="3.1"/>
<circle class="c21" cx="609.3" cy="341.2" r="3.1"/>
<circle class="c20" cx="679.3" cy="339.8" r="3.1"/>
<circle class="c24" cx="573.8" cy="352.8" r="3.1"/>
<circle class="c20" cx="619.1" cy="337.5" r="3.1"/>
<circle class="c15" cx="677.7" cy="320.6" r="3.1"/>
<circle class="c20" cx="611.1" cy="340.4" r="3.1"/>
<circle class="c19" cx="625.7" cy="334.8" r="3.1"/>
<circle class="c20" cx="658" cy="337.3" r="3.1"/>
<circle class="c20" cx="614" cy="338.5" r="3.1"/>
<circle class="c4" cx="657.8" cy="277.3" r="3.1"/>
<circle class="c20" cx="621.2" cy="337" r="3.1"/>
<circle class="c19" cx="625.9" cy="334.7" r="3.1"/>
<circle class="c19" cx="629.2" cy="334.6" r="3.1"/>
<circle class="c19" cx="648.3" cy="336.7" r="3.1"/>
<circle class="c24" cx="576.5" cy="352.5" r="3.1"/>
<circle class="c20" cx="620.4" cy="336.9" r="3.1"/>
<circle class="c19" cx="636.9" cy="333.4" r="3.1"/>
<circle class="c21" cx="609.4" cy="340.9" r="3.1"/>
<circle class="c20" cx="616.6" cy="338" r="3.1"/>
<circle class="c19" cx="632.9" cy="333.7" r="3.1"/>
<circle class="c5" cx="659" cy="281.4" r="3.1"/>
<circle class="c19" cx="622.1" cy="335.9" r="3.1"/>
<circle class="c21" cx="603.5" cy="343.6" r="3.1"/>
<circle class="c19" cx="643" cy="334.6" r="3.1"/>
<circle class="c18" cx="641.4" cy="332.9" r="3.1"/>
<circle class="c22" cx="599.4" cy="345.4" r="3.1"/>
<circle class="c6" cx="662.9" cy="286.2" r="3.1"/>
<circle class="c20" cx="615.9" cy="338.6" r="3.1"/>
<circle class="c5" cx="661" cy="284.2" r="3.1"/>
<circle class="c3" cx="656.7" cy="275.2" r="3.1"/>
<circle class="c19" cx="656.7" cy="336.6" r="3.1"/>
<circle class="c19" cx="630.2" cy="333.9" r="3.1"/>
<circle class="c25" cx="545.4" cy="359.1" r="3.1"/>
<circle class="c26" cx="542" cy="359.4" r="3.1"/>
<circle class="c19" cx="630.3" cy="334.3" r="3.1"/>
<circle class="c5" cx="659.6" cy="281" r="3.1"/>
<circle class="c19" cx="654.6" cy="336.7" r="3.1"/>
<circle class="c10" cx="670.7" cy="300.2" r="3.1"/>
<circle class="c21" cx="605.7" cy="343.4" r="3.1"/>
<circle class="c14" cx="676" cy="314.8" r="3.1"/>
<circle class="c22" cx="600.5" cy="344.6" r="3.1"/>
<circle class="c7" cx="664.4" cy="289.6" r="3.1"/>
<circle class="c5" cx="661.5" cy="284.3" r="3.1"/>
<circle class="c25" cx="562.2" cy="356.1" r="3.1"/>
<circle class="c19" cx="646.6" cy="336.2" r="3.1"/>
<circle class="c22" cx="594.2" cy="348.1" r="3.1"/>
<circle class="c19" cx="629.5" cy="334.7" r="3.1"/>
<circle class="c20" cx="684.3" cy="339.6" r="3.1"/>
<circle class="c23" cx="590.7" cy="349.1" r="3.1"/>
<circle class="c19" cx="622.4" cy="335.9" r="3.1"/>
<circle class="c26" cx="531.9" cy="361.8" r="3.1"/>
<circle class="c21" cx="611.6" cy="340.8" r="3.1"/>
<circle class="c20" cx="616.3" cy="339.1" r="3.1"/>
<circle class="c7" cx="664.6" cy="290.2" r="3.1"/>
<circle class="c21" cx="601.4" cy="344" r="3.1"/>
<circle class="c19" cx="645.3" cy="335.9" r="3.1"/>
<circle class="c21" cx="610.3" cy="341.9" r="3.1"/>
<circle class="c20" cx="616.4" cy="338.5" r="3.1"/>
<circle class="c20" cx="611.7" cy="340.4" r="3.1"/>
<circle class="c19" cx="622.9" cy="336.2" r="3.1"/>
<circle class="c19" cx="633.6" cy="333.6" r="3.1"/>
<circle class="c19" cx="644" cy="335.2" r="3.1"/>
<circle class="c9" cx="668.3" cy="297" r="3.1"/>
<circle class="c22" cx="595.7" cy="346.7" r="3.1"/>
<circle class="c19" cx="628.2" cy="335.1" r="3.1"/>
<circle class="c20" cx="619" cy="337.8" r="3.1"/>
<circle class="c19" cx="622.9" cy="336.2" r="3.1"/>
<circle class="c19" cx="629.8" cy="334.8" r="3.1"/>
<circle class="c20" cx="670.1" cy="340.7" r="3.1"/>
<circle class="c19" cx="636.2" cy="333.9" r="3.1"/>
<circle class="c19" cx="622.5" cy="336.8" r="3.1"/>
<circle class="c19" cx="632.6" cy="334.7" r="3.1"/>
<circle class="c20" cx="682.5" cy="340" r="3.1"/>
<circle class="c17" cx="679.7" cy="325.9" r="3.1"/>
<circle class="c19" cx="639.9" cy="334.8" r="3.1"/>
<circle class="c23" cx="592.7" cy="348.3" r="3.1"/>
<circle class="c21" cx="608.5" cy="341.9" r="3.1"/>
<circle class="c4" cx="657.7" cy="278" r="3.1"/>
<circle class="c21" cx="604.5" cy="344.4" r="3.1"/>
<circle class="c25" cx="564.2" cy="355.8" r="3.1"/>
<circle class="c3" cx="657.6" cy="275.8" r="3.1"/>
<circle class="c20" cx="619.7" cy="337.7" r="3.1"/>
<circle class="c25" cx="551.4" cy="358.9" r="3.1"/>
<circle class="c19" cx="626.5" cy="335.6" r="3.1"/>
<circle class="c25" cx="553.4" cy="358" r="3.1"/>
<circle class="c22" cx="594.6" cy="347.8" r="3.1"/>
<circle class="c19" cx="626.9" cy="335.8" r="3.1"/>
<circle class="c9" cx="668.4" cy="296.1" r="3.1"/>
<circle class="c25" cx="556.6" cy="358.4" r="3.1"/>
<circle class="c21" cx="605.5" cy="343.8" r="3.1"/>
<circle class="c20" cx="654.2" cy="337.6" r="3.1"/>
<circle class="c19" cx="627.9" cy="335.4" r="3.1"/>
<circle class="c7" cx="666.1" cy="292" r="3.1"/>
<circle class="c19" cx="621.7" cy="337" r="3.1"/>
<circle class="c5" cx="661.4" cy="282.7" r="3.1"/>
<circle class="c3" cx="656.6" cy="274.8" r="3.1"/>
<circle class="c21" cx="610.7" cy="341.9" r="3.1"/>
<circle class="c19" cx="635.8" cy="334.5" r="3.1"/>
<circle class="c19" cx="626.8" cy="334.3" r="3.1"/>
<circle class="c4" cx="659.1" cy="279.9" r="3.1"/>
<circle class="c19" cx="626.8" cy="336" r="3.1"/>
<circle class="c8" cx="666.1" cy="293" r="3.1"/>
<circle class="c19" cx="624.9" cy="335.7" r="3.1"/>
<circle class="c2" cx="654.6" cy="273.6" r="3.1"/>
<circle class="c20" cx="612.1" cy="340.7" r="3.1"/>
<circle class="c19" cx="623.6" cy="335.6" r="3.1"/>
<circle class="c20" cx="619.2" cy="337.8" r="3.1"/>
<circle class="c19" cx="635.7" cy="334.4" r="3.1"/>
<circle class="c19" cx="633.5" cy="334.3" r="3.1"/>
<circle class="c22" cx="595.9" cy="347.3" r="3.1"/>
<circle class="c19" cx="638.4" cy="334.9" r="3.1"/>
<circle class="c21" cx="607" cy="342.4" r="3.1"/>
<circle class="c6" cx="662.7" cy="286.7" r="3.1"/>
<circle class="c18" cx="682.6" cy="333.3" r="3.1"/>
<circle class="c20" cx="672.5" cy="340.5" r="3.1"/>
<circle class="c21" cx="608.9" cy="342.3" r="3.1"/>
<circle class="c6" cx="663.3" cy="285.6" r="3.1"/>
<circle class="c21" cx="603.1" cy="344.4" r="3.1"/>
<circle class="c4" cx="659.3" cy="280.3" r="3.1"/>
<circle class="c25" cx="548.8" cy="359.3" r="3.1"/>
<circle class="c19" cx="642.1" cy="335.4" r="3.1"/>
<circle class="c27" cx="515.1" cy="364.9" r="3.1"/>
<circle class="c3" cx="656.9" cy="274.5" r="3.1"/>
<circle class="c21" cx="604.1" cy="344.1" r="3.1"/>
<circle class="c19" cx="630.7" cy="334.7" r="3.1"/>
<circle class="c19" cx="636.8" cy="335.4" r="3.1"/>
<circle class="c5" cx="661.5" cy="283.2" r="3.1"/>
<circle class="c26" cx="527.9" cy="362.3" r="3.1"/>
<circle class="c3" cx="656.7" cy="274.4" r="3.1"/>
<circle class="c20" cx="623.7" cy="337.3" r="3.1"/>
<circle class="c23" cx="586.9" cy="350.4" r="3.1"/>
<circle class="c20" cx="619.7" cy="337.6" r="3.1"/>
<circle class="c27" cx="519.4" cy="363.5" r="3.1"/>
<circle class="c20" cx="612.8" cy="340" r="3.1"/>
<circle class="c10" cx="669.7" cy="300.2" r="3.1"/>
<circle class="c12" cx="673.8" cy="309.8" r="3.1"/>
<circle class="c19" cx="641.6" cy="336" r="3.1"/>
<circle class="c19" cx="627.8" cy="334.2" r="3.1"/>
<circle class="c20" cx="674.1" cy="340.9" r="3.1"/>
<circle class="c19" cx="641.3" cy="335.1" r="3.1"/>
<circle class="c19" cx="620.7" cy="337.1" r="3.1"/>
<circle class="c22" cx="597.6" cy="345.9" r="3.1"/>
<circle class="c20" cx="617.6" cy="337.9" r="3.1"/>
<circle class="c19" cx="629.2" cy="335.7" r="3.1"/>
<circle class="c20" cx="616.6" cy="339.1" r="3.1"/>
<circle class="c13" cx="676" cy="313.8" r="3.1"/>
<circle class="c6" cx="663" cy="285.9" r="3.1"/>
<circle class="c25" cx="559.2" cy="356.9" r="3.1"/>
<circle class="c20" cx="652.7" cy="337.9" r="3.1"/>
<circle class="c23" cx="589.1" cy="349.6" r="3.1"/>
<circle class="c20" cx="620.6" cy="337.7" r="3.1"/>
<circle class="c10" cx="672.2" cy="303.5" r="3.1"/>
<circle class="c19" cx="638.7" cy="334.8" r="3.1"/>
<circle class="c20" cx="614.9" cy="339.6" r="3.1"/>
<circle class="c7" cx="664" cy="289" r="3.1"/>
<circle class="c11" cx="671.8" cy="304.3" r="3.1"/>
<circle class="c19" cx="622.7" cy="337.2" r="3.1"/>
<circle class="c20" cx="647.8" cy="337.7" r="3.1"/>
<circle class="c23" cx="585.1" cy="351.5" r="3.1"/>
<circle class="c21" cx="607.9" cy="343.4" r="3.1"/>
<circle class="c22" cx="601.9" cy="345.9" r="3.1"/>
<circle class="c19" cx="651.2" cy="337.1" r="3.1"/>
<circle class="c3" cx="657.5" cy="277.1" r="3.1"/>
<circle class="c20" cx="615.1" cy="339.9" r="3.1"/>
<circle class="c19" cx="623.3" cy="337.2" r="3.1"/>
<circle class="c20" cx="618.4" cy="338.6" r="3.1"/>
<circle class="c19" cx="634.6" cy="335.5" r="3.1"/>
<circle class="c19" cx="625.3" cy="336.9" r="3.1"/>
<circle class="c3" cx="658.2" cy="275.8" r="3.1"/>
<circle class="c15" cx="677.8" cy="319.9" r="3.1"/>
<circle class="c19" cx="627" cy="336.1" r="3.1"/>
<circle class="c20" cx="618.8" cy="339.3" r="3.1"/>
<circle class="c27" cx="523.7" cy="363.6" r="3.1"/>
<circle class="c20" cx="619.5" cy="338.6" r="3.1"/>
<circle class="c24" cx="583.1" cy="352.4" r="3.1"/>
<circle class="c21" cx="610.8" cy="342" r="3.1"/>
<circle class="c22" cx="600.4" cy="346.2" r="3.1"/>
<circle class="c21" cx="414.9" cy="344.8" r="3.1"/>
<circle class="c27" cx="505.8" cy="366.8" r="3.1"/>
<circle class="c20" cx="624" cy="337.7" r="3.1"/>
<circle class="c23" cx="592.5" cy="349" r="3.1"/>
<circle class="c20" cx="658.8" cy="339.7" r="3.1"/>
<circle class="c6" cx="664.9" cy="288.9" r="3.1"/>
<circle class="c23" cx="588.5" cy="350.4" r="3.1"/>
<circle class="c19" cx="630.5" cy="335" r="3.1"/>
<circle class="c19" cx="633.7" cy="335.2" r="3.1"/>
<circle class="c20" cx="619" cy="339.1" r="3.1"/>
<circle class="c5" cx="661.5" cy="281.7" r="3.1"/>
<circle class="c20" cx="684.5" cy="337.9" r="3.1"/>
<circle class="c4" cx="659.5" cy="279.7" r="3.1"/>
<circle class="c20" cx="617" cy="339.6" r="3.1"/>
<circle class="c19" cx="634.6" cy="334.5" r="3.1"/>
<circle class="c26" cx="545.1" cy="360.1" r="3.1"/>
<circle class="c20" cx="669" cy="339.7" r="3.1"/>
<circle class="c27" cx="501" cy="366.4" r="3.1"/>
<circle class="c19" cx="644.5" cy="336.3" r="3.1"/>
<circle class="c19" cx="636.5" cy="336.6" r="3.1"/>
<circle class="c7" cx="666.4" cy="291.7" r="3.1"/>
<circle class="c27" cx="510.9" cy="365.5" r="3.1"/>
<circle class="c20" cx="621.9" cy="337.9" r="3.1"/>
<circle class="c20" cx="645.9" cy="337.7" r="3.1"/>
<circle class="c19" cx="631.8" cy="335.2" r="3.1"/>
<circle class="c5" cx="662.9" cy="284.8" r="3.1"/>
<circle class="c3" cx="658.5" cy="275" r="3.1"/>
<circle class="c19" cx="629.2" cy="336.1" r="3.1"/>
<circle class="c20" cx="650" cy="337.9" r="3.1"/>
<circle class="c20" cx="658" cy="338.9" r="3.1"/>
<circle class="c20" cx="621.1" cy="338.6" r="3.1"/>
<circle class="c20" cx="655.9" cy="338.3" r="3.1"/>
<circle class="c19" cx="624.9" cy="337" r="3.1"/>
<circle class="c19" cx="646.4" cy="337.5" r="3.1"/>
<circle class="c4" cx="659.5" cy="279.7" r="3.1"/>
<circle class="c7" cx="666" cy="291.5" r="3.1"/>
<circle class="c22" cx="601.7" cy="346.3" r="3.1"/>
<circle class="c19" cx="628.4" cy="336.7" r="3.1"/>
<circle class="c21" cx="611.1" cy="341.9" r="3.1"/>
<circle class="c22" cx="598.7" cy="347.8" r="3.1"/>
<circle class="c21" cx="603.2" cy="344.9" r="3.1"/>
<circle class="c19" cx="629.4" cy="335.7" r="3.1"/>
<circle class="c20" cx="619.4" cy="338.6" r="3.1"/>
<circle class="c24" cx="580.3" cy="353.3" r="3.1"/>
<circle class="c4" cx="661.6" cy="281.5" r="3.1"/>
<circle class="c19" cx="630.9" cy="336.4" r="3.1"/>
<circle class="c19" cx="625.1" cy="336.6" r="3.1"/>
<circle class="c20" cx="661.5" cy="339.9" r="3.1"/>
<circle class="c19" cx="628.7" cy="336.4" r="3.1"/>
<circle class="c20" cx="622.5" cy="337.8" r="3.1"/>
<circle class="c2" cx="657.8" cy="273.6" r="3.1"/>
<circle class="c11" cx="673.9" cy="307.7" r="3.1"/>
<circle class="c20" cx="618.7" cy="339.7" r="3.1"/>
<circle class="c19" cx="626.8" cy="337.4" r="3.1"/>
<circle class="c4" cx="659.9" cy="278.7" r="3.1"/>
<circle class="c22" cx="598.2" cy="347.4" r="3.1"/>
<circle class="c5" cx="663.3" cy="284" r="3.1"/>
<circle class="c16" cx="679.8" cy="324.3" r="3.1"/>
<circle class="c26" cx="542.7" cy="361.2" r="3.1"/>
<circle class="c20" cx="662.9" cy="340.6" r="3.1"/>
<circle class="c19" cx="635.8" cy="336" r="3.1"/>
<circle class="c20" cx="623.9" cy="338.3" r="3.1"/>
<circle class="c21" cx="607" cy="343.6" r="3.1"/>
<circle class="c4" cx="660.1" cy="278.8" r="3.1"/>
<circle class="c23" cx="585.3" cy="351.1" r="3.1"/>
<circle class="c6" cx="665.3" cy="287.6" r="3.1"/>
<circle class="c20" cx="666.4" cy="341" r="3.1"/>
<circle class="c21" cx="612.6" cy="341.6" r="3.1"/>
<circle class="c20" cx="644" cy="337.8" r="3.1"/>
<circle class="c4" cx="661.5" cy="281.1" r="3.1"/>
<circle class="c21" cx="676.4" cy="341.8" r="3.1"/>
<circle class="c5" cx="662.9" cy="284.1" r="3.1"/>
<circle class="c4" cx="660.1" cy="278.2" r="3.1"/>
<circle class="c20" cx="613.9" cy="341.1" r="3.1"/>
<circle class="c23" cx="591.2" cy="349.5" r="3.1"/>
<circle class="c23" cx="586.8" cy="351.9" r="3.1"/>
<circle class="c3" cx="658.3" cy="275.6" r="3.1"/>
<circle class="c26" cx="538.3" cy="362" r="3.1"/>
<circle class="c6" cx="664.6" cy="287.6" r="3.1"/>
<circle class="c14" cx="678.3" cy="317.7" r="3.1"/>
<circle class="c21" cx="612.5" cy="341.5" r="3.1"/>
<circle class="c24" cx="579.2" cy="354.6" r="3.1"/>
<circle class="c20" cx="678.1" cy="341.3" r="3.1"/>
<circle class="c19" cx="629.8" cy="336.6" r="3.1"/>
<circle class="c19" cx="629.7" cy="336.8" r="3.1"/>
<circle class="c19" cx="627.5" cy="337.6" r="3.1"/>
<circle class="c21" cx="608.5" cy="344" r="3.1"/>
<circle class="c20" cx="615.8" cy="340.7" r="3.1"/>
<circle class="c19" cx="624.8" cy="337.4" r="3.1"/>
<circle class="c19" cx="641.4" cy="336.4" r="3.1"/>
<circle class="c8" cx="669.3" cy="294.5" r="3.1"/>
<circle class="c20" cx="620.1" cy="339.5" r="3.1"/>
<circle class="c19" cx="639.3" cy="336.2" r="3.1"/>
<circle class="c19" cx="626.8" cy="337.1" r="3.1"/>
<circle class="c7" cx="665.9" cy="290.8" r="3.1"/>
<circle class="c27" cx="527.5" cy="364.2" r="3.1"/>
<circle class="c21" cx="606.2" cy="343.9" r="3.1"/>
<circle class="c20" cx="617.6" cy="339.8" r="3.1"/>
<circle class="c4" cx="661.8" cy="281.8" r="3.1"/>
<circle class="c17" cx="682.4" cy="330.2" r="3.1"/>
<circle class="c24" cx="577.5" cy="354.3" r="3.1"/>
<circle class="c21" cx="680.4" cy="341.8" r="3.1"/>
<circle class="c20" cx="615.8" cy="340.5" r="3.1"/>
<circle class="c19" cx="630.5" cy="336.8" r="3.1"/>
<circle class="c20" cx="625.5" cy="338.4" r="3.1"/>
<circle class="c24" cx="581.6" cy="353.3" r="3.1"/>
<circle class="c27" cx="487.3" cy="367.2" r="3.1"/>
<circle class="c22" cx="597.2" cy="348.5" r="3.1"/>
<circle class="c20" cx="664.5" cy="341.3" r="3.1"/>
<circle class="c24" cx="574.6" cy="355.1" r="3.1"/>
<circle class="c21" cx="613.5" cy="342.2" r="3.1"/>
<circle class="c19" cx="639.7" cy="336.8" r="3.1"/>
<circle class="c19" cx="627" cy="337.6" r="3.1"/>
<circle class="c20" cx="621.8" cy="338.7" r="3.1"/>
<circle class="c22" cx="596.3" cy="348.2" r="3.1"/>
<circle class="c9" cx="670.4" cy="298.4" r="3.1"/>
<circle class="c19" cx="630.1" cy="336.4" r="3.1"/>
<circle class="c20" cx="614.5" cy="341.5" r="3.1"/>
<circle class="c19" cx="632.2" cy="336" r="3.1"/>
<circle class="c19" cx="625.5" cy="337.7" r="3.1"/>
<circle class="c23" cx="583" cy="352.4" r="3.1"/>
<circle class="c19" cx="635.4" cy="334.4" r="3.1"/>
<circle class="c20" cx="624" cy="338.3" r="3.1"/>
<circle class="c20" cx="620.3" cy="338.9" r="3.1"/>
<circle class="c21" cx="609.7" cy="343" r="3.1"/>
<circle class="c20" cx="645.2" cy="338.1" r="3.1"/>
<circle class="c26" cx="535.4" cy="362.3" r="3.1"/>
<circle class="c21" cx="613.8" cy="342.4" r="3.1"/>
<circle class="c11" cx="674" cy="306.2" r="3.1"/>
<circle class="c21" cx="611.3" cy="342.2" r="3.1"/>
<circle class="c20" cx="614.8" cy="340.7" r="3.1"/>
<circle class="c20" cx="650.9" cy="338.4" r="3.1"/>
<circle class="c19" cx="638.2" cy="336.5" r="3.1"/>
<circle class="c19" cx="624.4" cy="337.9" r="3.1"/>
<circle class="c22" cx="600.6" cy="347.2" r="3.1"/>
<circle class="c26" cx="531.9" cy="363.2" r="3.1"/>
<circle class="c20" cx="617.4" cy="340.7" r="3.1"/>
<circle class="c19" cx="642" cy="336.9" r="3.1"/>
<circle class="c22" cx="605.3" cy="345.7" r="3.1"/>
<circle class="c3" cx="658.6" cy="274.9" r="3.1"/>
<circle class="c27" cx="497.4" cy="367.2" r="3.1"/>
<circle class="c20" cx="620.5" cy="339.8" r="3.1"/>
<circle class="c19" cx="636.4" cy="336.2" r="3.1"/>
<circle class="c20" cx="657.8" cy="340.6" r="3.1"/>
<circle class="c3" cx="659.7" cy="277.3" r="3.1"/>
<circle class="c4" cx="661.4" cy="281.3" r="3.1"/>
<circle class="c5" cx="663.7" cy="284.1" r="3.1"/>
<circle class="c19" cx="641.1" cy="337.6" r="3.1"/>
<circle class="c19" cx="629.5" cy="337.2" r="3.1"/>
<circle class="c3" cx="659" cy="275.1" r="3.1"/>
<circle class="c7" cx="666.2" cy="290.2" r="3.1"/>
<circle class="c8" cx="668.3" cy="293.9" r="3.1"/>
<circle class="c5" cx="663.6" cy="282.3" r="3.1"/>
<circle class="c20" cx="619.1" cy="339.8" r="3.1"/>
<circle class="c20" cx="616.8" cy="340.3" r="3.1"/>
<circle class="c22" cx="603.6" cy="346.1" r="3.1"/>
<circle class="c19" cx="635.6" cy="336.8" r="3.1"/>
<circle class="c4" cx="662.3" cy="280.7" r="3.1"/>
<circle class="c19" cx="634.2" cy="336.5" r="3.1"/>
<circle class="c12" cx="676" cy="311.9" r="3.1"/>
<circle class="c19" cx="630.6" cy="337.4" r="3.1"/>
<circle class="c19" cx="684.7" cy="336.3" r="3.1"/>
<circle class="c22" cx="602.3" cy="347.1" r="3.1"/>
<circle class="c20" cx="621.4" cy="338.5" r="3.1"/>
<circle class="c20" cx="647.4" cy="339.4" r="3.1"/>
<circle class="c23" cx="594.9" cy="349.5" r="3.1"/>
<circle class="c20" cx="618.8" cy="340" r="3.1"/>
<circle class="c20" cx="668.6" cy="341.8" r="3.1"/>
<circle class="c21" cx="608.5" cy="344.3" r="3.1"/>
<circle class="c20" cx="625.6" cy="338.5" r="3.1"/>
<circle class="c21" cx="607.5" cy="345.2" r="3.1"/>
<circle class="c24" cx="578.9" cy="353.3" r="3.1"/>
<circle class="c21" cx="682.1" cy="342" r="3.1"/>
<circle class="c20" cx="621.3" cy="338.8" r="3.1"/>
<circle class="c3" cx="660.3" cy="278" r="3.1"/>
<circle class="c4" cx="662.1" cy="279.3" r="3.1"/>
<circle class="c24" cx="574.9" cy="356.1" r="3.1"/>
<circle class="c20" cx="618.5" cy="340.4" r="3.1"/>
<circle class="c6" cx="664.6" cy="287.5" r="3.1"/>
<circle class="c9" cx="669.8" cy="297.5" r="3.1"/>
<circle class="c20" cx="654.8" cy="339.7" r="3.1"/>
<circle class="c6" cx="664.6" cy="286.6" r="3.1"/>
<circle class="c10" cx="672.3" cy="302.1" r="3.1"/>
<circle class="c6" cx="666.3" cy="289.8" r="3.1"/>
<circle class="c21" cx="613.6" cy="342.5" r="3.1"/>
<circle class="c20" cx="653.1" cy="339.1" r="3.1"/>
<circle class="c20" cx="655.7" cy="340.3" r="3.1"/>
<circle class="c20" cx="620.5" cy="340.4" r="3.1"/>
<circle class="c6" cx="666.1" cy="289.3" r="3.1"/>
<circle class="c20" cx="649.8" cy="339.3" r="3.1"/>
<circle class="c19" cx="638.5" cy="337.5" r="3.1"/>
<circle class="c19" cx="626.7" cy="338.1" r="3.1"/>
<circle class="c20" cx="617.3" cy="340.6" r="3.1"/>
<circle class="c20" cx="621.2" cy="339.5" r="3.1"/>
<circle class="c21" cx="607.6" cy="345.7" r="3.1"/>
<circle class="c24" cx="572.2" cy="356.5" r="3.1"/>
<circle class="c5" cx="665.1" cy="285.1" r="3.1"/>
<circle class="c19" cx="639.4" cy="337.4" r="3.1"/>
<circle class="c19" cx="634.4" cy="336.8" r="3.1"/>
<circle class="c19" cx="633.3" cy="337.3" r="3.1"/>
<circle class="c23" cx="589.5" cy="351.2" r="3.1"/>
<circle class="c20" cx="621.9" cy="339.5" r="3.1"/>
<circle class="c19" cx="646.7" cy="338.3" r="3.1"/>
<circle class="c21" cx="685" cy="342.3" r="3.1"/>
<circle class="c31" cx="432.6" cy="381.6" r="3.1"/>
<circle class="c19" cx="634.7" cy="337.6" r="3.1"/>
<circle class="c22" cx="602.7" cy="346.6" r="3.1"/>
<circle class="c20" cx="645" cy="339.1" r="3.1"/>
<circle class="c20" cx="620.9" cy="340" r="3.1"/>
<circle class="c4" cx="662.3" cy="280" r="3.1"/>
<circle class="c20" cx="637.3" cy="338.8" r="3.1"/>
<circle class="c27" cx="519.5" cy="365.1" r="3.1"/>
<circle class="c5" cx="663.6" cy="282.9" r="3.1"/>
<circle class="c22" cx="595.3" cy="348.9" r="3.1"/>
<circle class="c21" cx="610.4" cy="344.2" r="3.1"/>
<circle class="c27" cx="515.8" cy="365.9" r="3.1"/>
<circle class="c20" cx="620.8" cy="340.4" r="3.1"/>
<circle class="c20" cx="686.1" cy="341.7" r="3.1"/>
<circle class="c19" cx="641.7" cy="338" r="3.1"/>
<circle class="c19" cx="631.8" cy="337.4" r="3.1"/>
<circle class="c24" cx="569.8" cy="356.8" r="3.1"/>
<circle class="c21" cx="605" cy="345.5" r="3.1"/>
<circle class="c27" cx="523.5" cy="364.7" r="3.1"/>
<circle class="c15" cx="680.1" cy="322.6" r="3.1"/>
<circle class="c20" cx="615.5" cy="341.5" r="3.1"/>
<circle class="c19" cx="627.8" cy="338" r="3.1"/>
<circle class="c20" cx="625.6" cy="339.3" r="3.1"/>
<circle class="c19" cx="643.4" cy="338.1" r="3.1"/>
<circle class="c23" cx="593.4" cy="350.3" r="3.1"/>
<circle class="c21" cx="663" cy="342.3" r="3.1"/>
<circle class="c19" cx="629.6" cy="337.8" r="3.1"/>
<circle class="c20" cx="623.4" cy="339.6" r="3.1"/>
<circle class="c20" cx="625.9" cy="338.7" r="3.1"/>
<circle class="c3" cx="660" cy="277.3" r="3.1"/>
<circle class="c22" cx="603.6" cy="346.1" r="3.1"/>
<circle class="c27" cx="482.5" cy="367.9" r="3.1"/>
<circle class="c24" cx="577.3" cy="355.3" r="3.1"/>
<circle class="c12" cx="676.5" cy="310.7" r="3.1"/>
<circle class="c20" cx="670.9" cy="342.2" r="3.1"/>
<circle class="c5" cx="665.2" cy="284.6" r="3.1"/>
<circle class="c21" cx="613.1" cy="343.6" r="3.1"/>
<circle class="c27" cx="510.8" cy="367.1" r="3.1"/>
<circle class="c30" cx="444.5" cy="377.8" r="3.1"/>
<circle class="c3" cx="660.2" cy="276.2" r="3.1"/>
<circle class="c19" cx="630.2" cy="338.1" r="3.1"/>
<circle class="c8" cx="670" cy="296.2" r="3.1"/>
<circle class="c19" cx="632.8" cy="337.5" r="3.1"/>
<circle class="c20" cx="624.3" cy="339.4" r="3.1"/>
<circle class="c29" cx="458" cy="372.7" r="3.1"/>
<circle class="c19" cx="635.8" cy="338.4" r="3.1"/>
<circle class="c22" cx="601" cy="348.5" r="3.1"/>
<circle class="c23" cx="592.5" cy="349.9" r="3.1"/>
<circle class="c20" cx="627.6" cy="339.1" r="3.1"/>
<circle class="c15" cx="680.3" cy="321.3" r="3.1"/>
<circle class="c21" cx="609.3" cy="344.3" r="3.1"/>
<circle class="c21" cx="610" cy="343.6" r="3.1"/>
<circle class="c20" cx="618.3" cy="341" r="3.1"/>
<circle class="c20" cx="627.5" cy="339.2" r="3.1"/>
<circle class="c20" cx="659" cy="341" r="3.1"/>
<circle class="c20" cx="622.4" cy="339.7" r="3.1"/>
<circle class="c20" cx="616.7" cy="341.9" r="3.1"/>
<circle class="c21" cx="671.9" cy="342.4" r="3.1"/>
<circle class="c20" cx="651.8" cy="340.6" r="3.1"/>
<circle class="c28" cx="475.6" cy="368.7" r="3.1"/>
<circle class="c20" cx="619.7" cy="341.3" r="3.1"/>
<circle class="c23" cx="591.7" cy="351" r="3.1"/>
<circle class="c3" cx="662.4" cy="278.5" r="3.1"/>
<circle class="c31" cx="423.4" cy="381.2" r="3.1"/>
<circle class="c20" cx="626.6" cy="339" r="3.1"/>
<circle class="c24" cx="567.4" cy="357" r="3.1"/>
<circle class="c19" cx="632.4" cy="338.6" r="3.1"/>
<circle class="c21" cx="612.6" cy="343.1" r="3.1"/>
<circle class="c7" cx="668.8" cy="292.6" r="3.1"/>
<circle class="c20" cx="619.2" cy="340.5" r="3.1"/>
<circle class="c11" cx="674.2" cy="305.3" r="3.1"/>
<circle class="c21" cx="605.6" cy="345.9" r="3.1"/>
<circle class="c20" cx="639.3" cy="338.6" r="3.1"/>
<circle class="c3" cx="660.4" cy="276.3" r="3.1"/>
<circle class="c21" cx="608.7" cy="344.4" r="3.1"/>
<circle class="c24" cx="573.2" cy="357.1" r="3.1"/>
<circle class="c22" cx="601.4" cy="348.4" r="3.1"/>
<circle class="c20" cx="650.9" cy="339.5" r="3.1"/>
<circle class="c3" cx="662.3" cy="278.4" r="3.1"/>
<circle class="c20" cx="625.9" cy="339.7" r="3.1"/>
<circle class="c19" cx="628.2" cy="337.1" r="3.1"/>
<circle class="c21" cx="614.4" cy="342.5" r="3.1"/>
<circle class="c3" cx="660.5" cy="276.1" r="3.1"/>
<circle class="c13" cx="678.2" cy="315.9" r="3.1"/>
<circle class="c7" cx="668.7" cy="293" r="3.1"/>
<circle class="c21" cx="611.9" cy="343" r="3.1"/>
<circle class="c22" cx="597.1" cy="349.2" r="3.1"/>
<circle class="c19" cx="632.2" cy="338.4" r="3.1"/>
<circle class="c20" cx="616.6" cy="341.5" r="3.1"/>
<circle class="c22" cx="599.6" cy="348.3" r="3.1"/>
<circle class="c20" cx="661.3" cy="341.5" r="3.1"/>
<circle class="c28" cx="468.6" cy="370.5" r="3.1"/>
<circle class="c8" cx="670.5" cy="295.9" r="3.1"/>
<circle class="c17" cx="682.4" cy="327.9" r="3.1"/>
<circle class="c7" cx="668.6" cy="291.7" r="3.1"/>
<circle class="c4" cx="663.4" cy="281.7" r="3.1"/>
<circle class="c9" cx="672" cy="300.8" r="3.1"/>
<circle class="c21" cx="612.9" cy="343.8" r="3.1"/>
<circle class="c21" cx="612" cy="344.7" r="3.1"/>
<circle class="c31" cx="414.7" cy="382" r="3.1"/>
<circle class="c5" cx="664.5" cy="283" r="3.1"/>
<circle class="c20" cx="619.4" cy="341.5" r="3.1"/>
<circle class="c19" cx="639.8" cy="338" r="3.1"/>
<circle class="c19" cx="642.5" cy="338.5" r="3.1"/>
<circle class="c21" cx="674.2" cy="343.1" r="3.1"/>
<circle class="c21" cx="606.5" cy="346" r="3.1"/>
<circle class="c21" cx="614.1" cy="343.3" r="3.1"/>
<circle class="c19" cx="633.9" cy="337.7" r="3.1"/>
<circle class="c3" cx="662" cy="278.2" r="3.1"/>
<circle class="c23" cx="587.7" cy="352.2" r="3.1"/>
<circle class="c20" cx="621.8" cy="341.3" r="3.1"/>
<circle class="c20" cx="629.1" cy="339.1" r="3.1"/>
<circle class="c20" cx="623.4" cy="339.5" r="3.1"/>
<circle class="c6" cx="666.5" cy="288.1" r="3.1"/>
<circle class="c21" cx="616.4" cy="343.3" r="3.1"/>
<circle class="c27" cx="506.5" cy="368" r="3.1"/>
<circle class="c21" cx="615.9" cy="342.7" r="3.1"/>
<circle class="c20" cx="628.1" cy="339.6" r="3.1"/>
<circle class="c3" cx="662" cy="278.5" r="3.1"/>
<circle class="c21" cx="608.1" cy="345.6" r="3.1"/>
<circle class="c20" cx="616.6" cy="342.3" r="3.1"/>
<circle class="c3" cx="660" cy="275.9" r="3.1"/>
<circle class="c21" cx="612.5" cy="345.2" r="3.1"/>
<circle class="c20" cx="622.6" cy="341.2" r="3.1"/>
<circle class="c19" cx="646.4" cy="338.9" r="3.1"/>
<circle class="c5" cx="665.3" cy="284.3" r="3.1"/>
<circle class="c20" cx="623.4" cy="340.3" r="3.1"/>
<circle class="c20" cx="620.5" cy="341.5" r="3.1"/>
<circle class="c20" cx="627.9" cy="340" r="3.1"/>
<circle class="c20" cx="623.6" cy="341.2" r="3.1"/>
<circle class="c25" cx="565.8" cy="358.7" r="3.1"/>
<circle class="c20" cx="620.4" cy="341" r="3.1"/>
<circle class="c24" cx="584.2" cy="354.8" r="3.1"/>
<circle class="c21" cx="663.8" cy="343.1" r="3.1"/>
<circle class="c20" cx="640.5" cy="339.7" r="3.1"/>
<circle class="c3" cx="662.4" cy="278.3" r="3.1"/>
<circle class="c20" cx="653.6" cy="341.5" r="3.1"/>
<circle class="c20" cx="642.9" cy="339.2" r="3.1"/>
<circle class="c20" cx="618.4" cy="342.4" r="3.1"/>
<circle class="c16" cx="682.7" cy="325.9" r="3.1"/>
<circle class="c20" cx="619.8" cy="342.1" r="3.1"/>
<circle class="c20" cx="637.8" cy="339.4" r="3.1"/>
<circle class="c19" cx="636.9" cy="338.3" r="3.1"/>
<circle class="c5" cx="665" cy="284.7" r="3.1"/>
<circle class="c21" cx="675.7" cy="342.8" r="3.1"/>
<circle class="c21" cx="609.6" cy="345.2" r="3.1"/>
<circle class="c19" cx="636.7" cy="338.7" r="3.1"/>
<circle class="c20" cx="647.9" cy="340.3" r="3.1"/>
<circle class="c14" cx="680.7" cy="319.6" r="3.1"/>
<circle class="c20" cx="618.6" cy="342.2" r="3.1"/>
<circle class="c20" cx="632.6" cy="339.2" r="3.1"/>
<circle class="c22" cx="606.7" cy="346.8" r="3.1"/>
<circle class="c18" cx="684.5" cy="334.6" r="3.1"/>
<circle class="c25" cx="563.6" cy="358.8" r="3.1"/>
<circle class="c31" cx="407.4" cy="382.2" r="3.1"/>
<circle class="c21" cx="612.5" cy="344.7" r="3.1"/>
<circle class="c25" cx="561.1" cy="359.9" r="3.1"/>
<circle class="c19" cx="630.3" cy="339.1" r="3.1"/>
<circle class="c20" cx="623.3" cy="341.1" r="3.1"/>
<circle class="c19" cx="636" cy="338.8" r="3.1"/>
<circle class="c6" cx="666.8" cy="289.2" r="3.1"/>
<circle class="c8" cx="670.4" cy="294.4" r="3.1"/>
<circle class="c13" cx="678.4" cy="315.1" r="3.1"/>
<circle class="c9" cx="673" cy="300.1" r="3.1"/>
<circle class="c4" cx="663.8" cy="281.6" r="3.1"/>
<circle class="c20" cx="624.6" cy="340.5" r="3.1"/>
<circle class="c19" cx="633.8" cy="338.6" r="3.1"/>
<circle class="c6" cx="667" cy="287.8" r="3.1"/>
<circle class="c20" cx="655.7" cy="341.8" r="3.1"/>
<circle class="c10" cx="674.2" cy="304.3" r="3.1"/>
<circle class="c22" cx="605.3" cy="347.2" r="3.1"/>
<circle class="c20" cx="626.4" cy="340.5" r="3.1"/>
<circle class="c7" cx="668.7" cy="291.1" r="3.1"/>
<circle class="c20" cx="626.8" cy="340.7" r="3.1"/>
<circle class="c20" cx="649.6" cy="340.9" r="3.1"/>
<circle class="c21" cx="614.7" cy="344.3" r="3.1"/>
<circle class="c23" cx="586.5" cy="353.2" r="3.1"/>
<circle class="c19" cx="639.9" cy="339.2" r="3.1"/>
<circle class="c20" cx="634" cy="339.4" r="3.1"/>
<circle class="c27" cx="501.4" cy="368.7" r="3.1"/>
<circle class="c20" cx="647.3" cy="340.8" r="3.1"/>
<circle class="c20" cx="636.3" cy="340" r="3.1"/>
<circle class="c21" cx="618" cy="343.1" r="3.1"/>
<circle class="c7" cx="668.7" cy="291.7" r="3.1"/>
<circle class="c20" cx="629.8" cy="340" r="3.1"/>
<circle class="c5" cx="665.2" cy="284.1" r="3.1"/>
<circle class="c4" cx="663.2" cy="280.6" r="3.1"/>
<circle class="c23" cx="588.9" cy="353.3" r="3.1"/>
<circle class="c21" cx="677.9" cy="343.6" r="3.1"/>
<circle class="c21" cx="680.5" cy="343.7" r="3.1"/>
<circle class="c22" cx="598" cy="350" r="3.1"/>
<circle class="c20" cx="645.1" cy="339.3" r="3.1"/>
<circle class="c22" cx="603.5" cy="347.8" r="3.1"/>
<circle class="c23" cx="589.6" cy="352.9" r="3.1"/>
<circle class="c20" cx="621.4" cy="341.9" r="3.1"/>
<circle class="c20" cx="687" cy="341.4" r="3.1"/>
<circle class="c20" cx="642.8" cy="340.3" r="3.1"/>
<circle class="c20" cx="619.4" cy="342.2" r="3.1"/>
<circle class="c20" cx="653.5" cy="342.9" r="3.1"/>
<circle class="c20" cx="624.2" cy="341.5" r="3.1"/>
<circle class="c20" cx="652" cy="341.6" r="3.1"/>
<circle class="c21" cx="609" cy="346.1" r="3.1"/>
<circle class="c23" cx="586.6" cy="353.7" r="3.1"/>
<circle class="c20" cx="635.5" cy="339.9" r="3.1"/>
<circle class="c20" cx="626.8" cy="341.2" r="3.1"/>
<circle class="c4" cx="664" cy="281.2" r="3.1"/>
<circle class="c25" cx="554.3" cy="360.6" r="3.1"/>
<circle class="c12" cx="675.8" cy="309.8" r="3.1"/>
<circle class="c24" cx="570.4" cy="357" r="3.1"/>
<circle class="c21" cx="668.1" cy="343.6" r="3.1"/>
<circle class="c25" cx="565.8" cy="359.2" r="3.1"/>
<circle class="c20" cx="620.9" cy="342.1" r="3.1"/>
<circle class="c11" cx="676.6" cy="307" r="3.1"/>
<circle class="c3" cx="662.5" cy="277.3" r="3.1"/>
<circle class="c21" cx="616.9" cy="343.5" r="3.1"/>
<circle class="c6" cx="668.6" cy="290.8" r="3.1"/>
<circle class="c23" cx="596.6" cy="351.6" r="3.1"/>
<circle class="c20" cx="658.7" cy="342.3" r="3.1"/>
<circle class="c5" cx="666.5" cy="286.3" r="3.1"/>
<circle class="c9" cx="672" cy="298.8" r="3.1"/>
<circle class="c20" cx="629.9" cy="339.6" r="3.1"/>
<circle class="c20" cx="639.5" cy="339.9" r="3.1"/>
<circle class="c21" cx="616.1" cy="343.7" r="3.1"/>
<circle class="c3" cx="661.8" cy="277.3" r="3.1"/>
<circle class="c20" cx="625.1" cy="340.4" r="3.1"/>
<circle class="c21" cx="608.3" cy="346.6" r="3.1"/>
<circle class="c6" cx="666.6" cy="287.4" r="3.1"/>
<circle class="c25" cx="568.6" cy="358.9" r="3.1"/>
<circle class="c21" cx="612.3" cy="346" r="3.1"/>
<circle class="c24" cx="582.6" cy="355" r="3.1"/>
<circle class="c20" cx="651.2" cy="341.2" r="3.1"/>
<circle class="c23" cx="594.5" cy="350.9" r="3.1"/>
<circle class="c21" cx="619.7" cy="343.5" r="3.1"/>
<circle class="c20" cx="623.2" cy="341.4" r="3.1"/>
<circle class="c21" cx="615.6" cy="344.5" r="3.1"/>
<circle class="c21" cx="616.5" cy="344.4" r="3.1"/>
<circle class="c20" cx="627.3" cy="340.1" r="3.1"/>
<circle class="c20" cx="624.1" cy="341.3" r="3.1"/>
<circle class="c21" cx="610.7" cy="345.7" r="3.1"/>
<circle class="c20" cx="657.1" cy="342.3" r="3.1"/>
<circle class="c10" cx="673.9" cy="303.2" r="3.1"/>
<circle class="c22" cx="599.9" cy="349.3" r="3.1"/>
<circle class="c20" cx="640.8" cy="340.6" r="3.1"/>
<circle class="c20" cx="631.3" cy="340.6" r="3.1"/>
<circle class="c20" cx="638.1" cy="340.1" r="3.1"/>
<circle class="c25" cx="558.3" cy="361" r="3.1"/>
<circle class="c5" cx="667.3" cy="286.2" r="3.1"/>
<circle class="c21" cx="612.8" cy="346.2" r="3.1"/>
<circle class="c24" cx="580.2" cy="356.4" r="3.1"/>
<circle class="c20" cx="644.1" cy="340.7" r="3.1"/>
<circle class="c20" cx="628.4" cy="341.2" r="3.1"/>
<circle class="c4" cx="665.8" cy="283.1" r="3.1"/>
<circle class="c20" cx="634.8" cy="340.2" r="3.1"/>
<circle class="c20" cx="636" cy="340.7" r="3.1"/>
<circle class="c4" cx="663.4" cy="280.4" r="3.1"/>
<circle class="c21" cx="666.4" cy="343.5" r="3.1"/>
<circle class="c13" cx="678.3" cy="313.7" r="3.1"/>
<circle class="c21" cx="616.1" cy="344.7" r="3.1"/>
<circle class="c17" cx="685.1" cy="331.5" r="3.1"/>
<circle class="c5" cx="665.7" cy="283.8" r="3.1"/>
<circle class="c20" cx="627.9" cy="340.6" r="3.1"/>
<circle class="c6" cx="668.8" cy="289.8" r="3.1"/>
<circle class="c12" cx="679" cy="312" r="3.1"/>
<circle class="c4" cx="665.2" cy="283.1" r="3.1"/>
<circle class="c4" cx="665.4" cy="282" r="3.1"/>
<circle class="c25" cx="563" cy="360.1" r="3.1"/>
<circle class="c8" cx="672.3" cy="298.4" r="3.1"/>
<circle class="c21" cx="614.9" cy="345.2" r="3.1"/>
<circle class="c22" cx="600.9" cy="349.2" r="3.1"/>
<circle class="c27" cx="497" cy="368.6" r="3.1"/>
<circle class="c22" cx="606.3" cy="347.6" r="3.1"/>
<circle class="c20" cx="620.1" cy="343.2" r="3.1"/>
<circle class="c20" cx="624.1" cy="341.7" r="3.1"/>
<circle class="c27" cx="492.9" cy="368.9" r="3.1"/>
<circle class="c20" cx="638.1" cy="340.7" r="3.1"/>
<circle class="c23" cx="593.1" cy="352.4" r="3.1"/>
<circle class="c21" cx="618.9" cy="343.6" r="3.1"/>
<circle class="c22" cx="603.7" cy="348.1" r="3.1"/>
<circle class="c22" cx="596.3" cy="350.6" r="3.1"/>
<circle class="c21" cx="609.9" cy="346.2" r="3.1"/>
<circle class="c3" cx="661.6" cy="276.9" r="3.1"/>
<circle class="c20" cx="642.3" cy="341.4" r="3.1"/>
<circle class="c17" cx="684.9" cy="330.7" r="3.1"/>
<circle class="c5" cx="666.6" cy="286.7" r="3.1"/>
<circle class="c21" cx="609.4" cy="346.5" r="3.1"/>
<circle class="c20" cx="648.4" cy="341.9" r="3.1"/>
<circle class="c21" cx="684" cy="344.9" r="3.1"/>
<circle class="c6" cx="668.8" cy="289.2" r="3.1"/>
<circle class="c22" cx="601.6" cy="348.3" r="3.1"/>
<circle class="c22" cx="606.6" cy="348.2" r="3.1"/>
<circle class="c24" cx="584.9" cy="354.9" r="3.1"/>
<circle class="c5" cx="667.1" cy="285.4" r="3.1"/>
<circle class="c21" cx="614.3" cy="345.2" r="3.1"/>
<circle class="c23" cx="595.1" cy="352.3" r="3.1"/>
<circle class="c25" cx="558.2" cy="362.2" r="3.1"/>
<circle class="c20" cx="625.4" cy="342.5" r="3.1"/>
<circle class="c3" cx="663.5" cy="279.4" r="3.1"/>
<circle class="c3" cx="664" cy="279.9" r="3.1"/>
<circle class="c20" cx="634.5" cy="340.9" r="3.1"/>
<circle class="c25" cx="560.4" cy="360.7" r="3.1"/>
<circle class="c21" cx="615.7" cy="345.1" r="3.1"/>
<circle class="c21" cx="681.6" cy="344.4" r="3.1"/>
<circle class="c9" cx="674.5" cy="301.9" r="3.1"/>
<circle class="c23" cx="591.4" cy="353.6" r="3.1"/>
<circle class="c23" cx="589.1" cy="354.4" r="3.1"/>
<circle class="c20" cx="644.1" cy="342.1" r="3.1"/>
<circle class="c20" cx="630" cy="340.9" r="3.1"/>
<circle class="c21" cx="613.3" cy="345.2" r="3.1"/>
<circle class="c20" cx="660.9" cy="343.4" r="3.1"/>
<circle class="c20" cx="621.6" cy="341.7" r="3.1"/>
<circle class="c14" cx="680.8" cy="318.6" r="3.1"/>
<circle class="c28" cx="487.1" cy="369.9" r="3.1"/>
<circle class="c20" cx="626.2" cy="342.4" r="3.1"/>
<circle class="c6" cx="669" cy="290" r="3.1"/>
<circle class="c20" cx="625.1" cy="342.5" r="3.1"/>
<circle class="c20" cx="629.7" cy="340.8" r="3.1"/>
<circle class="c20" cx="631.1" cy="341.6" r="3.1"/>
<circle class="c21" cx="671.6" cy="345.1" r="3.1"/>
<circle class="c21" cx="613.4" cy="346.5" r="3.1"/>
<circle class="c21" cx="618.1" cy="344.8" r="3.1"/>
<circle class="c20" cx="649.8" cy="342.3" r="3.1"/>
<circle class="c11" cx="676.9" cy="307.4" r="3.1"/>
<circle class="c22" cx="603.7" cy="350.1" r="3.1"/>
<circle class="c4" cx="665.2" cy="281.7" r="3.1"/>
<circle class="c21" cx="617.2" cy="344.6" r="3.1"/>
<circle class="c22" cx="599.4" cy="351" r="3.1"/>
<circle class="c21" cx="674" cy="345" r="3.1"/>
<circle class="c20" cx="645.6" cy="342.2" r="3.1"/>
<circle class="c21" cx="669.5" cy="344.1" r="3.1"/>
<circle class="c20" cx="639.4" cy="341.4" r="3.1"/>
<circle class="c21" cx="651.6" cy="343.9" r="3.1"/>
<circle class="c7" cx="670.4" cy="293.7" r="3.1"/>
<circle class="c21" cx="664.5" cy="344.4" r="3.1"/>
<circle class="c20" cx="622" cy="343.5" r="3.1"/>
<circle class="c20" cx="622.5" cy="343.7" r="3.1"/>
<circle class="c20" cx="627.9" cy="342.3" r="3.1"/>
<circle class="c24" cx="579" cy="357.2" r="3.1"/>
<circle class="c3" cx="663.7" cy="277.9" r="3.1"/>
<circle class="c3" cx="663.7" cy="279.1" r="3.1"/>
<circle class="c21" cx="662.1" cy="344.2" r="3.1"/>
<circle class="c20" cx="618.9" cy="343.4" r="3.1"/>
<circle class="c15" cx="682.4" cy="324.4" r="3.1"/>
<circle class="c20" cx="635" cy="341.5" r="3.1"/>
<circle class="c4" cx="665.5" cy="282" r="3.1"/>
<circle class="c7" cx="670.5" cy="292.6" r="3.1"/>
<circle class="c22" cx="600.1" cy="349.8" r="3.1"/>
<circle class="c20" cx="623.2" cy="343.5" r="3.1"/>
<circle class="c28" cx="475.6" cy="371.5" r="3.1"/>
<circle class="c20" cx="625.4" cy="343.2" r="3.1"/>
<circle class="c22" cx="608.4" cy="348.1" r="3.1"/>
<circle class="c20" cx="640.5" cy="342.3" r="3.1"/>
<circle class="c21" cx="618.4" cy="344.2" r="3.1"/>
<circle class="c21" cx="610.7" cy="346.9" r="3.1"/>
<circle class="c22" cx="604.9" cy="348.9" r="3.1"/>
<circle class="c20" cx="632.2" cy="341" r="3.1"/>
<circle class="c21" cx="686.2" cy="344.3" r="3.1"/>
<circle class="c20" cx="644.9" cy="342.7" r="3.1"/>
<circle class="c4" cx="665.9" cy="280.8" r="3.1"/>
<circle class="c28" cx="481.9" cy="371.3" r="3.1"/>
<circle class="c20" cx="636.6" cy="341.8" r="3.1"/>
<circle class="c20" cx="646.3" cy="342.4" r="3.1"/>
<circle class="c5" cx="667.2" cy="285.2" r="3.1"/>
<circle class="c20" cx="618.9" cy="343.9" r="3.1"/>
<circle class="c19" cx="687.9" cy="339.5" r="3.1"/>
<circle class="c20" cx="634.8" cy="342.6" r="3.1"/>
<circle class="c24" cx="580.7" cy="356.8" r="3.1"/>
<circle class="c22" cx="602.5" cy="349.2" r="3.1"/>
<circle class="c20" cx="631.2" cy="341.1" r="3.1"/>
<circle class="c25" cx="549" cy="362.4" r="3.1"/>
<circle class="c20" cx="655.4" cy="343.2" r="3.1"/>
<circle class="c3" cx="664.4" cy="277.8" r="3.1"/>
<circle class="c20" cx="628.8" cy="341.3" r="3.1"/>
<circle class="c20" cx="657.1" cy="343.2" r="3.1"/>
<circle class="c30" cx="403.7" cy="379.3" r="3.1"/>
<circle class="c12" cx="678.9" cy="311" r="3.1"/>
<circle class="c26" cx="546.2" cy="363.6" r="3.1"/>
<circle class="c25" cx="551.8" cy="361.3" r="3.1"/>
<circle class="c3" cx="664.9" cy="278.3" r="3.1"/>
<circle class="c21" cx="689.2" cy="344.2" r="3.1"/>
<circle class="c20" cx="622.6" cy="343.8" r="3.1"/>
<circle class="c22" cx="608.9" cy="348" r="3.1"/>
<circle class="c23" cx="593.6" cy="352.9" r="3.1"/>
<circle class="c20" cx="638.2" cy="342" r="3.1"/>
<circle class="c23" cx="587.8" cy="355.1" r="3.1"/>
<circle class="c25" cx="555" cy="362.6" r="3.1"/>
<circle class="c6" cx="669.1" cy="288.4" r="3.1"/>
<circle class="c24" cx="583.6" cy="355.5" r="3.1"/>
<circle class="c7" cx="670.8" cy="291.9" r="3.1"/>
<circle class="c7" cx="670.4" cy="293.3" r="3.1"/>
<circle class="c20" cx="641.9" cy="341.9" r="3.1"/>
<circle class="c6" cx="669.3" cy="288.5" r="3.1"/>
<circle class="c20" cx="653" cy="343.9" r="3.1"/>
<circle class="c20" cx="627.1" cy="342.7" r="3.1"/>
</g>
<g class="a6">
<circle class="c15" cx="682.7" cy="323.3" r="3.1"/>
<circle class="c21" cx="611" cy="347.3" r="3.1"/>
<circle class="c22" cx="604" cy="351" r="3.1"/>
<circle class="c21" cx="620.3" cy="345.2" r="3.1"/>
<circle class="c10" cx="677.1" cy="305.8" r="3.1"/>
<circle class="c23" cx="596.8" cy="352.8" r="3.1"/>
<circle class="c21" cx="621.1" cy="344.8" r="3.1"/>
<circle class="c9" cx="674.4" cy="300.9" r="3.1"/>
<circle class="c20" cx="628.2" cy="343.7" r="3.1"/>
<circle class="c22" cx="599.5" cy="351.5" r="3.1"/>
<circle class="c20" cx="632.5" cy="341.9" r="3.1"/>
<circle class="c22" cx="607.6" cy="348.6" r="3.1"/>
<circle class="c21" cx="616.6" cy="345.8" r="3.1"/>
<circle class="c20" cx="620.8" cy="343.5" r="3.1"/>
<circle class="c20" cx="624.5" cy="343.5" r="3.1"/>
<circle class="c22" cx="597.7" cy="351.4" r="3.1"/>
<circle class="c20" cx="629.8" cy="343.1" r="3.1"/>
<circle class="c25" cx="552" cy="362.9" r="3.1"/>
<circle class="c20" cx="623.8" cy="344" r="3.1"/>
<circle class="c31" cx="434.7" cy="382.4" r="3.1"/>
<circle class="c21" cx="613.3" cy="346.3" r="3.1"/>
<circle class="c21" cx="665.6" cy="344.5" r="3.1"/>
<circle class="c8" cx="672.3" cy="296.5" r="3.1"/>
<circle class="c20" cx="628.7" cy="342.4" r="3.1"/>
<circle class="c22" cx="609.2" cy="348.1" r="3.1"/>
<circle class="c21" cx="614.9" cy="347.1" r="3.1"/>
<circle class="c22" cx="606.1" cy="349.4" r="3.1"/>
<circle class="c20" cx="639.9" cy="342.5" r="3.1"/>
<circle class="c20" cx="658.2" cy="344" r="3.1"/>
<circle class="c20" cx="630.5" cy="342.3" r="3.1"/>
<circle class="c21" cx="621.4" cy="344.7" r="3.1"/>
<circle class="c28" cx="468.3" cy="373.6" r="3.1"/>
<circle class="c13" cx="680.8" cy="316" r="3.1"/>
<circle class="c20" cx="642.2" cy="342.8" r="3.1"/>
<circle class="c6" cx="670.5" cy="291.2" r="3.1"/>
<circle class="c30" cx="446.2" cy="379.6" r="3.1"/>
<circle class="c20" cx="643" cy="342.8" r="3.1"/>
<circle class="c20" cx="648.2" cy="342.2" r="3.1"/>
<circle class="c26" cx="543.2" cy="363.9" r="3.1"/>
<circle class="c24" cx="578.7" cy="357.7" r="3.1"/>
<circle class="c24" cx="575.8" cy="358.1" r="3.1"/>
<circle class="c22" cx="605.7" cy="349.2" r="3.1"/>
<circle class="c25" cx="573.9" cy="360" r="3.1"/>
<circle class="c3" cx="666" cy="280.7" r="3.1"/>
<circle class="c25" cx="571.8" cy="359.8" r="3.1"/>
<circle class="c23" cx="592.1" cy="353.9" r="3.1"/>
<circle class="c20" cx="628.4" cy="343.9" r="3.1"/>
<circle class="c9" cx="674.8" cy="300.1" r="3.1"/>
<circle class="c24" cx="588" cy="356.1" r="3.1"/>
<circle class="c21" cx="618.1" cy="345.6" r="3.1"/>
<circle class="c21" cx="669.9" cy="346.6" r="3.1"/>
<circle class="c22" cx="608.4" cy="349.7" r="3.1"/>
<circle class="c5" cx="667.3" cy="284.7" r="3.1"/>
<circle class="c20" cx="636" cy="342.5" r="3.1"/>
<circle class="c21" cx="675.2" cy="345.6" r="3.1"/>
<circle class="c5" cx="669.1" cy="288.1" r="3.1"/>
<circle class="c3" cx="665.7" cy="279.9" r="3.1"/>
<circle class="c3" cx="666.5" cy="280.3" r="3.1"/>
<circle class="c20" cx="634" cy="343" r="3.1"/>
<circle class="c5" cx="669.1" cy="287.7" r="3.1"/>
<circle class="c22" cx="601.8" cy="350.7" r="3.1"/>
<circle class="c20" cx="622.5" cy="344" r="3.1"/>
<circle class="c16" cx="685.3" cy="328.7" r="3.1"/>
<circle class="c21" cx="618.3" cy="346" r="3.1"/>
<circle class="c26" cx="549.5" cy="363.8" r="3.1"/>
<circle class="c21" cx="660" cy="345.5" r="3.1"/>
<circle class="c26" cx="536.1" cy="366.7" r="3.1"/>
<circle class="c3" cx="665.9" cy="280" r="3.1"/>
<circle class="c21" cx="650.9" cy="344.7" r="3.1"/>
<circle class="c4" cx="667.5" cy="283.3" r="3.1"/>
<circle class="c23" cx="590.4" cy="355.1" r="3.1"/>
<circle class="c20" cx="635.4" cy="343.2" r="3.1"/>
<circle class="c24" cx="586" cy="356.8" r="3.1"/>
<circle class="c20" cx="637.9" cy="343.3" r="3.1"/>
<circle class="c6" cx="671" cy="291.2" r="3.1"/>
<circle class="c26" cx="545.9" cy="365.4" r="3.1"/>
<circle class="c7" cx="672.9" cy="294.5" r="3.1"/>
<circle class="c13" cx="680.4" cy="315" r="3.1"/>
<circle class="c7" cx="673" cy="295.4" r="3.1"/>
<circle class="c4" cx="667.4" cy="282.3" r="3.1"/>
<circle class="c20" cx="631.2" cy="342.6" r="3.1"/>
<circle class="c24" cx="576.3" cy="358.9" r="3.1"/>
<circle class="c20" cx="645.9" cy="343.1" r="3.1"/>
<circle class="c22" cx="608.5" cy="349" r="3.1"/>
<circle class="c25" cx="574.7" cy="359.9" r="3.1"/>
<circle class="c21" cx="611.7" cy="346.9" r="3.1"/>
<circle class="c18" cx="686.5" cy="337.1" r="3.1"/>
<circle class="c20" cx="690" cy="344.4" r="3.1"/>
<circle class="c31" cx="423.4" cy="384.7" r="3.1"/>
<circle class="c20" cx="639.2" cy="342.5" r="3.1"/>
<circle class="c21" cx="670.7" cy="346.4" r="3.1"/>
<circle class="c21" cx="620.8" cy="345.9" r="3.1"/>
<circle class="c20" cx="629.1" cy="343.4" r="3.1"/>
<circle class="c20" cx="626" cy="344.4" r="3.1"/>
<circle class="c20" cx="630.7" cy="343.9" r="3.1"/>
<circle class="c21" cx="677.4" cy="345.7" r="3.1"/>
<circle class="c20" cx="626.8" cy="344.4" r="3.1"/>
<circle class="c4" cx="666.9" cy="284.2" r="3.1"/>
<circle class="c26" cx="539.5" cy="366.1" r="3.1"/>
<circle class="c21" cx="662.2" cy="345.1" r="3.1"/>
<circle class="c20" cx="634.5" cy="344.2" r="3.1"/>
<circle class="c21" cx="679.6" cy="345.7" r="3.1"/>
<circle class="c20" cx="636.8" cy="343" r="3.1"/>
<circle class="c8" cx="674.6" cy="298.4" r="3.1"/>
<circle class="c22" cx="602.4" cy="351.8" r="3.1"/>
<circle class="c6" cx="671.1" cy="290.7" r="3.1"/>
<circle class="c21" cx="656.7" cy="345.1" r="3.1"/>
<circle class="c4" cx="667.9" cy="283.3" r="3.1"/>
<circle class="c21" cx="610.5" cy="348.4" r="3.1"/>
<circle class="c4" cx="667.1" cy="283.2" r="3.1"/>
<circle class="c21" cx="615.6" cy="346.6" r="3.1"/>
<circle class="c21" cx="613.2" cy="347.9" r="3.1"/>
<circle class="c23" cx="597.4" cy="353.8" r="3.1"/>
<circle class="c6" cx="670.6" cy="289.8" r="3.1"/>
<circle class="c14" cx="682.6" cy="321.7" r="3.1"/>
<circle class="c3" cx="665.5" cy="280.2" r="3.1"/>
<circle class="c20" cx="647.1" cy="343.9" r="3.1"/>
<circle class="c21" cx="623.1" cy="345.4" r="3.1"/>
<circle class="c20" cx="633" cy="343" r="3.1"/>
<circle class="c21" cx="613.7" cy="347.4" r="3.1"/>
<circle class="c22" cx="598.5" cy="352.1" r="3.1"/>
<circle class="c21" cx="667.3" cy="344.9" r="3.1"/>
<circle class="c20" cx="624.7" cy="344.6" r="3.1"/>
<circle class="c20" cx="644" cy="343.5" r="3.1"/>
<circle class="c20" cx="649.5" cy="343.5" r="3.1"/>
<circle class="c5" cx="669.4" cy="286.6" r="3.1"/>
<circle class="c29" cx="458.7" cy="376.2" r="3.1"/>
<circle class="c22" cx="604.9" cy="350.8" r="3.1"/>
<circle class="c22" cx="606.7" cy="349.9" r="3.1"/>
<circle class="c25" cx="564.3" cy="362.6" r="3.1"/>
<circle class="c21" cx="622.1" cy="345.1" r="3.1"/>
<circle class="c11" cx="678.9" cy="309.5" r="3.1"/>
<circle class="c21" cx="616.2" cy="347" r="3.1"/>
<circle class="c20" cx="638.4" cy="344.2" r="3.1"/>
<circle class="c7" cx="672.8" cy="294.5" r="3.1"/>
<circle class="c23" cx="593.1" cy="355.4" r="3.1"/>
<circle class="c23" cx="594.3" cy="354.4" r="3.1"/>
<circle class="c21" cx="681.7" cy="346.4" r="3.1"/>
<circle class="c21" cx="619.5" cy="346.1" r="3.1"/>
<circle class="c26" cx="543.8" cy="366" r="3.1"/>
<circle class="c20" cx="631.8" cy="344.4" r="3.1"/>
<circle class="c31" cx="415" cy="385.7" r="3.1"/>
<circle class="c23" cx="599.3" cy="353.4" r="3.1"/>
<circle class="c21" cx="623.5" cy="345.8" r="3.1"/>
<circle class="c22" cx="601.3" cy="352.2" r="3.1"/>
<circle class="c20" cx="630.1" cy="344.1" r="3.1"/>
<circle class="c5" cx="669" cy="286.1" r="3.1"/>
<circle class="c9" cx="676.5" cy="303.2" r="3.1"/>
<circle class="c20" cx="654.3" cy="344.7" r="3.1"/>
<circle class="c20" cx="646" cy="344.4" r="3.1"/>
<circle class="c20" cx="642" cy="344.3" r="3.1"/>
<circle class="c10" cx="676.4" cy="304.3" r="3.1"/>
<circle class="c20" cx="625" cy="344.3" r="3.1"/>
<circle class="c21" cx="665.3" cy="346.6" r="3.1"/>
<circle class="c21" cx="617.1" cy="346.9" r="3.1"/>
<circle class="c6" cx="671.1" cy="289.7" r="3.1"/>
<circle class="c21" cx="614.9" cy="348.4" r="3.1"/>
<circle class="c27" cx="528.2" cy="367.6" r="3.1"/>
<circle class="c21" cx="649.2" cy="345.7" r="3.1"/>
<circle class="c29" cx="404.3" cy="375.3" r="3.1"/>
<circle class="c6" cx="670.9" cy="290.1" r="3.1"/>
<circle class="c7" cx="673.2" cy="293.2" r="3.1"/>
<circle class="c24" cx="569.2" cy="360" r="3.1"/>
<circle class="c22" cx="605.4" cy="350.9" r="3.1"/>
<circle class="c7" cx="673.3" cy="293.7" r="3.1"/>
<circle class="c21" cx="621.3" cy="346.6" r="3.1"/>
<circle class="c24" cx="583.6" cy="357.3" r="3.1"/>
<circle class="c21" cx="624.6" cy="346.2" r="3.1"/>
<circle class="c21" cx="652.9" cy="345.4" r="3.1"/>
<circle class="c20" cx="631.1" cy="344.2" r="3.1"/>
<circle class="c21" cx="663.2" cy="346" r="3.1"/>
<circle class="c21" cx="618.3" cy="347.6" r="3.1"/>
<circle class="c21" cx="657.2" cy="346" r="3.1"/>
<circle class="c16" cx="685.1" cy="327.4" r="3.1"/>
<circle class="c14" cx="683.6" cy="320.2" r="3.1"/>
<circle class="c21" cx="617.8" cy="346.7" r="3.1"/>
<circle class="c21" cx="684.5" cy="346.7" r="3.1"/>
<circle class="c22" cx="608.1" cy="350.8" r="3.1"/>
<circle class="c21" cx="627.5" cy="345.5" r="3.1"/>
<circle class="c12" cx="680.5" cy="314.8" r="3.1"/>
<circle class="c26" cx="531.9" cy="367.2" r="3.1"/>
<circle class="c4" cx="667.5" cy="283.3" r="3.1"/>
<circle class="c22" cx="613" cy="349.5" r="3.1"/>
<circle class="c21" cx="612.4" cy="348.2" r="3.1"/>
<circle class="c20" cx="629.4" cy="344.9" r="3.1"/>
<circle class="c20" cx="635.9" cy="344.9" r="3.1"/>
<circle class="c25" cx="572.3" cy="360.5" r="3.1"/>
<circle class="c23" cx="595.2" cy="354.4" r="3.1"/>
<circle class="c20" cx="633.7" cy="344.8" r="3.1"/>
<circle class="c3" cx="666.9" cy="278.5" r="3.1"/>
<circle class="c8" cx="674.9" cy="297.4" r="3.1"/>
<circle class="c22" cx="609" cy="349.2" r="3.1"/>
<circle class="c5" cx="670.2" cy="285.5" r="3.1"/>
<circle class="c21" cx="643.6" cy="345.5" r="3.1"/>
<circle class="c18" cx="687.2" cy="335.1" r="3.1"/>
<circle class="c20" cx="639.7" cy="344.4" r="3.1"/>
<circle class="c25" cx="566.7" cy="362.1" r="3.1"/>
<circle class="c22" cx="602.1" cy="352.8" r="3.1"/>
<circle class="c21" cx="624" cy="346.8" r="3.1"/>
<circle class="c21" cx="620.2" cy="347.1" r="3.1"/>
<circle class="c4" cx="669.2" cy="285" r="3.1"/>
<circle class="c21" cx="673.3" cy="347.6" r="3.1"/>
<circle class="c27" cx="524.7" cy="369.8" r="3.1"/>
<circle class="c21" cx="625.3" cy="345.8" r="3.1"/>
<circle class="c21" cx="615.3" cy="348.6" r="3.1"/>
<circle class="c23" cx="591.3" cy="355.9" r="3.1"/>
<circle class="c24" cx="586.8" cy="357.2" r="3.1"/>
<circle class="c21" cx="641.4" cy="345.6" r="3.1"/>
<circle class="c3" cx="667.6" cy="281.7" r="3.1"/>
<circle class="c21" cx="675" cy="347.2" r="3.1"/>
<circle class="c20" cx="633.1" cy="345.3" r="3.1"/>
<circle class="c21" cx="622.1" cy="346.7" r="3.1"/>
<circle class="c22" cx="611" cy="350.1" r="3.1"/>
<circle class="c23" cx="600.2" cy="353.5" r="3.1"/>
<circle class="c22" cx="610.9" cy="349.7" r="3.1"/>
<circle class="c21" cx="667.8" cy="346.8" r="3.1"/>
<circle class="c25" cx="570" cy="361.9" r="3.1"/>
<circle class="c21" cx="622.6" cy="347.6" r="3.1"/>
<circle class="c24" cx="582.2" cy="359" r="3.1"/>
<circle class="c21" cx="626.4" cy="345.8" r="3.1"/>
<circle class="c21" cx="617.8" cy="348.4" r="3.1"/>
<circle class="c20" cx="639.4" cy="345.3" r="3.1"/>
<circle class="c9" cx="677" cy="302" r="3.1"/>
<circle class="c4" cx="669.5" cy="285.1" r="3.1"/>
<circle class="c22" cx="614.7" cy="349.3" r="3.1"/>
<circle class="c21" cx="659.2" cy="346.4" r="3.1"/>
<circle class="c5" cx="671.3" cy="289" r="3.1"/>
<circle class="c20" cx="629.4" cy="345.4" r="3.1"/>
<circle class="c22" cx="608.6" cy="350.4" r="3.1"/>
<circle class="c20" cx="653.9" cy="345.4" r="3.1"/>
<circle class="c21" cx="616.3" cy="348.4" r="3.1"/>
<circle class="c4" cx="667.4" cy="282.1" r="3.1"/>
<circle class="c21" cx="661" cy="347.3" r="3.1"/>
<circle class="c24" cx="584.2" cy="358.3" r="3.1"/>
<circle class="c22" cx="603.9" cy="351.3" r="3.1"/>
<circle class="c23" cx="597.5" cy="354.3" r="3.1"/>
<circle class="c5" cx="671.5" cy="288" r="3.1"/>
<circle class="c21" cx="629.7" cy="346.2" r="3.1"/>
<circle class="c6" cx="672.7" cy="292.6" r="3.1"/>
<circle class="c11" cx="678.9" cy="308.9" r="3.1"/>
<circle class="c20" cx="634.5" cy="345.3" r="3.1"/>
<circle class="c23" cx="603" cy="353.5" r="3.1"/>
<circle class="c27" cx="536.3" cy="368.2" r="3.1"/>
<circle class="c20" cx="637.7" cy="344.6" r="3.1"/>
<circle class="c10" cx="678.3" cy="306.5" r="3.1"/>
<circle class="c4" cx="669.7" cy="284.4" r="3.1"/>
<circle class="c22" cx="616.5" cy="349.6" r="3.1"/>
<circle class="c12" cx="681.1" cy="313.2" r="3.1"/>
<circle class="c21" cx="650.3" cy="345.7" r="3.1"/>
<circle class="c24" cx="577.9" cy="360.5" r="3.1"/>
<circle class="c21" cx="652" cy="346.8" r="3.1"/>
<circle class="c21" cx="646.7" cy="345.9" r="3.1"/>
<circle class="c13" cx="683" cy="318.7" r="3.1"/>
<circle class="c6" cx="672.9" cy="293.2" r="3.1"/>
<circle class="c21" cx="628.9" cy="346.1" r="3.1"/>
<circle class="c5" cx="670.9" cy="289" r="3.1"/>
<circle class="c24" cx="579.2" cy="359.5" r="3.1"/>
<circle class="c25" cx="567.6" cy="362.5" r="3.1"/>
<circle class="c20" cx="630.6" cy="345.3" r="3.1"/>
<circle class="c22" cx="605.1" cy="352.5" r="3.1"/>
<circle class="c20" cx="632.2" cy="345.6" r="3.1"/>
<circle class="c22" cx="606.6" cy="352" r="3.1"/>
<circle class="c23" cx="594" cy="355.3" r="3.1"/>
<circle class="c3" cx="667.8" cy="281.1" r="3.1"/>
<circle class="c20" cx="631.2" cy="345.7" r="3.1"/>
<circle class="c21" cx="655.2" cy="347.2" r="3.1"/>
<circle class="c21" cx="640.3" cy="346.2" r="3.1"/>
<circle class="c3" cx="668.3" cy="280.6" r="3.1"/>
<circle class="c21" cx="633.4" cy="346.5" r="3.1"/>
<circle class="c22" cx="609.5" cy="350.9" r="3.1"/>
<circle class="c27" cx="520" cy="370.4" r="3.1"/>
<circle class="c4" cx="669.4" cy="284.8" r="3.1"/>
<circle class="c21" cx="621" cy="347.3" r="3.1"/>
<circle class="c21" cx="642.9" cy="346.2" r="3.1"/>
<circle class="c3" cx="667.8" cy="281" r="3.1"/>
<circle class="c25" cx="575.8" cy="361.7" r="3.1"/>
<circle class="c20" cx="637" cy="345.8" r="3.1"/>
<circle class="c21" cx="619.1" cy="348.9" r="3.1"/>
<circle class="c25" cx="561.9" cy="363.2" r="3.1"/>
<circle class="c21" cx="668.9" cy="347.7" r="3.1"/>
<circle class="c21" cx="618.7" cy="348.5" r="3.1"/>
<circle class="c10" cx="679" cy="306.5" r="3.1"/>
<circle class="c21" cx="676.9" cy="347.6" r="3.1"/>
<circle class="c9" cx="677" cy="301.3" r="3.1"/>
<circle class="c21" cx="635.2" cy="346.6" r="3.1"/>
<circle class="c21" cx="648" cy="346.3" r="3.1"/>
<circle class="c21" cx="686.2" cy="346.6" r="3.1"/>
<circle class="c21" cx="662.8" cy="347.5" r="3.1"/>
<circle class="c21" cx="627.4" cy="346.3" r="3.1"/>
<circle class="c21" cx="643.5" cy="346.4" r="3.1"/>
<circle class="c19" cx="690.6" cy="342.1" r="3.1"/>
<circle class="c4" cx="670.3" cy="283.6" r="3.1"/>
<circle class="c4" cx="669.9" cy="283.9" r="3.1"/>
<circle class="c23" cx="591.7" cy="357.1" r="3.1"/>
<circle class="c21" cx="622" cy="347.8" r="3.1"/>
<circle class="c17" cx="687.8" cy="333.9" r="3.1"/>
<circle class="c21" cx="658.8" cy="349.2" r="3.1"/>
<circle class="c21" cx="625.1" cy="346.5" r="3.1"/>
<circle class="c4" cx="669.9" cy="282.9" r="3.1"/>
<circle class="c22" cx="608" cy="352.3" r="3.1"/>
<circle class="c24" cx="589.1" cy="357.2" r="3.1"/>
<circle class="c21" cx="657.6" cy="347.4" r="3.1"/>
<circle class="c21" cx="629.9" cy="346.8" r="3.1"/>
<circle class="c15" cx="684.9" cy="325.7" r="3.1"/>
<circle class="c25" cx="559" cy="364.1" r="3.1"/>
<circle class="c20" cx="644.6" cy="345.5" r="3.1"/>
<circle class="c6" cx="673.1" cy="292.1" r="3.1"/>
<circle class="c22" cx="613.4" cy="350.8" r="3.1"/>
<circle class="c21" cx="629.3" cy="347.6" r="3.1"/>
<circle class="c22" cx="612.7" cy="350.3" r="3.1"/>
<circle class="c5" cx="671.6" cy="287.5" r="3.1"/>
<circle class="c21" cx="618.5" cy="349.6" r="3.1"/>
<circle class="c24" cx="580.9" cy="360.8" r="3.1"/>
<circle class="c25" cx="565.3" cy="362.5" r="3.1"/>
<circle class="c6" cx="673.2" cy="291.5" r="3.1"/>
<circle class="c27" cx="532.9" cy="369.5" r="3.1"/>
<circle class="c23" cx="596.1" cy="355.1" r="3.1"/>
<circle class="c23" cx="600.9" cy="354" r="3.1"/>
<circle class="c21" cx="615" cy="349.3" r="3.1"/>
<circle class="c7" cx="675.1" cy="296.3" r="3.1"/>
<circle class="c21" cx="645.6" cy="346.7" r="3.1"/>
<circle class="c24" cx="582.6" cy="359.7" r="3.1"/>
<circle class="c21" cx="641.7" cy="346.9" r="3.1"/>
<circle class="c21" cx="626.9" cy="346.6" r="3.1"/>
<circle class="c21" cx="617.7" cy="349.5" r="3.1"/>
<circle class="c6" cx="673.1" cy="290.5" r="3.1"/>
<circle class="c21" cx="620.8" cy="347.5" r="3.1"/>
<circle class="c7" cx="675.4" cy="297.1" r="3.1"/>
<circle class="c22" cx="612" cy="352.1" r="3.1"/>
<circle class="c21" cx="623.1" cy="348.4" r="3.1"/>
<circle class="c11" cx="681.2" cy="311" r="3.1"/>
<circle class="c6" cx="673" cy="290.4" r="3.1"/>
<circle class="c22" cx="610.5" cy="351.4" r="3.1"/>
<circle class="c23" cx="598.2" cy="354.4" r="3.1"/>
<circle class="c22" cx="603.3" cy="353.4" r="3.1"/>
<circle class="c22" cx="615.1" cy="350.6" r="3.1"/>
<circle class="c21" cx="649.2" cy="346.7" r="3.1"/>
<circle class="c21" cx="620.1" cy="348.1" r="3.1"/>
<circle class="c5" cx="672.3" cy="288.4" r="3.1"/>
<circle class="c21" cx="639.6" cy="347.3" r="3.1"/>
<circle class="c7" cx="674.8" cy="295.4" r="3.1"/>
<circle class="c21" cx="624.7" cy="347.1" r="3.1"/>
<circle class="c24" cx="587.8" cy="359" r="3.1"/>
<circle class="c21" cx="653.6" cy="347.6" r="3.1"/>
<circle class="c26" cx="539.5" cy="367.3" r="3.1"/>
<circle class="c23" cx="594.6" cy="356.5" r="3.1"/>
<circle class="c21" cx="634.8" cy="347.3" r="3.1"/>
<circle class="c23" cx="597" cy="356.3" r="3.1"/>
<circle class="c21" cx="632.9" cy="346.8" r="3.1"/>
<circle class="c15" cx="685.6" cy="324.2" r="3.1"/>
<circle class="c17" cx="687.5" cy="331.6" r="3.1"/>
<circle class="c21" cx="688.1" cy="347.1" r="3.1"/>
<circle class="c21" cx="670.9" cy="348.3" r="3.1"/>
<circle class="c20" cx="638.6" cy="345.8" r="3.1"/>
<circle class="c26" cx="556.6" cy="365.2" r="3.1"/>
<circle class="c7" cx="675.5" cy="295.3" r="3.1"/>
<circle class="c21" cx="631.5" cy="347.1" r="3.1"/>
<circle class="c27" cx="403.4" cy="371.1" r="3.1"/>
<circle class="c22" cx="606.1" cy="353" r="3.1"/>
<circle class="c27" cx="525" cy="371.4" r="3.1"/>
<circle class="c21" cx="638.6" cy="347.4" r="3.1"/>
<circle class="c7" cx="675.5" cy="294.2" r="3.1"/>
<circle class="c13" cx="683.3" cy="317.9" r="3.1"/>
<circle class="c24" cx="578.1" cy="361.2" r="3.1"/>
<circle class="c26" cx="553.7" cy="366.2" r="3.1"/>
<circle class="c21" cx="664.9" cy="349.5" r="3.1"/>
<circle class="c8" cx="677.2" cy="299.5" r="3.1"/>
<circle class="c27" cx="528.4" cy="370" r="3.1"/>
<circle class="c21" cx="637.7" cy="346.6" r="3.1"/>
<circle class="c19" cx="690.4" cy="340.9" r="3.1"/>
<circle class="c21" cx="619.5" cy="349.6" r="3.1"/>
<circle class="c21" cx="620.7" cy="350" r="3.1"/>
<circle class="c27" cx="511.4" cy="372" r="3.1"/>
<circle class="c21" cx="636.1" cy="347.9" r="3.1"/>
<circle class="c4" cx="672.2" cy="286.2" r="3.1"/>
<circle class="c25" cx="562.6" cy="364.8" r="3.1"/>
<circle class="c27" cx="516.2" cy="371.3" r="3.1"/>
<circle class="c22" cx="607.2" cy="353.6" r="3.1"/>
<circle class="c7" cx="675.4" cy="294.1" r="3.1"/>
<circle class="c3" cx="669.7" cy="282.6" r="3.1"/>
<circle class="c21" cx="655.1" cy="347.5" r="3.1"/>
<circle class="c4" cx="671.6" cy="285.6" r="3.1"/>
<circle class="c21" cx="679.1" cy="348" r="3.1"/>
<circle class="c21" cx="666.4" cy="348.8" r="3.1"/>
<circle class="c5" cx="671.4" cy="286.9" r="3.1"/>
<circle class="c23" cx="595.5" cy="357.3" r="3.1"/>
<circle class="c6" cx="673.7" cy="290.7" r="3.1"/>
<circle class="c22" cx="604.4" cy="353.7" r="3.1"/>
<circle class="c22" cx="609.5" cy="352.8" r="3.1"/>
<circle class="c21" cx="626.9" cy="347.3" r="3.1"/>
<circle class="c21" cx="690.4" cy="347.6" r="3.1"/>
<circle class="c21" cx="650.8" cy="347.5" r="3.1"/>
<circle class="c21" cx="619.9" cy="349.7" r="3.1"/>
<circle class="c21" cx="627.6" cy="347.8" r="3.1"/>
<circle class="c4" cx="671.5" cy="286.4" r="3.1"/>
<circle class="c21" cx="621.9" cy="348.9" r="3.1"/>
<circle class="c23" cx="599.7" cy="355.6" r="3.1"/>
<circle class="c22" cx="616.7" cy="351.3" r="3.1"/>
<circle class="c11" cx="681.1" cy="310.7" r="3.1"/>
<circle class="c12" cx="683.2" cy="316.2" r="3.1"/>
<circle class="c24" cx="586.4" cy="359.6" r="3.1"/>
<circle class="c3" cx="669.3" cy="282.8" r="3.1"/>
<circle class="c21" cx="683.3" cy="349" r="3.1"/>
<circle class="c31" cx="400.6" cy="384.4" r="3.1"/>
<circle class="c24" cx="589.1" cy="359.2" r="3.1"/>
<circle class="c21" cx="614.1" cy="350.4" r="3.1"/>
<circle class="c21" cx="651.9" cy="349" r="3.1"/>
<circle class="c21" cx="634" cy="347.9" r="3.1"/>
<circle class="c22" cx="617.7" cy="351.1" r="3.1"/>
<circle class="c21" cx="681.2" cy="348.7" r="3.1"/>
<circle class="c25" cx="573.7" cy="362.8" r="3.1"/>
<circle class="c21" cx="692.2" cy="347.9" r="3.1"/>
<circle class="c21" cx="667" cy="349.2" r="3.1"/>
<circle class="c22" cx="609.7" cy="352.3" r="3.1"/>
<circle class="c8" cx="677.4" cy="299.4" r="3.1"/>
<circle class="c21" cx="625.4" cy="347.9" r="3.1"/>
<circle class="c21" cx="644.9" cy="347.6" r="3.1"/>
<circle class="c4" cx="672.3" cy="285.5" r="3.1"/>
<circle class="c18" cx="690.5" cy="338.5" r="3.1"/>
<circle class="c21" cx="674.2" cy="349.6" r="3.1"/>
<circle class="c21" cx="660.1" cy="349.5" r="3.1"/>
<circle class="c23" cx="590" cy="357.7" r="3.1"/>
<circle class="c6" cx="674.8" cy="293.3" r="3.1"/>
<circle class="c21" cx="672.6" cy="348.7" r="3.1"/>
<circle class="c21" cx="623.5" cy="348.9" r="3.1"/>
<circle class="c4" cx="670.7" cy="283.5" r="3.1"/>
<circle class="c23" cx="601.8" cy="354.8" r="3.1"/>
<circle class="c25" cx="576.7" cy="362.2" r="3.1"/>
<circle class="c22" cx="613.4" cy="352.3" r="3.1"/>
<circle class="c9" cx="678.8" cy="304.5" r="3.1"/>
<circle class="c26" cx="551.1" cy="367.1" r="3.1"/>
<circle class="c21" cx="628.2" cy="348.8" r="3.1"/>
<circle class="c28" cx="502.8" cy="374" r="3.1"/>
<circle class="c21" cx="644.3" cy="348.4" r="3.1"/>
<circle class="c21" cx="629.9" cy="348.3" r="3.1"/>
<circle class="c21" cx="662.1" cy="348.9" r="3.1"/>
<circle class="c5" cx="673" cy="289.8" r="3.1"/>
<circle class="c21" cx="628" cy="349.3" r="3.1"/>
<circle class="c22" cx="620.5" cy="350.8" r="3.1"/>
<circle class="c21" cx="626.2" cy="348.8" r="3.1"/>
<circle class="c14" cx="685.4" cy="322.5" r="3.1"/>
<circle class="c21" cx="655.7" cy="349" r="3.1"/>
<circle class="c21" cx="623.6" cy="348.6" r="3.1"/>
<circle class="c21" cx="622.9" cy="350.6" r="3.1"/>
<circle class="c27" cx="507.5" cy="372.6" r="3.1"/>
<circle class="c21" cx="639.4" cy="348.9" r="3.1"/>
<circle class="c4" cx="671.6" cy="284.1" r="3.1"/>
<circle class="c24" cx="583.7" cy="360.9" r="3.1"/>
<circle class="c21" cx="632.5" cy="348.6" r="3.1"/>
<circle class="c22" cx="618.3" cy="351.5" r="3.1"/>
<circle class="c7" cx="677.3" cy="298.1" r="3.1"/>
<circle class="c21" cx="640.2" cy="347.3" r="3.1"/>
<circle class="c21" cx="631.2" cy="348.3" r="3.1"/>
<circle class="c23" cx="594" cy="357.7" r="3.1"/>
<circle class="c4" cx="672" cy="284.4" r="3.1"/>
<circle class="c21" cx="635.3" cy="348.2" r="3.1"/>
<circle class="c9" cx="678.8" cy="304.1" r="3.1"/>
<circle class="c22" cx="611" cy="352.8" r="3.1"/>
<circle class="c25" cx="560.1" cy="364.8" r="3.1"/>
<circle class="c7" cx="677.5" cy="297.6" r="3.1"/>
<circle class="c21" cx="676.3" cy="349" r="3.1"/>
<circle class="c21" cx="630.4" cy="349.1" r="3.1"/>
<circle class="c27" cx="521.1" cy="372.7" r="3.1"/>
<circle class="c21" cx="622.3" cy="349.7" r="3.1"/>
<circle class="c6" cx="675.6" cy="293.4" r="3.1"/>
<circle class="c22" cx="612" cy="352.4" r="3.1"/>
<circle class="c22" cx="607.2" cy="353.3" r="3.1"/>
<circle class="c21" cx="643.1" cy="347.8" r="3.1"/>
<circle class="c26" cx="403.7" cy="367" r="3.1"/>
<circle class="c21" cx="646.3" cy="348.7" r="3.1"/>
<circle class="c22" cx="614.5" cy="352.1" r="3.1"/>
<circle class="c25" cx="581.7" cy="362.1" r="3.1"/>
<circle class="c23" cx="602.7" cy="355.2" r="3.1"/>
<circle class="c25" cx="571.4" cy="364.3" r="3.1"/>
<circle class="c22" cx="608.4" cy="352.8" r="3.1"/>
<circle class="c24" cx="587.1" cy="361" r="3.1"/>
<circle class="c16" cx="688.3" cy="330.1" r="3.1"/>
<circle class="c6" cx="675.7" cy="292.9" r="3.1"/>
<circle class="c21" cx="648.9" cy="349" r="3.1"/>
<circle class="c22" cx="611.7" cy="353.1" r="3.1"/>
<circle class="c21" cx="636.9" cy="348.9" r="3.1"/>
<circle class="c22" cx="605.6" cy="353.8" r="3.1"/>
<circle class="c23" cx="600.9" cy="356.1" r="3.1"/>
<circle class="c21" cx="627.1" cy="349.9" r="3.1"/>
<circle class="c22" cx="616.4" cy="351.8" r="3.1"/>
<circle class="c5" cx="673.6" cy="288.3" r="3.1"/>
<circle class="c21" cx="634.6" cy="349.8" r="3.1"/>
<circle class="c22" cx="618.3" cy="352.7" r="3.1"/>
<circle class="c23" cx="593.9" cy="358.4" r="3.1"/>
<circle class="c26" cx="556.1" cy="366.4" r="3.1"/>
<circle class="c21" cx="648.6" cy="348" r="3.1"/>
<circle class="c21" cx="654.2" cy="349.7" r="3.1"/>
<circle class="c21" cx="631.7" cy="349" r="3.1"/>
<circle class="c23" cx="598.5" cy="357.5" r="3.1"/>
<circle class="c21" cx="619.8" cy="350.6" r="3.1"/>
<circle class="c21" cx="625.7" cy="350.1" r="3.1"/>
<circle class="c21" cx="648" cy="350" r="3.1"/>
<circle class="c21" cx="638.8" cy="350.1" r="3.1"/>
<circle class="c21" cx="664.8" cy="350.8" r="3.1"/>
<circle class="c21" cx="624.4" cy="350.3" r="3.1"/>
<circle class="c21" cx="631.7" cy="350.2" r="3.1"/>
<circle class="c5" cx="673.5" cy="288.7" r="3.1"/>
<circle class="c22" cx="620.3" cy="351.8" r="3.1"/>
<circle class="c22" cx="613.4" cy="353.1" r="3.1"/>
<circle class="c5" cx="673.9" cy="287.9" r="3.1"/>
<circle class="c23" cx="592" cy="358.5" r="3.1"/>
<circle class="c21" cx="629.6" cy="350" r="3.1"/>
<circle class="c6" cx="675.5" cy="292.5" r="3.1"/>
<circle class="c21" cx="637" cy="348.9" r="3.1"/>
<circle class="c5" cx="675.7" cy="291.2" r="3.1"/>
<circle class="c22" cx="617.3" cy="352.3" r="3.1"/>
<circle class="c14" cx="686.2" cy="321.8" r="3.1"/>
<circle class="c21" cx="669.9" cy="350.7" r="3.1"/>
<circle class="c18" cx="689.1" cy="336.7" r="3.1"/>
<circle class="c5" cx="673.4" cy="288.7" r="3.1"/>
<circle class="c23" cx="599.2" cy="357.7" r="3.1"/>
<circle class="c20" cx="693" cy="345.9" r="3.1"/>
<circle class="c21" cx="642.8" cy="349.5" r="3.1"/>
<circle class="c7" cx="677" cy="296.2" r="3.1"/>
<circle class="c25" cx="568.8" cy="364.6" r="3.1"/>
<circle class="c26" cx="547.2" cy="368.6" r="3.1"/>
<circle class="c28" cx="497.6" cy="374.6" r="3.1"/>
<circle class="c4" cx="671.5" cy="284.4" r="3.1"/>
<circle class="c21" cx="626.6" cy="351.2" r="3.1"/>
<circle class="c12" cx="683.6" cy="315.2" r="3.1"/>
<circle class="c4" cx="674.2" cy="286.4" r="3.1"/>
<circle class="c21" cx="641.9" cy="348.8" r="3.1"/>
<circle class="c7" cx="677" cy="297.2" r="3.1"/>
<circle class="c22" cx="607.1" cy="355" r="3.1"/>
<circle class="c27" cx="516.9" cy="373.9" r="3.1"/>
<circle class="c23" cx="604.5" cy="356.3" r="3.1"/>
<circle class="c21" cx="657.5" cy="349.6" r="3.1"/>
<circle class="c21" cx="678" cy="350" r="3.1"/>
<circle class="c25" cx="574.3" cy="363.3" r="3.1"/>
<circle class="c23" cx="602.9" cy="356.4" r="3.1"/>
<circle class="c24" cx="585" cy="361.3" r="3.1"/>
<circle class="c22" cx="613.9" cy="353.1" r="3.1"/>
<circle class="c10" cx="681.1" cy="309.3" r="3.1"/>
<circle class="c21" cx="651" cy="350.5" r="3.1"/>
<circle class="c22" cx="619.4" cy="352.4" r="3.1"/>
<circle class="c4" cx="674.2" cy="287.6" r="3.1"/>
<circle class="c22" cx="610" cy="354.6" r="3.1"/>
<circle class="c8" cx="678.3" cy="302.2" r="3.1"/>
<circle class="c8" cx="679.3" cy="302.6" r="3.1"/>
<circle class="c22" cx="618" cy="353.2" r="3.1"/>
<circle class="c23" cx="597.3" cy="358" r="3.1"/>
<circle class="c21" cx="641.2" cy="349.7" r="3.1"/>
<circle class="c24" cx="590" cy="360.1" r="3.1"/>
<circle class="c21" cx="645.7" cy="349.9" r="3.1"/>
<circle class="c21" cx="641.2" cy="350" r="3.1"/>
<circle class="c28" cx="511.7" cy="374.4" r="3.1"/>
<circle class="c21" cx="624.6" cy="351.1" r="3.1"/>
<circle class="c22" cx="625.8" cy="351.6" r="3.1"/>
<circle class="c11" cx="683.9" cy="313.1" r="3.1"/>
<circle class="c21" cx="627.9" cy="350.6" r="3.1"/>
<circle class="c24" cx="595.9" cy="359.3" r="3.1"/>
<circle class="c21" cx="656.2" cy="351.1" r="3.1"/>
<circle class="c22" cx="621.9" cy="352" r="3.1"/>
<circle class="c21" cx="631.1" cy="350.9" r="3.1"/>
<circle class="c21" cx="672.6" cy="350.9" r="3.1"/>
<circle class="c21" cx="635.7" cy="349.2" r="3.1"/>
<circle class="c3" cx="672.1" cy="282.5" r="3.1"/>
<circle class="c21" cx="664.1" cy="350.1" r="3.1"/>
<circle class="c21" cx="659.6" cy="349.9" r="3.1"/>
<circle class="c21" cx="633" cy="349.7" r="3.1"/>
<circle class="c22" cx="623.5" cy="351.8" r="3.1"/>
<circle class="c23" cx="605.4" cy="355.9" r="3.1"/>
<circle class="c25" cx="571.8" cy="365.2" r="3.1"/>
<circle class="c10" cx="681.5" cy="308" r="3.1"/>
<circle class="c21" cx="685.4" cy="348.4" r="3.1"/>
<circle class="c22" cx="608.4" cy="355.2" r="3.1"/>
<circle class="c22" cx="611.1" cy="354" r="3.1"/>
<circle class="c21" cx="648.7" cy="350.3" r="3.1"/>
<circle class="c26" cx="551.9" cy="368.3" r="3.1"/>
<circle class="c4" cx="673.8" cy="286" r="3.1"/>
<circle class="c21" cx="628.1" cy="351.4" r="3.1"/>
<circle class="c15" cx="688" cy="328.9" r="3.1"/>
<circle class="c21" cx="661.4" cy="351.3" r="3.1"/>
<circle class="c3" cx="671.6" cy="283.8" r="3.1"/>
<circle class="c21" cx="639.7" cy="350.2" r="3.1"/>
<circle class="c26" cx="544.9" cy="369" r="3.1"/>
<circle class="c5" cx="675.8" cy="290.7" r="3.1"/>
<circle class="c22" cx="615" cy="353.4" r="3.1"/>
<circle class="c21" cx="680" cy="351" r="3.1"/>
<circle class="c24" cx="402.8" cy="362.1" r="3.1"/>
<circle class="c25" cx="566.8" cy="365.2" r="3.1"/>
<circle class="c10" cx="681.7" cy="307" r="3.1"/>
<circle class="c8" cx="679.2" cy="300.7" r="3.1"/>
<circle class="c28" cx="492.1" cy="376.2" r="3.1"/>
<circle class="c23" cx="598.2" cy="359.1" r="3.1"/>
<circle class="c25" cx="580.3" cy="363.2" r="3.1"/>
<circle class="c23" cx="609.6" cy="355.7" r="3.1"/>
<circle class="c11" cx="683.7" cy="311.9" r="3.1"/>
<circle class="c26" cx="554.6" cy="367.6" r="3.1"/>
<circle class="c21" cx="687.3" cy="349.3" r="3.1"/>
<circle class="c29" cx="400.6" cy="380" r="3.1"/>
<circle class="c21" cx="654.4" cy="350.1" r="3.1"/>
<circle class="c13" cx="686.1" cy="319.7" r="3.1"/>
<circle class="c17" cx="690.4" cy="334.4" r="3.1"/>
<circle class="c15" cx="688.1" cy="326.7" r="3.1"/>
<circle class="c5" cx="675.9" cy="291.7" r="3.1"/>
<circle class="c23" cx="607.4" cy="356.3" r="3.1"/>
<circle class="c24" cx="592.3" cy="359.7" r="3.1"/>
<circle class="c21" cx="647.1" cy="351" r="3.1"/>
<circle class="c21" cx="667.6" cy="351.1" r="3.1"/>
<circle class="c7" cx="678" cy="296.5" r="3.1"/>
<circle class="c21" cx="634.2" cy="350.4" r="3.1"/>
<circle class="c21" cx="644" cy="351" r="3.1"/>
<circle class="c5" cx="675.6" cy="290.2" r="3.1"/>
<circle class="c22" cx="663.2" cy="352.2" r="3.1"/>
<circle class="c23" cx="601.1" cy="357.3" r="3.1"/>
<circle class="c22" cx="612.5" cy="354.6" r="3.1"/>
<circle class="c25" cx="578.1" cy="364.5" r="3.1"/>
<circle class="c23" cx="610.4" cy="356.2" r="3.1"/>
<circle class="c21" cx="629.7" cy="350.7" r="3.1"/>
<circle class="c4" cx="673.5" cy="287.4" r="3.1"/>
<circle class="c22" cx="613.9" cy="354.5" r="3.1"/>
<circle class="c5" cx="675.2" cy="291.1" r="3.1"/>
<circle class="c21" cx="636.9" cy="350.9" r="3.1"/>
<circle class="c21" cx="673.7" cy="351.5" r="3.1"/>
<circle class="c25" cx="569.9" cy="365.8" r="3.1"/>
<circle class="c22" cx="616.9" cy="354.1" r="3.1"/>
<circle class="c25" cx="581.4" cy="364" r="3.1"/>
<circle class="c21" cx="654" cy="350.5" r="3.1"/>
<circle class="c22" cx="621.5" cy="353.1" r="3.1"/>
<circle class="c22" cx="624.5" cy="352.9" r="3.1"/>
<circle class="c24" cx="583" cy="363.3" r="3.1"/>
<circle class="c22" cx="619.4" cy="353.1" r="3.1"/>
<circle class="c21" cx="633" cy="350.6" r="3.1"/>
<circle class="c21" cx="647.4" cy="352.2" r="3.1"/>
<circle class="c21" cx="689.6" cy="350.3" r="3.1"/>
<circle class="c22" cx="620.2" cy="353.6" r="3.1"/>
<circle class="c21" cx="638.5" cy="351.8" r="3.1"/>
<circle class="c6" cx="677.9" cy="294.6" r="3.1"/>
<circle class="c23" cx="611.8" cy="356" r="3.1"/>
<circle class="c6" cx="677.3" cy="295.2" r="3.1"/>
<circle class="c27" cx="541.3" cy="371.3" r="3.1"/>
<circle class="c21" cx="650.4" cy="351.6" r="3.1"/>
<circle class="c22" cx="623.5" cy="353" r="3.1"/>
<circle class="c24" cx="591.1" cy="361.1" r="3.1"/>
<circle class="c23" cx="603.3" cy="357.4" r="3.1"/>
<circle class="c6" cx="677.9" cy="295.5" r="3.1"/>
<circle class="c21" cx="642.5" cy="351.9" r="3.1"/>
<circle class="c23" cx="604.5" cy="357.2" r="3.1"/>
<circle class="c26" cx="548.4" cy="369.5" r="3.1"/>
<circle class="c23" cx="596.5" cy="359.6" r="3.1"/>
<circle class="c24" cx="588.3" cy="361.1" r="3.1"/>
<circle class="c4" cx="673.8" cy="285" r="3.1"/>
<circle class="c27" cx="507.3" cy="374.7" r="3.1"/>
<circle class="c28" cx="400.7" cy="376" r="3.1"/>
<circle class="c21" cx="692.7" cy="350.4" r="3.1"/>
<circle class="c21" cx="627.4" cy="351.6" r="3.1"/>
<circle class="c21" cx="682.3" cy="351.5" r="3.1"/>
<circle class="c28" cx="486.2" cy="377.4" r="3.1"/>
<circle class="c21" cx="635.4" cy="350.8" r="3.1"/>
<circle class="c22" cx="617" cy="354.1" r="3.1"/>
<circle class="c21" cx="653.9" cy="351.6" r="3.1"/>
<circle class="c24" cx="589.9" cy="362.7" r="3.1"/>
<circle class="c14" cx="688.6" cy="325.4" r="3.1"/>
<circle class="c25" cx="564.6" cy="366.8" r="3.1"/>
<circle class="c21" cx="635.2" cy="352.3" r="3.1"/>
<circle class="c22" cx="676" cy="352.5" r="3.1"/>
<circle class="c4" cx="674.4" cy="286.1" r="3.1"/>
<circle class="c21" cx="630.6" cy="352.3" r="3.1"/>
<circle class="c19" cx="692.4" cy="343.7" r="3.1"/>
<circle class="c21" cx="628.5" cy="352.3" r="3.1"/>
<circle class="c21" cx="694.4" cy="350.6" r="3.1"/>
<circle class="c21" cx="651.7" cy="352.1" r="3.1"/>
<circle class="c23" cx="403.7" cy="358.1" r="3.1"/>
<circle class="c19" cx="692.8" cy="342" r="3.1"/>
<circle class="c16" cx="690.4" cy="333.1" r="3.1"/>
<circle class="c22" cx="633.4" cy="352.6" r="3.1"/>
<circle class="c9" cx="681.3" cy="305.1" r="3.1"/>
<circle class="c6" cx="677.6" cy="294.4" r="3.1"/>
<circle class="c7" cx="679.6" cy="299.6" r="3.1"/>
<circle class="c23" cx="607.7" cy="356.9" r="3.1"/>
<circle class="c21" cx="657.9" cy="352" r="3.1"/>
<circle class="c21" cx="631" cy="351.4" r="3.1"/>
<circle class="c7" cx="679.6" cy="299.2" r="3.1"/>
<circle class="c12" cx="685.6" cy="318.4" r="3.1"/>
<circle class="c27" cx="537.8" cy="371.9" r="3.1"/>
<circle class="c28" cx="502.7" cy="375.8" r="3.1"/>
<circle class="c24" cx="586.9" cy="362.3" r="3.1"/>
<circle class="c21" cx="626" cy="352" r="3.1"/>
<circle class="c23" cx="599.5" cy="359.1" r="3.1"/>
<circle class="c22" cx="615.6" cy="354.9" r="3.1"/>
<circle class="c21" cx="644.7" cy="352.1" r="3.1"/>
<circle class="c4" cx="674" cy="285.3" r="3.1"/>
<circle class="c24" cx="593.9" cy="360.7" r="3.1"/>
<circle class="c25" cx="576.1" cy="365" r="3.1"/>
<circle class="c26" cx="561.7" cy="367.7" r="3.1"/>
<circle class="c5" cx="675.3" cy="289.7" r="3.1"/>
<circle class="c21" cx="684.9" cy="352" r="3.1"/>
<circle class="c22" cx="678.2" cy="352.9" r="3.1"/>
<circle class="c22" cx="626.1" cy="354.4" r="3.1"/>
<circle class="c26" cx="544.9" cy="370.7" r="3.1"/>
<circle class="c21" cx="660.5" cy="352.7" r="3.1"/>
<circle class="c4" cx="675.6" cy="288.9" r="3.1"/>
<circle class="c4" cx="675.5" cy="288.2" r="3.1"/>
<circle class="c6" cx="678" cy="293.6" r="3.1"/>
<circle class="c22" cx="612.8" cy="356.1" r="3.1"/>
<circle class="c21" cx="669.5" cy="351.4" r="3.1"/>
<circle class="c21" cx="641.1" cy="352.3" r="3.1"/>
<circle class="c21" cx="663.9" cy="352.4" r="3.1"/>
<circle class="c23" cx="610.1" cy="357.2" r="3.1"/>
<circle class="c21" cx="655.6" cy="351.8" r="3.1"/>
<circle class="c21" cx="637" cy="352.6" r="3.1"/>
<circle class="c22" cx="614.5" cy="356.2" r="3.1"/>
<circle class="c8" cx="681.8" cy="304" r="3.1"/>
<circle class="c27" cx="533.8" cy="373.3" r="3.1"/>
<circle class="c28" cx="479.5" cy="378.6" r="3.1"/>
<circle class="c23" cx="606.5" cy="357.5" r="3.1"/>
<circle class="c22" cx="624.4" cy="353.9" r="3.1"/>
<circle class="c25" cx="567.3" cy="366.5" r="3.1"/>
<circle class="c21" cx="670.9" cy="352.2" r="3.1"/>
<circle class="c23" cx="602.4" cy="358.4" r="3.1"/>
<circle class="c25" cx="579" cy="365.2" r="3.1"/>
<circle class="c24" cx="594.6" cy="361.5" r="3.1"/>
<circle class="c23" cx="603.8" cy="359.3" r="3.1"/>
<circle class="c10" cx="683.2" cy="311.5" r="3.1"/>
<circle class="c22" cx="652.5" cy="353.3" r="3.1"/>
<circle class="c22" cx="637.7" cy="354.4" r="3.1"/>
<circle class="c21" cx="643.4" cy="352.4" r="3.1"/>
<circle class="c21" cx="649.5" cy="353" r="3.1"/>
<circle class="c22" cx="631.2" cy="353.1" r="3.1"/>
<circle class="c22" cx="617.6" cy="355" r="3.1"/>
<circle class="c22" cx="627.8" cy="353.8" r="3.1"/>
<circle class="c5" cx="678.1" cy="292.1" r="3.1"/>
<circle class="c5" cx="677.4" cy="292.5" r="3.1"/>
<circle class="c7" cx="680.3" cy="298.5" r="3.1"/>
<circle class="c24" cx="584.2" cy="364" r="3.1"/>
<circle class="c4" cx="675.7" cy="287.7" r="3.1"/>
<circle class="c12" cx="686.5" cy="317.3" r="3.1"/>
<circle class="c24" cx="588.4" cy="362.6" r="3.1"/>
<circle class="c22" cx="618.8" cy="354.8" r="3.1"/>
<circle class="c28" cx="498" cy="377.4" r="3.1"/>
<circle class="c22" cx="616.2" cy="356.4" r="3.1"/>
<circle class="c21" cx="679.1" cy="352.8" r="3.1"/>
<circle class="c21" cx="666.2" cy="352.6" r="3.1"/>
<circle class="c22" cx="621.2" cy="354.5" r="3.1"/>
<circle class="c7" cx="680" cy="298.2" r="3.1"/>
<circle class="c21" cx="638.6" cy="352.3" r="3.1"/>
<circle class="c23" cx="607.2" cy="357.9" r="3.1"/>
<circle class="c5" cx="677.9" cy="292.8" r="3.1"/>
<circle class="c22" cx="661.4" cy="353.6" r="3.1"/>
<circle class="c21" cx="642" cy="352.1" r="3.1"/>
<circle class="c23" cx="598.5" cy="360.1" r="3.1"/>
<circle class="c22" cx="630.8" cy="353.3" r="3.1"/>
<circle class="c22" cx="620.8" cy="354.6" r="3.1"/>
<circle class="c8" cx="682.3" cy="303.5" r="3.1"/>
<circle class="c6" cx="679.6" cy="296.8" r="3.1"/>
<circle class="c25" cx="565.1" cy="367.9" r="3.1"/>
<circle class="c24" cx="592.9" cy="361.6" r="3.1"/>
<circle class="c22" cx="617.4" cy="356.4" r="3.1"/>
<circle class="c22" cx="628.7" cy="354.9" r="3.1"/>
<circle class="c10" cx="683.4" cy="309.5" r="3.1"/>
<circle class="c26" cx="559" cy="368.4" r="3.1"/>
<circle class="c16" cx="690.4" cy="331.1" r="3.1"/>
<circle class="c27" cx="530.1" cy="375.1" r="3.1"/>
<circle class="c22" cx="623.1" cy="354" r="3.1"/>
<circle class="c23" cx="601.4" cy="359.4" r="3.1"/>
<circle class="c23" cx="614.2" cy="358" r="3.1"/>
<circle class="c29" cx="472.7" cy="380.8" r="3.1"/>
<circle class="c22" cx="650.8" cy="353.6" r="3.1"/>
<circle class="c22" cx="634.3" cy="353.5" r="3.1"/>
<circle class="c23" cx="611.9" cy="357.7" r="3.1"/>
<circle class="c4" cx="676.5" cy="287.8" r="3.1"/>
<circle class="c24" cx="593.7" cy="361.8" r="3.1"/>
<circle class="c25" cx="577.6" cy="365.7" r="3.1"/>
<circle class="c26" cx="557" cy="370.6" r="3.1"/>
<circle class="c14" cx="688.4" cy="323.7" r="3.1"/>
<circle class="c21" cx="657.6" cy="353" r="3.1"/>
<circle class="c22" cx="639.7" cy="354.4" r="3.1"/>
<circle class="c27" cx="538.2" cy="373.8" r="3.1"/>
<circle class="c22" cx="645.2" cy="353.8" r="3.1"/>
<circle class="c22" cx="611.6" cy="356.7" r="3.1"/>
<circle class="c22" cx="618.9" cy="356.5" r="3.1"/>
<circle class="c23" cx="604.9" cy="359.6" r="3.1"/>
<circle class="c11" cx="685.9" cy="315.7" r="3.1"/>
<circle class="c23" cx="602.3" cy="360.3" r="3.1"/>
<circle class="c22" cx="627.6" cy="353.8" r="3.1"/>
<circle class="c21" cx="646.7" cy="352.6" r="3.1"/>
<circle class="c28" cx="492.2" cy="378.7" r="3.1"/>
<circle class="c22" cx="653.9" cy="353.6" r="3.1"/>
<circle class="c24" cx="591.2" cy="363.2" r="3.1"/>
<circle class="c25" cx="583" cy="365.2" r="3.1"/>
<circle class="c23" cx="608.9" cy="359" r="3.1"/>
<circle class="c18" cx="692.9" cy="339.6" r="3.1"/>
<circle class="c22" cx="625.1" cy="355.3" r="3.1"/>
<circle class="c13" cx="688.3" cy="321.5" r="3.1"/>
<circle class="c24" cx="597.5" cy="362.3" r="3.1"/>
<circle class="c25" cx="574" cy="366.2" r="3.1"/>
<circle class="c7" cx="680" cy="297.5" r="3.1"/>
<circle class="c22" cx="623.2" cy="355.6" r="3.1"/>
<circle class="c4" cx="676.3" cy="287" r="3.1"/>
<circle class="c5" cx="678" cy="291.5" r="3.1"/>
<circle class="c22" cx="626.1" cy="354.2" r="3.1"/>
<circle class="c21" cx="686.6" cy="351.7" r="3.1"/>
<circle class="c4" cx="676.1" cy="286.8" r="3.1"/>
<circle class="c6" cx="679.7" cy="296.1" r="3.1"/>
<circle class="c22" cx="620.3" cy="356.5" r="3.1"/>
<circle class="c22" cx="630.7" cy="355.5" r="3.1"/>
<circle class="c22" cx="621.9" cy="356" r="3.1"/>
<circle class="c27" cx="542.3" cy="372.4" r="3.1"/>
<circle class="c22" cx="633.3" cy="354.5" r="3.1"/>
<circle class="c21" cx="667.3" cy="353.6" r="3.1"/>
<circle class="c26" cx="400.5" cy="371.8" r="3.1"/>
<circle class="c21" cx="673.1" cy="353.3" r="3.1"/>
<circle class="c23" cx="603.8" cy="360.8" r="3.1"/>
<circle class="c22" cx="643.4" cy="354.8" r="3.1"/>
<circle class="c21" cx="658.7" cy="353.5" r="3.1"/>
<circle class="c26" cx="562.4" cy="369" r="3.1"/>
<circle class="c27" cx="525.5" cy="375.6" r="3.1"/>
<circle class="c24" cx="599.8" cy="361.6" r="3.1"/>
<circle class="c21" cx="635.9" cy="353.5" r="3.1"/>
<circle class="c6" cx="679.6" cy="296.5" r="3.1"/>
<circle class="c23" cx="615.7" cy="357.8" r="3.1"/>
<circle class="c21" cx="674.7" cy="353.3" r="3.1"/>
<circle class="c22" cx="630" cy="356.2" r="3.1"/>
<circle class="c8" cx="682.2" cy="302" r="3.1"/>
<circle class="c23" cx="607" cy="359.3" r="3.1"/>
<circle class="c15" cx="691.5" cy="329.7" r="3.1"/>
<circle class="c5" cx="678.1" cy="290.7" r="3.1"/>
<circle class="c23" cx="610.9" cy="358.5" r="3.1"/>
<circle class="c20" cx="695.4" cy="349.8" r="3.1"/>
<circle class="c21" cx="681.5" cy="353.5" r="3.1"/>
<circle class="c25" cx="571.6" cy="368.1" r="3.1"/>
<circle class="c17" cx="693.1" cy="338" r="3.1"/>
<circle class="c22" cx="648.5" cy="355.1" r="3.1"/>
<circle class="c22" cx="638.7" cy="354.6" r="3.1"/>
<circle class="c29" cx="466.2" cy="381.3" r="3.1"/>
<circle class="c22" cx="641.2" cy="354.8" r="3.1"/>
<circle class="c21" cx="647.2" cy="353.9" r="3.1"/>
<circle class="c22" cx="663.3" cy="354.8" r="3.1"/>
<circle class="c5" cx="678.1" cy="290.9" r="3.1"/>
<circle class="c26" cx="560.5" cy="370.5" r="3.1"/>
<circle class="c22" cx="642.8" cy="354.9" r="3.1"/>
<circle class="c23" cx="611.9" cy="358.7" r="3.1"/>
<circle class="c27" cx="535.4" cy="375" r="3.1"/>
<circle class="c6" cx="679.8" cy="294.8" r="3.1"/>
<circle class="c23" cx="608.2" cy="359.8" r="3.1"/>
<circle class="c9" cx="684.3" cy="306.9" r="3.1"/>
<circle class="c23" cx="618.5" cy="357.9" r="3.1"/>
<circle class="c22" cx="627" cy="355.5" r="3.1"/>
<circle class="c9" cx="683.8" cy="308.7" r="3.1"/>
<circle class="c13" cx="688.2" cy="321.1" r="3.1"/>
<circle class="c22" cx="628.5" cy="356" r="3.1"/>
<circle class="c24" cx="589.3" cy="364.1" r="3.1"/>
<circle class="c22" cx="619.9" cy="357" r="3.1"/>
<circle class="c21" cx="634.9" cy="354" r="3.1"/>
<circle class="c22" cx="624.8" cy="357" r="3.1"/>
<circle class="c22" cx="652.6" cy="355.3" r="3.1"/>
<circle class="c22" cx="633.3" cy="355" r="3.1"/>
<circle class="c21" cx="651.8" cy="354.1" r="3.1"/>
<circle class="c25" cx="574.6" cy="368" r="3.1"/>
<circle class="c11" cx="686" cy="314.7" r="3.1"/>
<circle class="c22" cx="617.4" cy="357.5" r="3.1"/>
<circle class="c23" cx="601.7" cy="361.6" r="3.1"/>
<circle class="c22" cx="676" cy="354.9" r="3.1"/>
<circle class="c7" cx="682.2" cy="301.2" r="3.1"/>
<circle class="c25" cx="581.2" cy="366.7" r="3.1"/>
<circle class="c24" cx="585.7" cy="364.7" r="3.1"/>
<circle class="c22" cx="646.5" cy="354.4" r="3.1"/>
<circle class="c6" cx="679.7" cy="294.9" r="3.1"/>
<circle class="c22" cx="621.5" cy="356.9" r="3.1"/>
<circle class="c22" cx="632.4" cy="355.6" r="3.1"/>
<circle class="c23" cx="613.4" cy="359.3" r="3.1"/>
<circle class="c8" cx="684.3" cy="305.6" r="3.1"/>
<circle class="c29" cx="459.6" cy="382.6" r="3.1"/>
<circle class="c21" cx="688" cy="351.9" r="3.1"/>
<circle class="c25" cx="573" cy="368.2" r="3.1"/>
<circle class="c27" cx="530.8" cy="376.7" r="3.1"/>
<circle class="c22" cx="624.3" cy="357.6" r="3.1"/>
<circle class="c28" cx="486.5" cy="380" r="3.1"/>
<circle class="c28" cx="521.2" cy="377.3" r="3.1"/>
<circle class="c20" cx="695.2" cy="348" r="3.1"/>
<circle class="c26" cx="553.7" cy="370.7" r="3.1"/>
<circle class="c24" cx="595.9" cy="363.4" r="3.1"/>
<circle class="c29" cx="479.7" cy="381.2" r="3.1"/>
<circle class="c22" cx="665.3" cy="355.7" r="3.1"/>
<circle class="c23" cx="609.9" cy="360.7" r="3.1"/>
<circle class="c24" cx="598.3" cy="362.7" r="3.1"/>
<circle class="c7" cx="682.5" cy="301.2" r="3.1"/>
<circle class="c4" cx="678.5" cy="289.8" r="3.1"/>
<circle class="c22" cx="637.2" cy="355.3" r="3.1"/>
<circle class="c23" cx="607.4" cy="361.8" r="3.1"/>
<circle class="c22" cx="660.2" cy="355.1" r="3.1"/>
<circle class="c21" cx="693.7" cy="353.6" r="3.1"/>
<circle class="c24" cx="592.3" cy="363.7" r="3.1"/>
<circle class="c21" cx="690.9" cy="352.9" r="3.1"/>
<circle class="c7" cx="682" cy="299.6" r="3.1"/>
<circle class="c22" cx="642" cy="355.5" r="3.1"/>
<circle class="c4" cx="678.1" cy="289.7" r="3.1"/>
<circle class="c5" cx="679.8" cy="294.3" r="3.1"/>
<circle class="c21" cx="683.3" cy="354" r="3.1"/>
<circle class="c22" cx="635.5" cy="355.9" r="3.1"/>
<circle class="c24" cx="584.2" cy="365.6" r="3.1"/>
<circle class="c22" cx="656.1" cy="355" r="3.1"/>
<circle class="c21" cx="669.8" cy="354.5" r="3.1"/>
<circle class="c23" cx="605.4" cy="361.5" r="3.1"/>
<circle class="c12" cx="688.7" cy="319.5" r="3.1"/>
<circle class="c4" cx="677.9" cy="290.4" r="3.1"/>
<circle class="c22" cx="646.9" cy="356.1" r="3.1"/>
<circle class="c7" cx="682.4" cy="300.6" r="3.1"/>
<circle class="c22" cx="630.6" cy="357.2" r="3.1"/>
<circle class="c22" cx="625.2" cy="358" r="3.1"/>
<circle class="c4" cx="678.9" cy="288.3" r="3.1"/>
<circle class="c6" cx="681" cy="294.8" r="3.1"/>
<circle class="c22" cx="650.1" cy="355.5" r="3.1"/>
<circle class="c10" cx="686.3" cy="312.9" r="3.1"/>
<circle class="c25" cx="587.9" cy="365.9" r="3.1"/>
<circle class="c22" cx="678.2" cy="355.1" r="3.1"/>
<circle class="c4" cx="678.7" cy="288.4" r="3.1"/>
<circle class="c23" cx="615.3" cy="359.1" r="3.1"/>
<circle class="c23" cx="616.8" cy="358.9" r="3.1"/>
<circle class="c26" cx="556.8" cy="371.3" r="3.1"/>
<circle class="c22" cx="626.5" cy="358" r="3.1"/>
<circle class="c22" cx="639.3" cy="355.8" r="3.1"/>
<circle class="c25" cx="582.4" cy="367.6" r="3.1"/>
<circle class="c22" cx="644.2" cy="356.6" r="3.1"/>
<circle class="c17" cx="693.6" cy="336.7" r="3.1"/>
<circle class="c24" cx="591.2" cy="365.7" r="3.1"/>
<circle class="c23" cx="618.8" cy="359.2" r="3.1"/>
<circle class="c26" cx="550.9" cy="372.6" r="3.1"/>
<circle class="c25" cx="579.4" cy="368" r="3.1"/>
<circle class="c25" cx="569.2" cy="368.7" r="3.1"/>
<circle class="c23" cx="620.6" cy="358.7" r="3.1"/>
<circle class="c23" cx="623.2" cy="358.8" r="3.1"/>
<circle class="c23" cx="602.8" cy="361.4" r="3.1"/>
<circle class="c25" cx="400.2" cy="367" r="3.1"/>
<circle class="c22" cx="637.9" cy="356.6" r="3.1"/>
<circle class="c29" cx="451.9" cy="384.1" r="3.1"/>
</g>
<g class="a7">
<circle class="c5" cx="680.6" cy="293.9" r="3.1"/>
<circle class="c26" cx="567.7" cy="370" r="3.1"/>
<circle class="c22" cx="671.5" cy="355.6" r="3.1"/>
<circle class="c10" cx="686.6" cy="311.3" r="3.1"/>
<circle class="c5" cx="679.9" cy="293.3" r="3.1"/>
<circle class="c22" cx="666.5" cy="355.6" r="3.1"/>
<circle class="c24" cx="600.2" cy="362.8" r="3.1"/>
<circle class="c23" cx="613.7" cy="360.6" r="3.1"/>
<circle class="c14" cx="690.6" cy="327.6" r="3.1"/>
<circle class="c28" cx="517.8" cy="378.8" r="3.1"/>
<circle class="c22" cx="634.1" cy="357.5" r="3.1"/>
<circle class="c24" cx="597.8" cy="363.9" r="3.1"/>
<circle class="c22" cx="621.5" cy="358.2" r="3.1"/>
<circle class="c23" cx="611.1" cy="361" r="3.1"/>
<circle class="c22" cx="628.1" cy="357.9" r="3.1"/>
<circle class="c5" cx="680" cy="292.1" r="3.1"/>
<circle class="c23" cx="604.7" cy="362.3" r="3.1"/>
<circle class="c26" cx="553.8" cy="372.7" r="3.1"/>
<circle class="c8" cx="684.4" cy="304.6" r="3.1"/>
<circle class="c14" cx="690.7" cy="327.5" r="3.1"/>
<circle class="c26" cx="547.1" cy="373.8" r="3.1"/>
<circle class="c22" cx="646" cy="357.9" r="3.1"/>
<circle class="c8" cx="684.4" cy="303.8" r="3.1"/>
<circle class="c24" cx="601.5" cy="363.8" r="3.1"/>
<circle class="c25" cx="576.7" cy="369.4" r="3.1"/>
<circle class="c23" cx="609.6" cy="361" r="3.1"/>
<circle class="c6" cx="682.3" cy="298.9" r="3.1"/>
<circle class="c22" cx="657.5" cy="356.2" r="3.1"/>
<circle class="c26" cx="570.2" cy="370.6" r="3.1"/>
<circle class="c22" cx="654.6" cy="356.1" r="3.1"/>
<circle class="c22" cx="649.2" cy="357" r="3.1"/>
<circle class="c25" cx="586" cy="367.5" r="3.1"/>
<circle class="c22" cx="661.8" cy="356.1" r="3.1"/>
<circle class="c28" cx="513.6" cy="380.1" r="3.1"/>
<circle class="c6" cx="682.8" cy="298.3" r="3.1"/>
<circle class="c19" cx="695.8" cy="344.9" r="3.1"/>
<circle class="c27" cx="543.9" cy="375.1" r="3.1"/>
<circle class="c22" cx="643.7" cy="357.4" r="3.1"/>
<circle class="c24" cx="595.2" cy="364.2" r="3.1"/>
<circle class="c29" cx="474.2" cy="383.8" r="3.1"/>
<circle class="c23" cx="615.2" cy="360.1" r="3.1"/>
<circle class="c27" cx="526.8" cy="377.2" r="3.1"/>
<circle class="c24" cx="598.1" cy="365" r="3.1"/>
<circle class="c22" cx="658.8" cy="356.8" r="3.1"/>
<circle class="c22" cx="635.8" cy="357.2" r="3.1"/>
<circle class="c16" cx="693.4" cy="334.7" r="3.1"/>
<circle class="c26" cx="564.3" cy="371" r="3.1"/>
<circle class="c22" cx="668.2" cy="356.9" r="3.1"/>
<circle class="c22" cx="673.4" cy="356.2" r="3.1"/>
<circle class="c23" cx="611" cy="361.7" r="3.1"/>
<circle class="c30" cx="441.8" cy="386.8" r="3.1"/>
<circle class="c12" cx="689.5" cy="319.1" r="3.1"/>
<circle class="c23" cx="616.4" cy="359.9" r="3.1"/>
<circle class="c21" cx="685.5" cy="354.7" r="3.1"/>
<circle class="c6" cx="682" cy="298.7" r="3.1"/>
<circle class="c22" cx="639.4" cy="357.7" r="3.1"/>
<circle class="c23" cx="606.7" cy="362.6" r="3.1"/>
<circle class="c22" cx="651.5" cy="357.4" r="3.1"/>
<circle class="c24" cx="589.5" cy="366.6" r="3.1"/>
<circle class="c22" cx="632.9" cy="357.6" r="3.1"/>
<circle class="c22" cx="656.1" cy="356.7" r="3.1"/>
<circle class="c22" cx="634.6" cy="358.1" r="3.1"/>
<circle class="c22" cx="640.5" cy="357" r="3.1"/>
<circle class="c23" cx="625.3" cy="360.1" r="3.1"/>
<circle class="c21" cx="680.7" cy="355.5" r="3.1"/>
<circle class="c21" cx="695.5" cy="353.5" r="3.1"/>
<circle class="c5" cx="680.2" cy="292.5" r="3.1"/>
<circle class="c21" cx="688" cy="354.7" r="3.1"/>
<circle class="c9" cx="686.2" cy="310.1" r="3.1"/>
<circle class="c22" cx="627.2" cy="358.9" r="3.1"/>
<circle class="c22" cx="628.9" cy="358.9" r="3.1"/>
<circle class="c22" cx="630.6" cy="358" r="3.1"/>
<circle class="c4" cx="680.4" cy="291.4" r="3.1"/>
<circle class="c22" cx="632.7" cy="358.9" r="3.1"/>
<circle class="c22" cx="674.7" cy="356.8" r="3.1"/>
<circle class="c18" cx="695.7" cy="343.7" r="3.1"/>
<circle class="c24" cx="596.2" cy="365.3" r="3.1"/>
<circle class="c11" cx="688.6" cy="316.6" r="3.1"/>
<circle class="c21" cx="698.1" cy="353.8" r="3.1"/>
<circle class="c13" cx="690.9" cy="324.8" r="3.1"/>
<circle class="c22" cx="660.4" cy="358.2" r="3.1"/>
<circle class="c29" cx="466.3" cy="384.7" r="3.1"/>
<circle class="c23" cx="613" cy="362.2" r="3.1"/>
<circle class="c25" cx="575.1" cy="370" r="3.1"/>
<circle class="c6" cx="682.7" cy="297.8" r="3.1"/>
<circle class="c28" cx="509.1" cy="380.4" r="3.1"/>
<circle class="c24" cx="593" cy="365.5" r="3.1"/>
<circle class="c25" cx="580.6" cy="369.6" r="3.1"/>
<circle class="c6" cx="682.5" cy="296.6" r="3.1"/>
<circle class="c24" cx="604.3" cy="363.8" r="3.1"/>
<circle class="c23" cx="618" cy="360.2" r="3.1"/>
<circle class="c22" cx="641.7" cy="358.7" r="3.1"/>
<circle class="c26" cx="552.2" cy="373.9" r="3.1"/>
<circle class="c28" cx="522.9" cy="379.1" r="3.1"/>
<circle class="c24" cx="597.8" cy="365.2" r="3.1"/>
<circle class="c22" cx="636.6" cy="358.9" r="3.1"/>
<circle class="c4" cx="679.8" cy="291.3" r="3.1"/>
<circle class="c23" cx="623" cy="360.5" r="3.1"/>
<circle class="c22" cx="644.5" cy="358.3" r="3.1"/>
<circle class="c24" cx="595" cy="367" r="3.1"/>
<circle class="c24" cx="400.7" cy="363.7" r="3.1"/>
<circle class="c25" cx="584" cy="368.6" r="3.1"/>
<circle class="c22" cx="649.4" cy="358.4" r="3.1"/>
<circle class="c22" cx="663.4" cy="356.8" r="3.1"/>
<circle class="c22" cx="620.5" cy="359.5" r="3.1"/>
<circle class="c26" cx="565.9" cy="372.9" r="3.1"/>
<circle class="c6" cx="682.8" cy="296.5" r="3.1"/>
<circle class="c4" cx="681" cy="291.1" r="3.1"/>
<circle class="c22" cx="635.6" cy="359.8" r="3.1"/>
<circle class="c13" cx="691.2" cy="323.5" r="3.1"/>
<circle class="c23" cx="629" cy="360.4" r="3.1"/>
<circle class="c9" cx="686.5" cy="309" r="3.1"/>
<circle class="c22" cx="621.4" cy="359.8" r="3.1"/>
<circle class="c25" cx="588" cy="368.1" r="3.1"/>
<circle class="c25" cx="578.5" cy="370" r="3.1"/>
<circle class="c7" cx="684.9" cy="302.5" r="3.1"/>
<circle class="c22" cx="665.2" cy="357.9" r="3.1"/>
<circle class="c23" cx="627.4" cy="360.3" r="3.1"/>
<circle class="c22" cx="631.1" cy="359.3" r="3.1"/>
<circle class="c5" cx="682.6" cy="295.4" r="3.1"/>
<circle class="c21" cx="689.8" cy="355.3" r="3.1"/>
<circle class="c22" cx="639.6" cy="359.4" r="3.1"/>
<circle class="c23" cx="608.2" cy="363.5" r="3.1"/>
<circle class="c15" cx="693.8" cy="332.8" r="3.1"/>
<circle class="c22" cx="652.6" cy="357.5" r="3.1"/>
<circle class="c24" cx="601.4" cy="364.2" r="3.1"/>
<circle class="c26" cx="562.3" cy="373.1" r="3.1"/>
<circle class="c22" cx="657.3" cy="357.6" r="3.1"/>
<circle class="c21" cx="683" cy="355.7" r="3.1"/>
<circle class="c23" cx="616.1" cy="362.8" r="3.1"/>
<circle class="c31" cx="429.6" cy="390.1" r="3.1"/>
<circle class="c7" cx="684.3" cy="301.3" r="3.1"/>
<circle class="c7" cx="684.9" cy="301.8" r="3.1"/>
<circle class="c22" cx="677.3" cy="357.5" r="3.1"/>
<circle class="c22" cx="647.9" cy="359.8" r="3.1"/>
<circle class="c25" cx="569.1" cy="371.3" r="3.1"/>
<circle class="c22" cx="669.7" cy="358" r="3.1"/>
<circle class="c24" cx="605.3" cy="364.1" r="3.1"/>
<circle class="c23" cx="610.2" cy="363.3" r="3.1"/>
<circle class="c23" cx="613.6" cy="362.1" r="3.1"/>
<circle class="c7" cx="684.3" cy="301.5" r="3.1"/>
<circle class="c22" cx="679.5" cy="357.8" r="3.1"/>
<circle class="c28" cx="518.6" cy="380.2" r="3.1"/>
<circle class="c29" cx="459.6" cy="385.7" r="3.1"/>
<circle class="c5" cx="682.6" cy="295.9" r="3.1"/>
<circle class="c25" cx="582.6" cy="369.9" r="3.1"/>
<circle class="c23" cx="617.5" cy="361.5" r="3.1"/>
<circle class="c24" cx="602.5" cy="365.8" r="3.1"/>
<circle class="c15" cx="693.5" cy="331.2" r="3.1"/>
<circle class="c23" cx="620.2" cy="361.5" r="3.1"/>
<circle class="c22" cx="650.5" cy="358.9" r="3.1"/>
<circle class="c27" cx="540.7" cy="376.6" r="3.1"/>
<circle class="c22" cx="647.1" cy="358.6" r="3.1"/>
<circle class="c7" cx="684.7" cy="300.8" r="3.1"/>
<circle class="c22" cx="667.1" cy="358.5" r="3.1"/>
<circle class="c9" cx="686.7" cy="307.9" r="3.1"/>
<circle class="c5" cx="682.2" cy="295" r="3.1"/>
<circle class="c23" cx="612.3" cy="362.8" r="3.1"/>
<circle class="c23" cx="621.7" cy="360.9" r="3.1"/>
<circle class="c22" cx="671.7" cy="357.3" r="3.1"/>
<circle class="c5" cx="682.6" cy="295" r="3.1"/>
<circle class="c11" cx="689.1" cy="315.7" r="3.1"/>
<circle class="c5" cx="683" cy="294.1" r="3.1"/>
<circle class="c23" cx="625.5" cy="360.9" r="3.1"/>
<circle class="c27" cx="549" cy="375.7" r="3.1"/>
<circle class="c24" cx="591.1" cy="367.4" r="3.1"/>
<circle class="c25" cx="573.1" cy="371.7" r="3.1"/>
<circle class="c22" cx="662.1" cy="358.5" r="3.1"/>
<circle class="c25" cx="586.5" cy="369.7" r="3.1"/>
<circle class="c22" cx="633.1" cy="359.8" r="3.1"/>
<circle class="c20" cx="697.8" cy="351.6" r="3.1"/>
<circle class="c22" cx="645.7" cy="359.4" r="3.1"/>
<circle class="c28" cx="503.7" cy="381.9" r="3.1"/>
<circle class="c32" cx="415.6" cy="394.4" r="3.1"/>
<circle class="c22" cx="654.4" cy="358.7" r="3.1"/>
<circle class="c27" cx="536.7" cy="378.6" r="3.1"/>
<circle class="c23" cx="623.8" cy="361.3" r="3.1"/>
<circle class="c22" cx="640" cy="359.9" r="3.1"/>
<circle class="c22" cx="637.6" cy="360.2" r="3.1"/>
<circle class="c24" cx="609.5" cy="364.9" r="3.1"/>
<circle class="c27" cx="545.2" cy="376.5" r="3.1"/>
<circle class="c22" cx="659.2" cy="359.6" r="3.1"/>
<circle class="c23" cx="627.7" cy="362.1" r="3.1"/>
<circle class="c21" cx="684.6" cy="356.9" r="3.1"/>
<circle class="c23" cx="613.9" cy="364.1" r="3.1"/>
<circle class="c10" cx="689" cy="314" r="3.1"/>
<circle class="c8" cx="687.5" cy="307.1" r="3.1"/>
<circle class="c24" cx="596.2" cy="368" r="3.1"/>
<circle class="c25" cx="593.3" cy="368.7" r="3.1"/>
<circle class="c21" cx="695.1" cy="356.6" r="3.1"/>
<circle class="c26" cx="559.7" cy="373.9" r="3.1"/>
<circle class="c12" cx="691.1" cy="322.5" r="3.1"/>
<circle class="c23" cx="636.1" cy="361" r="3.1"/>
<circle class="c17" cx="695.9" cy="341.7" r="3.1"/>
<circle class="c6" cx="684.2" cy="299.7" r="3.1"/>
<circle class="c21" cx="692.5" cy="355.9" r="3.1"/>
<circle class="c22" cx="642.1" cy="359.7" r="3.1"/>
<circle class="c28" cx="514.3" cy="381.7" r="3.1"/>
<circle class="c23" cx="617.3" cy="363.4" r="3.1"/>
<circle class="c23" cx="634.3" cy="361.1" r="3.1"/>
<circle class="c6" cx="684.2" cy="299.3" r="3.1"/>
<circle class="c23" cx="645.8" cy="361.1" r="3.1"/>
<circle class="c25" cx="580.9" cy="371.7" r="3.1"/>
<circle class="c23" cx="629.7" cy="361.4" r="3.1"/>
<circle class="c24" cx="611.2" cy="365.4" r="3.1"/>
<circle class="c26" cx="571" cy="373.4" r="3.1"/>
<circle class="c22" cx="686.9" cy="357.7" r="3.1"/>
<circle class="c5" cx="682.8" cy="294.3" r="3.1"/>
<circle class="c25" cx="576.4" cy="371.1" r="3.1"/>
<circle class="c26" cx="563.2" cy="374" r="3.1"/>
<circle class="c23" cx="631.7" cy="361.1" r="3.1"/>
<circle class="c6" cx="684.7" cy="299.7" r="3.1"/>
<circle class="c23" cx="620.2" cy="363" r="3.1"/>
<circle class="c24" cx="604.8" cy="366.2" r="3.1"/>
<circle class="c23" cx="621.6" cy="363.2" r="3.1"/>
<circle class="c22" cx="643.6" cy="360.9" r="3.1"/>
<circle class="c22" cx="674.3" cy="358.9" r="3.1"/>
<circle class="c22" cx="663.5" cy="359.5" r="3.1"/>
<circle class="c25" cx="592.4" cy="369.9" r="3.1"/>
<circle class="c17" cx="696.3" cy="340.1" r="3.1"/>
<circle class="c22" cx="649.2" cy="360.5" r="3.1"/>
<circle class="c24" cx="599.5" cy="366.6" r="3.1"/>
<circle class="c23" cx="624.1" cy="362.2" r="3.1"/>
<circle class="c24" cx="607.2" cy="364.9" r="3.1"/>
<circle class="c22" cx="652.7" cy="360.1" r="3.1"/>
<circle class="c25" cx="590" cy="369.2" r="3.1"/>
<circle class="c23" cx="616.7" cy="363.9" r="3.1"/>
<circle class="c22" cx="668.4" cy="359.9" r="3.1"/>
<circle class="c22" cx="655.7" cy="359.9" r="3.1"/>
<circle class="c12" cx="691.5" cy="321.2" r="3.1"/>
<circle class="c7" cx="686.7" cy="304.5" r="3.1"/>
<circle class="c30" cx="452.7" cy="387.6" r="3.1"/>
<circle class="c26" cx="575" cy="373.4" r="3.1"/>
<circle class="c32" cx="402.5" cy="397" r="3.1"/>
<circle class="c22" cx="660.3" cy="360.5" r="3.1"/>
<circle class="c14" cx="693.5" cy="330.2" r="3.1"/>
<circle class="c4" cx="682.9" cy="292.6" r="3.1"/>
<circle class="c22" cx="681.2" cy="358.3" r="3.1"/>
<circle class="c10" cx="689.5" cy="313.1" r="3.1"/>
<circle class="c28" cx="498.6" cy="383.4" r="3.1"/>
<circle class="c19" cx="697.6" cy="349.2" r="3.1"/>
<circle class="c8" cx="687.4" cy="306" r="3.1"/>
<circle class="c22" cx="638.6" cy="360.8" r="3.1"/>
<circle class="c24" cx="606.1" cy="366.3" r="3.1"/>
<circle class="c27" cx="533" cy="379.1" r="3.1"/>
<circle class="c26" cx="556.9" cy="375.3" r="3.1"/>
<circle class="c22" cx="665.4" cy="360" r="3.1"/>
<circle class="c23" cx="626.1" cy="362.6" r="3.1"/>
<circle class="c28" cx="509.8" cy="383.3" r="3.1"/>
<circle class="c23" cx="643.8" cy="361.5" r="3.1"/>
<circle class="c24" cx="601.7" cy="366.6" r="3.1"/>
<circle class="c9" cx="689.2" cy="311.7" r="3.1"/>
<circle class="c24" cx="598.5" cy="368.4" r="3.1"/>
<circle class="c6" cx="684.4" cy="298.4" r="3.1"/>
<circle class="c23" cx="632.4" cy="361.6" r="3.1"/>
<circle class="c25" cx="595.7" cy="369.1" r="3.1"/>
<circle class="c23" cx="630.3" cy="362.4" r="3.1"/>
<circle class="c30" cx="444.4" cy="388.7" r="3.1"/>
<circle class="c27" cx="541.6" cy="378.3" r="3.1"/>
<circle class="c23" cx="613.5" cy="364.8" r="3.1"/>
<circle class="c26" cx="554" cy="376.5" r="3.1"/>
<circle class="c23" cx="617.6" cy="364.3" r="3.1"/>
<circle class="c16" cx="695.5" cy="338.2" r="3.1"/>
<circle class="c24" cx="601.3" cy="368.1" r="3.1"/>
<circle class="c23" cx="616" cy="364.4" r="3.1"/>
<circle class="c22" cx="641.2" cy="361.5" r="3.1"/>
<circle class="c24" cx="608.6" cy="365.9" r="3.1"/>
<circle class="c7" cx="686.9" cy="303.5" r="3.1"/>
<circle class="c22" cx="656.6" cy="360.9" r="3.1"/>
<circle class="c23" cx="638.7" cy="362.9" r="3.1"/>
<circle class="c19" cx="697.9" cy="347.8" r="3.1"/>
<circle class="c23" cx="636.8" cy="361.9" r="3.1"/>
<circle class="c24" cx="597.8" cy="368.9" r="3.1"/>
<circle class="c25" cx="584.5" cy="370.7" r="3.1"/>
<circle class="c11" cx="691.2" cy="319.3" r="3.1"/>
<circle class="c6" cx="684.6" cy="298.3" r="3.1"/>
<circle class="c22" cx="675.8" cy="359.6" r="3.1"/>
<circle class="c24" cx="611" cy="365.9" r="3.1"/>
<circle class="c5" cx="685.1" cy="297.4" r="3.1"/>
<circle class="c25" cx="588.9" cy="370.7" r="3.1"/>
<circle class="c26" cx="560.9" cy="375.2" r="3.1"/>
<circle class="c29" cx="492.2" cy="385.3" r="3.1"/>
<circle class="c22" cx="670.4" cy="360.5" r="3.1"/>
<circle class="c23" cx="627.9" cy="363.4" r="3.1"/>
<circle class="c26" cx="568.8" cy="374.7" r="3.1"/>
<circle class="c23" cx="626" cy="364.3" r="3.1"/>
<circle class="c23" cx="619.5" cy="364.5" r="3.1"/>
<circle class="c25" cx="578.8" cy="372.8" r="3.1"/>
<circle class="c27" cx="539.1" cy="380.6" r="3.1"/>
<circle class="c23" cx="647.4" cy="362.1" r="3.1"/>
<circle class="c21" cx="689.1" cy="358" r="3.1"/>
<circle class="c25" cx="582.5" cy="372" r="3.1"/>
<circle class="c24" cx="603.5" cy="367.3" r="3.1"/>
<circle class="c23" cx="623.6" cy="364.3" r="3.1"/>
<circle class="c13" cx="693.3" cy="326.7" r="3.1"/>
<circle class="c22" cx="650.4" cy="361.9" r="3.1"/>
<circle class="c26" cx="572.2" cy="374.5" r="3.1"/>
<circle class="c24" cx="605.7" cy="368.1" r="3.1"/>
<circle class="c22" cx="658.2" cy="361.9" r="3.1"/>
<circle class="c23" cx="634.4" cy="363.4" r="3.1"/>
<circle class="c23" cx="621.5" cy="364.6" r="3.1"/>
<circle class="c22" cx="691.6" cy="358.8" r="3.1"/>
<circle class="c14" cx="693.8" cy="328.5" r="3.1"/>
<circle class="c16" cx="696" cy="336.4" r="3.1"/>
<circle class="c5" cx="685.1" cy="296.7" r="3.1"/>
<circle class="c24" cx="615.6" cy="366.4" r="3.1"/>
<circle class="c24" cx="607.6" cy="367" r="3.1"/>
<circle class="c26" cx="558.6" cy="376.5" r="3.1"/>
<circle class="c22" cx="661.7" cy="361" r="3.1"/>
<circle class="c21" cx="697.2" cy="356.7" r="3.1"/>
<circle class="c22" cx="653.5" cy="361.6" r="3.1"/>
<circle class="c23" cx="642.2" cy="363" r="3.1"/>
<circle class="c9" cx="689.7" cy="310" r="3.1"/>
<circle class="c22" cx="678" cy="360.6" r="3.1"/>
<circle class="c25" cx="594" cy="371.5" r="3.1"/>
<circle class="c5" cx="684.6" cy="297.8" r="3.1"/>
<circle class="c5" cx="685.5" cy="296.7" r="3.1"/>
<circle class="c7" cx="686.5" cy="303.8" r="3.1"/>
<circle class="c28" cx="504.4" cy="384.3" r="3.1"/>
<circle class="c10" cx="691.5" cy="316.1" r="3.1"/>
<circle class="c23" cx="637.6" cy="364" r="3.1"/>
<circle class="c22" cx="672.4" cy="360.9" r="3.1"/>
<circle class="c25" cx="590" cy="371.4" r="3.1"/>
<circle class="c24" cx="603.1" cy="368.9" r="3.1"/>
<circle class="c23" cx="648.7" cy="363.1" r="3.1"/>
<circle class="c22" cx="683.5" cy="359" r="3.1"/>
<circle class="c22" cx="666.2" cy="361.7" r="3.1"/>
<circle class="c7" cx="687.6" cy="303.2" r="3.1"/>
<circle class="c11" cx="692.1" cy="318" r="3.1"/>
<circle class="c26" cx="566.1" cy="376.1" r="3.1"/>
<circle class="c23" cx="630.4" cy="364.3" r="3.1"/>
<circle class="c28" cx="525.6" cy="383.4" r="3.1"/>
<circle class="c6" cx="686.8" cy="301.4" r="3.1"/>
<circle class="c23" cx="632.7" cy="363.8" r="3.1"/>
<circle class="c24" cx="621.9" cy="366.4" r="3.1"/>
<circle class="c24" cx="600" cy="369.3" r="3.1"/>
<circle class="c24" cx="613.1" cy="366.6" r="3.1"/>
<circle class="c24" cx="610.6" cy="367.8" r="3.1"/>
<circle class="c28" cx="529.1" cy="381.7" r="3.1"/>
<circle class="c7" cx="687.9" cy="302.9" r="3.1"/>
<circle class="c27" cx="550.4" cy="378.4" r="3.1"/>
<circle class="c23" cx="640.8" cy="364.4" r="3.1"/>
<circle class="c8" cx="689.4" cy="309" r="3.1"/>
<circle class="c23" cx="645" cy="362.9" r="3.1"/>
<circle class="c21" cx="700.1" cy="357.3" r="3.1"/>
<circle class="c29" cx="486.5" cy="387.2" r="3.1"/>
<circle class="c5" cx="685.2" cy="295.6" r="3.1"/>
<circle class="c26" cx="569.8" cy="376" r="3.1"/>
<circle class="c25" cx="595.9" cy="371.2" r="3.1"/>
<circle class="c26" cx="576.5" cy="374.2" r="3.1"/>
<circle class="c25" cx="587" cy="371.7" r="3.1"/>
<circle class="c6" cx="686.5" cy="301" r="3.1"/>
<circle class="c23" cx="623.8" cy="365.4" r="3.1"/>
<circle class="c15" cx="696.4" cy="335.2" r="3.1"/>
<circle class="c22" cx="685.2" cy="359.9" r="3.1"/>
<circle class="c30" cx="431.5" cy="392" r="3.1"/>
<circle class="c23" cx="654.9" cy="363.2" r="3.1"/>
<circle class="c22" cx="663.5" cy="362.3" r="3.1"/>
<circle class="c24" cx="617.5" cy="366.8" r="3.1"/>
<circle class="c27" cx="534.7" cy="381.2" r="3.1"/>
<circle class="c23" cx="625.6" cy="364.7" r="3.1"/>
<circle class="c24" cx="605.2" cy="369.1" r="3.1"/>
<circle class="c23" cx="652.1" cy="363.1" r="3.1"/>
<circle class="c21" cx="692.9" cy="359.2" r="3.1"/>
<circle class="c23" cx="628" cy="364.4" r="3.1"/>
<circle class="c25" cx="581.3" cy="374.2" r="3.1"/>
<circle class="c22" cx="668.9" cy="362.6" r="3.1"/>
<circle class="c27" cx="548.4" cy="379.9" r="3.1"/>
<circle class="c29" cx="498.7" cy="386.1" r="3.1"/>
<circle class="c18" cx="697.7" cy="345.7" r="3.1"/>
<circle class="c22" cx="679.9" cy="361.5" r="3.1"/>
<circle class="c23" cx="656.6" cy="363.6" r="3.1"/>
<circle class="c22" cx="674.2" cy="361.7" r="3.1"/>
<circle class="c13" cx="693.5" cy="325.6" r="3.1"/>
<circle class="c23" cx="619.3" cy="366.8" r="3.1"/>
<circle class="c24" cx="607.3" cy="369.6" r="3.1"/>
<circle class="c23" cx="633.1" cy="365.1" r="3.1"/>
<circle class="c23" cx="643.3" cy="364.2" r="3.1"/>
<circle class="c6" cx="687" cy="301" r="3.1"/>
<circle class="c23" cx="649.6" cy="364.1" r="3.1"/>
<circle class="c23" cx="635.2" cy="363.9" r="3.1"/>
<circle class="c27" cx="555.1" cy="378.4" r="3.1"/>
<circle class="c25" cx="588.7" cy="372.5" r="3.1"/>
<circle class="c24" cx="614.6" cy="367.9" r="3.1"/>
<circle class="c21" cx="700.6" cy="356.4" r="3.1"/>
<circle class="c15" cx="695.8" cy="333.3" r="3.1"/>
<circle class="c26" cx="563.9" cy="377.3" r="3.1"/>
<circle class="c23" cx="646.3" cy="364.2" r="3.1"/>
<circle class="c23" cx="626.4" cy="366.9" r="3.1"/>
<circle class="c25" cx="585.4" cy="373.6" r="3.1"/>
<circle class="c6" cx="688.3" cy="299.7" r="3.1"/>
<circle class="c8" cx="689.1" cy="308.9" r="3.1"/>
<circle class="c25" cx="592.3" cy="372.1" r="3.1"/>
<circle class="c30" cx="393.2" cy="393.4" r="3.1"/>
<circle class="c6" cx="687.7" cy="300.1" r="3.1"/>
<circle class="c23" cx="640.9" cy="365.1" r="3.1"/>
<circle class="c23" cx="631.2" cy="366" r="3.1"/>
<circle class="c22" cx="687.5" cy="360.5" r="3.1"/>
<circle class="c22" cx="681.7" cy="362" r="3.1"/>
<circle class="c22" cx="664.9" cy="363.1" r="3.1"/>
<circle class="c7" cx="689.6" cy="307.1" r="3.1"/>
<circle class="c23" cx="652.8" cy="364" r="3.1"/>
<circle class="c22" cx="659.9" cy="363.5" r="3.1"/>
<circle class="c23" cx="638.6" cy="364.8" r="3.1"/>
<circle class="c26" cx="574.9" cy="375.5" r="3.1"/>
<circle class="c9" cx="691.8" cy="314.5" r="3.1"/>
<circle class="c23" cx="629.3" cy="366.3" r="3.1"/>
<circle class="c25" cx="594.8" cy="372.3" r="3.1"/>
<circle class="c29" cx="481.3" cy="388.2" r="3.1"/>
<circle class="c24" cx="612.7" cy="368.2" r="3.1"/>
<circle class="c28" cx="520.9" cy="384.5" r="3.1"/>
<circle class="c21" cx="695.9" cy="359.4" r="3.1"/>
<circle class="c23" cx="635.9" cy="365" r="3.1"/>
<circle class="c32" cx="416.7" cy="397.8" r="3.1"/>
<circle class="c27" cx="552.9" cy="379.7" r="3.1"/>
<circle class="c24" cx="602.1" cy="370.3" r="3.1"/>
<circle class="c24" cx="617.4" cy="367.5" r="3.1"/>
<circle class="c23" cx="624.1" cy="367.3" r="3.1"/>
<circle class="c28" cx="530.6" cy="383.5" r="3.1"/>
<circle class="c25" cx="591.4" cy="373.8" r="3.1"/>
<circle class="c12" cx="693.3" cy="324.2" r="3.1"/>
<circle class="c23" cx="622.2" cy="367.3" r="3.1"/>
<circle class="c24" cx="619.4" cy="367.8" r="3.1"/>
<circle class="c24" cx="609.1" cy="369.6" r="3.1"/>
<circle class="c9" cx="691.6" cy="313.3" r="3.1"/>
<circle class="c22" cx="670.2" cy="362.8" r="3.1"/>
<circle class="c5" cx="687.2" cy="299.1" r="3.1"/>
<circle class="c20" cx="701.2" cy="354.6" r="3.1"/>
<circle class="c22" cx="676.1" cy="362.1" r="3.1"/>
<circle class="c23" cx="661.4" cy="364.2" r="3.1"/>
<circle class="c28" cx="516.6" cy="386" r="3.1"/>
<circle class="c17" cx="699" cy="344.1" r="3.1"/>
<circle class="c7" cx="689.6" cy="307" r="3.1"/>
<circle class="c26" cx="579.2" cy="376.4" r="3.1"/>
<circle class="c27" cx="545.1" cy="381.3" r="3.1"/>
<circle class="c17" cx="698.7" cy="342.3" r="3.1"/>
<circle class="c25" cx="598.8" cy="372.2" r="3.1"/>
<circle class="c23" cx="631.1" cy="366.2" r="3.1"/>
<circle class="c23" cx="634.8" cy="366.2" r="3.1"/>
<circle class="c7" cx="688.9" cy="305.4" r="3.1"/>
<circle class="c11" cx="693.9" cy="322.1" r="3.1"/>
<circle class="c29" cx="493.3" cy="387.8" r="3.1"/>
<circle class="c22" cx="690" cy="361.7" r="3.1"/>
<circle class="c23" cx="643.2" cy="365" r="3.1"/>
<circle class="c25" cx="583.4" cy="375" r="3.1"/>
<circle class="c5" cx="687.5" cy="298.7" r="3.1"/>
<circle class="c23" cx="666.7" cy="364.7" r="3.1"/>
<circle class="c23" cx="647.2" cy="365.7" r="3.1"/>
<circle class="c26" cx="568.2" cy="377.7" r="3.1"/>
<circle class="c22" cx="672.1" cy="364.2" r="3.1"/>
<circle class="c22" cx="677.7" cy="363.2" r="3.1"/>
<circle class="c22" cx="657.9" cy="364.2" r="3.1"/>
<circle class="c22" cx="684" cy="362.5" r="3.1"/>
<circle class="c23" cx="651.1" cy="365.3" r="3.1"/>
<circle class="c23" cx="654.8" cy="365.8" r="3.1"/>
<circle class="c24" cx="600.6" cy="371" r="3.1"/>
<circle class="c26" cx="565.1" cy="379.2" r="3.1"/>
<circle class="c25" cx="586.9" cy="374.7" r="3.1"/>
<circle class="c29" cx="392.7" cy="389.4" r="3.1"/>
<circle class="c14" cx="696.2" cy="331.5" r="3.1"/>
<circle class="c24" cx="616.7" cy="369.7" r="3.1"/>
<circle class="c23" cx="638.7" cy="366.9" r="3.1"/>
<circle class="c24" cx="604.2" cy="371.5" r="3.1"/>
<circle class="c21" cx="697.4" cy="360.1" r="3.1"/>
<circle class="c11" cx="694.7" cy="321.1" r="3.1"/>
<circle class="c27" cx="550.3" cy="381.8" r="3.1"/>
<circle class="c7" cx="690.4" cy="304.9" r="3.1"/>
<circle class="c24" cx="623.8" cy="368.5" r="3.1"/>
<circle class="c24" cx="612.2" cy="369.5" r="3.1"/>
<circle class="c23" cx="642.6" cy="366.9" r="3.1"/>
<circle class="c24" cx="606.8" cy="371" r="3.1"/>
<circle class="c13" cx="696" cy="330.3" r="3.1"/>
<circle class="c24" cx="609.2" cy="371.4" r="3.1"/>
<circle class="c24" cx="619.1" cy="369.3" r="3.1"/>
<circle class="c28" cx="527.3" cy="384.8" r="3.1"/>
<circle class="c26" cx="577.2" cy="376.8" r="3.1"/>
<circle class="c24" cx="614.6" cy="369.2" r="3.1"/>
<circle class="c23" cx="645.7" cy="367.5" r="3.1"/>
<circle class="c9" cx="691.8" cy="313.6" r="3.1"/>
<circle class="c5" cx="687.9" cy="298.6" r="3.1"/>
<circle class="c7" cx="690.6" cy="304.7" r="3.1"/>
<circle class="c23" cx="626.5" cy="367.5" r="3.1"/>
<circle class="c25" cx="593.4" cy="374.2" r="3.1"/>
<circle class="c26" cx="560.7" cy="379.2" r="3.1"/>
<circle class="c6" cx="690.1" cy="303.4" r="3.1"/>
<circle class="c6" cx="689.8" cy="304" r="3.1"/>
<circle class="c19" cx="700.8" cy="352.3" r="3.1"/>
<circle class="c23" cx="663.2" cy="365.4" r="3.1"/>
<circle class="c26" cx="572.9" cy="377.2" r="3.1"/>
<circle class="c16" cx="698.9" cy="340.3" r="3.1"/>
<circle class="c23" cx="639.8" cy="367.5" r="3.1"/>
<circle class="c9" cx="692.2" cy="312.1" r="3.1"/>
<circle class="c25" cx="597.2" cy="373.1" r="3.1"/>
<circle class="c26" cx="585.2" cy="376.4" r="3.1"/>
<circle class="c24" cx="621.9" cy="369.4" r="3.1"/>
<circle class="c23" cx="659.1" cy="365.7" r="3.1"/>
<circle class="c29" cx="487.8" cy="389.7" r="3.1"/>
<circle class="c27" cx="558.2" cy="380.5" r="3.1"/>
<circle class="c23" cx="628.9" cy="367.7" r="3.1"/>
<circle class="c32" cx="402.2" cy="402.4" r="3.1"/>
<circle class="c24" cx="602.8" cy="371.9" r="3.1"/>
<circle class="c23" cx="652.3" cy="365.9" r="3.1"/>
<circle class="c23" cx="633.6" cy="367.9" r="3.1"/>
<circle class="c25" cx="599.7" cy="373.7" r="3.1"/>
<circle class="c23" cx="636.4" cy="366.8" r="3.1"/>
<circle class="c25" cx="589.9" cy="374.9" r="3.1"/>
<circle class="c24" cx="611.5" cy="371.1" r="3.1"/>
<circle class="c6" cx="689.4" cy="302.9" r="3.1"/>
<circle class="c24" cx="613.5" cy="371" r="3.1"/>
<circle class="c22" cx="700.2" cy="361.7" r="3.1"/>
<circle class="c25" cx="605.9" cy="373" r="3.1"/>
<circle class="c22" cx="686" cy="363.2" r="3.1"/>
<circle class="c24" cx="628.9" cy="369.5" r="3.1"/>
<circle class="c22" cx="691.3" cy="362.3" r="3.1"/>
<circle class="c23" cx="636.5" cy="368.4" r="3.1"/>
<circle class="c25" cx="582.1" cy="376.4" r="3.1"/>
<circle class="c29" cx="468.1" cy="390.7" r="3.1"/>
<circle class="c8" cx="692.2" cy="309.9" r="3.1"/>
<circle class="c23" cx="648.2" cy="366.3" r="3.1"/>
<circle class="c23" cx="668.3" cy="365.8" r="3.1"/>
<circle class="c23" cx="654.8" cy="366.3" r="3.1"/>
<circle class="c27" cx="541" cy="383.1" r="3.1"/>
<circle class="c15" cx="698.6" cy="338.6" r="3.1"/>
<circle class="c24" cx="619.3" cy="370.1" r="3.1"/>
<circle class="c23" cx="631.3" cy="368.3" r="3.1"/>
<circle class="c27" cx="562.5" cy="380.6" r="3.1"/>
<circle class="c10" cx="694.8" cy="319.3" r="3.1"/>
<circle class="c23" cx="660.8" cy="366.9" r="3.1"/>
<circle class="c24" cx="608.1" cy="372.7" r="3.1"/>
<circle class="c12" cx="696.6" cy="327.7" r="3.1"/>
<circle class="c28" cx="522.2" cy="386.9" r="3.1"/>
<circle class="c26" cx="570.5" cy="379.5" r="3.1"/>
<circle class="c23" cx="664.6" cy="365.7" r="3.1"/>
<circle class="c23" cx="656.7" cy="368.5" r="3.1"/>
<circle class="c24" cx="621.5" cy="370.4" r="3.1"/>
<circle class="c6" cx="689.5" cy="302.5" r="3.1"/>
<circle class="c24" cx="616.3" cy="370.9" r="3.1"/>
<circle class="c27" cx="538.3" cy="384.3" r="3.1"/>
<circle class="c25" cx="596.1" cy="374.1" r="3.1"/>
<circle class="c22" cx="680.8" cy="364.1" r="3.1"/>
<circle class="c25" cx="602.3" cy="374" r="3.1"/>
<circle class="c19" cx="701.4" cy="350.6" r="3.1"/>
<circle class="c33" cx="391.5" cy="403.8" r="3.1"/>
<circle class="c22" cx="673.7" cy="364.5" r="3.1"/>
<circle class="c26" cx="584.4" cy="377.7" r="3.1"/>
<circle class="c25" cx="588.6" cy="376.2" r="3.1"/>
<circle class="c26" cx="575.4" cy="379" r="3.1"/>
<circle class="c23" cx="646.6" cy="367.5" r="3.1"/>
<circle class="c27" cx="555.6" cy="382.4" r="3.1"/>
<circle class="c24" cx="623.8" cy="370.1" r="3.1"/>
<circle class="c27" cx="546" cy="383.5" r="3.1"/>
<circle class="c24" cx="634.3" cy="369.6" r="3.1"/>
</g>
<g class="a8">
<circle class="c6" cx="689.3" cy="301.8" r="3.1"/>
<circle class="c26" cx="579.6" cy="378.6" r="3.1"/>
<circle class="c24" cx="625.9" cy="369.8" r="3.1"/>
<circle class="c23" cx="649.5" cy="367.8" r="3.1"/>
<circle class="c23" cx="676" cy="366" r="3.1"/>
<circle class="c22" cx="671" cy="365.7" r="3.1"/>
<circle class="c23" cx="643.2" cy="367.8" r="3.1"/>
<circle class="c28" cx="511.2" cy="388.4" r="3.1"/>
<circle class="c27" cx="393" cy="384.3" r="3.1"/>
<circle class="c10" cx="694.4" cy="318.5" r="3.1"/>
<circle class="c25" cx="592.1" cy="376.1" r="3.1"/>
<circle class="c15" cx="698.8" cy="336.7" r="3.1"/>
<circle class="c5" cx="690.2" cy="301.5" r="3.1"/>
<circle class="c12" cx="696.6" cy="326.9" r="3.1"/>
<circle class="c23" cx="640.7" cy="369" r="3.1"/>
<circle class="c9" cx="694.5" cy="316.5" r="3.1"/>
<circle class="c22" cx="693.4" cy="363.2" r="3.1"/>
<circle class="c7" cx="692.2" cy="309.4" r="3.1"/>
<circle class="c24" cx="610.3" cy="372.8" r="3.1"/>
<circle class="c29" cx="482.5" cy="390.7" r="3.1"/>
<circle class="c27" cx="543.1" cy="384.9" r="3.1"/>
<circle class="c22" cx="680.9" cy="365.2" r="3.1"/>
<circle class="c22" cx="688.1" cy="364.2" r="3.1"/>
<circle class="c30" cx="461.7" cy="392.8" r="3.1"/>
<circle class="c26" cx="568.6" cy="381" r="3.1"/>
<circle class="c24" cx="616.1" cy="372.3" r="3.1"/>
<circle class="c7" cx="692.8" cy="308" r="3.1"/>
<circle class="c23" cx="653.2" cy="368" r="3.1"/>
<circle class="c18" cx="700.6" cy="348.3" r="3.1"/>
<circle class="c24" cx="613.4" cy="372.9" r="3.1"/>
<circle class="c23" cx="643.8" cy="369.5" r="3.1"/>
<circle class="c25" cx="598.7" cy="375.3" r="3.1"/>
<circle class="c23" cx="666.1" cy="367.2" r="3.1"/>
<circle class="c21" cx="703.3" cy="361.4" r="3.1"/>
<circle class="c12" cx="697.1" cy="325.4" r="3.1"/>
<circle class="c26" cx="571.9" cy="380.3" r="3.1"/>
<circle class="c24" cx="632" cy="370.3" r="3.1"/>
<circle class="c23" cx="638" cy="369.3" r="3.1"/>
<circle class="c24" cx="627.5" cy="370.9" r="3.1"/>
<circle class="c28" cx="517.7" cy="388.7" r="3.1"/>
<circle class="c25" cx="604.4" cy="374.5" r="3.1"/>
<circle class="c24" cx="624.3" cy="371.1" r="3.1"/>
<circle class="c29" cx="506.1" cy="390.2" r="3.1"/>
<circle class="c24" cx="640.3" cy="370.3" r="3.1"/>
<circle class="c25" cx="595.2" cy="376.1" r="3.1"/>
<circle class="c25" cx="607.6" cy="374.4" r="3.1"/>
<circle class="c7" cx="692.1" cy="307.2" r="3.1"/>
<circle class="c24" cx="621.6" cy="372.6" r="3.1"/>
<circle class="c23" cx="662.1" cy="367.6" r="3.1"/>
<circle class="c23" cx="651" cy="369.4" r="3.1"/>
<circle class="c22" cx="697.1" cy="364" r="3.1"/>
<circle class="c17" cx="701.2" cy="346.8" r="3.1"/>
<circle class="c26" cx="581.5" cy="379.4" r="3.1"/>
<circle class="c23" cx="658.5" cy="368.6" r="3.1"/>
<circle class="c23" cx="654.8" cy="369.6" r="3.1"/>
<circle class="c25" cx="591.7" cy="377.4" r="3.1"/>
<circle class="c26" cx="393.2" cy="379.5" r="3.1"/>
<circle class="c7" cx="692.5" cy="306.4" r="3.1"/>
<circle class="c24" cx="635.2" cy="370.7" r="3.1"/>
<circle class="c23" cx="629.1" cy="370.2" r="3.1"/>
<circle class="c26" cx="587.5" cy="378.1" r="3.1"/>
<circle class="c29" cx="477.5" cy="392" r="3.1"/>
<circle class="c27" cx="560.2" cy="382.3" r="3.1"/>
<circle class="c25" cx="610.5" cy="374.6" r="3.1"/>
<circle class="c23" cx="646.6" cy="369.8" r="3.1"/>
<circle class="c22" cx="677.5" cy="366.2" r="3.1"/>
<circle class="c6" cx="692.2" cy="306.5" r="3.1"/>
<circle class="c20" cx="703.1" cy="358.8" r="3.1"/>
<circle class="c14" cx="698.4" cy="334.6" r="3.1"/>
<circle class="c25" cx="601" cy="375.5" r="3.1"/>
<circle class="c27" cx="552.7" cy="384.1" r="3.1"/>
<circle class="c26" cx="578" cy="380.2" r="3.1"/>
<circle class="c28" cx="533.6" cy="386.3" r="3.1"/>
<circle class="c24" cx="618.7" cy="372.6" r="3.1"/>
<circle class="c25" cx="604.1" cy="376.2" r="3.1"/>
<circle class="c27" cx="557.3" cy="384.1" r="3.1"/>
<circle class="c22" cx="685.1" cy="366" r="3.1"/>
<circle class="c14" cx="699.2" cy="333.9" r="3.1"/>
<circle class="c9" cx="694.3" cy="315.1" r="3.1"/>
<circle class="c31" cx="390.9" cy="398.6" r="3.1"/>
<circle class="c23" cx="671.4" cy="367.2" r="3.1"/>
<circle class="c25" cx="598" cy="377.1" r="3.1"/>
<circle class="c22" cx="699.5" cy="363.9" r="3.1"/>
<circle class="c29" cx="512" cy="391.1" r="3.1"/>
<circle class="c6" cx="692.8" cy="305.5" r="3.1"/>
<circle class="c23" cx="668" cy="368.5" r="3.1"/>
<circle class="c26" cx="566" cy="382" r="3.1"/>
<circle class="c22" cx="690.6" cy="364.9" r="3.1"/>
<circle class="c24" cx="632.4" cy="371.6" r="3.1"/>
<circle class="c8" cx="693.7" cy="314" r="3.1"/>
<circle class="c26" cx="580.3" cy="380.7" r="3.1"/>
<circle class="c27" cx="540.1" cy="386" r="3.1"/>
<circle class="c24" cx="626.7" cy="373" r="3.1"/>
<circle class="c20" cx="703.5" cy="357.1" r="3.1"/>
<circle class="c6" cx="692.3" cy="306.1" r="3.1"/>
<circle class="c30" cx="452.8" cy="395" r="3.1"/>
<circle class="c11" cx="696.9" cy="324.4" r="3.1"/>
<circle class="c24" cx="615.9" cy="373.9" r="3.1"/>
<circle class="c28" cx="529.5" cy="388.5" r="3.1"/>
<circle class="c26" cx="589.3" cy="379.3" r="3.1"/>
<circle class="c24" cx="630" cy="372.2" r="3.1"/>
<circle class="c16" cx="700.7" cy="344.4" r="3.1"/>
<circle class="c23" cx="672.9" cy="367.7" r="3.1"/>
<circle class="c23" cx="644.5" cy="370.8" r="3.1"/>
<circle class="c26" cx="570.5" cy="382" r="3.1"/>
<circle class="c24" cx="621.5" cy="374.3" r="3.1"/>
<circle class="c23" cx="655.8" cy="370.1" r="3.1"/>
<circle class="c24" cx="638" cy="372.1" r="3.1"/>
<circle class="c24" cx="624.7" cy="373.2" r="3.1"/>
<circle class="c24" cx="617.9" cy="373.8" r="3.1"/>
<circle class="c29" cx="500.7" cy="392.4" r="3.1"/>
<circle class="c23" cx="663.1" cy="368.7" r="3.1"/>
<circle class="c24" cx="613.9" cy="374.3" r="3.1"/>
<circle class="c25" cx="600" cy="376.6" r="3.1"/>
<circle class="c25" cx="607.6" cy="376.1" r="3.1"/>
<circle class="c25" cx="594.4" cy="377.5" r="3.1"/>
<circle class="c26" cx="575.8" cy="382.5" r="3.1"/>
<circle class="c23" cx="648.3" cy="370.4" r="3.1"/>
<circle class="c10" cx="696.2" cy="322.2" r="3.1"/>
<circle class="c27" cx="549.4" cy="386.4" r="3.1"/>
<circle class="c25" cx="609.9" cy="376.5" r="3.1"/>
<circle class="c22" cx="685.7" cy="367.4" r="3.1"/>
<circle class="c23" cx="652.2" cy="370.8" r="3.1"/>
<circle class="c29" cx="470.2" cy="393.8" r="3.1"/>
<circle class="c27" cx="567.9" cy="383.9" r="3.1"/>
<circle class="c23" cx="679.6" cy="367.9" r="3.1"/>
<circle class="c24" cx="642.5" cy="372" r="3.1"/>
<circle class="c24" cx="639.5" cy="372.9" r="3.1"/>
<circle class="c27" cx="563.3" cy="384" r="3.1"/>
<circle class="c26" cx="585.2" cy="379.3" r="3.1"/>
<circle class="c6" cx="692.5" cy="304.7" r="3.1"/>
<circle class="c8" cx="694.4" cy="313.7" r="3.1"/>
<circle class="c24" cx="635.6" cy="372.3" r="3.1"/>
<circle class="c23" cx="659.8" cy="369.9" r="3.1"/>
<circle class="c22" cx="692.5" cy="365.9" r="3.1"/>
<circle class="c10" cx="695.8" cy="321.4" r="3.1"/>
<circle class="c13" cx="699.5" cy="332" r="3.1"/>
<circle class="c23" cx="645.9" cy="371.9" r="3.1"/>
<circle class="c25" cx="602.8" cy="377.2" r="3.1"/>
<circle class="c16" cx="700.3" cy="342.6" r="3.1"/>
<circle class="c23" cx="676" cy="369.6" r="3.1"/>
<circle class="c22" cx="701.9" cy="364.7" r="3.1"/>
<circle class="c24" cx="630.1" cy="373.7" r="3.1"/>
<circle class="c24" cx="632.2" cy="373.2" r="3.1"/>
<circle class="c25" cx="612.6" cy="376.2" r="3.1"/>
<circle class="c29" cx="495.9" cy="393.8" r="3.1"/>
<circle class="c24" cx="627.3" cy="374.7" r="3.1"/>
<circle class="c23" cx="670" cy="369.8" r="3.1"/>
<circle class="c27" cx="555" cy="385.9" r="3.1"/>
<circle class="c25" cx="596.4" cy="378.5" r="3.1"/>
<circle class="c24" cx="649.2" cy="372.3" r="3.1"/>
<circle class="c27" cx="574.2" cy="383.6" r="3.1"/>
<circle class="c24" cx="623.9" cy="375.1" r="3.1"/>
<circle class="c7" cx="694.5" cy="311.5" r="3.1"/>
<circle class="c19" cx="703" cy="354.9" r="3.1"/>
<circle class="c29" cx="390.7" cy="393.9" r="3.1"/>
<circle class="c23" cx="653.5" cy="371.6" r="3.1"/>
<circle class="c30" cx="443" cy="397.6" r="3.1"/>
<circle class="c7" cx="694.8" cy="310.6" r="3.1"/>
<circle class="c28" cx="546.2" cy="388" r="3.1"/>
<circle class="c29" cx="507.5" cy="393.3" r="3.1"/>
<circle class="c24" cx="635.8" cy="374.2" r="3.1"/>
<circle class="c10" cx="697.2" cy="319.8" r="3.1"/>
<circle class="c23" cx="661.2" cy="371.4" r="3.1"/>
<circle class="c25" cx="610" cy="378.1" r="3.1"/>
<circle class="c12" cx="699.5" cy="330.3" r="3.1"/>
<circle class="c26" cx="588.1" cy="380.4" r="3.1"/>
<circle class="c23" cx="665" cy="370.6" r="3.1"/>
<circle class="c23" cx="682.2" cy="369.5" r="3.1"/>
<circle class="c28" cx="536.5" cy="387.9" r="3.1"/>
<circle class="c28" cx="525.3" cy="390.2" r="3.1"/>
<circle class="c24" cx="615.3" cy="375.5" r="3.1"/>
<circle class="c25" cx="592.9" cy="379.2" r="3.1"/>
<circle class="c25" cx="599.3" cy="378.8" r="3.1"/>
<circle class="c24" cx="643.4" cy="373.5" r="3.1"/>
<circle class="c23" cx="657.5" cy="372.4" r="3.1"/>
<circle class="c24" cx="619" cy="375.9" r="3.1"/>
<circle class="c26" cx="578.6" cy="382.6" r="3.1"/>
<circle class="c22" cx="694.6" cy="366.7" r="3.1"/>
<circle class="c24" cx="633.1" cy="374.6" r="3.1"/>
<circle class="c22" cx="688.7" cy="368.1" r="3.1"/>
<circle class="c25" cx="606" cy="377.6" r="3.1"/>
<circle class="c26" cx="583.5" cy="382.3" r="3.1"/>
<circle class="c24" cx="646.1" cy="373.2" r="3.1"/>
<circle class="c23" cx="671.4" cy="370.5" r="3.1"/>
<circle class="c27" cx="560.7" cy="386.5" r="3.1"/>
<circle class="c24" cx="621.5" cy="375.4" r="3.1"/>
<circle class="c7" cx="695.1" cy="309.5" r="3.1"/>
<circle class="c7" cx="694.4" cy="309.2" r="3.1"/>
<circle class="c26" cx="591.1" cy="382" r="3.1"/>
<circle class="c15" cx="701.8" cy="340.9" r="3.1"/>
<circle class="c29" cx="463.5" cy="395.4" r="3.1"/>
<circle class="c12" cx="698.9" cy="328.2" r="3.1"/>
<circle class="c25" cx="617.8" cy="377.7" r="3.1"/>
<circle class="c25" cx="595.4" cy="380.1" r="3.1"/>
<circle class="c25" cx="602.9" cy="378.5" r="3.1"/>
<circle class="c27" cx="552" cy="387.8" r="3.1"/>
<circle class="c25" cx="612.2" cy="377.8" r="3.1"/>
<circle class="c24" cx="627.6" cy="376.4" r="3.1"/>
<circle class="c18" cx="702.9" cy="352.5" r="3.1"/>
<circle class="c9" cx="697.2" cy="318.3" r="3.1"/>
<circle class="c28" cx="532.4" cy="390.4" r="3.1"/>
<circle class="c23" cx="667.2" cy="371.7" r="3.1"/>
<circle class="c30" cx="490.3" cy="395.9" r="3.1"/>
<circle class="c28" cx="390.7" cy="389.7" r="3.1"/>
<circle class="c6" cx="695" cy="308.5" r="3.1"/>
<circle class="c25" cx="614.9" cy="378.1" r="3.1"/>
<circle class="c21" cx="704.2" cy="365.6" r="3.1"/>
<circle class="c26" cx="586" cy="382.2" r="3.1"/>
<circle class="c23" cx="677.3" cy="370.5" r="3.1"/>
<circle class="c22" cx="697.2" cy="366.8" r="3.1"/>
<circle class="c24" cx="639.4" cy="373.8" r="3.1"/>
<circle class="c24" cx="630.4" cy="375.4" r="3.1"/>
<circle class="c27" cx="565.9" cy="385" r="3.1"/>
<circle class="c25" cx="608.2" cy="379.4" r="3.1"/>
<circle class="c23" cx="650.5" cy="373.3" r="3.1"/>
<circle class="c28" cx="543.1" cy="388.7" r="3.1"/>
<circle class="c18" cx="703.6" cy="351.4" r="3.1"/>
<circle class="c15" cx="701.5" cy="339.7" r="3.1"/>
<circle class="c24" cx="636.5" cy="374.9" r="3.1"/>
<circle class="c27" cx="577.1" cy="384.9" r="3.1"/>
<circle class="c29" cx="501.6" cy="395.4" r="3.1"/>
<circle class="c23" cx="654.9" cy="372.4" r="3.1"/>
<circle class="c22" cx="690.4" cy="368.5" r="3.1"/>
<circle class="c26" cx="582.1" cy="383" r="3.1"/>
<circle class="c23" cx="673.8" cy="372" r="3.1"/>
<circle class="c31" cx="430.6" cy="402.2" r="3.1"/>
<circle class="c25" cx="598.8" cy="380.3" r="3.1"/>
<circle class="c30" cx="453.6" cy="398.3" r="3.1"/>
<circle class="c25" cx="605.5" cy="379.3" r="3.1"/>
<circle class="c6" cx="695" cy="308" r="3.1"/>
<circle class="c9" cx="697.3" cy="317.6" r="3.1"/>
<circle class="c24" cx="643.3" cy="374.8" r="3.1"/>
<circle class="c29" cx="520.8" cy="393.4" r="3.1"/>
<circle class="c23" cx="662.7" cy="373.1" r="3.1"/>
<circle class="c11" cx="698.9" cy="327.1" r="3.1"/>
<circle class="c23" cx="658.4" cy="373.5" r="3.1"/>
<circle class="c24" cx="624" cy="376.7" r="3.1"/>
<circle class="c24" cx="622.2" cy="377.3" r="3.1"/>
<circle class="c27" cx="558" cy="388.1" r="3.1"/>
<circle class="c26" cx="572.3" cy="385.1" r="3.1"/>
<circle class="c22" cx="684.3" cy="369.7" r="3.1"/>
<circle class="c24" cx="633.8" cy="375.9" r="3.1"/>
<circle class="c27" cx="563.6" cy="387.5" r="3.1"/>
<circle class="c24" cx="630.5" cy="376.9" r="3.1"/>
<circle class="c21" cx="705.6" cy="364.8" r="3.1"/>
<circle class="c22" cx="693.4" cy="369.9" r="3.1"/>
<circle class="c23" cx="679.4" cy="371.4" r="3.1"/>
<circle class="c17" cx="703.3" cy="349.1" r="3.1"/>
<circle class="c30" cx="497.3" cy="397.2" r="3.1"/>
<circle class="c25" cx="601.7" cy="380.3" r="3.1"/>
<circle class="c24" cx="651.3" cy="375.5" r="3.1"/>
<circle class="c24" cx="640.6" cy="375.6" r="3.1"/>
<circle class="c24" cx="647.5" cy="374.5" r="3.1"/>
<circle class="c11" cx="700.1" cy="325.9" r="3.1"/>
<circle class="c25" cx="593.5" cy="381.1" r="3.1"/>
<circle class="c25" cx="611.6" cy="379.8" r="3.1"/>
<circle class="c26" cx="390.5" cy="385.3" r="3.1"/>
<circle class="c22" cx="699.5" cy="367.5" r="3.1"/>
<circle class="c29" cx="485.7" cy="396.6" r="3.1"/>
<circle class="c27" cx="549" cy="389" r="3.1"/>
<circle class="c23" cx="669.1" cy="372.7" r="3.1"/>
<circle class="c26" cx="580.2" cy="385" r="3.1"/>
<circle class="c27" cx="569.7" cy="387.4" r="3.1"/>
<circle class="c14" cx="701.9" cy="337.6" r="3.1"/>
<circle class="c8" cx="697.1" cy="315.8" r="3.1"/>
<circle class="c13" cx="701.8" cy="335.9" r="3.1"/>
<circle class="c25" cx="621.1" cy="379.1" r="3.1"/>
<circle class="c24" cx="624.5" cy="378.2" r="3.1"/>
<circle class="c28" cx="528.2" cy="392.8" r="3.1"/>
<circle class="c24" cx="628" cy="378.2" r="3.1"/>
<circle class="c25" cx="605.2" cy="380.9" r="3.1"/>
<circle class="c24" cx="655.5" cy="374.7" r="3.1"/>
<circle class="c27" cx="574.1" cy="386.7" r="3.1"/>
<circle class="c26" cx="590.2" cy="383.5" r="3.1"/>
<circle class="c25" cx="618.4" cy="378.9" r="3.1"/>
<circle class="c26" cx="598.3" cy="382.7" r="3.1"/>
<circle class="c23" cx="660" cy="374.7" r="3.1"/>
<circle class="c26" cx="584.2" cy="384.4" r="3.1"/>
<circle class="c8" cx="697" cy="314.9" r="3.1"/>
<circle class="c25" cx="614.5" cy="379" r="3.1"/>
<circle class="c23" cx="663.6" cy="373" r="3.1"/>
<circle class="c25" cx="607.8" cy="380.9" r="3.1"/>
<circle class="c28" cx="539.5" cy="391.5" r="3.1"/>
<circle class="c24" cx="644" cy="375.5" r="3.1"/>
<circle class="c27" cx="555.8" cy="389.8" r="3.1"/>
<circle class="c24" cx="635.2" cy="377.4" r="3.1"/>
<circle class="c20" cx="705.4" cy="362.8" r="3.1"/>
<circle class="c29" cx="515.3" cy="395.9" r="3.1"/>
<circle class="c7" cx="697.5" cy="313" r="3.1"/>
<circle class="c23" cx="681.2" cy="373.3" r="3.1"/>
<circle class="c24" cx="637.2" cy="376.9" r="3.1"/>
<circle class="c23" cx="670.7" cy="374.8" r="3.1"/>
<circle class="c22" cx="702.2" cy="368.9" r="3.1"/>
<circle class="c32" cx="418.7" cy="406.8" r="3.1"/>
<circle class="c24" cx="641.2" cy="377.3" r="3.1"/>
<circle class="c16" cx="703.3" cy="347.1" r="3.1"/>
<circle class="c23" cx="675.3" cy="372.2" r="3.1"/>
<circle class="c22" cx="686" cy="370.9" r="3.1"/>
<circle class="c10" cx="699.6" cy="323.8" r="3.1"/>
<circle class="c24" cx="648.7" cy="375.7" r="3.1"/>
<circle class="c24" cx="660.7" cy="375.8" r="3.1"/>
<circle class="c24" cx="652.7" cy="376.1" r="3.1"/>
<circle class="c25" cx="600.7" cy="382.5" r="3.1"/>
<circle class="c31" cx="441.9" cy="403.9" r="3.1"/>
<circle class="c26" cx="592.9" cy="383.2" r="3.1"/>
<circle class="c20" cx="705.1" cy="360.5" r="3.1"/>
<circle class="c13" cx="700.9" cy="334.3" r="3.1"/>
<circle class="c22" cx="695.7" cy="370.3" r="3.1"/>
<circle class="c22" cx="688.5" cy="371.2" r="3.1"/>
<circle class="c29" cx="480.5" cy="397.8" r="3.1"/>
<circle class="c29" cx="523.7" cy="395.3" r="3.1"/>
<circle class="c29" cx="492.5" cy="398.1" r="3.1"/>
<circle class="c25" cx="603.9" cy="382.2" r="3.1"/>
<circle class="c28" cx="545.2" cy="391.1" r="3.1"/>
<circle class="c25" cx="611.6" cy="381.3" r="3.1"/>
<circle class="c7" cx="697.1" cy="312.3" r="3.1"/>
<circle class="c28" cx="535.6" cy="393.2" r="3.1"/>
<circle class="c25" cx="624.9" cy="380.1" r="3.1"/>
<circle class="c10" cx="699.1" cy="322.9" r="3.1"/>
<circle class="c26" cx="583.2" cy="386.3" r="3.1"/>
<circle class="c24" cx="645.5" cy="377.7" r="3.1"/>
<circle class="c7" cx="697.7" cy="312.7" r="3.1"/>
<circle class="c23" cx="677.2" cy="374.3" r="3.1"/>
<circle class="c25" cx="621.4" cy="380.3" r="3.1"/>
<circle class="c25" cx="614.4" cy="381.2" r="3.1"/>
<circle class="c23" cx="665.7" cy="374.8" r="3.1"/>
<circle class="c26" cx="588.5" cy="384.8" r="3.1"/>
<circle class="c25" cx="391.1" cy="380.8" r="3.1"/>
<circle class="c27" cx="561.7" cy="389.6" r="3.1"/>
<circle class="c24" cx="631.1" cy="378.8" r="3.1"/>
<circle class="c24" cx="638.1" cy="378" r="3.1"/>
<circle class="c25" cx="617.7" cy="380.9" r="3.1"/>
<circle class="c23" cx="657.7" cy="375.8" r="3.1"/>
<circle class="c24" cx="627.9" cy="379.1" r="3.1"/>
<circle class="c23" cx="691.4" cy="373" r="3.1"/>
<circle class="c25" cx="610.6" cy="382.7" r="3.1"/>
<circle class="c30" cx="510.3" cy="399" r="3.1"/>
<circle class="c27" cx="566.5" cy="389.5" r="3.1"/>
<circle class="c9" cx="700" cy="320.8" r="3.1"/>
<circle class="c27" cx="572.4" cy="388.6" r="3.1"/>
<circle class="c26" cx="596.7" cy="383.6" r="3.1"/>
<circle class="c27" cx="578.8" cy="387.4" r="3.1"/>
<circle class="c25" cx="607.2" cy="383" r="3.1"/>
<circle class="c24" cx="648.8" cy="378.1" r="3.1"/>
<circle class="c16" cx="704.2" cy="346.2" r="3.1"/>
<circle class="c12" cx="701.9" cy="332.3" r="3.1"/>
<circle class="c19" cx="705.6" cy="358.3" r="3.1"/>
<circle class="c25" cx="618.1" cy="382.7" r="3.1"/>
<circle class="c26" cx="599.8" cy="383.8" r="3.1"/>
<circle class="c11" cx="702" cy="330.5" r="3.1"/>
<circle class="c24" cx="667.8" cy="376.7" r="3.1"/>
<circle class="c27" cx="552.1" cy="391.3" r="3.1"/>
<circle class="c24" cx="663.5" cy="376.8" r="3.1"/>
<circle class="c9" cx="700" cy="320.5" r="3.1"/>
<circle class="c24" cx="658.1" cy="377.7" r="3.1"/>
<circle class="c33" cx="405.2" cy="410.7" r="3.1"/>
<circle class="c26" cx="587.2" cy="387.3" r="3.1"/>
<circle class="c24" cx="653.4" cy="377.7" r="3.1"/>
<circle class="c24" cx="635.3" cy="378.9" r="3.1"/>
<circle class="c23" cx="672.1" cy="375.4" r="3.1"/>
<circle class="c24" cx="642.7" cy="379.5" r="3.1"/>
<circle class="c22" cx="698.1" cy="372" r="3.1"/>
<circle class="c29" cx="474.6" cy="399.1" r="3.1"/>
<circle class="c25" cx="628.6" cy="381.7" r="3.1"/>
<circle class="c27" cx="557.8" cy="391" r="3.1"/>
<circle class="c22" cx="705.2" cy="370.2" r="3.1"/>
</g>
<g class="a9">
<circle class="c26" cx="591.1" cy="385.1" r="3.1"/>
<circle class="c27" cx="570.4" cy="389.6" r="3.1"/>
<circle class="c23" cx="678.2" cy="375.5" r="3.1"/>
<circle class="c23" cx="684" cy="373.7" r="3.1"/>
<circle class="c32" cx="429.3" cy="408" r="3.1"/>
<circle class="c28" cx="532.5" cy="395.4" r="3.1"/>
<circle class="c28" cx="542.3" cy="392.7" r="3.1"/>
<circle class="c15" cx="703.5" cy="343.1" r="3.1"/>
<circle class="c30" cx="487.6" cy="399.6" r="3.1"/>
<circle class="c25" cx="625.3" cy="381.2" r="3.1"/>
<circle class="c25" cx="614" cy="382.7" r="3.1"/>
<circle class="c29" cx="518.1" cy="398.4" r="3.1"/>
<circle class="c26" cx="581.4" cy="387.7" r="3.1"/>
<circle class="c24" cx="631.6" cy="380" r="3.1"/>
<circle class="c14" cx="704.4" cy="341.8" r="3.1"/>
<circle class="c24" cx="646.4" cy="378.6" r="3.1"/>
<circle class="c11" cx="701.5" cy="329.2" r="3.1"/>
<circle class="c25" cx="621.5" cy="382.6" r="3.1"/>
<circle class="c22" cx="708" cy="370.2" r="3.1"/>
<circle class="c23" cx="686" cy="374.9" r="3.1"/>
<circle class="c8" cx="699.6" cy="318.9" r="3.1"/>
<circle class="c24" cx="638.8" cy="380.2" r="3.1"/>
<circle class="c18" cx="705.3" cy="356.5" r="3.1"/>
<circle class="c27" cx="576.9" cy="389.1" r="3.1"/>
<circle class="c23" cx="693.9" cy="373.5" r="3.1"/>
<circle class="c24" cx="650.4" cy="378.9" r="3.1"/>
<circle class="c26" cx="594.6" cy="385.8" r="3.1"/>
<circle class="c17" cx="706.1" cy="354" r="3.1"/>
<circle class="c25" cx="603.4" cy="384.8" r="3.1"/>
<circle class="c23" cx="674.2" cy="377.2" r="3.1"/>
<circle class="c26" cx="590.4" cy="386.8" r="3.1"/>
<circle class="c28" cx="549.8" cy="393.2" r="3.1"/>
<circle class="c24" cx="635" cy="380.9" r="3.1"/>
<circle class="c25" cx="607" cy="384.4" r="3.1"/>
<circle class="c30" cx="505" cy="400.4" r="3.1"/>
<circle class="c27" cx="565.1" cy="390.6" r="3.1"/>
<circle class="c25" cx="632" cy="381.6" r="3.1"/>
<circle class="c14" cx="703.5" cy="339.9" r="3.1"/>
<circle class="c24" cx="655.1" cy="379.7" r="3.1"/>
<circle class="c24" cx="642.9" cy="380.4" r="3.1"/>
<circle class="c25" cx="628.6" cy="382.2" r="3.1"/>
<circle class="c27" cx="556" cy="392.5" r="3.1"/>
<circle class="c24" cx="669.6" cy="378.3" r="3.1"/>
<circle class="c25" cx="610.2" cy="384.8" r="3.1"/>
<circle class="c23" cx="681.1" cy="376.5" r="3.1"/>
<circle class="c24" cx="664.9" cy="378" r="3.1"/>
<circle class="c7" cx="699.5" cy="317.4" r="3.1"/>
<circle class="c28" cx="539" cy="395" r="3.1"/>
<circle class="c24" cx="646.8" cy="381.1" r="3.1"/>
<circle class="c26" cx="598.4" cy="386" r="3.1"/>
<circle class="c22" cx="700.5" cy="372.7" r="3.1"/>
<circle class="c26" cx="602.9" cy="386.4" r="3.1"/>
<circle class="c29" cx="482.6" cy="399.8" r="3.1"/>
<circle class="c21" cx="707.8" cy="367.9" r="3.1"/>
<circle class="c24" cx="639.6" cy="381.7" r="3.1"/>
<circle class="c23" cx="687.9" cy="375.8" r="3.1"/>
<circle class="c10" cx="701.2" cy="327.7" r="3.1"/>
<circle class="c30" cx="467.5" cy="401.3" r="3.1"/>
<circle class="c27" cx="567.7" cy="392" r="3.1"/>
<circle class="c29" cx="512.9" cy="400.9" r="3.1"/>
<circle class="c26" cx="585.7" cy="388.2" r="3.1"/>
<circle class="c24" cx="660.1" cy="378.9" r="3.1"/>
<circle class="c7" cx="699.6" cy="316" r="3.1"/>
<circle class="c33" cx="393.7" cy="413.6" r="3.1"/>
<circle class="c25" cx="620.6" cy="384.5" r="3.1"/>
<circle class="c32" cx="417.6" cy="411.8" r="3.1"/>
<circle class="c25" cx="617.9" cy="384.8" r="3.1"/>
<circle class="c10" cx="702.5" cy="326.8" r="3.1"/>
<circle class="c23" cx="695.5" cy="375" r="3.1"/>
<circle class="c29" cx="526.9" cy="399" r="3.1"/>
<circle class="c25" cx="613.4" cy="384.1" r="3.1"/>
<circle class="c27" cx="574.1" cy="391" r="3.1"/>
<circle class="c25" cx="624.6" cy="383" r="3.1"/>
<circle class="c26" cx="593.9" cy="387.7" r="3.1"/>
<circle class="c27" cx="561.9" cy="392.5" r="3.1"/>
<circle class="c26" cx="580.1" cy="389.8" r="3.1"/>
<circle class="c26" cx="606.6" cy="386.4" r="3.1"/>
<circle class="c24" cx="651.5" cy="380.8" r="3.1"/>
<circle class="c30" cx="500.4" cy="402.7" r="3.1"/>
<circle class="c13" cx="704" cy="338.3" r="3.1"/>
<circle class="c23" cx="676.6" cy="378.1" r="3.1"/>
<circle class="c16" cx="705.7" cy="352.1" r="3.1"/>
<circle class="c22" cx="703.4" cy="373.9" r="3.1"/>
<circle class="c25" cx="633" cy="383.2" r="3.1"/>
<circle class="c28" cx="545.7" cy="395.3" r="3.1"/>
<circle class="c24" cx="635.6" cy="382.4" r="3.1"/>
<circle class="c23" cx="670.5" cy="378.8" r="3.1"/>
<circle class="c24" cx="666.6" cy="380" r="3.1"/>
<circle class="c23" cx="683.2" cy="377.7" r="3.1"/>
<circle class="c24" cx="643.6" cy="381.4" r="3.1"/>
<circle class="c9" cx="701.9" cy="325.1" r="3.1"/>
<circle class="c24" cx="661.7" cy="379.6" r="3.1"/>
<circle class="c26" cx="588.8" cy="388.2" r="3.1"/>
<circle class="c24" cx="656.3" cy="380.4" r="3.1"/>
<circle class="c30" cx="508.3" cy="402.6" r="3.1"/>
<circle class="c28" cx="535.2" cy="397.8" r="3.1"/>
<circle class="c20" cx="706.9" cy="365.2" r="3.1"/>
<circle class="c25" cx="610.6" cy="386.2" r="3.1"/>
<circle class="c27" cx="584" cy="390.6" r="3.1"/>
<circle class="c23" cx="689.9" cy="376.7" r="3.1"/>
<circle class="c25" cx="628.1" cy="383.9" r="3.1"/>
<circle class="c26" cx="597.5" cy="387.7" r="3.1"/>
<circle class="c27" cx="577.6" cy="391.5" r="3.1"/>
<circle class="c26" cx="613.8" cy="386.9" r="3.1"/>
<circle class="c13" cx="703.6" cy="337.7" r="3.1"/>
<circle class="c24" cx="647.6" cy="382.1" r="3.1"/>
<circle class="c25" cx="624.7" cy="384.7" r="3.1"/>
<circle class="c25" cx="620.7" cy="385.7" r="3.1"/>
<circle class="c28" cx="552.8" cy="395.1" r="3.1"/>
<circle class="c30" cx="475.9" cy="402.3" r="3.1"/>
<circle class="c25" cx="617.6" cy="386.2" r="3.1"/>
<circle class="c9" cx="702.1" cy="323.3" r="3.1"/>
<circle class="c31" cx="455.8" cy="406.4" r="3.1"/>
<circle class="c26" cx="593" cy="389.8" r="3.1"/>
<circle class="c16" cx="706.1" cy="350.1" r="3.1"/>
<circle class="c24" cx="639.6" cy="382.4" r="3.1"/>
<circle class="c27" cx="572.1" cy="393.2" r="3.1"/>
<circle class="c23" cx="678" cy="379.3" r="3.1"/>
<circle class="c26" cx="601.3" cy="388.2" r="3.1"/>
<circle class="c32" cx="387" cy="412.8" r="3.1"/>
<circle class="c27" cx="560.1" cy="394.4" r="3.1"/>
<circle class="c22" cx="705.8" cy="374.9" r="3.1"/>
<circle class="c19" cx="707.1" cy="363.7" r="3.1"/>
<circle class="c24" cx="653.4" cy="382.3" r="3.1"/>
<circle class="c27" cx="565.8" cy="393.5" r="3.1"/>
<circle class="c12" cx="703.9" cy="334.6" r="3.1"/>
<circle class="c24" cx="662.2" cy="381.8" r="3.1"/>
<circle class="c27" cx="587.6" cy="391.7" r="3.1"/>
<circle class="c24" cx="667.9" cy="380.8" r="3.1"/>
<circle class="c29" cx="522.5" cy="401.2" r="3.1"/>
<circle class="c25" cx="636.4" cy="383.9" r="3.1"/>
<circle class="c15" cx="706.4" cy="347.8" r="3.1"/>
<circle class="c28" cx="543.1" cy="397.8" r="3.1"/>
<circle class="c30" cx="495.4" cy="403.3" r="3.1"/>
<circle class="c26" cx="605.5" cy="388.1" r="3.1"/>
<circle class="c11" cx="704" cy="333.9" r="3.1"/>
<circle class="c24" cx="644.6" cy="382.7" r="3.1"/>
<circle class="c24" cx="658" cy="382" r="3.1"/>
<circle class="c26" cx="597" cy="390.1" r="3.1"/>
<circle class="c27" cx="582.2" cy="391.8" r="3.1"/>
<circle class="c23" cx="697.7" cy="376.6" r="3.1"/>
<circle class="c26" cx="612.6" cy="388.5" r="3.1"/>
<circle class="c23" cx="685.1" cy="379.6" r="3.1"/>
<circle class="c23" cx="672.5" cy="380.3" r="3.1"/>
<circle class="c28" cx="549.7" cy="396.5" r="3.1"/>
<circle class="c25" cx="628.1" cy="385.4" r="3.1"/>
<circle class="c25" cx="632.5" cy="385" r="3.1"/>
<circle class="c24" cx="680.9" cy="380.7" r="3.1"/>
<circle class="c33" cx="406.4" cy="415.6" r="3.1"/>
<circle class="c8" cx="702" cy="322.4" r="3.1"/>
<circle class="c23" cx="693.4" cy="379.4" r="3.1"/>
<circle class="c25" cx="640.7" cy="384.8" r="3.1"/>
<circle class="c8" cx="702.6" cy="320.3" r="3.1"/>
<circle class="c25" cx="609.1" cy="388.2" r="3.1"/>
<circle class="c27" cx="576.7" cy="393.3" r="3.1"/>
<circle class="c18" cx="707.8" cy="361.2" r="3.1"/>
<circle class="c25" cx="617.3" cy="387.4" r="3.1"/>
<circle class="c25" cx="624.8" cy="386.7" r="3.1"/>
<circle class="c30" cx="468.8" cy="405.2" r="3.1"/>
<circle class="c26" cx="600.6" cy="390.9" r="3.1"/>
<circle class="c24" cx="649.1" cy="384.6" r="3.1"/>
<circle class="c29" cx="530.5" cy="400.3" r="3.1"/>
<circle class="c30" cx="386.8" cy="407" r="3.1"/>
<circle class="c14" cx="706" cy="346.6" r="3.1"/>
<circle class="c27" cx="564.4" cy="395.1" r="3.1"/>
<circle class="c30" cx="503.6" cy="405.3" r="3.1"/>
<circle class="c27" cx="585.8" cy="393.1" r="3.1"/>
<circle class="c25" cx="620.6" cy="387.7" r="3.1"/>
<circle class="c28" cx="556.9" cy="396.8" r="3.1"/>
<circle class="c24" cx="675.7" cy="381.8" r="3.1"/>
<circle class="c24" cx="654.2" cy="383.6" r="3.1"/>
<circle class="c22" cx="708.9" cy="375.3" r="3.1"/>
<circle class="c23" cx="701.5" cy="377.9" r="3.1"/>
<circle class="c27" cx="570.9" cy="394.5" r="3.1"/>
<circle class="c26" cx="591.7" cy="390.6" r="3.1"/>
<circle class="c29" cx="517.2" cy="403.9" r="3.1"/>
<circle class="c30" cx="491" cy="405" r="3.1"/>
<circle class="c10" cx="703.8" cy="331.4" r="3.1"/>
<circle class="c24" cx="669.3" cy="383" r="3.1"/>
<circle class="c24" cx="658.9" cy="383.6" r="3.1"/>
<circle class="c24" cx="645.7" cy="384.9" r="3.1"/>
<circle class="c26" cx="604.3" cy="390.9" r="3.1"/>
<circle class="c24" cx="636.9" cy="385" r="3.1"/>
<circle class="c14" cx="706.4" cy="344.4" r="3.1"/>
<circle class="c28" cx="539.7" cy="399.5" r="3.1"/>
<circle class="c18" cx="707.8" cy="359.1" r="3.1"/>
<circle class="c23" cx="687.8" cy="380.8" r="3.1"/>
<circle class="c25" cx="641.6" cy="386.1" r="3.1"/>
<circle class="c10" cx="705.1" cy="330.4" r="3.1"/>
<circle class="c24" cx="664.1" cy="383.5" r="3.1"/>
<circle class="c26" cx="617.8" cy="390.6" r="3.1"/>
<circle class="c32" cx="442.1" cy="413" r="3.1"/>
<circle class="c26" cx="595.7" cy="391.9" r="3.1"/>
<circle class="c25" cx="633.2" cy="387" r="3.1"/>
<circle class="c30" cx="498.3" cy="406.9" r="3.1"/>
<circle class="c27" cx="580.5" cy="394.2" r="3.1"/>
<circle class="c23" cx="695.3" cy="380.6" r="3.1"/>
<circle class="c28" cx="546.7" cy="398.7" r="3.1"/>
<circle class="c26" cx="608.9" cy="390" r="3.1"/>
<circle class="c33" cx="395.2" cy="418.4" r="3.1"/>
<circle class="c25" cx="625" cy="388.9" r="3.1"/>
<circle class="c26" cx="599.6" cy="392.4" r="3.1"/>
<circle class="c27" cx="574.8" cy="395.3" r="3.1"/>
<circle class="c29" cx="525.9" cy="403.2" r="3.1"/>
<circle class="c21" cx="709.1" cy="374.2" r="3.1"/>
<circle class="c24" cx="650.3" cy="384.8" r="3.1"/>
<circle class="c9" cx="704.4" cy="328.9" r="3.1"/>
<circle class="c13" cx="705.8" cy="342.8" r="3.1"/>
<circle class="c28" cx="561.5" cy="397.6" r="3.1"/>
<circle class="c25" cx="646.8" cy="386.5" r="3.1"/>
<circle class="c25" cx="629.5" cy="387.9" r="3.1"/>
<circle class="c26" cx="613" cy="390.3" r="3.1"/>
<circle class="c24" cx="654.7" cy="385.3" r="3.1"/>
<circle class="c17" cx="707.4" cy="357.2" r="3.1"/>
<circle class="c27" cx="568.4" cy="397" r="3.1"/>
<circle class="c23" cx="682.2" cy="381.9" r="3.1"/>
<circle class="c25" cx="621.1" cy="389" r="3.1"/>
<circle class="c28" cx="554.5" cy="398.8" r="3.1"/>
<circle class="c29" cx="388" cy="402.9" r="3.1"/>
<circle class="c26" cx="590.2" cy="393.9" r="3.1"/>
<circle class="c24" cx="676.9" cy="383.3" r="3.1"/>
<circle class="c25" cx="637.1" cy="387.6" r="3.1"/>
<circle class="c30" cx="513.9" cy="405.9" r="3.1"/>
<circle class="c24" cx="671.3" cy="384.1" r="3.1"/>
<circle class="c30" cx="484.6" cy="407.2" r="3.1"/>
<circle class="c13" cx="706.1" cy="341" r="3.1"/>
<circle class="c24" cx="665.4" cy="384.6" r="3.1"/>
<circle class="c24" cx="661.4" cy="385.2" r="3.1"/>
<circle class="c31" cx="458.1" cy="410.4" r="3.1"/>
<circle class="c27" cx="584.5" cy="395.4" r="3.1"/>
<circle class="c23" cx="704.1" cy="379.4" r="3.1"/>
<circle class="c16" cx="707.3" cy="354.9" r="3.1"/>
<circle class="c25" cx="633.8" cy="388.7" r="3.1"/>
<circle class="c26" cx="607.8" cy="392" r="3.1"/>
<circle class="c23" cx="691" cy="382.7" r="3.1"/>
<circle class="c27" cx="594.2" cy="395.2" r="3.1"/>
<circle class="c26" cx="604.2" cy="393.1" r="3.1"/>
<circle class="c9" cx="704.3" cy="326.9" r="3.1"/>
<circle class="c28" cx="558.7" cy="399.6" r="3.1"/>
<circle class="c29" cx="535.1" cy="403.6" r="3.1"/>
<circle class="c25" cx="652" cy="387.3" r="3.1"/>
<circle class="c28" cx="387.6" cy="398.9" r="3.1"/>
<circle class="c20" cx="708.8" cy="371.2" r="3.1"/>
<circle class="c24" cx="684.9" cy="383.7" r="3.1"/>
<circle class="c24" cx="656.7" cy="386.7" r="3.1"/>
<circle class="c25" cx="629.9" cy="389.9" r="3.1"/>
<circle class="c27" cx="579.3" cy="396.7" r="3.1"/>
<circle class="c28" cx="542.3" cy="402" r="3.1"/>
<circle class="c26" cx="612.8" cy="392.5" r="3.1"/>
<circle class="c12" cx="706" cy="339" r="3.1"/>
<circle class="c27" cx="572.2" cy="397.4" r="3.1"/>
<circle class="c20" cx="708.9" cy="369.1" r="3.1"/>
<circle class="c15" cx="707.7" cy="352.7" r="3.1"/>
<circle class="c24" cx="662.3" cy="387.3" r="3.1"/>
<circle class="c25" cx="642.7" cy="387.9" r="3.1"/>
<circle class="c29" cx="520.9" cy="406.1" r="3.1"/>
<circle class="c32" cx="386.6" cy="417.8" r="3.1"/>
<circle class="c25" cx="621.3" cy="391.2" r="3.1"/>
<circle class="c11" cx="705.9" cy="337.3" r="3.1"/>
</g>
<g class="a10">
<circle class="c26" cx="617" cy="391.6" r="3.1"/>
<circle class="c27" cx="588.8" cy="396.3" r="3.1"/>
<circle class="c24" cx="678.9" cy="384.8" r="3.1"/>
<circle class="c33" cx="429.1" cy="419.3" r="3.1"/>
<circle class="c25" cx="625.2" cy="389.8" r="3.1"/>
<circle class="c27" cx="566.9" cy="398.4" r="3.1"/>
<circle class="c26" cx="599" cy="394.7" r="3.1"/>
<circle class="c23" cx="698" cy="382" r="3.1"/>
<circle class="c30" cx="493" cy="408.7" r="3.1"/>
<circle class="c24" cx="672.7" cy="386.5" r="3.1"/>
<circle class="c23" cx="707.3" cy="381.3" r="3.1"/>
<circle class="c8" cx="704.4" cy="325.3" r="3.1"/>
<circle class="c25" cx="647.4" cy="388.3" r="3.1"/>
<circle class="c28" cx="551.3" cy="400.6" r="3.1"/>
<circle class="c25" cx="638.1" cy="388.9" r="3.1"/>
<circle class="c23" cx="693.1" cy="383.2" r="3.1"/>
<circle class="c15" cx="708.1" cy="351.1" r="3.1"/>
<circle class="c26" cx="602.7" cy="395" r="3.1"/>
<circle class="c24" cx="667.4" cy="386.4" r="3.1"/>
<circle class="c19" cx="709.3" cy="366.8" r="3.1"/>
<circle class="c26" cx="607.8" cy="394.8" r="3.1"/>
<circle class="c26" cx="612" cy="394.7" r="3.1"/>
<circle class="c30" cx="508.9" cy="409.1" r="3.1"/>
<circle class="c25" cx="643.6" cy="390" r="3.1"/>
<circle class="c30" cx="478.2" cy="411" r="3.1"/>
<circle class="c26" cx="386.6" cy="393.9" r="3.1"/>
<circle class="c25" cx="634.4" cy="390.6" r="3.1"/>
<circle class="c27" cx="583.5" cy="397.6" r="3.1"/>
<circle class="c25" cx="629.3" cy="390.9" r="3.1"/>
<circle class="c23" cx="701.7" cy="383.7" r="3.1"/>
<circle class="c27" cx="593.2" cy="397" r="3.1"/>
<circle class="c26" cx="616.3" cy="394.1" r="3.1"/>
<circle class="c14" cx="707.8" cy="348.9" r="3.1"/>
<circle class="c31" cx="385.8" cy="413.8" r="3.1"/>
<circle class="c10" cx="706.4" cy="335.5" r="3.1"/>
<circle class="c29" cx="538.9" cy="405.3" r="3.1"/>
<circle class="c27" cx="570.7" cy="398.8" r="3.1"/>
<circle class="c29" cx="531.2" cy="406.1" r="3.1"/>
<circle class="c24" cx="652.1" cy="388.5" r="3.1"/>
<circle class="c25" cx="625.9" cy="392.3" r="3.1"/>
<circle class="c32" cx="445.7" cy="416.1" r="3.1"/>
<circle class="c27" cx="576.6" cy="397.9" r="3.1"/>
<circle class="c10" cx="706.1" cy="333.9" r="3.1"/>
<circle class="c23" cx="710.4" cy="382.4" r="3.1"/>
<circle class="c27" cx="563.8" cy="400.4" r="3.1"/>
<circle class="c26" cx="621.2" cy="393.4" r="3.1"/>
<circle class="c30" cx="517.4" cy="408.2" r="3.1"/>
<circle class="c25" cx="658.1" cy="389.2" r="3.1"/>
<circle class="c24" cx="686.3" cy="385.4" r="3.1"/>
<circle class="c27" cx="587.8" cy="398.5" r="3.1"/>
<circle class="c25" cx="638.5" cy="391.1" r="3.1"/>
<circle class="c24" cx="681" cy="386.5" r="3.1"/>
<circle class="c18" cx="708.4" cy="364.1" r="3.1"/>
<circle class="c24" cx="663.2" cy="388.5" r="3.1"/>
<circle class="c24" cx="676" cy="387.6" r="3.1"/>
<circle class="c27" cx="598" cy="397.7" r="3.1"/>
<circle class="c28" cx="547.9" cy="403.1" r="3.1"/>
<circle class="c25" cx="648.3" cy="390.3" r="3.1"/>
<circle class="c30" cx="486.1" cy="412.3" r="3.1"/>
<circle class="c28" cx="556.1" cy="402.2" r="3.1"/>
<circle class="c26" cx="602.5" cy="397.1" r="3.1"/>
<circle class="c27" cx="581.5" cy="399.8" r="3.1"/>
<circle class="c25" cx="634.1" cy="391.7" r="3.1"/>
<circle class="c13" cx="707.9" cy="347.6" r="3.1"/>
<circle class="c24" cx="669.4" cy="388.3" r="3.1"/>
<circle class="c22" cx="710.3" cy="379.7" r="3.1"/>
<circle class="c25" cx="653.3" cy="390.9" r="3.1"/>
<circle class="c34" cx="416.5" cy="424.8" r="3.1"/>
<circle class="c9" cx="706.2" cy="332.6" r="3.1"/>
<circle class="c23" cx="695.6" cy="385.1" r="3.1"/>
<circle class="c25" cx="629.6" cy="393.4" r="3.1"/>
<circle class="c29" cx="386" cy="408.6" r="3.1"/>
<circle class="c24" cx="689.2" cy="387.1" r="3.1"/>
<circle class="c25" cx="644.2" cy="392" r="3.1"/>
<circle class="c26" cx="625.6" cy="394.1" r="3.1"/>
<circle class="c26" cx="606.4" cy="397.2" r="3.1"/>
<circle class="c25" cx="659.1" cy="390.3" r="3.1"/>
<circle class="c23" cx="704.2" cy="385.8" r="3.1"/>
<circle class="c29" cx="527" cy="408.3" r="3.1"/>
<circle class="c26" cx="621.5" cy="395.2" r="3.1"/>
<circle class="c17" cx="709.2" cy="362.1" r="3.1"/>
<circle class="c13" cx="708.2" cy="345" r="3.1"/>
<circle class="c27" cx="574.9" cy="399.8" r="3.1"/>
<circle class="c30" cx="504" cy="410.4" r="3.1"/>
<circle class="c27" cx="586.5" cy="399.8" r="3.1"/>
<circle class="c30" cx="512.2" cy="410.1" r="3.1"/>
<circle class="c27" cx="591.8" cy="399.4" r="3.1"/>
<circle class="c29" cx="535.3" cy="407.9" r="3.1"/>
<circle class="c27" cx="596.8" cy="398.9" r="3.1"/>
<circle class="c31" cx="469.2" cy="415.1" r="3.1"/>
<circle class="c26" cx="610.5" cy="396.6" r="3.1"/>
<circle class="c26" cx="616.6" cy="395.8" r="3.1"/>
<circle class="c24" cx="676" cy="389.2" r="3.1"/>
<circle class="c24" cx="683.2" cy="387.8" r="3.1"/>
<circle class="c9" cx="706.5" cy="330.4" r="3.1"/>
<circle class="c28" cx="553.1" cy="404.2" r="3.1"/>
<circle class="c21" cx="710.5" cy="377.1" r="3.1"/>
<circle class="c25" cx="639.3" cy="392.7" r="3.1"/>
<circle class="c28" cx="561.4" cy="402.8" r="3.1"/>
<circle class="c29" cx="545.2" cy="406.6" r="3.1"/>
<circle class="c17" cx="709.3" cy="361.1" r="3.1"/>
<circle class="c24" cx="670.2" cy="390.5" r="3.1"/>
<circle class="c25" cx="649" cy="392.2" r="3.1"/>
<circle class="c27" cx="567.7" cy="400.9" r="3.1"/>
<circle class="c33" cx="432.9" cy="422.9" r="3.1"/>
<circle class="c23" cx="698" cy="386.5" r="3.1"/>
<circle class="c26" cx="630.5" cy="395.3" r="3.1"/>
<circle class="c24" cx="665.1" cy="390.2" r="3.1"/>
<circle class="c12" cx="708.6" cy="343.5" r="3.1"/>
<circle class="c27" cx="601.2" cy="399.7" r="3.1"/>
<circle class="c25" cx="655.7" cy="392.2" r="3.1"/>
<circle class="c27" cx="579.9" cy="400.9" r="3.1"/>
<circle class="c25" cx="634.2" cy="394.1" r="3.1"/>
<circle class="c23" cx="708" cy="387.7" r="3.1"/>
<circle class="c27" cx="606.1" cy="400.2" r="3.1"/>
<circle class="c28" cx="385.9" cy="404.3" r="3.1"/>
<circle class="c27" cx="591.1" cy="401.6" r="3.1"/>
<circle class="c26" cx="615.6" cy="398.3" r="3.1"/>
<circle class="c25" cx="644.7" cy="393.5" r="3.1"/>
<circle class="c34" cx="405.8" cy="427.1" r="3.1"/>
<circle class="c26" cx="611.2" cy="399.3" r="3.1"/>
<circle class="c31" cx="477.7" cy="417.7" r="3.1"/>
<circle class="c16" cx="709.4" cy="358.3" r="3.1"/>
<circle class="c12" cx="708.3" cy="342.7" r="3.1"/>
<circle class="c25" cx="660.6" cy="392.6" r="3.1"/>
<circle class="c24" cx="692.1" cy="388.3" r="3.1"/>
<circle class="c24" cx="685.3" cy="389.6" r="3.1"/>
<circle class="c20" cx="710.9" cy="374.3" r="3.1"/>
<circle class="c30" cx="498.2" cy="413.3" r="3.1"/>
<circle class="c26" cx="625.3" cy="396" r="3.1"/>
<circle class="c27" cx="573.2" cy="402.7" r="3.1"/>
<circle class="c24" cx="678.2" cy="390.1" r="3.1"/>
<circle class="c29" cx="523.3" cy="410.6" r="3.1"/>
<circle class="c28" cx="565.9" cy="404.3" r="3.1"/>
<circle class="c24" cx="673.5" cy="391.8" r="3.1"/>
<circle class="c29" cx="531.4" cy="410.2" r="3.1"/>
<circle class="c25" cx="650.8" cy="393.9" r="3.1"/>
<circle class="c25" cx="666.1" cy="392.4" r="3.1"/>
<circle class="c31" cx="460.7" cy="419.1" r="3.1"/>
<circle class="c26" cx="635" cy="397.1" r="3.1"/>
<circle class="c19" cx="710.7" cy="372.6" r="3.1"/>
<circle class="c27" cx="596.2" cy="401.9" r="3.1"/>
<circle class="c11" cx="707.4" cy="340" r="3.1"/>
<circle class="c15" cx="709.7" cy="356.1" r="3.1"/>
<circle class="c25" cx="640.4" cy="395.2" r="3.1"/>
<circle class="c29" cx="541.3" cy="409.6" r="3.1"/>
<circle class="c26" cx="620.5" cy="397.5" r="3.1"/>
<circle class="c27" cx="584.3" cy="402.8" r="3.1"/>
<circle class="c28" cx="549.8" cy="407.3" r="3.1"/>
<circle class="c28" cx="558.8" cy="405.6" r="3.1"/>
<circle class="c25" cx="655.7" cy="394.2" r="3.1"/>
<circle class="c23" cx="702" cy="388.9" r="3.1"/>
<circle class="c26" cx="386.3" cy="399.4" r="3.1"/>
<circle class="c14" cx="709.7" cy="354.2" r="3.1"/>
<circle class="c30" cx="507.7" cy="412.8" r="3.1"/>
<circle class="c27" cx="599.9" cy="401.2" r="3.1"/>
<circle class="c25" cx="645.7" cy="395.7" r="3.1"/>
<circle class="c10" cx="708.5" cy="338.2" r="3.1"/>
<circle class="c25" cx="630.2" cy="396.7" r="3.1"/>
<circle class="c24" cx="694.5" cy="390.2" r="3.1"/>
<circle class="c27" cx="605.6" cy="401.4" r="3.1"/>
<circle class="c19" cx="710.4" cy="370.9" r="3.1"/>
<circle class="c26" cx="625.7" cy="398.3" r="3.1"/>
<circle class="c27" cx="588.8" cy="404.2" r="3.1"/>
<circle class="c32" cx="469.9" cy="421.2" r="3.1"/>
<circle class="c27" cx="577.7" cy="403.1" r="3.1"/>
<circle class="c27" cx="570.9" cy="404.5" r="3.1"/>
<circle class="c26" cx="615.3" cy="400.6" r="3.1"/>
<circle class="c27" cx="594.6" cy="403.7" r="3.1"/>
<circle class="c26" cx="611" cy="400.6" r="3.1"/>
<circle class="c24" cx="668.3" cy="392.9" r="3.1"/>
<circle class="c28" cx="563.4" cy="406" r="3.1"/>
<circle class="c14" cx="709.3" cy="352.3" r="3.1"/>
<circle class="c26" cx="620.6" cy="399.6" r="3.1"/>
<circle class="c24" cx="681" cy="392.1" r="3.1"/>
<circle class="c25" cx="662.2" cy="394.1" r="3.1"/>
<circle class="c24" cx="687.7" cy="391.7" r="3.1"/>
<circle class="c10" cx="707.5" cy="337.1" r="3.1"/>
<circle class="c24" cx="674.3" cy="393.1" r="3.1"/>
<circle class="c34" cx="417.3" cy="430.1" r="3.1"/>
<circle class="c31" cx="489.5" cy="419.3" r="3.1"/>
<circle class="c30" cx="518.8" cy="413.3" r="3.1"/>
<circle class="c25" cx="651" cy="396.1" r="3.1"/>
<circle class="c25" cx="641.4" cy="397" r="3.1"/>
<circle class="c11" cx="563.1" cy="341.9" r="3.1"/>
<circle class="c18" cx="711.3" cy="367.9" r="3.1"/>
<circle class="c28" cx="555.8" cy="407" r="3.1"/>
<circle class="c29" cx="527.4" cy="412.9" r="3.1"/>
<circle class="c27" cx="583.1" cy="405" r="3.1"/>
<circle class="c13" cx="710.1" cy="350.1" r="3.1"/>
<circle class="c34" cx="394.2" cy="429.7" r="3.1"/>
<circle class="c30" cx="502" cy="416.3" r="3.1"/>
<circle class="c25" cx="657.3" cy="396.5" r="3.1"/>
<circle class="c27" cx="599.6" cy="405" r="3.1"/>
</g>
<g class="a11">
<circle class="c29" cx="538.3" cy="412.1" r="3.1"/>
<circle class="c22" cx="711.3" cy="385.6" r="3.1"/>
<circle class="c32" cx="452.3" cy="422" r="3.1"/>
<circle class="c25" cx="635.6" cy="398.5" r="3.1"/>
<circle class="c24" cx="697" cy="392.3" r="3.1"/>
<circle class="c17" cx="710.4" cy="365.3" r="3.1"/>
<circle class="c23" cx="704.5" cy="391.1" r="3.1"/>
<circle class="c22" cx="711" cy="383.9" r="3.1"/>
<circle class="c25" cx="646.9" cy="398.2" r="3.1"/>
<circle class="c27" cx="604.7" cy="403.6" r="3.1"/>
<circle class="c27" cx="575.3" cy="406" r="3.1"/>
<circle class="c26" cx="615" cy="402.5" r="3.1"/>
<circle class="c12" cx="710" cy="348" r="3.1"/>
<circle class="c25" cx="670.3" cy="395.8" r="3.1"/>
<circle class="c28" cx="546.5" cy="409.9" r="3.1"/>
<circle class="c24" cx="690.5" cy="393.2" r="3.1"/>
<circle class="c26" cx="626.3" cy="401.4" r="3.1"/>
<circle class="c26" cx="630.5" cy="399.3" r="3.1"/>
<circle class="c25" cx="642.3" cy="399.1" r="3.1"/>
<circle class="c28" cx="568.9" cy="407.6" r="3.1"/>
<circle class="c24" cx="683.2" cy="393.9" r="3.1"/>
<circle class="c25" cx="663.1" cy="396.7" r="3.1"/>
<circle class="c24" cx="676.1" cy="394.2" r="3.1"/>
<circle class="c27" cx="610.4" cy="404.3" r="3.1"/>
<circle class="c11" cx="709.7" cy="346" r="3.1"/>
<circle class="c27" cx="587.8" cy="405.8" r="3.1"/>
<circle class="c30" cx="523.4" cy="415.2" r="3.1"/>
<circle class="c26" cx="620.9" cy="402.1" r="3.1"/>
<circle class="c28" cx="560.5" cy="409.1" r="3.1"/>
<circle class="c24" cx="708.1" cy="393.6" r="3.1"/>
<circle class="c16" cx="710.4" cy="364.2" r="3.1"/>
<circle class="c27" cx="593.7" cy="406" r="3.1"/>
<circle class="c28" cx="552.8" cy="410.7" r="3.1"/>
<circle class="c25" cx="653" cy="399.2" r="3.1"/>
<circle class="c30" cx="513.9" cy="416.1" r="3.1"/>
<circle class="c11" cx="541.1" cy="343.7" r="3.1"/>
<circle class="c11" cx="553" cy="343.7" r="3.1"/>
<circle class="c32" cx="462.3" cy="424.8" r="3.1"/>
<circle class="c27" cx="581.6" cy="407.5" r="3.1"/>
<circle class="c35" cx="405" cy="434.8" r="3.1"/>
<circle class="c26" cx="636.5" cy="400.6" r="3.1"/>
<circle class="c29" cx="533.9" cy="414.9" r="3.1"/>
<circle class="c10" cx="559.7" cy="342.8" r="3.1"/>
<circle class="c29" cx="543.1" cy="412.6" r="3.1"/>
<circle class="c15" cx="710.9" cy="360.9" r="3.1"/>
<circle class="c34" cx="386.9" cy="431.4" r="3.1"/>
<circle class="c25" cx="647.8" cy="400.4" r="3.1"/>
<circle class="c27" cx="598.8" cy="407.3" r="3.1"/>
<circle class="c24" cx="700.1" cy="393.5" r="3.1"/>
<circle class="c25" cx="665.9" cy="398.2" r="3.1"/>
<circle class="c25" cx="671.7" cy="397.5" r="3.1"/>
<circle class="c32" cx="441.6" cy="426.7" r="3.1"/>
<circle class="c25" cx="658.8" cy="398.5" r="3.1"/>
<circle class="c10" cx="549.6" cy="343.1" r="3.1"/>
<circle class="c24" cx="685.2" cy="395.9" r="3.1"/>
<circle class="c20" cx="711.8" cy="379.3" r="3.1"/>
<circle class="c32" cx="480.6" cy="425.6" r="3.1"/>
<circle class="c26" cx="631.7" cy="402.5" r="3.1"/>
<circle class="c11" cx="709.3" cy="344.8" r="3.1"/>
<circle class="c27" cx="586.8" cy="408.3" r="3.1"/>
<circle class="c26" cx="626" cy="403.8" r="3.1"/>
<circle class="c28" cx="573.6" cy="408.9" r="3.1"/>
<circle class="c24" cx="692.4" cy="394.3" r="3.1"/>
<circle class="c27" cx="615.7" cy="405.3" r="3.1"/>
<circle class="c15" cx="711.3" cy="360" r="3.1"/>
<circle class="c31" cx="492.6" cy="423.3" r="3.1"/>
<circle class="c27" cx="604.5" cy="406" r="3.1"/>
<circle class="c26" cx="620.7" cy="404.8" r="3.1"/>
<circle class="c10" cx="709.8" cy="342.6" r="3.1"/>
<circle class="c28" cx="557.7" cy="412.4" r="3.1"/>
<circle class="c28" cx="566.2" cy="410.4" r="3.1"/>
<circle class="c29" cx="519.7" cy="416.5" r="3.1"/>
<circle class="c27" cx="610.1" cy="406.3" r="3.1"/>
<circle class="c24" cx="677.9" cy="396.1" r="3.1"/>
<circle class="c26" cx="642.7" cy="401.9" r="3.1"/>
<circle class="c30" cx="508.5" cy="420.1" r="3.1"/>
<circle class="c10" cx="556.3" cy="342.5" r="3.1"/>
<circle class="c27" cx="592.2" cy="408.4" r="3.1"/>
<circle class="c25" cx="653.2" cy="400.1" r="3.1"/>
<circle class="c24" cx="711.2" cy="395.2" r="3.1"/>
<circle class="c28" cx="579.5" cy="410.2" r="3.1"/>
<circle class="c19" cx="711.2" cy="376.5" r="3.1"/>
<circle class="c32" cx="454.6" cy="426.9" r="3.1"/>
<circle class="c25" cx="666.2" cy="400.6" r="3.1"/>
<circle class="c10" cx="537.7" cy="344.4" r="3.1"/>
<circle class="c25" cx="660.8" cy="401.6" r="3.1"/>
<circle class="c26" cx="637.1" cy="404.5" r="3.1"/>
<circle class="c10" cx="566.4" cy="343.1" r="3.1"/>
<circle class="c27" cx="598" cy="409.5" r="3.1"/>
<circle class="c14" cx="711" cy="357.2" r="3.1"/>
<circle class="c24" cx="702.9" cy="395.9" r="3.1"/>
<circle class="c29" cx="529.7" cy="416.6" r="3.1"/>
<circle class="c28" cx="549.1" cy="413.8" r="3.1"/>
<circle class="c29" cx="539.3" cy="415.9" r="3.1"/>
<circle class="c26" cx="632.3" cy="405.3" r="3.1"/>
<circle class="c32" cx="473.5" cy="428.6" r="3.1"/>
<circle class="c27" cx="620.1" cy="407.2" r="3.1"/>
<circle class="c13" cx="711" cy="355.4" r="3.1"/>
<circle class="c26" cx="648.8" cy="403.1" r="3.1"/>
<circle class="c23" cx="711.5" cy="393.6" r="3.1"/>
<circle class="c28" cx="571.7" cy="412.7" r="3.1"/>
<circle class="c34" cx="393.6" cy="437.5" r="3.1"/>
<circle class="c24" cx="695.4" cy="396.5" r="3.1"/>
<circle class="c24" cx="680.6" cy="397.6" r="3.1"/>
<circle class="c27" cx="609.1" cy="409.4" r="3.1"/>
<circle class="c28" cx="584.6" cy="411.2" r="3.1"/>
<circle class="c25" cx="673.5" cy="400" r="3.1"/>
<circle class="c10" cx="545.7" cy="344" r="3.1"/>
<circle class="c18" cx="712.2" cy="374.1" r="3.1"/>
<circle class="c26" cx="625.5" cy="406.5" r="3.1"/>
<circle class="c27" cx="603.4" cy="408.7" r="3.1"/>
<circle class="c24" cx="688" cy="397.1" r="3.1"/>
<circle class="c12" cx="711.2" cy="353.3" r="3.1"/>
<circle class="c28" cx="563.3" cy="413.8" r="3.1"/>
<circle class="c26" cx="655.8" cy="403.5" r="3.1"/>
<circle class="c17" cx="712.1" cy="371.9" r="3.1"/>
<circle class="c27" cx="590.7" cy="411.2" r="3.1"/>
<circle class="c26" cx="643.3" cy="405.6" r="3.1"/>
<circle class="c27" cx="614.6" cy="407.9" r="3.1"/>
<circle class="c32" cx="484.2" cy="429" r="3.1"/>
<circle class="c10" cx="531.9" cy="344.7" r="3.1"/>
<circle class="c28" cx="554.9" cy="414.7" r="3.1"/>
<circle class="c24" cx="705.9" cy="397.4" r="3.1"/>
<circle class="c30" cx="513.1" cy="421.3" r="3.1"/>
<circle class="c28" cx="577.4" cy="413.4" r="3.1"/>
<circle class="c16" cx="711.2" cy="369" r="3.1"/>
<circle class="c22" cx="711.3" cy="390.3" r="3.1"/>
<circle class="c25" cx="662.1" cy="404.3" r="3.1"/>
<circle class="c27" cx="597.2" cy="411.7" r="3.1"/>
<circle class="c29" cx="535.6" cy="417.4" r="3.1"/>
<circle class="c25" cx="668.8" cy="403.1" r="3.1"/>
<circle class="c29" cx="385.2" cy="416.9" r="3.1"/>
<circle class="c26" cx="637.8" cy="407" r="3.1"/>
<circle class="c30" cx="526.5" cy="420" r="3.1"/>
<circle class="c24" cx="682.3" cy="400" r="3.1"/>
<circle class="c31" cx="499.2" cy="427.1" r="3.1"/>
<circle class="c24" cx="689.7" cy="399.3" r="3.1"/>
<circle class="c12" cx="711.1" cy="351.4" r="3.1"/>
<circle class="c27" cx="602.3" cy="411.1" r="3.1"/>
<circle class="c32" cx="445" cy="431.6" r="3.1"/>
<circle class="c25" cx="674.8" cy="401.3" r="3.1"/>
<circle class="c26" cx="650.4" cy="405.6" r="3.1"/>
<circle class="c29" cx="546.7" cy="417" r="3.1"/>
<circle class="c34" cx="387.1" cy="436.9" r="3.1"/>
<circle class="c24" cx="698" cy="398.2" r="3.1"/>
<circle class="c32" cx="467.6" cy="431.4" r="3.1"/>
<circle class="c27" cx="608.6" cy="410.8" r="3.1"/>
<circle class="c27" cx="620.3" cy="410.3" r="3.1"/>
<circle class="c27" cx="626.8" cy="409.8" r="3.1"/>
<circle class="c28" cx="569.4" cy="415.6" r="3.1"/>
<circle class="c11" cx="711.4" cy="349.7" r="3.1"/>
<circle class="c21" cx="711.4" cy="387.7" r="3.1"/>
<circle class="c28" cx="583.3" cy="414.2" r="3.1"/>
<circle class="c26" cx="631.8" cy="408.1" r="3.1"/>
<circle class="c16" cx="711.4" cy="367.7" r="3.1"/>
</g>
<g class="a12">
<circle class="c26" cx="644.2" cy="409.2" r="3.1"/>
<circle class="c11" cx="552.1" cy="349.2" r="3.1"/>
<circle class="c20" cx="711.8" cy="384.9" r="3.1"/>
<circle class="c25" cx="656.7" cy="405.4" r="3.1"/>
<circle class="c25" cx="670.4" cy="404.9" r="3.1"/>
<circle class="c27" cx="614.7" cy="410.9" r="3.1"/>
<circle class="c28" cx="561" cy="417.5" r="3.1"/>
<circle class="c32" cx="478.7" cy="432.2" r="3.1"/>
<circle class="c28" cx="589.7" cy="414.7" r="3.1"/>
<circle class="c15" cx="711.8" cy="365" r="3.1"/>
<circle class="c28" cx="595.6" cy="415.1" r="3.1"/>
<circle class="c32" cx="386.5" cy="432.4" r="3.1"/>
<circle class="c25" cx="664.4" cy="405.8" r="3.1"/>
<circle class="c27" cx="638.5" cy="411.4" r="3.1"/>
<circle class="c29" cx="532" cy="419.9" r="3.1"/>
<circle class="c28" cx="574.9" cy="417" r="3.1"/>
<circle class="c29" cx="551.1" cy="418.6" r="3.1"/>
<circle class="c24" cx="700.4" cy="399.7" r="3.1"/>
<circle class="c25" cx="677.8" cy="403.5" r="3.1"/>
<circle class="c24" cx="692.9" cy="400.8" r="3.1"/>
<circle class="c26" cx="652.1" cy="409.1" r="3.1"/>
<circle class="c14" cx="712.4" cy="363.3" r="3.1"/>
<circle class="c29" cx="542.5" cy="420.2" r="3.1"/>
<circle class="c19" cx="711.8" cy="382" r="3.1"/>
<circle class="c28" cx="581.6" cy="417" r="3.1"/>
<circle class="c27" cx="626.5" cy="413.5" r="3.1"/>
<circle class="c27" cx="601.8" cy="413.7" r="3.1"/>
<circle class="c27" cx="632" cy="412.3" r="3.1"/>
<circle class="c24" cx="685.2" cy="402.1" r="3.1"/>
<circle class="c28" cx="566.3" cy="418.7" r="3.1"/>
<circle class="c30" cx="521.4" cy="423.7" r="3.1"/>
<circle class="c27" cx="608.2" cy="413.8" r="3.1"/>
<circle class="c13" cx="711.8" cy="360.3" r="3.1"/>
<circle class="c10" cx="557.9" cy="348.3" r="3.1"/>
<circle class="c31" cx="386.6" cy="428.4" r="3.1"/>
<circle class="c27" cx="614.2" cy="414" r="3.1"/>
<circle class="c18" cx="712.4" cy="380.5" r="3.1"/>
<circle class="c27" cx="620.2" cy="413.3" r="3.1"/>
<circle class="c10" cx="544.7" cy="349.9" r="3.1"/>
<circle class="c26" cx="658" cy="409.2" r="3.1"/>
<circle class="c35" cx="409.8" cy="443.8" r="3.1"/>
<circle class="c32" cx="460.2" cy="433.9" r="3.1"/>
<circle class="c28" cx="588.1" cy="418.2" r="3.1"/>
<circle class="c32" cx="505" cy="431.2" r="3.1"/>
<circle class="c29" cx="558.3" cy="420.4" r="3.1"/>
<circle class="c23" cx="711.3" cy="399.7" r="3.1"/>
<circle class="c26" cx="645.7" cy="412" r="3.1"/>
<circle class="c32" cx="491.5" cy="433.6" r="3.1"/>
<circle class="c25" cx="665.3" cy="408.2" r="3.1"/>
<circle class="c34" cx="429.5" cy="441.3" r="3.1"/>
<circle class="c13" cx="712.2" cy="358.9" r="3.1"/>
<circle class="c24" cx="702.9" cy="401.7" r="3.1"/>
<circle class="c29" cx="548.8" cy="421.2" r="3.1"/>
<circle class="c17" cx="711.9" cy="377.6" r="3.1"/>
<circle class="c25" cx="672.4" cy="406.6" r="3.1"/>
<circle class="c29" cx="539.4" cy="421.6" r="3.1"/>
<circle class="c25" cx="679.8" cy="405.9" r="3.1"/>
<circle class="c24" cx="695.8" cy="403.4" r="3.1"/>
<circle class="c32" cx="472.6" cy="434.2" r="3.1"/>
<circle class="c22" cx="711.7" cy="397" r="3.1"/>
<circle class="c10" cx="562.8" cy="351.1" r="3.1"/>
<circle class="c29" cx="386.4" cy="422.7" r="3.1"/>
<circle class="c24" cx="687" cy="404.2" r="3.1"/>
<circle class="c28" cx="595.1" cy="417.2" r="3.1"/>
<circle class="c28" cx="601" cy="417.1" r="3.1"/>
<circle class="c12" cx="712" cy="356.3" r="3.1"/>
<circle class="c28" cx="572.8" cy="420.6" r="3.1"/>
<circle class="c27" cx="638.9" cy="414.8" r="3.1"/>
<circle class="c26" cx="652" cy="412.4" r="3.1"/>
<circle class="c30" cx="528.3" cy="425" r="3.1"/>
<circle class="c17" cx="712.1" cy="375.5" r="3.1"/>
<circle class="c27" cx="607.3" cy="417.1" r="3.1"/>
<circle class="c27" cx="633" cy="415.9" r="3.1"/>
<circle class="c16" cx="711.6" cy="372.2" r="3.1"/>
<circle class="c29" cx="564" cy="423.3" r="3.1"/>
<circle class="c28" cx="579.8" cy="420.9" r="3.1"/>
<circle class="c26" cx="658.7" cy="411.7" r="3.1"/>
<circle class="c27" cx="613.8" cy="417.2" r="3.1"/>
<circle class="c27" cx="626.8" cy="416.9" r="3.1"/>
<circle class="c27" cx="647.2" cy="415" r="3.1"/>
<circle class="c27" cx="620.2" cy="416.9" r="3.1"/>
<circle class="c29" cx="555" cy="423.7" r="3.1"/>
<circle class="c26" cx="666.3" cy="410.8" r="3.1"/>
<circle class="c21" cx="711.7" cy="394.5" r="3.1"/>
<circle class="c23" cx="706.2" cy="402.8" r="3.1"/>
<circle class="c32" cx="485.9" cy="435.8" r="3.1"/>
<circle class="c29" cx="546.5" cy="424.8" r="3.1"/>
<circle class="c28" cx="586.1" cy="420.9" r="3.1"/>
<circle class="c27" cx="386.1" cy="417.9" r="3.1"/>
<circle class="c32" cx="497.1" cy="436.8" r="3.1"/>
<circle class="c28" cx="592.9" cy="420.3" r="3.1"/>
<circle class="c33" cx="451.3" cy="438.5" r="3.1"/>
<circle class="c15" cx="710.9" cy="371.1" r="3.1"/>
<circle class="c35" cx="398.4" cy="448.6" r="3.1"/>
<circle class="c25" cx="674" cy="409.7" r="3.1"/>
<circle class="c21" cx="711.5" cy="391.8" r="3.1"/>
<circle class="c24" cx="697.2" cy="404.7" r="3.1"/>
<circle class="c25" cx="681.7" cy="408.1" r="3.1"/>
<circle class="c32" cx="510" cy="435.1" r="3.1"/>
<circle class="c32" cx="467.6" cy="435.6" r="3.1"/>
<circle class="c24" cx="689.5" cy="406.5" r="3.1"/>
<circle class="c29" cx="570.3" cy="424" r="3.1"/>
<circle class="c26" cx="654" cy="415.3" r="3.1"/>
<circle class="c27" cx="640.1" cy="418.6" r="3.1"/>
<circle class="c28" cx="599.3" cy="420.2" r="3.1"/>
<circle class="c29" cx="535.7" cy="425.7" r="3.1"/>
<circle class="c28" cx="613" cy="420.4" r="3.1"/>
<circle class="c28" cx="606.9" cy="420.4" r="3.1"/>
<circle class="c14" cx="712.5" cy="368.5" r="3.1"/>
<circle class="c19" cx="711.1" cy="389" r="3.1"/>
<circle class="c14" cx="711.5" cy="366.7" r="3.1"/>
<circle class="c35" cx="414.8" cy="448.8" r="3.1"/>
<circle class="c28" cx="634.1" cy="420.3" r="3.1"/>
<circle class="c26" cx="661.1" cy="414.4" r="3.1"/>
<circle class="c28" cx="626.7" cy="421" r="3.1"/>
<circle class="c29" cx="560.9" cy="425.6" r="3.1"/>
</g>
<g class="a13">
<circle class="c27" cx="647.3" cy="418" r="3.1"/>
<circle class="c32" cx="481" cy="437.9" r="3.1"/>
<circle class="c29" cx="578.1" cy="424.8" r="3.1"/>
<circle class="c19" cx="711.3" cy="386.3" r="3.1"/>
<circle class="c28" cx="619.7" cy="421.8" r="3.1"/>
<circle class="c29" cx="552.5" cy="426.5" r="3.1"/>
<circle class="c26" cx="668.7" cy="413.4" r="3.1"/>
<circle class="c24" cx="700.3" cy="406.6" r="3.1"/>
<circle class="c11" cx="560.9" cy="356.6" r="3.1"/>
<circle class="c24" cx="709.6" cy="405.8" r="3.1"/>
<circle class="c32" cx="491.6" cy="440.3" r="3.1"/>
<circle class="c28" cx="585" cy="424.1" r="3.1"/>
<circle class="c31" cx="518.7" cy="436" r="3.1"/>
<circle class="c25" cx="684.5" cy="410.3" r="3.1"/>
<circle class="c35" cx="390.7" cy="449.2" r="3.1"/>
<circle class="c24" cx="691.9" cy="408.5" r="3.1"/>
<circle class="c28" cx="591.8" cy="424.4" r="3.1"/>
<circle class="c32" cx="458.6" cy="440.3" r="3.1"/>
<circle class="c13" cx="712.6" cy="363.8" r="3.1"/>
<circle class="c29" cx="542.4" cy="427.4" r="3.1"/>
<circle class="c25" cx="676.9" cy="412.8" r="3.1"/>
<circle class="c27" cx="655.2" cy="418" r="3.1"/>
<circle class="c18" cx="711.5" cy="383.5" r="3.1"/>
<circle class="c29" cx="568.5" cy="427.4" r="3.1"/>
<circle class="c27" cx="641.3" cy="421.2" r="3.1"/>
<circle class="c28" cx="599" cy="423" r="3.1"/>
<circle class="c17" cx="712.6" cy="381.6" r="3.1"/>
<circle class="c23" cx="710.1" cy="404.4" r="3.1"/>
<circle class="c28" cx="634.6" cy="423.3" r="3.1"/>
<circle class="c26" cx="662.6" cy="418" r="3.1"/>
<circle class="c33" cx="503.7" cy="442.3" r="3.1"/>
<circle class="c35" cx="434.4" cy="450.2" r="3.1"/>
<circle class="c28" cx="606.1" cy="424.4" r="3.1"/>
<circle class="c29" cx="574.5" cy="428.6" r="3.1"/>
<circle class="c32" cx="476.6" cy="439.5" r="3.1"/>
<circle class="c29" cx="557.8" cy="429.6" r="3.1"/>
<circle class="c26" cx="671.4" cy="416.1" r="3.1"/>
<circle class="c33" cx="389.5" cy="444.2" r="3.1"/>
<circle class="c35" cx="403.1" cy="452.7" r="3.1"/>
<circle class="c24" cx="703.2" cy="409.1" r="3.1"/>
<circle class="c28" cx="627.7" cy="424.6" r="3.1"/>
<circle class="c28" cx="612.7" cy="424.2" r="3.1"/>
<circle class="c28" cx="620" cy="425.4" r="3.1"/>
<circle class="c30" cx="528.7" cy="434.9" r="3.1"/>
<circle class="c22" cx="710.2" cy="401.4" r="3.1"/>
<circle class="c24" cx="695.1" cy="410.7" r="3.1"/>
<circle class="c29" cx="548.8" cy="430.9" r="3.1"/>
<circle class="c25" cx="679" cy="414.9" r="3.1"/>
<circle class="c25" cx="686.9" cy="413.1" r="3.1"/>
<circle class="c31" cx="390.6" cy="438.5" r="3.1"/>
<circle class="c29" cx="583.5" cy="427.9" r="3.1"/>
<circle class="c16" cx="711.1" cy="379" r="3.1"/>
<circle class="c27" cx="649" cy="421.8" r="3.1"/>
<circle class="c15" cx="712" cy="376.9" r="3.1"/>
<circle class="c21" cx="711.9" cy="398.9" r="3.1"/>
<circle class="c32" cx="487" cy="441.5" r="3.1"/>
<circle class="c28" cx="641.7" cy="424.4" r="3.1"/>
<circle class="c27" cx="656.1" cy="421.5" r="3.1"/>
<circle class="c30" cx="536.4" cy="435.3" r="3.1"/>
<circle class="c28" cx="590.4" cy="427.8" r="3.1"/>
<circle class="c29" cx="565.5" cy="431.5" r="3.1"/>
<circle class="c14" cx="711.5" cy="374.6" r="3.1"/>
<circle class="c20" cx="710.1" cy="396" r="3.1"/>
<circle class="c28" cx="597.4" cy="427.8" r="3.1"/>
<circle class="c28" cx="634.6" cy="427.1" r="3.1"/>
<circle class="c33" cx="509.9" cy="444.8" r="3.1"/>
<circle class="c26" cx="664.8" cy="420.3" r="3.1"/>
<circle class="c28" cx="605" cy="428.8" r="3.1"/>
<circle class="c33" cx="498.4" cy="445.7" r="3.1"/>
<circle class="c30" cx="390" cy="434" r="3.1"/>
<circle class="c32" cx="469.9" cy="442.2" r="3.1"/>
<circle class="c28" cx="627.9" cy="428.2" r="3.1"/>
<circle class="c27" cx="650" cy="424.2" r="3.1"/>
<circle class="c29" cx="556.1" cy="433.4" r="3.1"/>
<circle class="c29" cx="573.3" cy="431.8" r="3.1"/>
<circle class="c25" cx="680.6" cy="417.7" r="3.1"/>
<circle class="c26" cx="672.7" cy="419.5" r="3.1"/>
<circle class="c24" cx="697.5" cy="413.8" r="3.1"/>
<circle class="c13" cx="711.4" cy="371.6" r="3.1"/>
<circle class="c19" cx="711" cy="392.5" r="3.1"/>
<circle class="c24" cx="706.5" cy="411.6" r="3.1"/>
<circle class="c28" cx="612.3" cy="428.6" r="3.1"/>
<circle class="c28" cx="619.4" cy="429.4" r="3.1"/>
<circle class="c29" cx="582.1" cy="432.4" r="3.1"/>
<circle class="c25" cx="689.7" cy="416.4" r="3.1"/>
<circle class="c32" cx="482.1" cy="443.3" r="3.1"/>
<circle class="c35" cx="393.7" cy="456.1" r="3.1"/>
<circle class="c30" cx="544.9" cy="436.7" r="3.1"/>
<circle class="c35" cx="420.8" cy="457.8" r="3.1"/>
<circle class="c27" cx="658.6" cy="424.8" r="3.1"/>
<circle class="c28" cx="642.6" cy="428.6" r="3.1"/>
</g>
<g class="a14">
<circle class="c29" cx="588.4" cy="432.2" r="3.1"/>
<circle class="c29" cx="562.7" cy="434.3" r="3.1"/>
<circle class="c28" cx="635.5" cy="430.2" r="3.1"/>
<circle class="c23" cx="708.4" cy="411.6" r="3.1"/>
<circle class="c34" cx="393.5" cy="451.4" r="3.1"/>
<circle class="c26" cx="666.7" cy="424" r="3.1"/>
<circle class="c17" cx="710.7" cy="387.8" r="3.1"/>
<circle class="c32" cx="518.8" cy="446.6" r="3.1"/>
<circle class="c29" cx="596.6" cy="432.9" r="3.1"/>
<circle class="c28" cx="627.5" cy="432.1" r="3.1"/>
<circle class="c29" cx="570.4" cy="435.2" r="3.1"/>
<circle class="c33" cx="504.3" cy="449.8" r="3.1"/>
<circle class="c22" cx="708.7" cy="408.7" r="3.1"/>
<circle class="c26" cx="675.3" cy="422.7" r="3.1"/>
<circle class="c29" cx="619.4" cy="432.8" r="3.1"/>
<circle class="c29" cx="603.8" cy="434.1" r="3.1"/>
<circle class="c32" cx="493.2" cy="446.9" r="3.1"/>
<circle class="c28" cx="651.3" cy="429.1" r="3.1"/>
<circle class="c29" cx="612.3" cy="433.6" r="3.1"/>
<circle class="c25" cx="691.8" cy="418" r="3.1"/>
<circle class="c30" cx="552.6" cy="438.7" r="3.1"/>
<circle class="c16" cx="710.8" cy="385.6" r="3.1"/>
<circle class="c25" cx="683" cy="421" r="3.1"/>
<circle class="c32" cx="392.8" cy="445.4" r="3.1"/>
<circle class="c24" cx="700.7" cy="416.8" r="3.1"/>
<circle class="c32" cx="475.5" cy="446.3" r="3.1"/>
<circle class="c29" cx="578.8" cy="436.5" r="3.1"/>
<circle class="c32" cx="461.1" cy="447.2" r="3.1"/>
<circle class="c21" cx="708.5" cy="405.1" r="3.1"/>
<circle class="c10" cx="560.3" cy="362.4" r="3.1"/>
<circle class="c28" cx="643.6" cy="431.6" r="3.1"/>
<circle class="c15" cx="710.1" cy="383.1" r="3.1"/>
<circle class="c27" cx="660.4" cy="429.2" r="3.1"/>
<circle class="c10" cx="556.3" cy="364.5" r="3.1"/>
<circle class="c32" cx="527.1" cy="447.8" r="3.1"/>
<circle class="c14" cx="710.9" cy="379.9" r="3.1"/>
<circle class="c29" cx="587.3" cy="437.2" r="3.1"/>
<circle class="c30" cx="560.6" cy="438.7" r="3.1"/>
<circle class="c36" cx="409.2" cy="463" r="3.1"/>
<circle class="c30" cx="392.8" cy="440.2" r="3.1"/>
<circle class="c35" cx="428.4" cy="460.3" r="3.1"/>
<circle class="c28" cx="635.2" cy="432.8" r="3.1"/>
<circle class="c27" cx="668.6" cy="428.1" r="3.1"/>
<circle class="c33" cx="499.6" cy="451.3" r="3.1"/>
<circle class="c20" cx="708.3" cy="403.2" r="3.1"/>
<circle class="c26" cx="677.3" cy="424.9" r="3.1"/>
<circle class="c32" cx="488.3" cy="449.6" r="3.1"/>
<circle class="c28" cx="627.4" cy="434.7" r="3.1"/>
<circle class="c33" cx="514" cy="452.3" r="3.1"/>
<circle class="c19" cx="708.4" cy="399.9" r="3.1"/>
<circle class="c25" cx="695.8" cy="422.1" r="3.1"/>
<circle class="c29" cx="594.9" cy="438" r="3.1"/>
<circle class="c25" cx="685.6" cy="424" r="3.1"/>
<circle class="c29" cx="619.6" cy="436.4" r="3.1"/>
<circle class="c30" cx="568.3" cy="440.6" r="3.1"/>
<circle class="c28" cx="652.4" cy="433.8" r="3.1"/>
<circle class="c29" cx="611.7" cy="437.2" r="3.1"/>
<circle class="c29" cx="603.4" cy="437.8" r="3.1"/>
<circle class="c28" cx="392.1" cy="436.5" r="3.1"/>
<circle class="c25" cx="705.7" cy="421.4" r="3.1"/>
<circle class="c32" cx="536.7" cy="448.6" r="3.1"/>
<circle class="c18" cx="709.1" cy="397.3" r="3.1"/>
<circle class="c32" cx="467.6" cy="451.2" r="3.1"/>
<circle class="c28" cx="644.8" cy="435.3" r="3.1"/>
<circle class="c27" cx="661.7" cy="433.5" r="3.1"/>
<circle class="c28" cx="636.1" cy="436.6" r="3.1"/>
<circle class="c24" cx="706.3" cy="419.1" r="3.1"/>
<circle class="c33" cx="522.1" cy="454.1" r="3.1"/>
<circle class="c33" cx="447.9" cy="457" r="3.1"/>
<circle class="c28" cx="628" cy="437.4" r="3.1"/>
<circle class="c17" cx="708.9" cy="394.1" r="3.1"/>
<circle class="c33" cx="482.4" cy="455" r="3.1"/>
<circle class="c31" cx="546" cy="448.4" r="3.1"/>
</g>
<g class="a15">
<circle class="c25" cx="688.1" cy="426.8" r="3.1"/>
<circle class="c27" cx="671.3" cy="431.9" r="3.1"/>
<circle class="c30" cx="585" cy="442.9" r="3.1"/>
<circle class="c17" cx="708.9" cy="392.5" r="3.1"/>
<circle class="c26" cx="679.4" cy="429.1" r="3.1"/>
<circle class="c36" cx="400.1" cy="466.1" r="3.1"/>
<circle class="c30" cx="556.1" cy="446.2" r="3.1"/>
<circle class="c33" cx="509" cy="455.5" r="3.1"/>
<circle class="c22" cx="706" cy="415.6" r="3.1"/>
<circle class="c28" cx="619.7" cy="438.8" r="3.1"/>
<circle class="c30" cx="593.2" cy="444.5" r="3.1"/>
<circle class="c29" cx="602.1" cy="442.6" r="3.1"/>
<circle class="c21" cx="706.4" cy="412.5" r="3.1"/>
<circle class="c25" cx="698.6" cy="425.3" r="3.1"/>
<circle class="c29" cx="611.1" cy="441.1" r="3.1"/>
<circle class="c28" cx="653.5" cy="438.3" r="3.1"/>
<circle class="c34" cx="399.4" cy="461.1" r="3.1"/>
<circle class="c16" cx="709" cy="389.9" r="3.1"/>
<circle class="c36" cx="414.7" cy="469.3" r="3.1"/>
<circle class="c30" cx="565.3" cy="447.1" r="3.1"/>
<circle class="c33" cx="531.2" cy="456.9" r="3.1"/>
<circle class="c28" cx="645.5" cy="440.9" r="3.1"/>
<circle class="c20" cx="706.4" cy="409.8" r="3.1"/>
<circle class="c28" cx="636.9" cy="440.9" r="3.1"/>
<circle class="c28" cx="663.5" cy="438.7" r="3.1"/>
<circle class="c33" cx="516.9" cy="457.5" r="3.1"/>
<circle class="c32" cx="399.3" cy="456.5" r="3.1"/>
<circle class="c27" cx="673" cy="436" r="3.1"/>
<circle class="c28" cx="628.7" cy="441.2" r="3.1"/>
<circle class="c33" cx="456.6" cy="458.8" r="3.1"/>
<circle class="c30" cx="573.9" cy="448.3" r="3.1"/>
<circle class="c25" cx="691.5" cy="429.7" r="3.1"/>
<circle class="c26" cx="682.1" cy="432.8" r="3.1"/>
<circle class="c19" cx="705.7" cy="406.4" r="3.1"/>
<circle class="c29" cx="611.1" cy="444.2" r="3.1"/>
<circle class="c33" cx="473.2" cy="460.2" r="3.1"/>
<circle class="c28" cx="619.9" cy="442.1" r="3.1"/>
<circle class="c32" cx="541.2" cy="456.7" r="3.1"/>
<circle class="c30" cx="582.9" cy="449.9" r="3.1"/>
<circle class="c18" cx="705.9" cy="403.6" r="3.1"/>
<circle class="c25" cx="702.2" cy="430.2" r="3.1"/>
<circle class="c33" cx="503.1" cy="459.7" r="3.1"/>
<circle class="c33" cx="487.6" cy="460.6" r="3.1"/>
<circle class="c11" cx="553.6" cy="374.3" r="3.1"/>
<circle class="c30" cx="398.8" cy="450.9" r="3.1"/>
<circle class="c30" cx="601" cy="447.4" r="3.1"/>
<circle class="c30" cx="592" cy="449.4" r="3.1"/>
<circle class="c29" cx="655.8" cy="444.5" r="3.1"/>
<circle class="c31" cx="551.2" cy="455.2" r="3.1"/>
<circle class="c24" cx="701.9" cy="425.6" r="3.1"/>
<circle class="c36" cx="406.2" cy="472.6" r="3.1"/>
<circle class="c17" cx="706.6" cy="400.5" r="3.1"/>
<circle class="c29" cx="398.4" cy="445.2" r="3.1"/>
<circle class="c35" cx="431.2" cy="470.1" r="3.1"/>
<circle class="c23" cx="702.2" cy="423.5" r="3.1"/>
<circle class="c28" cx="666" cy="443.1" r="3.1"/>
<circle class="c29" cx="647.6" cy="445.8" r="3.1"/>
<circle class="c32" cx="526.7" cy="460.4" r="3.1"/>
<circle class="c16" cx="706.2" cy="398.1" r="3.1"/>
<circle class="c28" cx="628.7" cy="444.7" r="3.1"/>
<circle class="c34" cx="404.4" cy="467.6" r="3.1"/>
<circle class="c29" cx="637.8" cy="446.1" r="3.1"/>
<circle class="c26" cx="684" cy="436" r="3.1"/>
</g>
<g class="a16">
<circle class="c28" cx="619.3" cy="445.3" r="3.1"/>
<circle class="c25" cx="695.3" cy="434.1" r="3.1"/>
<circle class="c22" cx="702.1" cy="419.5" r="3.1"/>
<circle class="c29" cx="610.2" cy="447.1" r="3.1"/>
<circle class="c31" cx="570.1" cy="457.1" r="3.1"/>
<circle class="c33" cx="511.9" cy="463.2" r="3.1"/>
<circle class="c32" cx="536.5" cy="461.7" r="3.1"/>
<circle class="c29" cx="599.8" cy="450.5" r="3.1"/>
<circle class="c33" cx="464.9" cy="466.2" r="3.1"/>
<circle class="c32" cx="404.4" cy="462.5" r="3.1"/>
<circle class="c21" cx="702.1" cy="416.7" r="3.1"/>
<circle class="c34" cx="443.3" cy="469" r="3.1"/>
<circle class="c33" cx="479.6" cy="466.3" r="3.1"/>
<circle class="c33" cx="496.7" cy="466.3" r="3.1"/>
<circle class="c30" cx="590.3" cy="454.4" r="3.1"/>
<circle class="c31" cx="579.7" cy="457.1" r="3.1"/>
<circle class="c32" cx="547.7" cy="461.4" r="3.1"/>
<circle class="c29" cx="657.5" cy="449.2" r="3.1"/>
<circle class="c31" cx="404.4" cy="457.9" r="3.1"/>
<circle class="c19" cx="701.9" cy="413.1" r="3.1"/>
<circle class="c28" cx="668.2" cy="447.8" r="3.1"/>
<circle class="c29" cx="648.3" cy="451.3" r="3.1"/>
<circle class="c33" cx="521.3" cy="466.3" r="3.1"/>
<circle class="c29" cx="629.1" cy="449.5" r="3.1"/>
<circle class="c28" cx="619.8" cy="448.9" r="3.1"/>
<circle class="c27" cx="677.7" cy="445" r="3.1"/>
<circle class="c29" cx="638.4" cy="451.1" r="3.1"/>
<circle class="c32" cx="557.1" cy="463.1" r="3.1"/>
<circle class="c25" cx="697.6" cy="436.8" r="3.1"/>
<circle class="c19" cx="702.8" cy="411" r="3.1"/>
<circle class="c29" cx="610" cy="451.4" r="3.1"/>
<circle class="c26" cx="688.1" cy="441.1" r="3.1"/>
<circle class="c29" cx="404" cy="452.7" r="3.1"/>
<circle class="c30" cx="599.8" cy="455" r="3.1"/>
<circle class="c33" cx="532.5" cy="466.5" r="3.1"/>
<circle class="c24" cx="697.7" cy="433.8" r="3.1"/>
<circle class="c17" cx="702.9" cy="407.6" r="3.1"/>
<circle class="c31" cx="589.1" cy="459.8" r="3.1"/>
<circle class="c34" cx="503.6" cy="473.1" r="3.1"/>
<circle class="c36" cx="413.9" cy="482.1" r="3.1"/>
<circle class="c23" cx="697.3" cy="429.8" r="3.1"/>
<circle class="c33" cx="472.9" cy="470.9" r="3.1"/>
<circle class="c31" cx="577.7" cy="462.8" r="3.1"/>
<circle class="c34" cx="489.2" cy="472.5" r="3.1"/>
<circle class="c32" cx="543.8" cy="465.8" r="3.1"/>
<circle class="c29" cx="659" cy="454.1" r="3.1"/>
</g>
<g class="a17">
<circle class="c29" cx="650" cy="455.3" r="3.1"/>
<circle class="c22" cx="698.1" cy="426.6" r="3.1"/>
<circle class="c35" cx="413.5" cy="477" r="3.1"/>
<circle class="c28" cx="669.6" cy="452.8" r="3.1"/>
<circle class="c21" cx="697.5" cy="422.7" r="3.1"/>
<circle class="c34" cx="452" cy="477.1" r="3.1"/>
<circle class="c29" cx="639.3" cy="457.4" r="3.1"/>
<circle class="c32" cx="554.9" cy="466.9" r="3.1"/>
<circle class="c29" cx="619.3" cy="455.6" r="3.1"/>
<circle class="c29" cx="628.8" cy="456.6" r="3.1"/>
<circle class="c29" cx="608.8" cy="457.8" r="3.1"/>
<circle class="c27" cx="691.8" cy="446.9" r="3.1"/>
<circle class="c28" cx="681.1" cy="451.2" r="3.1"/>
<circle class="c30" cx="598.1" cy="460.4" r="3.1"/>
<circle class="c20" cx="697.8" cy="420.1" r="3.1"/>
<circle class="c25" cx="691" cy="443.4" r="3.1"/>
<circle class="c32" cx="565.3" cy="467.7" r="3.1"/>
<circle class="c31" cx="587.3" cy="465.4" r="3.1"/>
<circle class="c34" cx="512.3" cy="479.6" r="3.1"/>
<circle class="c29" cx="660.6" cy="457.5" r="3.1"/>
<circle class="c18" cx="698.4" cy="416.3" r="3.1"/>
<circle class="c31" cx="576" cy="468.1" r="3.1"/>
<circle class="c34" cx="483.1" cy="477" r="3.1"/>
<circle class="c34" cx="464.2" cy="478.4" r="3.1"/>
<circle class="c29" cx="651.4" cy="460.4" r="3.1"/>
<circle class="c32" cx="540.1" cy="472.3" r="3.1"/>
<circle class="c34" cx="496.7" cy="480" r="3.1"/>
<circle class="c34" cx="524.6" cy="477.2" r="3.1"/>
<circle class="c24" cx="691.6" cy="440.5" r="3.1"/>
<circle class="c29" cx="413" cy="461.5" r="3.1"/>
<circle class="c32" cx="550.8" cy="471.8" r="3.1"/>
<circle class="c29" cx="672.5" cy="458.9" r="3.1"/>
<circle class="c23" cx="691.3" cy="436.6" r="3.1"/>
<circle class="c35" cx="420.3" cy="483.5" r="3.1"/>
<circle class="c28" cx="685.2" cy="457.6" r="3.1"/>
<circle class="c30" cx="628.9" cy="464.7" r="3.1"/>
<circle class="c32" cx="562.8" cy="471.8" r="3.1"/>
<circle class="c30" cx="618.8" cy="464.5" r="3.1"/>
<circle class="c30" cx="596.2" cy="466.8" r="3.1"/>
<circle class="c30" cx="607.9" cy="465.6" r="3.1"/>
<circle class="c22" cx="692" cy="433.3" r="3.1"/>
</g>
<g class="a18">
<circle class="c31" cx="574" cy="471.5" r="3.1"/>
<circle class="c31" cx="585.4" cy="469.5" r="3.1"/>
<circle class="c29" cx="663.1" cy="462.4" r="3.1"/>
<circle class="c27" cx="684.4" cy="453.6" r="3.1"/>
<circle class="c34" cx="476.2" cy="482.4" r="3.1"/>
<circle class="c35" cx="505.3" cy="487.7" r="3.1"/>
<circle class="c34" cx="490.4" cy="485" r="3.1"/>
<circle class="c19" cx="692.3" cy="426.3" r="3.1"/>
<circle class="c26" cx="685" cy="450.9" r="3.1"/>
<circle class="c29" cx="651.9" cy="466.5" r="3.1"/>
<circle class="c29" cx="675.2" cy="465.5" r="3.1"/>
<circle class="c32" cx="560.5" cy="475.6" r="3.1"/>
<circle class="c24" cx="684.6" cy="447.1" r="3.1"/>
<circle class="c30" cx="640.3" cy="469.2" r="3.1"/>
<circle class="c32" cx="546.5" cy="479.1" r="3.1"/>
<circle class="c35" cx="516.8" cy="489.5" r="3.1"/>
<circle class="c23" cx="684" cy="443.2" r="3.1"/>
<circle class="c30" cx="630.1" cy="471.4" r="3.1"/>
<circle class="c31" cx="584.5" cy="473.5" r="3.1"/>
<circle class="c35" cx="431.6" cy="490.6" r="3.1"/>
<circle class="c31" cx="595.2" cy="474.4" r="3.1"/>
<circle class="c34" cx="531.6" cy="487.3" r="3.1"/>
<circle class="c30" cx="619" cy="473.8" r="3.1"/>
<circle class="c22" cx="684.2" cy="439.8" r="3.1"/>
<circle class="c28" cx="676.4" cy="464.2" r="3.1"/>
<circle class="c31" cx="607" cy="474.3" r="3.1"/>
<circle class="c35" cx="500.1" cy="492.8" r="3.1"/>
<circle class="c30" cx="665.5" cy="471.6" r="3.1"/>
</g>
<g class="a19">
<circle class="c27" cx="676.7" cy="460.6" r="3.1"/>
<circle class="c21" cx="684.4" cy="436.1" r="3.1"/>
<circle class="c37" cx="441.7" cy="500.8" r="3.1"/>
<circle class="c25" cx="675.8" cy="456.4" r="3.1"/>
<circle class="c31" cx="569.6" cy="480.2" r="3.1"/>
<circle class="c30" cx="654.8" cy="477.3" r="3.1"/>
<circle class="c35" cx="511.2" cy="495" r="3.1"/>
<circle class="c35" cx="442" cy="496" r="3.1"/>
<circle class="c32" cx="556.4" cy="484.2" r="3.1"/>
<circle class="c30" cx="630.1" cy="477.2" r="3.1"/>
<circle class="c31" cx="582.4" cy="478.7" r="3.1"/>
<circle class="c24" cx="675.9" cy="452.4" r="3.1"/>
<circle class="c30" cx="641.9" cy="477.4" r="3.1"/>
<circle class="c29" cx="666.6" cy="474" r="3.1"/>
<circle class="c31" cx="593.8" cy="481.1" r="3.1"/>
<circle class="c31" cx="619.5" cy="479.3" r="3.1"/>
<circle class="c23" cx="675.8" cy="448.8" r="3.1"/>
<circle class="c36" cx="458.5" cy="501.9" r="3.1"/>
<circle class="c35" cx="494" cy="498.4" r="3.1"/>
<circle class="c28" cx="667.1" cy="469.9" r="3.1"/>
<circle class="c22" cx="676.9" cy="445.5" r="3.1"/>
<circle class="c27" cx="667.1" cy="466.1" r="3.1"/>
<circle class="c34" cx="540.1" cy="496.6" r="3.1"/>
</g>
<g class="a20">
<circle class="c25" cx="667.6" cy="462.2" r="3.1"/>
<circle class="c35" cx="454.2" cy="502.1" r="3.1"/>
<circle class="c35" cx="507.3" cy="500.7" r="3.1"/>
<circle class="c31" cx="656.1" cy="484.5" r="3.1"/>
<circle class="c31" cx="618.1" cy="484.5" r="3.1"/>
<circle class="c24" cx="667" cy="458" r="3.1"/>
<circle class="c29" cx="656.2" cy="479.1" r="3.1"/>
<circle class="c36" cx="468.6" cy="508" r="3.1"/>
<circle class="c31" cx="605.7" cy="487.7" r="3.1"/>
<circle class="c32" cx="579.4" cy="490.6" r="3.1"/>
<circle class="c35" cx="520.2" cy="503.2" r="3.1"/>
<circle class="c31" cx="644.1" cy="488.1" r="3.1"/>
<circle class="c23" cx="666.5" cy="454.3" r="3.1"/>
<circle class="c28" cx="656.3" cy="474.4" r="3.1"/>
<circle class="c31" cx="592.9" cy="489" r="3.1"/>
<circle class="c35" cx="466.3" cy="506.9" r="3.1"/>
<circle class="c26" cx="656.2" cy="471.4" r="3.1"/>
<circle class="c33" cx="563.6" cy="498.4" r="3.1"/>
<circle class="c35" cx="533.7" cy="505.2" r="3.1"/>
<circle class="c30" cx="644.7" cy="487.1" r="3.1"/>
<circle class="c25" cx="656.4" cy="467.4" r="3.1"/>
</g>
<g class="a21">
<circle class="c35" cx="499.7" cy="509.3" r="3.1"/>
<circle class="c34" cx="547.8" cy="504.3" r="3.1"/>
<circle class="c29" cx="644.9" cy="483.5" r="3.1"/>
<circle class="c24" cx="656.8" cy="463" r="3.1"/>
<circle class="c30" cx="618.2" cy="491.2" r="3.1"/>
<circle class="c35" cx="481.4" cy="510.6" r="3.1"/>
<circle class="c27" cx="644.2" cy="479" r="3.1"/>
<circle class="c31" cx="631.2" cy="493.8" r="3.1"/>
<circle class="c31" cx="604.6" cy="495.1" r="3.1"/>
<circle class="c35" cx="513.5" cy="512.8" r="3.1"/>
<circle class="c26" cx="645" cy="475.2" r="3.1"/>
<circle class="c30" cx="630.5" cy="491.2" r="3.1"/>
<circle class="c33" cx="480.2" cy="505.5" r="3.1"/>
<circle class="c24" cx="644.8" cy="471.3" r="3.1"/>
<circle class="c35" cx="494.7" cy="513" r="3.1"/>
<circle class="c33" cx="589.5" cy="505" r="3.1"/>
<circle class="c35" cx="528" cy="514.9" r="3.1"/>
<circle class="c28" cx="631.3" cy="487.2" r="3.1"/>
</g>
<g class="a22">
<circle class="c35" cx="542.7" cy="514.8" r="3.1"/>
<circle class="c31" cx="617.5" cy="498.3" r="3.1"/>
<circle class="c27" cx="631.2" cy="482.7" r="3.1"/>
<circle class="c35" cx="509.4" cy="515.4" r="3.1"/>
<circle class="c25" cx="631.7" cy="478.4" r="3.1"/>
<circle class="c29" cx="616.8" cy="493.8" r="3.1"/>
<circle class="c34" cx="572.9" cy="515.3" r="3.1"/>
<circle class="c35" cx="557.3" cy="518.3" r="3.1"/>
<circle class="c32" cx="603.4" cy="504.1" r="3.1"/>
<circle class="c28" cx="617.5" cy="489" r="3.1"/>
<circle class="c30" cx="603" cy="498.9" r="3.1"/>
<circle class="c32" cx="588.1" cy="508" r="3.1"/>
<circle class="c32" cx="509.9" cy="506.6" r="3.1"/>
<circle class="c34" cx="540.7" cy="515.8" r="3.1"/>
<circle class="c33" cx="572.4" cy="512.7" r="3.1"/>
<circle class="c26" cx="617.8" cy="485.1" r="3.1"/>
<circle class="c34" cx="556.4" cy="515" r="3.1"/>
<circle class="c33" cx="524.8" cy="511.4" r="3.1"/>
<circle class="c31" cx="587.5" cy="504.1" r="3.1"/>
<circle class="c29" cx="603.1" cy="495.2" r="3.1"/>
<circle class="c32" cx="541.2" cy="511.1" r="3.1"/>
<circle class="c30" cx="508.9" cy="501.2" r="3.1"/>
</g>
<g class="a23">
<circle class="c31" cx="524.8" cy="506.1" r="3.1"/>
<circle class="c27" cx="603.4" cy="489.6" r="3.1"/>
<circle class="c29" cx="587.7" cy="499.1" r="3.1"/>
<circle class="c31" cx="540.9" cy="506.7" r="3.1"/>
<circle class="c30" cx="525.1" cy="501.8" r="3.1"/>
<circle class="c30" cx="556.4" cy="504.7" r="3.1"/>
<circle class="c27" cx="587.5" cy="494.6" r="3.1"/>
<circle class="c29" cx="540.7" cy="501.2" r="3.1"/>
<circle class="c28" cx="571.9" cy="498.4" r="3.1"/>
</g>
</g>
<rect x="787.5" y="115.5" width="85" height="25" rx="2.8" ry="2.8" fill="#fff" fill-opacity="0.8" stroke="#ccc" stroke-width="1.1"/>
<circle cx="806" cy="127.5" r="3.1" fill="#472c7a" stroke="#472c7a" stroke-width="1.39"/>
<clipPath id="c2"><rect x="286.5" y="669.5" width="132" height="132"/></clipPath>
<path id="blob" clip-path="url(#c2)" d="M286.5 802L286.5 764L286.9 762.5L288.1 757.5L292.5 750L296.3 743.1L298.1 740L302.5 737.5L303.1 733.1L305 730.6L310 729.8L316.3 725.6L323.8 721.3L332.5 718.1L340 716.3L355 715.4L367.5 716.3L376.3 718.8L386.3 723.8L392.5 727.5L396.9 731.3L397.5 735.6L401.3 741.3L405 747.5L410 756.3L411.9 763.8L415.6 768.8L414.4 775L415.6 786.3L413.8 802 Z" fill="#90ee90"/>
<rect x="286.5" y="669.5" width="132" height="132" fill="none" stroke="#000" stroke-width="1.11"/>
<path d="M692.2 801H731.7V777H692.2ZM731.7 801H771.1V782.1H731.7ZM771.1 801H810.6V770H771.1ZM810.6 801H850V675H810.6ZM850 801H889.5V781H850ZM889.5 801H929V797.1H889.5Z" fill="#0000ff"/>
<rect x="676.5" y="669.5" width="404" height="132" fill="none" stroke="#000" stroke-width="1.11"/>
<path d="M294.5 801.5v4.86M286.5 794.5h-4.86M352.5 801.5v4.86M286.5 735.5h-4.86M411.5 801.5v4.86M286.5 676.5h-4.86M676.5 801.5v4.86M733.5 801.5v4.86M791.5 801.5v4.86M849.5 801.5v4.86M907.5 801.5v4.86M964.5 801.5v4.86M1022.5 801.5v4.86M1080.5 801.5v4.86M676.5 801.5h-4.86M676.5 748.5h-4.86M676.5 695.5h-4.86" stroke="#000" stroke-width="1.11" fill="none"/>
<rect x="432.5" y="676.5" width="85" height="46" rx="2.8" ry="2.8" fill="#fff" fill-opacity="0.8" stroke="#ccc" stroke-width="1.1"/>
<circle cx="451.5" cy="689.2" r="4.17" fill="#90ee90" stroke="#90ee90" stroke-width="1.39"/>
<circle cx="451.5" cy="710.4" r="4.17" fill="#0000ff" stroke="#0000ff" stroke-width="1.39"/>
<rect x="977.5" y="676.5" width="96" height="25" rx="2.8" ry="2.8" fill="#fff" fill-opacity="0.8" stroke="#ccc" stroke-width="1.1"/>
<rect x="982.74" y="682.78" width="27.78" height="9.72" fill="#0000ff"/>
<g font-family='"Liberation Sans", sans-serif' fill="#000" opacity="0.999">
<text x="485.1" y="590.2" font-size="13.89" textLength="45.9" lengthAdjust="spacingAndGlyphs" transform="rotate(-342.02 508 586.6)">X (cm)</text>
<text x="399" y="538.7" font-size="13.89" textLength="37.9" lengthAdjust="spacingAndGlyphs">&#8722;400</text>
<text x="450.1" y="555.5" font-size="13.89" textLength="37.9" lengthAdjust="spacingAndGlyphs">&#8722;200</text>
<text x="516.7" y="572.7" font-size="13.89" textLength="8.8" lengthAdjust="spacingAndGlyphs">0</text>
<text x="561" y="590.1" font-size="13.89" textLength="26.2" lengthAdjust="spacingAndGlyphs">200</text>
<text x="615" y="607.9" font-size="13.89" textLength="26.2" lengthAdjust="spacingAndGlyphs">400</text>
<text x="792.5" y="544" font-size="13.89" textLength="44.8" lengthAdjust="spacingAndGlyphs" transform="rotate(-45.62 814.9 540.4)">Y (cm)</text>
<text x="718.2" y="591" font-size="13.89" textLength="37.9" lengthAdjust="spacingAndGlyphs">&#8722;400</text>
<text x="747" y="560.9" font-size="13.89" textLength="37.9" lengthAdjust="spacingAndGlyphs">&#8722;200</text>
<text x="789.5" y="531.8" font-size="13.89" textLength="8.8" lengthAdjust="spacingAndGlyphs">0</text>
<text x="807.8" y="503.7" font-size="13.89" textLength="26.2" lengthAdjust="spacingAndGlyphs">200</text>
<text x="834" y="476.4" font-size="13.89" textLength="26.2" lengthAdjust="spacingAndGlyphs">400</text>
<text x="892.8" y="331.5" font-size="13.89" textLength="46.8" lengthAdjust="spacingAndGlyphs" transform="rotate(-87.29 916.1 327.9)">H (cm)</text>
<text x="885.3" y="249.3" font-size="13.89" textLength="8.8" lengthAdjust="spacingAndGlyphs">0</text>
<text x="875" y="275.7" font-size="13.89" textLength="26.4" lengthAdjust="spacingAndGlyphs">100</text>
<text x="873.7" y="301.8" font-size="13.89" textLength="26.2" lengthAdjust="spacingAndGlyphs">200</text>
<text x="872.4" y="327.7" font-size="13.89" textLength="26.2" lengthAdjust="spacingAndGlyphs">300</text>
<text x="871" y="353.4" font-size="13.89" textLength="26.2" lengthAdjust="spacingAndGlyphs">400</text>
<text x="869.7" y="378.7" font-size="13.89" textLength="26.2" lengthAdjust="spacingAndGlyphs">500</text>
<text x="868.3" y="403.8" font-size="13.89" textLength="26.4" lengthAdjust="spacingAndGlyphs">600</text>
<text x="867" y="428.7" font-size="13.89" textLength="26.2" lengthAdjust="spacingAndGlyphs">700</text>
<text x="476.5" y="98.6" font-size="16.67" textLength="277" lengthAdjust="spacingAndGlyphs">LiDAR Point 3D Coordinate Graph</text>
<text x="831" y="130.4" font-size="13.89" textLength="35.5" lengthAdjust="spacingAndGlyphs">point</text>
<text x="329.2" y="840.9" font-size="13.89" textLength="45.9" lengthAdjust="spacingAndGlyphs">X (cm)</text>
<text x="274.9" y="821.6" font-size="13.89" textLength="37.9" lengthAdjust="spacingAndGlyphs">&#8722;500</text>
<text x="347.9" y="821.6" font-size="13.89" textLength="8.8" lengthAdjust="spacingAndGlyphs">0</text>
<text x="397.6" y="821.6" font-size="13.89" textLength="26.2" lengthAdjust="spacingAndGlyphs">500</text>
<text x="203.6" y="738.6" font-size="13.89" textLength="44.8" lengthAdjust="spacingAndGlyphs" transform="rotate(-90 226 735)">Y (cm)</text>
<text x="238.6" y="798.7" font-size="13.89" textLength="37.9" lengthAdjust="spacingAndGlyphs">&#8722;500</text>
<text x="267.7" y="740.3" font-size="13.89" textLength="8.8" lengthAdjust="spacingAndGlyphs">0</text>
<text x="250.2" y="681.8" font-size="13.89" textLength="26.2" lengthAdjust="spacingAndGlyphs">500</text>
<text x="213.7" y="659.6" font-size="16.67" textLength="277" lengthAdjust="spacingAndGlyphs">LiDAR Point 2D Coordinate Graph</text>
<text x="476.2" y="691.4" font-size="13.89" textLength="35.5" lengthAdjust="spacingAndGlyphs">point</text>
<text x="476.2" y="713.8" font-size="13.89" textLength="27.8" lengthAdjust="spacingAndGlyphs">wall</text>
<text x="671.3" y="821.6" font-size="13.89" textLength="8.8" lengthAdjust="spacingAndGlyphs">0</text>
<text x="720.2" y="821.6" font-size="13.89" textLength="26.4" lengthAdjust="spacingAndGlyphs">100</text>
<text x="778.1" y="821.6" font-size="13.89" textLength="26.2" lengthAdjust="spacingAndGlyphs">200</text>
<text x="835.8" y="821.6" font-size="13.89" textLength="26.2" lengthAdjust="spacingAndGlyphs">300</text>
<text x="893.6" y="821.6" font-size="13.89" textLength="26.2" lengthAdjust="spacingAndGlyphs">400</text>
<text x="951.3" y="821.6" font-size="13.89" textLength="26.2" lengthAdjust="spacingAndGlyphs">500</text>
<text x="1009" y="821.6" font-size="13.89" textLength="26.4" lengthAdjust="spacingAndGlyphs">600</text>
<text x="1066.9" y="821.6" font-size="13.89" textLength="26.2" lengthAdjust="spacingAndGlyphs">700</text>
<text x="657.2" y="806.4" font-size="13.89" textLength="8.8" lengthAdjust="spacingAndGlyphs">0</text>
<text x="630.9" y="753.6" font-size="13.89" textLength="35" lengthAdjust="spacingAndGlyphs">2000</text>
<text x="630.9" y="700.8" font-size="13.89" textLength="35" lengthAdjust="spacingAndGlyphs">4000</text>
<text x="804.6" y="659.6" font-size="16.67" textLength="146.4" lengthAdjust="spacingAndGlyphs">Height Histogram</text>
<text x="1021.6" y="691.4" font-size="13.89" textLength="45.9" lengthAdjust="spacingAndGlyphs">Height</text>
</g>
</svg>
</body></html>
